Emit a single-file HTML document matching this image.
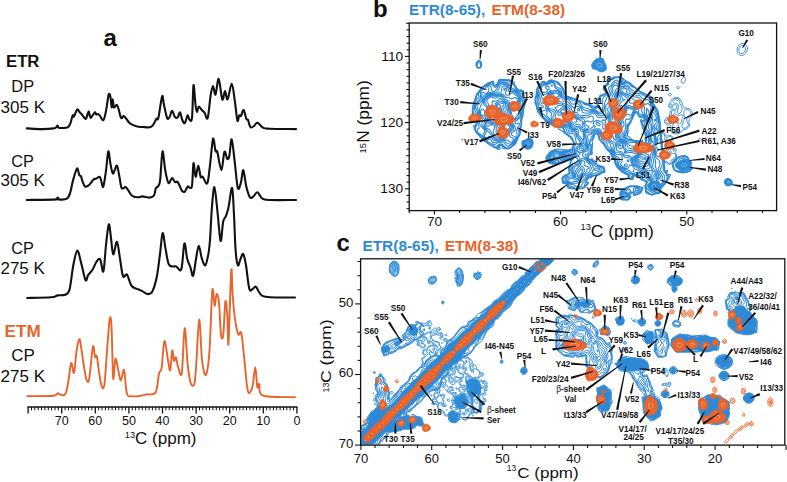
<!DOCTYPE html><html><head><meta charset="utf-8"><style>html,body{margin:0;padding:0;background:#fff;}svg{display:block;}</style></head><body><svg width="787" height="482" viewBox="0 0 787 482" font-family="Liberation Sans, sans-serif"><path d="M26.8,128.4C29.5,128.5 38.3,129.1 42.8,129.1C47.2,129.1 51.3,128.7 53.5,128.4C55.7,128.1 55.3,128 56,127.5C56.7,127 57.1,125.5 57.6,125.5C58.1,125.5 58.1,127.4 58.8,127.8C59.5,128.2 60.5,128.1 62,128C63.5,127.9 66.3,128.1 67.7,127.3C69.1,126.5 69.6,125.4 70.4,123.4C71.2,121.4 72.1,116.6 72.7,115.4C73.3,114.2 73.3,117.5 74,116.5C74.7,115.5 76.2,110.3 77.1,109.5C78,108.7 78.5,111 79.3,111.8C80.1,112.6 80.9,113.3 81.9,114.5C82.9,115.7 84.7,118.7 85.5,118.9C86.3,119.2 86.5,117.3 87,116C87.5,114.7 88.2,111.2 88.7,111.3C89.2,111.4 89.6,115.5 90,116.5C90.4,117.5 90.4,118.2 91.2,117.5C92,116.8 94,112.8 94.8,112.3C95.6,111.8 95.7,114.2 96.2,114.5C96.7,114.8 97.4,113.9 98,114.1C98.6,114.2 98.8,114.4 99.7,115.4C100.6,116.4 102.2,120.9 103.3,120.2C104.3,119.5 105.1,115.2 106,111C106.9,106.8 107.9,97.3 108.6,94.9C109.3,92.5 109.9,94.6 110.4,96.7C110.9,98.8 111.3,107 111.7,107.4C112.1,107.9 112.3,99.4 112.7,99.4C113.1,99.4 113.3,106.5 114,107.4C114.7,108.3 115.9,104.6 116.6,104.7C117.3,104.8 117.7,106.1 118.4,108.3C119.2,110.5 120.2,116.7 121.1,118C122,119.3 122.9,115.8 123.8,115.9C124.7,116.1 125.4,117.7 126.4,118.9C127.4,120.2 128.2,122.1 130,123.4C131.8,124.7 135,126 137.1,126.6C139.2,127.2 140.3,126.9 142.4,127C144.5,127.1 147.8,127.6 149.6,127.3C151.4,127 151.9,126.6 153,125.2C154.1,123.8 155.4,120.2 156.3,118.9C157.2,117.7 157.4,121.5 158.4,117.7C159.4,113.9 161.2,98.4 162.1,96.3C163,94.2 163.2,101.4 164,105C164.8,108.6 166.2,116 167.1,118C168,120 168.8,118.2 169.6,117C170.4,115.8 171.2,110.9 172.1,110.9C173,110.9 174.1,116.2 175.1,117.2C176.1,118.2 177,118 177.8,117.2C178.6,116.4 179.4,111.9 180.1,112.3C180.8,112.7 181.4,118 182.2,119.8C183,121.6 184,123.7 184.9,123C185.8,122.3 186.8,116 187.6,115.4C188.3,114.8 188.7,119.1 189.4,119.5C190.1,119.9 191.3,123.7 192,118C192.7,112.3 192.9,87.2 193.5,85.1C194.1,83 195,101.1 195.6,105.6C196.2,110 196.5,111.6 197,111.8C197.5,112 198,106.8 198.8,106.5C199.6,106.2 200.9,109 201.8,110C202.8,111 203.5,111.4 204.5,112.7C205.5,114 206.7,121 207.7,118C208.7,115 209.8,100.2 210.7,94.9C211.6,89.6 212.2,86 213,86C213.8,86 214.6,95.8 215.5,94.6C216.4,93.4 217.6,78.1 218.7,78.9C219.8,79.7 221.2,97.4 222.3,99.4C223.4,101.4 224.1,91 225,91C225.9,91 226.5,100.6 227.6,99.4C228.7,98.2 230.5,83.8 231.7,83.9C232.9,84 233.8,94.1 234.7,100.2C235.6,106.3 236.7,118.2 237.4,120.7C238.2,123.2 238.6,116.2 239.2,115.4C239.8,114.6 240.3,116.8 241,115.9C241.7,115 242.7,109.5 243.6,110C244.5,110.5 245.6,117.3 246.3,118.9C247,120.5 247.6,119 248,119.8C248.4,120.5 248.6,122.2 249,123.4C249.4,124.7 249.9,126.9 250.7,127.3C251.5,127.7 252.9,126.8 254,126C255.1,125.2 256,122.4 257.5,122.7C259,123 261.1,126.8 263.2,127.8C265.3,128.8 264.5,128.5 270,128.7C275.5,128.9 291.8,129 296.1,129.1" fill="none" stroke="#111" stroke-width="2.1" stroke-linejoin="round" stroke-linecap="round"/>
<path d="M26.8,200C31.7,199.9 51,199.8 56.1,199.4C61.2,199 57,197.6 57.4,197.6C57.8,197.6 56.9,199.2 58.5,199.4C60.1,199.6 64.8,199.9 66.8,198.7C68.8,197.5 69.4,195.1 70.4,192C71.4,188.9 71.9,184.3 73,180.4C74.1,176.5 76,169.4 77,168.5C78,167.6 78.6,173.7 79.3,175C80,176.3 80.4,175.1 81,176.3C81.6,177.5 82.1,180.5 82.8,182.2C83.5,183.9 84.2,186 85.1,186.6C86,187.2 87.2,186.3 88.2,185.7C89.2,185.1 89.9,184 90.8,183C91.7,182 92.6,180.2 93.5,179.5C94.4,178.8 95.2,179 96.2,178.6C97.2,178.2 98.8,176.2 99.7,176.8C100.6,177.4 100.9,180.4 101.5,182C102.1,183.6 102.5,188.5 103.3,186.6C104,184.7 105.2,176.5 106,170.6C106.8,164.7 107.6,152.6 108.3,151.4C109,150.2 109.7,159.8 110.4,163.5C111.1,167.2 112,172.1 112.7,173.3C113.4,174.5 113.8,171.9 114.5,170.6C115.2,169.3 116.2,164.7 117,165.6C117.8,166.5 118.5,172.3 119.3,176C120.1,179.7 120.6,186.2 121.6,188C122.6,189.8 124.4,186.7 125.5,187.1C126.6,187.5 127.1,188.8 128.2,190.2C129.2,191.6 130.3,194.3 131.8,195.5C133.3,196.7 135.3,197.2 137.1,197.3C138.9,197.5 140.3,196.4 142.4,196.4C144.5,196.4 147.7,197.8 149.6,197.6C151.5,197.4 153,197 154,195.5C155,194 155.1,190 155.8,188.4C156.6,186.8 157.8,187.2 158.5,185.7C159.2,184.2 159.5,185.2 160.2,179.5C160.9,173.8 161.7,152.9 162.5,151.4C163.3,149.9 164.3,165.3 165.3,170.6C166.3,175.9 167.4,181.8 168.5,183C169.6,184.2 171,178.2 172.1,178.1C173.2,178 174.2,181.6 175.1,182.2C176,182.8 176.6,181 177.3,181.6C178.1,182.2 178.8,184.1 179.6,185.7C180.4,187.3 181.3,190 182.2,191C183.1,192 184,192.3 184.9,191.6C185.8,190.9 186.8,187.3 187.6,186.6C188.3,185.9 188.7,187.7 189.4,187.5C190.1,187.3 191.3,189.8 192,185.7C192.7,181.6 192.9,164.6 193.5,163.1C194.1,161.6 194.8,176.4 195.6,176.8C196.4,177.2 197.5,165.6 198.3,165.6C199.1,165.6 199.9,174.9 200.6,176.8C201.3,178.7 201.6,175.7 202.7,176.8C203.8,177.9 206,185 207.2,183.4C208.4,181.8 208.8,174.4 209.8,167C210.8,159.6 212.1,141.6 213,138.9C213.9,136.2 214.8,148.8 215.5,151C216.2,153.2 216.3,148.7 217.3,151.9C218.3,155.1 220.2,170.2 221.4,170.2C222.6,170.2 223.4,153.8 224.4,151.9C225.4,150 226.5,158.4 227.3,159C228.1,159.6 228.7,158.8 229.4,155.5C230.1,152.2 230.8,138.4 231.7,139.4C232.6,140.4 233.7,153.6 234.7,161.7C235.7,169.8 236.8,184.6 237.8,188C238.9,191.4 240.1,185.2 241,182.2C241.9,179.2 242.4,169.5 243.3,170.2C244.2,170.9 245.2,182.1 246.3,186.6C247.4,191.1 248.7,195.7 249.9,197.3C251.1,198.9 252.1,197.2 253.4,196.4C254.7,195.6 256,191.9 257.5,192.3C259,192.7 260.2,197.4 262.3,198.7C264.4,200 264.7,199.8 270.3,200C275.9,200.2 291.8,200 296.1,200" fill="none" stroke="#111" stroke-width="2.1" stroke-linejoin="round" stroke-linecap="round"/>
<path d="M27.2,298C31.2,297.9 46,297.7 51.1,297.3C56.2,296.9 55.3,295.8 57.7,295.4C60.1,295 63.3,295.7 65.3,294.7C67.3,293.7 68.3,294.2 69.6,289.3C70.9,284.4 72,271.8 73.3,265.3C74.6,258.8 76,250.9 77.3,250.5C78.6,250.1 79.8,258.2 81.2,263.1C82.6,268 84.3,278.1 85.5,280.1C86.7,282.1 86.9,276.8 88.1,275.1C89.3,273.4 91.1,271.9 92.5,269.7C93.9,267.5 95.1,263.8 96.4,262C97.7,260.2 98.9,257.6 100.1,259.2C101.3,260.8 102.4,273.8 103.4,271.4C104.4,269 105.1,252.8 106,245C106.9,237.2 108,225.6 108.8,224.4C109.6,223.2 110.3,233 111,238C111.7,243 112.2,253.8 113.2,254.4C114.2,255 115.8,241.4 116.9,241.8C118,242.2 118.7,250.9 119.7,256.6C120.7,262.3 121.8,273.2 123,276.2C124.2,279.2 125.5,272.9 126.9,274.5C128.3,276.1 129.8,283.5 131.7,286C133.6,288.5 136.4,288.4 138.2,289.3C140,290.2 141,290.6 142.6,291.4C144.2,292.2 146.4,294.1 148,294.1C149.6,294.1 151,294.2 152.4,291.4C153.8,288.6 155.4,283.5 156.7,277.3C158,271.1 159,261.4 160,254C161,246.6 161.7,234.1 162.6,233.1C163.5,232.1 164.4,242.7 165.4,247.9C166.4,253.1 167.4,261.1 168.7,264.2C170,267.3 171.8,266 173.1,266.4C174.4,266.8 174.9,265.9 176.3,266.4C177.7,266.9 180,273 181.3,269.2C182.7,265.4 183.4,245.2 184.4,243.5C185.4,241.8 186.2,254.8 187.2,258.8C188.2,262.8 189.5,264.7 190.5,267.5C191.5,270.3 192.2,277.2 193.1,275.8C194,274.4 195.1,264 196,259C196.9,254 197.8,245.8 198.8,245.7C199.8,245.6 200.7,255.1 201.8,258.4C202.9,261.7 204.2,266 205.3,265.3C206.4,264.6 207.5,258.6 208.3,254.4C209.1,250.2 209.4,247.6 210,240C210.6,232.4 211.1,217.8 211.8,209C212.5,200.2 213.5,186.6 214.4,187.1C215.3,187.6 216.5,203 217.5,212C218.5,221 219.7,239.3 220.6,240.9C221.5,242.5 222.3,225.6 223.2,221.5C224.1,217.4 225,218.5 225.9,216.2C226.8,213.8 227.5,212.1 228.5,207.4C229.5,202.7 231.2,186.6 232.1,187.9C233,189.2 233.4,204.7 234,215C234.6,225.3 234.9,241.6 235.6,250C236.2,258.4 237.1,263.8 237.9,265.3C238.7,266.8 239.6,260.9 240.5,259C241.4,257.1 242.3,252.9 243.2,254C244.1,255.1 245,259.5 246,265.3C247,271.1 248.2,284.9 249.3,288.8C250.4,292.8 251.4,289.4 252.5,289C253.6,288.6 254.7,286.2 255.8,286.7C256.9,287.2 257.9,290.5 259,292C260.1,293.5 260.5,294.9 262.3,295.8C264.1,296.7 264.6,297 270,297.3C275.4,297.6 290.8,297.5 295,297.5" fill="none" stroke="#111" stroke-width="2.1" stroke-linejoin="round" stroke-linecap="round"/>
<path d="M27.2,396.2C31.5,396.1 48.2,396.3 53.3,395.8C58.4,395.3 56.4,393.4 57.7,393.2C59,393 59.6,394.8 60.9,394.9C62.2,395 64.1,396.1 65.3,394.1C66.5,392.1 67.1,387.9 68.1,382.7C69.1,377.5 70.2,364.7 71.2,363.1C72.2,361.5 73.1,375 74,372.9C74.9,370.8 75.7,356.1 76.6,350.5C77.5,344.9 78.6,339.6 79.4,339.2C80.2,338.8 80.5,343.5 81.2,347.9C81.9,352.2 82.9,360 83.8,365.3C84.7,370.6 85.5,377.2 86.4,379.5C87.3,381.8 88.1,384.2 89.2,378.8C90.3,373.4 91.9,350.4 92.9,346.8C93.9,343.2 94.4,355.4 95.1,357C95.8,358.6 96.1,353.7 96.8,356.2C97.5,358.7 98.2,366.8 99,371.8C99.8,376.8 100.7,384 101.6,386C102.5,388 103.5,391.2 104.5,383.8C105.5,376.4 106.8,352.4 107.7,341.4C108.6,330.4 109.2,320.1 109.9,317.9C110.6,315.7 111,318.2 111.6,328.3C112.1,338.4 112.6,373.3 113.2,378.4C113.8,383.5 114.6,360.2 115.4,358.8C116.2,357.4 117.3,366.1 118.2,369.7C119.1,373.3 119.8,380.5 120.8,380.6C121.8,380.7 123.1,367.9 124.1,370.1C125.1,372.3 125.6,389.2 126.9,393.6C128.2,398 129.4,395.8 131.7,396.2C133.9,396.6 137.9,396.1 140.4,395.8C142.9,395.5 144.4,394.9 146.9,394.3C149.4,393.8 153.6,395.9 155.6,392.5C157.6,389.1 157.9,378.2 158.9,374C159.9,369.8 160.8,373 161.7,367.5C162.6,362 163.3,342.2 164.4,341.1C165.5,340 167.1,356 168.1,360.8C169.1,365.6 169.5,371.8 170.2,370.1C170.9,368.4 171.6,352.2 172.2,350.7C172.8,349.1 173.4,359.7 174,360.8C174.6,361.9 175.3,356.4 176,357.4C176.7,358.4 177,364 178,366.6C179,369.2 180.7,379.4 181.8,373C182.9,366.6 183.7,329.9 184.7,328.3C185.7,326.8 186.6,354.6 187.6,363.7C188.6,372.8 189.4,379.2 190.5,382.6C191.6,386 193.3,387.2 194.3,384.1C195.3,381 195.5,374.4 196.3,363.7C197.1,352.9 198.2,320.1 199.2,319.6C200.2,319.1 201,351.6 202.1,360.8C203.2,370 204.7,376.2 205.9,374.8C207.1,373.4 208.3,366.1 209.4,352.1C210.5,338.1 211.4,298.3 212.3,290.6C213.2,282.9 213.9,305.1 214.6,305.7C215.3,306.3 215.9,294.5 216.6,294C217.3,293.5 218.3,296 219,302.8C219.7,309.6 220.3,329.4 221,334.7C221.7,340 222.6,340.3 223.3,334.7C224,329.1 224.7,304.2 225.4,301.3C226.1,298.4 226.9,310.3 227.4,317.3C227.9,324.3 227.9,351.1 228.5,343.4C229.1,335.6 230.5,279 231.2,270.8C231.9,262.6 232.1,287.2 232.6,294C233.1,300.8 233.5,306.2 234.1,311.5C234.7,316.8 235.4,322.1 236.1,326C236.8,329.9 237.5,333.5 238.4,334.7C239.3,335.9 240.3,329.4 241.3,333.3C242.3,337.2 243.3,349.8 244.2,358C245.1,366.2 245.9,376.8 246.6,382.6C247.3,388.4 247.6,392.1 248.6,392.8C249.6,393.5 251.3,391.3 252.4,387C253.5,382.7 254.5,367.2 255.3,367.2C256.1,367.2 256.6,384.2 257.3,387C258,389.8 258.3,382.7 259.3,384.1C260.3,385.6 257.2,393.5 263.1,395.7C269.1,397.9 289.7,396.9 295,397.2" fill="none" stroke="#e8642a" stroke-width="1.9" stroke-linejoin="round" stroke-linecap="round"/>
<line x1="27.5" y1="407" x2="297.5" y2="407" stroke="#111" stroke-width="1.6"/>
<line x1="296.9" y1="407" x2="296.9" y2="413.5" stroke="#111" stroke-width="1.3"/>
<line x1="293.5" y1="407" x2="293.5" y2="410.3" stroke="#111" stroke-width="1.0"/>
<line x1="290.2" y1="407" x2="290.2" y2="410.3" stroke="#111" stroke-width="1.0"/>
<line x1="286.8" y1="407" x2="286.8" y2="410.3" stroke="#111" stroke-width="1.0"/>
<line x1="283.5" y1="407" x2="283.5" y2="410.3" stroke="#111" stroke-width="1.0"/>
<line x1="280.1" y1="407" x2="280.1" y2="410.3" stroke="#111" stroke-width="1.0"/>
<line x1="276.7" y1="407" x2="276.7" y2="410.3" stroke="#111" stroke-width="1.0"/>
<line x1="273.4" y1="407" x2="273.4" y2="410.3" stroke="#111" stroke-width="1.0"/>
<line x1="270" y1="407" x2="270" y2="410.3" stroke="#111" stroke-width="1.0"/>
<line x1="266.7" y1="407" x2="266.7" y2="410.3" stroke="#111" stroke-width="1.0"/>
<line x1="263.3" y1="407" x2="263.3" y2="413.5" stroke="#111" stroke-width="1.3"/>
<line x1="259.9" y1="407" x2="259.9" y2="410.3" stroke="#111" stroke-width="1.0"/>
<line x1="256.6" y1="407" x2="256.6" y2="410.3" stroke="#111" stroke-width="1.0"/>
<line x1="253.2" y1="407" x2="253.2" y2="410.3" stroke="#111" stroke-width="1.0"/>
<line x1="249.9" y1="407" x2="249.9" y2="410.3" stroke="#111" stroke-width="1.0"/>
<line x1="246.5" y1="407" x2="246.5" y2="410.3" stroke="#111" stroke-width="1.0"/>
<line x1="243.1" y1="407" x2="243.1" y2="410.3" stroke="#111" stroke-width="1.0"/>
<line x1="239.8" y1="407" x2="239.8" y2="410.3" stroke="#111" stroke-width="1.0"/>
<line x1="236.4" y1="407" x2="236.4" y2="410.3" stroke="#111" stroke-width="1.0"/>
<line x1="233.1" y1="407" x2="233.1" y2="410.3" stroke="#111" stroke-width="1.0"/>
<line x1="229.7" y1="407" x2="229.7" y2="413.5" stroke="#111" stroke-width="1.3"/>
<line x1="226.3" y1="407" x2="226.3" y2="410.3" stroke="#111" stroke-width="1.0"/>
<line x1="223" y1="407" x2="223" y2="410.3" stroke="#111" stroke-width="1.0"/>
<line x1="219.6" y1="407" x2="219.6" y2="410.3" stroke="#111" stroke-width="1.0"/>
<line x1="216.3" y1="407" x2="216.3" y2="410.3" stroke="#111" stroke-width="1.0"/>
<line x1="212.9" y1="407" x2="212.9" y2="410.3" stroke="#111" stroke-width="1.0"/>
<line x1="209.5" y1="407" x2="209.5" y2="410.3" stroke="#111" stroke-width="1.0"/>
<line x1="206.2" y1="407" x2="206.2" y2="410.3" stroke="#111" stroke-width="1.0"/>
<line x1="202.8" y1="407" x2="202.8" y2="410.3" stroke="#111" stroke-width="1.0"/>
<line x1="199.5" y1="407" x2="199.5" y2="410.3" stroke="#111" stroke-width="1.0"/>
<line x1="196.1" y1="407" x2="196.1" y2="413.5" stroke="#111" stroke-width="1.3"/>
<line x1="192.7" y1="407" x2="192.7" y2="410.3" stroke="#111" stroke-width="1.0"/>
<line x1="189.4" y1="407" x2="189.4" y2="410.3" stroke="#111" stroke-width="1.0"/>
<line x1="186" y1="407" x2="186" y2="410.3" stroke="#111" stroke-width="1.0"/>
<line x1="182.7" y1="407" x2="182.7" y2="410.3" stroke="#111" stroke-width="1.0"/>
<line x1="179.3" y1="407" x2="179.3" y2="410.3" stroke="#111" stroke-width="1.0"/>
<line x1="175.9" y1="407" x2="175.9" y2="410.3" stroke="#111" stroke-width="1.0"/>
<line x1="172.6" y1="407" x2="172.6" y2="410.3" stroke="#111" stroke-width="1.0"/>
<line x1="169.2" y1="407" x2="169.2" y2="410.3" stroke="#111" stroke-width="1.0"/>
<line x1="165.9" y1="407" x2="165.9" y2="410.3" stroke="#111" stroke-width="1.0"/>
<line x1="162.5" y1="407" x2="162.5" y2="413.5" stroke="#111" stroke-width="1.3"/>
<line x1="159.1" y1="407" x2="159.1" y2="410.3" stroke="#111" stroke-width="1.0"/>
<line x1="155.8" y1="407" x2="155.8" y2="410.3" stroke="#111" stroke-width="1.0"/>
<line x1="152.4" y1="407" x2="152.4" y2="410.3" stroke="#111" stroke-width="1.0"/>
<line x1="149.1" y1="407" x2="149.1" y2="410.3" stroke="#111" stroke-width="1.0"/>
<line x1="145.7" y1="407" x2="145.7" y2="410.3" stroke="#111" stroke-width="1.0"/>
<line x1="142.3" y1="407" x2="142.3" y2="410.3" stroke="#111" stroke-width="1.0"/>
<line x1="139" y1="407" x2="139" y2="410.3" stroke="#111" stroke-width="1.0"/>
<line x1="135.6" y1="407" x2="135.6" y2="410.3" stroke="#111" stroke-width="1.0"/>
<line x1="132.3" y1="407" x2="132.3" y2="410.3" stroke="#111" stroke-width="1.0"/>
<line x1="128.9" y1="407" x2="128.9" y2="413.5" stroke="#111" stroke-width="1.3"/>
<line x1="125.5" y1="407" x2="125.5" y2="410.3" stroke="#111" stroke-width="1.0"/>
<line x1="122.2" y1="407" x2="122.2" y2="410.3" stroke="#111" stroke-width="1.0"/>
<line x1="118.8" y1="407" x2="118.8" y2="410.3" stroke="#111" stroke-width="1.0"/>
<line x1="115.5" y1="407" x2="115.5" y2="410.3" stroke="#111" stroke-width="1.0"/>
<line x1="112.1" y1="407" x2="112.1" y2="410.3" stroke="#111" stroke-width="1.0"/>
<line x1="108.7" y1="407" x2="108.7" y2="410.3" stroke="#111" stroke-width="1.0"/>
<line x1="105.4" y1="407" x2="105.4" y2="410.3" stroke="#111" stroke-width="1.0"/>
<line x1="102" y1="407" x2="102" y2="410.3" stroke="#111" stroke-width="1.0"/>
<line x1="98.7" y1="407" x2="98.7" y2="410.3" stroke="#111" stroke-width="1.0"/>
<line x1="95.3" y1="407" x2="95.3" y2="413.5" stroke="#111" stroke-width="1.3"/>
<line x1="91.9" y1="407" x2="91.9" y2="410.3" stroke="#111" stroke-width="1.0"/>
<line x1="88.6" y1="407" x2="88.6" y2="410.3" stroke="#111" stroke-width="1.0"/>
<line x1="85.2" y1="407" x2="85.2" y2="410.3" stroke="#111" stroke-width="1.0"/>
<line x1="81.9" y1="407" x2="81.9" y2="410.3" stroke="#111" stroke-width="1.0"/>
<line x1="78.5" y1="407" x2="78.5" y2="410.3" stroke="#111" stroke-width="1.0"/>
<line x1="75.1" y1="407" x2="75.1" y2="410.3" stroke="#111" stroke-width="1.0"/>
<line x1="71.8" y1="407" x2="71.8" y2="410.3" stroke="#111" stroke-width="1.0"/>
<line x1="68.4" y1="407" x2="68.4" y2="410.3" stroke="#111" stroke-width="1.0"/>
<line x1="65.1" y1="407" x2="65.1" y2="410.3" stroke="#111" stroke-width="1.0"/>
<line x1="61.7" y1="407" x2="61.7" y2="413.5" stroke="#111" stroke-width="1.3"/>
<line x1="58.3" y1="407" x2="58.3" y2="410.3" stroke="#111" stroke-width="1.0"/>
<line x1="55" y1="407" x2="55" y2="410.3" stroke="#111" stroke-width="1.0"/>
<line x1="51.6" y1="407" x2="51.6" y2="410.3" stroke="#111" stroke-width="1.0"/>
<line x1="48.3" y1="407" x2="48.3" y2="410.3" stroke="#111" stroke-width="1.0"/>
<line x1="44.9" y1="407" x2="44.9" y2="410.3" stroke="#111" stroke-width="1.0"/>
<line x1="41.5" y1="407" x2="41.5" y2="410.3" stroke="#111" stroke-width="1.0"/>
<line x1="38.2" y1="407" x2="38.2" y2="410.3" stroke="#111" stroke-width="1.0"/>
<line x1="34.8" y1="407" x2="34.8" y2="410.3" stroke="#111" stroke-width="1.0"/>
<line x1="31.5" y1="407" x2="31.5" y2="410.3" stroke="#111" stroke-width="1.0"/>
<line x1="28.1" y1="407" x2="28.1" y2="413.5" stroke="#111" stroke-width="1.3"/>
<text x="296.9" y="425.3" font-size="12.5" fill="#111" text-anchor="middle">0</text>
<text x="263.3" y="425.3" font-size="12.5" fill="#111" text-anchor="middle">10</text>
<text x="229.7" y="425.3" font-size="12.5" fill="#111" text-anchor="middle">20</text>
<text x="196.1" y="425.3" font-size="12.5" fill="#111" text-anchor="middle">30</text>
<text x="162.5" y="425.3" font-size="12.5" fill="#111" text-anchor="middle">40</text>
<text x="128.9" y="425.3" font-size="12.5" fill="#111" text-anchor="middle">50</text>
<text x="95.3" y="425.3" font-size="12.5" fill="#111" text-anchor="middle">60</text>
<text x="61.7" y="425.3" font-size="12.5" fill="#111" text-anchor="middle">70</text>
<text x="124.8" y="438.3" font-size="9.2" fill="#111">13</text>
<text x="135" y="444.3" font-size="17" fill="#111" textLength="61.5" lengthAdjust="spacingAndGlyphs">C (ppm)</text>
<text x="103.5" y="46.2" font-size="24" font-weight="bold" fill="#111">a</text>
<text x="6" y="67" font-size="16" font-weight="bold" fill="#111" textLength="33.4" lengthAdjust="spacingAndGlyphs">ETR</text>
<text x="11.3" y="91.9" font-size="16" fill="#111" textLength="22.8" lengthAdjust="spacingAndGlyphs">DP</text>
<text x="0.5" y="113" font-size="16" fill="#111" textLength="44.5" lengthAdjust="spacingAndGlyphs">305 K</text>
<text x="11.3" y="166.7" font-size="16" fill="#111" textLength="22.6" lengthAdjust="spacingAndGlyphs">CP</text>
<text x="0.5" y="186.3" font-size="16" fill="#111" textLength="44.3" lengthAdjust="spacingAndGlyphs">305 K</text>
<text x="11.3" y="253.6" font-size="16" fill="#111" textLength="22.6" lengthAdjust="spacingAndGlyphs">CP</text>
<text x="0.5" y="273.5" font-size="16" fill="#111" textLength="44.3" lengthAdjust="spacingAndGlyphs">275 K</text>
<text x="4.6" y="337.4" font-size="16" font-weight="bold" fill="#e8642a" textLength="36.1" lengthAdjust="spacingAndGlyphs">ETM</text>
<text x="11.3" y="360.6" font-size="16" fill="#111" textLength="23.6" lengthAdjust="spacingAndGlyphs">CP</text>
<text x="0.5" y="382.2" font-size="16" fill="#111" textLength="44.6" lengthAdjust="spacingAndGlyphs">275 K</text>
<path d="M480,68.2L478,68.2L477.3,67.8L476,65.7L476.1,63L477.3,61.3L477.7,61.2L478.7,60.5L479.3,60.5L479.7,60.8L480,60.8L481.1,62L481.6,63.3L481.7,65.7L481.4,66.3L480,68.2Z M652.7,195L651.7,195.1L651.3,194.8L650.7,194.8L650.3,194.5L649.7,194.5L649.3,194.1L648.7,194.1L648.3,193.7L647.7,193.7L647.3,193.3L646.7,193.2L646,192.7L646,192L645.6,191.7L645.5,189.7L645.2,189.3L645.2,187.3L644.8,187L644.8,185.7L645.8,184L645.9,183.3L646.6,182.3L646.6,182L646,181.5L645.7,181.5L645.3,181.1L644.7,181.1L644.3,180.8L643.7,180.8L642.7,180.1L642,180.1L641.7,179.7L641,179.6L640.2,179L639,176.8L637.7,176.3L635.3,176.1L633.8,176.3L633.2,177L633.4,178.7L633,179.3L630.7,179.5L630.3,179.1L629.7,179.1L629.3,178.8L629,178.8L627.9,177.7L628.1,176L628.4,175.7L627.8,175L627,174.8L621.2,171.7L620.5,170.7L617.9,168.3L617.9,168L616.8,167L616.8,166.7L615.8,165.3L614.9,163.3L614.3,160.2L611.9,156.7L610,152.2L607.8,150.7L605.5,147.7L605.6,147.3L604.6,146.3L604.6,146L603.4,144L602,143L602,142.7L599.5,140L599.5,139.7L598.6,138.3L598.7,137.7L597.9,135L597.4,133.7L597,133.5L596.1,133.7L594.7,135L593.7,138L592.8,140L592.7,141L592.2,141.7L592.7,144.7L592.3,145L592.4,148L592.1,148.3L592,151.7L592.4,152L592.1,154.3L591.7,154.7L590.7,154.4L589.7,154.5L588.3,156L588.2,157.3L588.7,158.3L590,159.4L590.3,159.5L592,158.7L592.7,159L592.8,159.7L593.3,160.3L594.7,160.9L596.1,162L596.4,163.7L597.3,164.7L604,167L604.3,168.3L604.7,168.7L604.7,170.7L605.1,171L605,172L604.7,172.3L601.3,173.1L599.7,174.6L598.3,175.3L596.7,175.4L596.3,175.7L594.3,175.7L594,176L592.9,176L591.3,177.5L589,178L588.3,178.4L587.4,179.3L586.6,181.3L587,181.9L588.6,182.7L588.6,183.3L584,188.2L582.7,188.2L582.3,188.5L579.7,188.5L579.3,188.9L576.7,188.8L576.3,189.2L574,189.1L573.7,188.7L571.7,188.7L571.3,188.4L569.3,188.4L569,188.1L568,188L567.3,187L567.2,185L566.3,184L565,183.3L563.3,183.7L562.6,183L562.6,181.3L562.2,181L562.2,179.3L561.9,179L561.9,178L562.3,177.3L564.1,175.7L565.3,174.9L568,173.9L568.9,173L569.1,172.3L568.6,169.7L568.5,168L569.6,165.3L569.9,165L569.9,164L570.2,163.7L570.2,161.7L570.6,161.3L570.7,159.6L570,159.4L568.7,160.1L566.7,160.5L565,161.7L563.8,162.3L563,162.4L562.7,162.8L561.3,162.8L561,163.1L560,163.1L559.7,163.5L558.3,163.4L558,163.7L557,163.7L556.7,164.1L555,164L554.7,163.6L552.7,163.7L552.3,163.3L550.7,163.3L550,162.9L549,162.8L548.3,161.6L547.6,161L547.2,160L546.6,159.3L546,158L546.3,157.7L546.4,157L548.3,154.8L549.6,152.3L550,151.9L552,150.9L552.7,151L553,150.7L554.7,150.4L557,150.8L559.3,151.8L561,151.8L562.3,151.6L565,150.4L569,150L569.7,149.6L571,149.4L572.3,148.3L572.5,146.7L572.8,146.3L572.8,145.7L573.2,145.3L573.2,144.7L573.5,144.3L573.5,143.7L573.8,143L571.7,139.3L569.7,136.7L569.3,136.7L567.3,135.1L567,135.1L565.3,133.7L565,133.7L564.3,133L564,133L563.3,132L562.3,131.1L558.9,129.3L558.1,128L558.1,127.3L558.3,127.1L561,127.9L561.2,127.7L560,126.5L558.3,126.1L557,126.8L554.3,126.6L551.7,125.1L548.3,122.4L545.7,121.3L544.6,120.3L543.3,118.5L542,117.3L542,117L540.9,116L540.9,115.7L539.5,114.3L539.5,114L537.8,112L537.5,111.3L537.5,110.7L537.2,110.3L537.2,109.7L536.9,109.3L536.9,108.7L536.6,108.3L536.7,107.7L536.2,105.7L535.3,103.7L535,103.3L535,98.3L536.1,94.7L536.3,92.7L536.3,90.7L536.6,90.3L536.5,89.7L536.8,89.3L536.8,88.7L537.5,87.3L538.5,86.3L538.5,86L539.2,85.3L539.2,85L540.8,83L541,82.5L543.3,81.3L544.3,81.5L545.3,82.2L546.7,82.2L547.6,81.7L549.3,80.2L551.3,79.9L551.7,79.8L552,80.2L553,80.1L553.3,80.5L555,80.8L555.3,81.2L556.3,81.2L556.7,81.6L557.3,81.6L558.8,82.7L558.8,83L560.5,84.7L560.5,85L563.1,88L563.7,89.3L563.7,90L564.7,92.6L566.1,95.3L567,96.2L568.7,96.5L569,96.8L570.7,97.2L571.7,97.8L573.3,98.2L573.7,98.5L574.3,98.5L574.7,98.8L575.3,98.8L576.3,99.5L577,99.5L578,100.2L578.7,100.2L579.7,100.8L580.3,100.8L581.3,101.5L582,101.5L583,102.2L583.7,102.2L584.7,102.9L585.3,103L585.7,103.3L586.7,103.3L587,103.7L587.7,103.6L588,104L588.7,104L589,104.3L590,104.3L590.3,104.7L591,104.7L591.2,105L593,105.7L593.3,106L595.7,106.4L596.3,107L596.9,106.7L596.9,105L597.3,104.7L597.3,103L597.6,102.7L597.6,101L597.9,100.7L597.9,99.7L599.6,96.7L599.6,96L600.8,95L603.7,94.3L605.2,93L605.5,92.3L605.3,91L604,90.1L603.5,89.3L603.5,88.3L604.3,86.7L604.9,86L605,85.7L607,83.7L607.6,81.3L608.8,79.7L611,78.5L611.3,78.5L612,77.9L613,77.6L614,76.9L621,76.9L622.3,78L622.7,78L623.2,78.7L626.3,81.1L628.7,82.3L629,82.3L629.7,82.9L630,82.9L631,84L631.3,84L632.9,85.7L633.3,85.7L634.7,86.9L635,86.9L636.7,88.5L637,88.5L640,91.2L651.8,97L652.5,97.7L653.4,99.7L653.5,100.7L653.1,102.3L653.3,103.3L657.5,109.7L657.7,110.7L658.1,111L658.1,112.3L658.5,112.7L658.5,114.3L658.8,114.7L658.8,116L659.2,116.3L659.2,117.7L659.5,118L659.5,119.3L659.9,119.7L659.9,121L660.2,121.3L660.1,123.7L660.4,124L660.3,127.7L660.7,128L660.8,131.7L661.2,132L661.2,135.7L661.5,136L661.3,139L661.7,139.5L661.8,142.3L662.1,142.7L662.1,145.3L662.4,145.7L662.4,148.3L662.8,148.7L662.7,151.7L663,152L663,154.3L663.4,154.7L663.5,157L663.9,157.3L663.9,159.7L664.2,160L664.1,162L664.5,162.3L664.3,164.7L664.6,165.3L664.7,170.7L665,171L665.3,170.7L666,170.7L666.7,170.5L667.7,170.8L666.7,173L666.9,174L667.3,174.6L668,174.8L669.7,174.4L670.3,174.6L670.6,175L668.7,178.3L668.7,178.7L667.5,180.3L667.5,180.7L666.8,181.3L666.8,181.7L666.1,182.3L666.1,182.7L665.4,183.3L664.6,184.7L661.3,188.1L661,188.8L660.9,191L660.1,193L659.3,193.4L655.7,193.7L653,194.7L652.7,195Z M499.3,149.3L498.7,149.5L497,148.9L495.7,148L493.3,147L492.7,146.4L491,145.8L488.3,143.9L488,143.8L487,142.8L486.7,142.8L485,141.5L484.7,141.5L476.1,132.7L474.3,128.7L473.6,126.3L473.7,125.7L475.7,125L476,124L476.1,122L475.9,120.7L475.3,119.6L474.7,118.6L473.3,118L472.8,117.3L472.6,116.3L472.2,113.3L472.4,112.7L472.2,110.3L472.6,110L472.5,107.7L472.8,107.3L472.9,105L473.2,104.7L473.4,103.3L474.7,100.3L475.1,98.3L475.3,98L475.3,97.3L475.7,97L475.6,96.3L476.3,95.3L476.3,94.7L476.6,94.3L476.6,94L478.3,92.2L478.5,91.7L479.6,90.3L479.6,90L480.5,89L480.5,88.7L482,87.2L482.3,87.2L483.3,86.2L483.7,86.2L486.3,83.9L486.7,83.9L487.3,83.3L488.7,82.6L489.3,82.6L490.3,82L491,82L491.3,81.6L492,81.7L492.3,81.4L493.3,81.2L493.8,81.7L493.6,84L494.7,85.1L495.7,85.2L496.3,84.7L497.8,82.7L498.3,80.5L499.3,79.6L500.3,79.5L501,79.2L502,79.2L503,79.5L505.7,79.4L506.3,79.7L509.3,79.6L509.7,80L511,80.3L511.3,81L512.3,82.2L513.4,83L513.4,83.3L515.4,85.7L515.4,86L516.3,87L516.7,88.1L518,89.3L518.7,89.7L521.3,90L523.5,91L523.4,92L523.8,92.3L523.7,94.7L524,95L524,97L524.4,97.3L524.4,99.3L524.7,99.7L524.8,102L525.1,102.3L525.1,104L524.8,104.3L524.7,106L524.3,106.3L524.3,107.3L523.9,108L523.9,109.3L523.5,110L523.6,111.3L523.3,112L523.4,113.3L523.1,113.7L523.1,115.3L522.8,115.7L522.8,117L522.4,117.3L522.3,118.7L521.9,119.3L521.6,121.3L521.8,123L521.5,123.3L521.5,125.7L521.1,126L521,127.7L520.6,128.3L520.5,130.3L520.2,131L520.4,133.3L520,133.7L520,134.7L519,136.3L515.5,144L514.7,144.8L514.3,144.8L513.3,145.8L513,145.8L511.7,147.1L511.3,147.1L509.3,148.7L507.7,148.7L507.3,149L502.8,148.3L502.3,147.7L502.7,146.7L501.3,145.5L500.3,145.2L499.3,146.7L500.3,148.3L499.3,149.3Z M623.4,83.3L623.7,82.3L623,81.7L622.7,81.6L622,82.5L622,83.2L622.7,83.6L623.4,83.3Z M644,143.3L645.2,142.3L645.7,141L645.7,140.4L645.2,139.7L644.9,138.7L645.5,136.7L644.9,134L644.1,132.7L644,131.7L643.6,131.3L643.6,130.3L643,129L642.6,126.7L641.9,125.3L641.9,124.7L641.5,124.3L641.5,123.7L641.2,123.3L641.2,122.7L640.9,122.3L640.9,121.7L640.6,121.3L640.7,120.7L640.5,120.3L640.7,119.6L641,119.4L643.7,120.9L644.3,120.3L644.3,119.7L643.5,118L642.3,116.8L641.7,116.8L640.3,117.6L639,116.7L636,111.9L635.5,112.3L630.6,122.7L628.7,126L628.2,127.7L627.9,133L627.6,133.7L627.3,135.3L630,138L633,140.2L634.3,140.2L634.7,140.5L637,140.5L637.3,140.8L639.7,140.8L640,141.2L641,141.2L642.3,140.5L642.8,141L643,143.3L644,143.3Z M626.1,137L626.3,135.7L625,134.8L624.3,136L624.4,136.7L625.7,137.2L626.1,137Z M528.7,149.1L527.3,149.2L527,148.8L526.3,148.8L523.7,147.3L523.1,146.7L522,145L522,142L522.1,141.7L523,140.9L525.9,140L528,138.5L530,138.3L531.3,138.9L532.4,140L532.9,142L532.9,144.3L532.5,145L530.7,146.1L530.4,146.7L530.2,148.3L530,148.6L529,148.8L528.7,149.1Z M685.3,172.7L683.7,172.7L683,172.9L681.3,172.8L680.7,172.4L679.3,172.5L678,172L677.3,172L676,171.4L675.3,170.8L675,170.8L674.2,170L674.2,169.7L673.5,169L673.2,168L672.9,167.7L672.9,167L672.5,166.7L672.5,165.3L672.2,165L672.2,163.7L673.6,161.3L673.6,161L675.3,159L675.7,159L677,157.6L679,156.6L679.7,156.6L680,156.2L681,156.2L681.3,155.9L683.3,155.9L683.7,155.6L685.7,155.7L687.3,156.5L688.6,158L688.6,159.7L690.3,162.7L690.7,164L690.7,166L692.2,167.3L692.3,168.7L691,170.1L690.7,170.1L689.7,171.2L687.7,172.1L687,172.1L686.7,172.4L685.7,172.4L685.3,172.7Z M571.4,158.3L572.3,158L572.5,157.3L572,156.2L571,156L570,156.5L569.6,157.3L569.9,158L570.3,158.4L571.4,158.3Z M729.3,185.8L727.3,185.8L726.7,185.5L726,184.8L725.6,184.7L724.6,183.3L724.4,181.7L725,180.3L726.3,178.9L727,178.6L729.7,178.9L731,179.9L732.1,181.3L732.3,183.3L732.1,184L731.3,184.8L729.3,185.8Z M628,200.1L622.7,200L620.2,199.3L619.8,198L619.9,197L621.6,194.7L621.3,194.1L620.3,193.9L620,193.6L620,192.3L621.9,189.3L626,187.7L627,187L628.7,186.6L629.7,185.9L637.3,185.8L637.7,186.1L638.3,186.1L638.7,186.5L639.3,186.5L639.7,186.8L640.3,186.8L640.7,187.2L641.3,187.2L641.7,187.6L642.3,187.6L643.1,188L643.1,188.3L642.4,189.3L642.4,190L641.7,191L641.7,191.7L641.3,192.3L639.7,193.7L638,194.2L637,194.8L636.3,194.8L636,195.1L635.3,195.1L635,195.4L634,195.4L633.5,194.7L633.5,193L632.3,192.7L631.3,193.2L630.3,194L629.7,195L629.8,195.3L630.9,196.3L630.8,197.3L629,199.4L628.7,199.4L628,200.1Z M479.7,67.9L478.3,67.9L477.4,67.3L476.6,65.3L476.8,63.7L477.6,62L479,60.8L480,61.4L480.7,62.3L481,65.3L480.8,66.3L479.7,67.9Z M652,194.7L650,194.1L647,192.5L646.2,191.3L645.9,189.7L645.5,189L645.4,187.3L645.1,186.7L645.1,186L647,182.3L646.9,181.7L646.3,181.1L644,180.3L641.7,179L640.8,178L640.6,176.7L639.3,175.9L635.7,175.7L633.7,175.9L632.4,176.7L632.6,178.3L632.4,178.7L631,179.1L630,178.8L629,178.1L628.4,177.3L629.1,175.7L628.9,175L628.3,174.5L625.7,173.3L623.7,172.1L621.3,170L618.7,168.3L617.3,166.9L616.4,165.7L615.6,163.7L615.4,161L615.1,160L612.3,156.3L610.3,151.7L609.3,150.7L607.7,149.6L606.7,148.4L605.3,146.3L604,143.5L601.5,141.7L600,140L599.3,138.7L598.5,134.7L597.8,133.3L597,132.9L595.7,133.1L593.9,134.7L592.6,138.3L591.3,140.4L590,141.9L590,143.9L591.3,145L591.9,146.3L591.9,147.7L591.4,148.3L591.3,150L591.2,151.7L591.5,152.7L591.1,153.3L589.7,154.1L588.3,155.3L587.9,156L587.8,157L588.4,158.3L589.3,159.3L590.3,159.9L591.7,160L593.3,161.2L594.3,161.9L595.6,164L596.3,164.6L601.7,166.6L602.9,167.3L604.1,169L604.3,171.6L601,172.4L598,174.7L596,175.1L592.7,175.5L591.1,176.7L588.3,178.1L587.1,179.3L586.3,181.3L586.3,182.2L587.4,183.3L587.2,184L585.3,185.7L583.7,187.8L582.7,187.9L582,188.2L579.7,188.3L579,188.6L576.7,188.5L576,188.8L574.3,188.6L573.7,188.2L572.3,188L571.7,187.6L569.7,187.8L568.4,187L568.1,185.3L567.1,184L565.7,183L563.5,182.3L562.7,180.7L562.5,178.3L563,177.6L564.9,176L568.2,174.3L569.3,173.3L569.5,171.7L569.3,168.3L570.2,165.3L570.6,162L571.5,159.7L573,158L573,157.3L572.5,156L571.7,155.5L570.3,155.8L569.2,157L568.7,158.3L568.1,159L562.3,162.4L559.7,162.8L559.3,163L558,162.8L557.7,163L556.7,162.9L556,163.2L555,162.6L553.3,162.8L551,162.5L549.7,162.1L547.7,160L547,159L546.8,158L547.2,157L548.7,155.1L550,152.6L552.3,151.4L555,151.1L556.3,151.3L558.7,152.1L561,152.2L562.3,152L565.7,151L569.7,150.9L571.3,150.6L572.7,148.8L572.9,147L574.1,143L572.7,139.9L570.7,136.9L565.3,133.2L564.4,132.3L563.5,129L560.3,125.6L559,125.3L555,125.8L554,125.6L552.1,124.7L549,121.9L546.1,120.7L545.3,120L544,118L541.6,116L538.2,111.7L537.2,109L536.8,105.3L535.4,102.7L535.3,99.3L536.6,94L537.1,89L537.9,87.3L538.7,86.6L541.2,82.7L543,82L545.3,82.7L546.3,82.6L547.7,82.1L549.7,80.7L551.3,80.2L553.7,80.7L557,82L558.1,82.7L558.4,83.3L559.9,84.7L560.2,85.3L562.7,88.2L563.3,89.7L563.2,90.3L564,92.7L565.8,95.7L566.7,96.5L569.3,97.1L572.7,98.5L575,99.1L581.7,101.8L584.3,103.5L589.7,105.1L591.1,106L592,107.1L592.7,107.5L595,107.3L596.3,107.6L597,107.4L597.3,107L597.4,105.3L598.1,102.7L598,101.3L598.2,101L598.3,100L600.2,96.3L601.7,95.4L604,94.5L605.7,93.3L606.1,92.7L606.2,92L605.9,91L604.7,89.5L604.3,88.7L605,86.7L607.8,84L608,81.7L608.5,80.3L609,79.7L612.7,78.6L614.3,77.3L618,77.2L620.7,77.5L622.3,78.9L623.1,80L623,80.4L621.7,80.9L621.2,82L621.1,83L621.7,84L623,84.4L623.9,84L624.7,83L624.5,81.7L624.7,81.3L628.7,82.9L629.9,83.7L632.3,86.2L635,87.4L639.7,91.4L651.7,97.4L652.6,99.3L652.7,103L654.8,106.3L656,109L657.6,111.3L659.9,121.7L659.7,123.7L659.9,124.3L659.4,126.7L659.6,127.7L660.2,128.7L660.5,131.7L660.9,132.3L660.8,135.7L661.1,136.3L660.6,139L661.1,140L661.3,142.4L661.7,143L661.7,145.3L662,146L662,148.3L662.3,149L662.2,151.7L662.4,153.7L662.7,154.7L663,155L663.2,157L663.6,157.7L663.6,159.7L663.9,160.3L663.8,162L664.1,162.7L663.8,168L664.2,170.7L664.7,171.4L666,171.7L666.2,172L666,173.3L667.3,175.6L668.3,175.6L668.9,176L667.6,179.3L666.3,181.5L663.3,185.3L660.2,188.3L659.9,189L660.1,191.3L659.7,192.4L659,192.9L656.7,192.8L655.7,193L652,194.7Z M507,148.3L504.7,147.6L503.9,147L503.6,146.3L501.6,144.7L500.7,144.3L499.3,145L498.5,146L498.3,146.3L498.7,147.7L498.3,148.3L496.7,147.9L496,147.5L491.3,145.5L488,143.4L487.3,142.7L484.7,140.9L480.7,137L480.4,136.3L476.3,132.7L475,129L474.9,127.3L475.3,126.3L476,125.7L476.3,124.7L476.3,121.3L475.7,119.5L473.7,116.7L473,113.7L472.7,110.7L472.9,110L472.9,108L473.2,107.3L473.2,105.3L474,103.3L475.4,100.7L477.1,95L481.1,88.7L482,87.7L484,86.5L486.6,84.3L487.7,83.6L490.7,82.5L491.7,82.2L492.7,82.5L493.2,84L494,85L495,85.6L496,85.5L499.7,80.8L501.7,80L506.3,80.4L508.7,80.2L510.3,80.8L511.7,82.7L512.7,83.3L514,84.6L515,86L516.3,88.7L517.7,90L519,90.7L521.7,90.8L523,91.3L523,92.3L523.2,92.7L523,94.7L523.5,97L523.8,97.7L523.9,99.3L524.3,100L524.4,102L524.7,102.7L524.7,103.7L524.3,104.3L524.1,105.7L523.6,107L522.8,108L522.6,109.3L522.8,111L522.8,115L522.5,115.7L522.4,116.7L521.2,119.7L521,121L521.3,122.7L521.1,123.3L521.2,125.3L520.8,126L520.5,127.3L519.9,128.3L519.4,130.3L519.8,132.7L519.5,134.3L514.9,144L509,148.2L507,148.3Z M643.8,144L645.3,142.9L646.1,141.3L646.2,140.3L645.9,139L646.2,137L646,134.7L644,131L643,126.4L641.9,124L641.3,122L641.7,120.8L643.7,121.4L644.3,121.2L644.7,120.7L644.7,119.7L643.7,117.8L642.3,116.3L641.7,116.2L640,116.4L639,115.8L637.1,113.3L636.7,112.1L636,111.5L635.3,112L634.5,114L632.6,117.3L630.2,122.3L627.7,125.5L627.3,127.3L627.3,129.7L627,132.7L626.3,133.5L625,134L624.1,135L623.5,136L623.4,136.7L624,137.3L627.3,138.2L628.7,139.4L631,139.7L632.7,140.6L639.3,141.1L640,141.5L641.7,141.9L642.1,142.3L642.7,143.9L643.8,144Z M528.3,148.8L527.7,148.8L526.7,148.4L523.8,146.7L522.4,144.7L522.4,142.7L522.7,142L523.3,141.5L526,140.6L527.7,139.7L529.7,139L531,139.4L531.7,140L532.2,141.3L532.3,143L531.8,144.3L530.1,146L529.6,147.7L528.3,148.8Z M685,172.1L682.7,172.1L680.7,171.4L677.7,171.4L676.3,171L675.1,170.3L674,168.9L673.3,167.3L672.9,166.3L672.9,165.3L672.6,164.7L672.6,164L673.4,162.7L677.1,158.3L679.3,157L681.7,156.3L683.3,156.3L684,156L685.3,156.2L687.2,157.3L690,163L690.3,164L690.3,166.3L691.4,168L691.1,169.3L689.6,170.7L687.3,171.7L685,172.1Z M729,185.5L727.7,185.5L726.8,185L725.6,184L725.1,183L724.9,182L725.5,180.7L726.3,179.7L727.3,179.1L729,179.4L730.3,180.3L731,181L731.6,182.3L731.7,183L731.4,184L729,185.5Z M627.7,199.7L623.3,199.5L622,199.1L621,198.3L621.3,196.3L622.3,194.7L622.7,193.3L622.3,192.7L621.5,192.3L621.8,191.3L622.7,190.1L624,189.9L627.3,187.5L629,187L630,186.4L637.3,186.1L642,188L642.4,188.3L640.5,192.3L639.3,193.3L638.3,193.8L635.7,194.6L634.7,194.2L633.7,192.5L633,192.3L632,192.4L631,193L629.5,194.3L629.2,195L628.9,195.7L629.5,196.7L629.5,197.7L628.9,198.7L627.7,199.7Z M479.7,67.5L478.3,67.5L477.7,67.1L477.2,65.7L477.1,65L477.9,63.3L478,62.6L479,61.4L479.7,61.7L480.1,62.3L480.1,63.7L480.5,65L480.5,66L479.7,67.5Z M652.3,194.2L651,194L650,193.6L648,192.2L647.3,191.9L646.7,191L645.9,189L645.4,186L646.6,183.7L647.4,182.7L647.5,181.7L646.7,180.9L644.3,179.9L642.7,178.7L642.2,178L642.3,177L642,176.6L639.7,175.5L634.3,175.4L633.3,175.7L631.5,176.7L631.6,178L631.3,178.3L630,178.1L629.3,177.7L629.1,177L630.1,175.7L629.5,174.7L628.3,173.8L624.5,172L622,169.8L619,168.1L617.5,166.7L616.7,165.7L616.2,164.3L615.9,162.7L615.9,160.7L615.3,159.3L612.6,156L610.3,151.1L609.7,150.3L608,149.2L606.4,147.3L605.6,146L604.7,143.3L601.7,141.4L600.1,139.7L599.6,138.7L599.4,136.3L598.8,134.3L598.1,133L597,132.5L595.4,132.7L594.3,133.5L593.5,134.3L590.4,138.7L589.4,143L589.7,144.6L590.9,146L591.2,147L590.6,149L590.5,152.7L590.1,153.3L587.6,155.7L587.5,157L588.1,158.3L589,159.4L589.7,160L591.7,160.8L593.1,161.7L596,164.8L601,166.7L602.1,167.3L603.6,169.3L603.4,171L600.7,172L598,174L595.7,174.7L592.3,175.2L588,178L587,179L586.3,180.3L585.4,183.3L584.4,184.7L584,186.7L583.7,187.3L582.3,187.6L582,187.9L579.7,188L579,188.3L576.7,188.2L575.7,188.4L574.7,188.2L572,186.3L571.3,186.2L570.3,186.5L569.7,186.2L567.2,183.7L564.2,181.7L563.2,180.3L563,178.7L563.3,178L565.3,176.3L568.7,174.5L569.7,173.5L569.9,172L569.8,168.7L570.6,165.3L570.9,162.3L571.8,160.3L573.2,159L573.5,158.3L573.4,157L572.8,155.7L571.7,155.1L570.3,155.3L567.3,158.7L563.3,161.4L562,162L560.3,162.3L559,162.3L558.7,162L558.4,161.3L558.5,160.7L558,160L557.3,159.7L556.7,159.9L553.7,161.9L551,161.9L550,161.5L548.7,160.4L547.6,159L547.2,158L547.4,157.3L548.9,155.3L550.3,152.7L552.3,151.8L555,151.6L558.7,152.4L561,152.5L562.5,152.3L565.7,151.4L568,151.4L569.3,151.7L571,152.6L572,152.5L572.6,151.7L573.2,149L573.3,147L573.7,145L574.3,143.6L574.4,142.7L572.6,138.7L571.1,136.7L565.4,132.7L564.8,131.7L564.5,129.7L560.7,125.2L559.3,124.7L554.3,125.1L552.3,124.3L549,121.2L546,119.8L544.3,117.5L541.9,115.7L538.5,111.7L537.6,109L537.2,105L535.9,102.3L535.7,99.7L537,94L537.4,89L538.1,87.7L539,86.7L541.4,83L541.7,82.8L543,82.6L545.1,83L546.3,83L547.7,82.4L550,80.9L551,80.6L552.7,80.7L554.7,81.4L557.3,83L557.6,83.3L557.7,84L559.3,84.8L559.9,85.7L561.3,87L562.6,89L562.9,91.3L563.5,93L565.5,96L566.3,96.7L570.3,97.7L572.3,98.7L575,99.4L576,100L580,101.4L581.7,102.3L583.2,103.3L584,104.2L585,104.7L586,104.7L589.3,105.9L590,106.4L591,107.8L592.3,108.2L596.7,108.2L597.6,107.7L597.8,105.7L598.6,102.7L598.8,100L599.8,98L600.7,96.7L601.3,96.1L604.5,94.7L606.7,93L606.9,92.3L606.7,91.3L605.2,89L605,88L605.3,87.1L606,86.2L608.5,84.3L608.4,81.7L608.9,80.3L609.3,80L610.7,79.5L612.3,79.6L613.2,79.3L614.5,78L615,77.8L619,77.7L620.3,78L621,78.5L621.3,80L621,80.3L620.5,83L620.7,83.7L621.7,84.5L622.7,84.8L623.7,84.7L624.4,84.3L626,82.7L628.3,83.3L629.5,84L631.7,86.8L634.7,87.7L636.1,89L636.7,89.3L638,90.7L639.4,91.7L642.7,93.2L646.3,95.3L649.3,96.4L651.5,97.7L652.1,99.7L652,101.7L652.3,103L654.4,106.3L655.4,109.3L657.2,111.7L659.4,120L659.4,121L659.6,121.7L659.3,124.7L658.6,126.7L658.9,127.7L659.7,128.7L660.2,131.7L660.6,132.3L660.6,136.7L659.9,139L660.4,140L660.8,142.7L661.2,143.3L661.1,145.3L661.5,146.3L661.5,148.3L661.9,149.3L661.7,153.7L662.7,155.4L663,157.2L663.3,157.7L663.3,159.7L663.6,160.3L663.7,163L663.2,168.7L663.9,171.3L665.3,172.7L665.5,173.7L666.6,175L666.6,176.3L667.1,177L667.3,178L666.6,180.3L665.4,182.3L663,185.1L659.2,188.7L658.8,189.3L659.3,191L659.2,192L658.7,192.3L657.7,192L656.3,192.1L652.3,194.2Z M509,147.7L506.7,147.8L505.7,147.5L504.9,147L502.7,144.7L501,143.7L500.3,143.7L498.3,144.7L497.5,145.7L497.3,147L495.3,146.6L491.3,145.2L488.3,143.3L487.3,142.4L484.9,140.7L481,136.8L480.7,136.2L476.8,132.7L475.7,130.3L475.5,128.7L475.7,127.6L476.4,126.3L476.6,125.3L476.7,123.7L476.6,121.3L476.1,119.7L474.4,116.3L473.1,111L473.3,110L473.2,108.3L473.5,105.7L474.2,103.7L476.7,99.2L477.3,98.6L478.1,98.3L479,97L479,96.3L478.4,95L478.7,93.7L481.3,88.9L482.2,88L484.3,86.7L487.7,84L491,82.9L492,82.9L492.3,83.1L493.3,84.7L494.3,85.6L495,85.9L496,85.8L499.3,81.8L500,81.3L501.7,80.6L506.3,80.9L508.7,80.8L510,81.5L511.1,83L513.4,84.7L514.4,86L516,89L517.3,90.3L519.3,91.4L521.3,91.4L522.4,91.7L522.6,93L522.5,94.7L523.9,100.3L524,102L524.3,103L523.8,105.3L523,106.6L522.7,106.9L521.3,107.3L521,108L522.3,111L522.5,115L522,116.7L520.7,119.3L520.4,120.7L520.8,122.3L520.9,125L520,127.3L519.3,128.3L518.7,130.3L518.6,131L519.2,132.7L518.8,134.7L514.7,143.8L513,145.1L509,147.7Z M643.2,144.7L644.3,144.3L645.5,143.3L646.3,142.3L646.6,141.3L646.4,138.7L646.7,136.7L646.6,134.3L646.1,133.3L644.9,132L644.5,131L643.4,126.3L642.1,123L642.2,121.7L644,121.7L644.7,121.5L645.2,120.7L645.1,120L644,117.9L642.7,116.2L641.7,115.7L640.3,115.8L639.3,115.5L638.4,114.7L636.5,111.3L636,111.1L635.5,111.3L635,111.9L634,114.3L632.2,117.3L630.1,121.7L627.3,124.9L626.8,127L626.8,129.7L626.3,132.2L623.2,135.3L622.7,136.3L622.8,137L623.4,137.7L626.7,138.6L629,140.4L631,140.3L632.7,140.9L639.3,141.4L641.3,142.4L642.3,144.2L643.2,144.7Z M528,148.4L526.7,148L524,146.3L522.8,144.3L523,142.7L523.7,141.9L526.3,141L529.3,139.6L530,139.6L531,140L531.3,140.4L531.8,141.7L531.7,143.3L531.4,144L529.9,145.7L528.8,147.7L528,148.4Z M684.7,171.7L682.7,171.4L680.7,170.8L677.3,170.8L675.3,170L674.3,168.7L673.8,167.3L673,164.3L674,162.9L676,161.4L676.2,160.7L677.7,158.5L679.3,157.5L680.7,157L684.3,156.4L685.4,156.7L686.7,157.6L687.2,158.3L689.7,163.3L689.9,166.3L690.8,168.3L690.7,169L689.3,170.4L687.3,171.3L684.7,171.7Z M729,185.1L727.7,185.1L725.8,183.7L725.4,182L726,180.7L727,179.8L727.7,179.6L729,180L730.3,181.1L730.9,182L731.2,182.7L731.1,183.7L729,185.1Z M627.7,199.1L625.7,199.2L623.7,199.1L622.3,198.5L621.7,197.7L621.7,196.3L622.9,194.3L623.8,191.3L626,189L627.7,187.9L630.3,186.8L636.7,186.3L639,187L641.7,188.5L640,192.3L638.3,193.4L636.7,194.1L635.3,193.9L634.3,192.6L633.7,192.1L632,192L631,192.6L628.6,195L628.3,196L628.7,197.7L628.5,198.3L627.7,199.1Z M652.3,192.4L651.7,192.3L650,191L648.7,190.4L647,188.3L646.6,186.3L648,184.7L649.7,184L650.1,183.3L650.4,182.3L649.3,180.7L646.2,178.3L644.8,176L644,175.1L643,174.6L640.3,173.8L634,174.5L632.3,175L629,172.3L625.3,170.7L622.7,168.7L619.8,167.3L618.3,166L617.7,165.1L617.2,163.7L617.5,160.7L617,159.3L613.3,155L610,148.7L607.6,146.3L607.1,145L607.1,143.7L606.9,143L605.7,141.8L603,140.3L601.3,139L600.9,136.3L599.4,132.7L598.3,131.6L597,131.2L595.3,131.3L594.3,131.6L591,134.5L590,134.8L588.3,134.7L587.6,135.3L587.5,137L588.1,139.7L587.8,143L589.2,147L588.8,152L588.5,153L588,153.6L585.7,154.4L585.1,155L585.5,156L586.9,158.3L589.3,161.2L592.6,163L594,165.1L595.3,166.3L599,167L600.7,167.5L601.5,169L601.4,170L595.3,173.2L591.7,174L587.7,176.8L586.5,178L584.7,180.8L582.7,183.1L581.8,184.7L581.5,186L581,186.4L578.3,187L576,186.5L573.7,184.8L569.7,184.3L566.3,181.9L565,180L564.8,178.7L565.7,177.8L567,176.8L570.6,175.7L571.3,174.7L571.5,173.7L571.1,169.3L572.2,165L572.9,163.3L573,163.2L575,163.5L576.3,163.1L577.5,162L578.1,160.3L577.9,159L575.3,157L573.7,154.7L574.4,151.3L574.8,146.7L575.4,144.7L576.1,143L576.1,141.7L575.9,141.3L576,141L575.4,138.3L574.4,134.7L573.9,133.7L573,133.4L571,133.7L569.7,133.6L567.3,132.3L566.4,131L566.3,129.3L565.9,128.3L563.7,126.8L561.1,124L559.7,123.4L554.3,123.6L552.7,123.1L552,122.6L549.7,120.1L547.3,118.7L544.7,115.3L541.4,113.3L539.3,111.2L538.7,109.3L538.7,105.3L537.4,102L537.1,99.3L538.8,89L541.6,84.7L542.7,84L545.3,84.1L546.7,83.8L548.3,83.2L550.7,81.8L552.3,81.7L553.3,82L554.8,83.3L555.8,86.3L556.6,87.3L557.7,87.8L559.5,88L560.8,89L561.2,90L561.3,92.3L562,93.7L564.1,96.7L565.3,97.8L566,98.1L569,98.4L570,98.8L572.7,100.5L576.3,101.2L579.3,102.5L580.7,103.7L581.5,105.3L582.7,106.9L584,107.8L586.3,108.3L590,109.5L593.7,109.6L595.7,109.9L598.3,111.9L599.3,112.3L600.3,112.1L601.3,111.4L602.6,109.3L603,105.7L602.1,101.7L602.6,100L603,97.7L603.9,96.7L607.7,94.5L608.9,93.3L609.5,92L609.6,91L608.5,88.7L608.6,87.7L611.2,85L612.3,82.9L615,80.5L615.7,80.2L616.7,80.1L617.7,80.5L619.1,84L619.9,85L620.7,85.5L622,86L623.3,86.2L624.2,86L626.3,85L627.7,85L628.6,85.7L630.3,89.1L631.7,89.9L633.2,90.3L635.7,93.3L636.7,93.5L639.3,93.3L640.7,93.7L642.7,94.7L645.3,96.5L648,97.3L650,98.3L650.5,99L650.7,101.3L651.2,103L652.9,105.7L653.5,107L654,110.3L655.7,112L656.6,113.7L658.4,120.3L658.5,122L658.3,123L657.7,124.3L656.3,126L656.1,126.7L656.5,127.7L658.3,129.3L658.6,130L659.5,132.7L659.5,133.7L659,135.3L657.7,136.4L657.6,138.3L658,140.7L657.9,141.7L657.4,143.3L655.8,145.3L655.7,146L656.3,147.3L658.2,149.3L658.4,150L657.3,150.8L656.7,151.7L656,154.3L656.3,155.4L657.3,156.4L658.3,156.6L660.7,156.2L661.3,156.7L662.1,158L662.5,160.7L662.4,163.3L661.8,166.3L660.4,169L660.3,170L660.5,170.7L662.4,172.7L663.8,175L664.5,175.7L664.2,177.3L665,179.7L664.9,180.7L664.4,181.7L661.1,185.3L658,188L656.1,190L654,191.6L652.3,192.4Z M508.3,146.1L507.1,146L506.3,145.6L504.8,143.3L504,142.5L501.7,142L498.7,142.2L494.7,144.6L492,144.1L488.7,142.1L484.3,138.8L482.9,137.3L481.5,135.3L478,132.5L477.5,132L477.3,131.3L477.3,129.7L477.7,129.1L479.2,128.3L479.2,128L477.7,122L477.3,119L476.3,116L475.9,112.7L475,110.7L474.4,108.7L474.6,106L475.8,103.3L480.1,98.3L480.5,97.3L480.5,93L481.4,91L482.7,89.6L484.3,89.1L485,88.6L486,86.8L487.1,85.7L489,84.6L490.7,84.4L491.3,84.6L493.3,86.4L494.7,87.3L495.3,87.4L496.7,86.8L498.8,83.7L499.7,82.9L501,82.2L501.7,82.1L504.7,82.2L508,82.8L509.1,83.7L511.1,87.7L512,88.3L513.7,88.7L518.7,92.8L520.3,93.7L521.3,96.3L522.4,100.7L522.7,103.3L522,104.7L519.5,106L519.1,106.7L519,107.3L521,111.3L521.3,112.3L521.4,114.7L521,116.1L520,117.7L515.6,121.3L515,122.3L515.2,123.3L516,123.8L517,123.7L518.7,123L519.3,123.7L519.4,124.3L519.4,124.7L517.5,127.7L516.7,131L516.7,132.7L517.1,134.7L516.9,136.3L516.1,138.3L513.7,143.2L512.3,144.3L508.3,146.1Z M643.8,146.7L647.9,143L648.6,141.7L647.9,138L648,133.7L647.6,132.7L646.3,131.5L645.5,130.3L644,124.3L644.3,123.5L646.2,122.3L646.5,121.3L645.8,119.3L643,115L641.7,114.2L639.7,113.9L638.4,112.3L638.3,110L639,107.5L637.1,109L635,109.9L634.6,110.3L634,111.3L633.1,114L629.3,119.5L628.7,119.7L627,119.1L626.3,119.1L625.6,119.7L625.3,120.7L626,123.7L625.2,130L624.3,132L621,135L620.7,136.3L621.1,137.7L621.7,138.4L622.8,139L625.7,139.8L628.7,142.1L630,142.4L636.3,142.1L639,142.4L640.3,143.7L641,145.5L641.7,146.5L642.7,147L643.8,146.7Z M527.7,146.2L527,146.1L525.6,145.3L525,144.3L525,143.7L525.4,143L526.7,142.2L527.3,141.9L529.3,141.7L530,142.5L530.1,143.7L529,145L527.7,146.2Z M552.7,160.7L551.7,160.8L550.7,160.6L549.3,159.3L548.5,157.7L550.4,154.3L551,153.5L551.7,153.2L553,152.9L554.3,153.1L557,154L558.7,153.9L566.3,152.6L567.3,152.8L568.3,153.3L569.2,154.7L566.7,157.5L564.7,159.1L563,160.1L561.7,160.4L561,160.2L558.7,158L557.3,157.4L556.3,157.7L554,160.1L552.7,160.7Z M687.3,170L685.7,170.3L684.3,170.3L680,169.3L677.3,168L675.6,166.3L675.3,165.3L675.3,164.6L677.4,162.7L678.3,161.4L679,159.9L680,158.9L682.3,158.1L684.7,158.1L686.3,159.8L688.3,163.7L688.4,165.7L688.9,168L688.7,169.1L687.3,170Z M728.3,183.4L727.3,182.3L727.7,181.7L728,181.6L729,182L729.1,182.3L728.3,183.4Z M636.7,192.4L635.7,192L634.3,191.1L633.4,190.7L633.4,189L633.7,188.3L635,187.6L636.7,187.2L638.7,188.1L639.8,189.3L639.3,191L638.7,191.7L637.7,192.2L636.7,192.4Z M625.7,195.7L624.7,195.8L624,195.3L624.7,194.3L626,191.2L626.7,190.3L627.7,189.5L628.3,189.3L629.7,189.4L630.5,190.3L630.8,191.3L627,194.3L625.7,195.7Z M653,190.4L652.3,190.4L650.3,189.5L648.6,187.7L648.3,186.7L650.3,185.3L651.2,184.3L651.6,183L651.6,182L650.8,180.7L648.4,178.3L645.7,174.5L644.7,173.7L643.7,173.2L638.7,172.4L636,172.7L632.7,173.8L631.1,172.7L629.7,170.7L629,170.2L625.7,169.5L622.7,167.6L620.7,166.8L619.2,165.7L618.3,164L618.5,163L619.7,160.3L619.7,159.7L619.3,158.3L614.7,155L613.3,153.6L611.8,149.7L610.4,144.7L608.9,142.3L602.7,137L599.7,131.1L598.7,130.4L597,130.2L594.7,130.2L593.7,130.5L591.3,132.6L590.7,132.9L589.7,133.1L587.3,132.2L586.3,132.5L585.8,133L585.6,133.7L586.4,139.3L586.5,142.3L586.9,144L588.1,146.7L588,148.7L587.6,150L587,151L583.9,152.3L582.9,153.7L582.5,155L583,156.3L586,158.7L588.6,162L591,163.4L592,164.3L592.5,165.3L593,167.3L593.7,168L594.3,168.2L597.7,168.1L599.3,168.3L599.6,169L599.5,169.3L597.7,170.1L595.3,170.4L595,170.3L594.3,169.5L593.7,169.4L593.3,169.7L592.7,171.3L592,172.2L586.1,176.3L583.7,179.7L581,182.1L579.7,182.3L578,182.9L575.3,183.3L570.7,183.4L569.3,183L567,181.3L566.3,179.7L566.3,179L566.9,178.3L568.3,177.7L571,177.6L571.7,177.2L572.3,176.3L572.8,174.3L572.3,169.7L572.7,167.7L573.3,166.2L574.3,165.3L576.9,164.3L577.9,163.7L578.7,162.5L579.7,160L579.9,158.3L579.6,157.3L578.3,156.3L576.3,155.5L575.7,154.7L576,148.3L577,146.7L579.7,144.3L580.1,143.3L580,142L579.3,140.3L577.3,138.1L576.7,137L575.6,133L575.1,132L574,131.6L570.7,131.9L569,131.5L568.2,130.3L568.1,128.7L567.5,127.3L564.3,125.9L561,122.9L559.3,122.5L554,122.3L552.7,121.8L549.5,118.3L548.3,117.3L547.2,116L546.7,114.7L547.1,112L546.8,111.3L546,110.7L545,110.3L544,110.2L542.3,111.4L541.3,111.6L540.1,110.7L539.6,109L540,108.2L540.7,107.8L542.7,107.6L543.4,106.7L542.8,105.7L542,105.6L540.5,105L539.3,103.3L538.9,102L538.7,100.3L538.6,95.3L539,93.3L541.4,89.3L541.5,87.3L542.3,85.9L542.7,85.6L543.7,85.3L545.7,85.1L548.7,84.3L551,82.7L552,82.6L552.7,82.8L553.7,83.7L554.8,87.3L555.3,88.2L556.3,88.8L558.7,89.5L559.6,90.3L560.4,92.7L562,95.7L563.5,98L565,99.5L566.3,99.7L568.3,99.5L569.3,99.9L570.7,102.5L571.3,103.4L572.3,104.1L574,104.3L576,103.3L577,103.2L577.7,103.6L581.3,107.1L583,109.1L584.7,110.2L588.3,111.1L592.7,110.6L594.7,110.8L595.7,111.3L598.3,113.3L600,113.9L601.8,113.3L602.7,112.8L603,112.3L603.7,110.3L604.7,105L604.7,102.3L606,100L606.5,98L607.4,96.7L609.7,94.6L610.7,93.3L611.3,91.7L611,88.7L611.3,87.3L613,84.6L614.7,82.9L615.3,82.5L616,82.5L616.3,82.8L619,85.9L620.3,86.7L623.3,87.4L626.7,86.5L627.3,86.7L628.3,88L629.3,91L630,91.5L632.3,92.3L634.8,95L636,95.3L639,95.3L640.3,96L641.7,97.7L645,99.7L646.3,99.9L647.7,99.6L649,100.2L649.8,102.7L652.4,106.7L652.6,108L652.3,110.7L652.4,111.7L653,112.5L654.9,114L656.3,117.5L657.1,120.7L657,122.3L655.3,123.7L654.3,126.3L654.6,127.7L656.9,130L657.6,131.3L657.6,132.3L656,133.8L655.5,135.3L655.6,136.7L656.7,140L656.8,141L656.2,142.7L654.3,145L654,146L654.3,147.1L655.5,149L655.8,150L654.9,154.3L655.3,156.3L656.3,157.8L659.3,160.3L659.7,161.3L659.4,162L659.9,163.7L659.8,165.7L659.6,166.3L658.3,168L658.2,169.7L658.5,170.7L661,174L662.4,176.7L662.3,178.3L663.1,180.3L663.1,181L662.6,182L660,185L657.5,187L655.7,189L654.3,189.9L653,190.4Z M511.3,143.7L510,144L508,143.8L507,143.2L505.1,141.3L504,140.8L503,140.7L499.3,140.9L494.3,142.7L493.3,142.8L492.7,142.6L491.8,141.7L491,139.7L490.4,139L489.3,139L488,139.8L487,139.6L485.8,139L484.5,138L483.7,137L483,135.7L483.2,134.7L484.7,132.3L484.7,131L483.7,129L480.8,126L480,124.7L479.1,121.7L479.3,118.7L477.8,115.3L477,111.1L476.6,110L475.6,108.3L475.4,106.3L476.3,104.3L481,99.6L481.6,98L481.9,93.7L482.3,92.5L483,92.2L484.7,93.1L486,93.2L487.4,92.7L488.6,91.3L489.1,89.7L487.9,87.7L487.8,87L487.8,86.7L488.7,86L489.7,86L490.7,86.7L491.4,88L491.3,88.7L491.9,90.3L492.7,91.2L494,91.7L495.3,90.9L497.3,88L499,85L500,83.9L501.7,83.2L504.7,83.3L506.7,83.7L508.2,84.7L509.4,88L510.3,89.3L511.3,89.9L514,90.5L515.5,91.3L519,94.5L520.1,96.3L521.1,101L520.9,102.7L520.6,103.3L517.8,106L517.3,107.3L520,111.3L520.5,112.7L520.6,114.3L520,115.8L513.2,121.3L512.5,122.3L512.8,123.3L514,124.7L515.1,126.7L515.5,129.3L515,130.4L514,131.6L512.7,132L511.7,132.7L511.2,134L511.7,135L512.7,135.7L514.7,136.4L515.3,137.3L514.9,138.7L513.3,142.2L512.1,143.3L511.3,143.7Z M643.2,148.7L644.5,148L646.7,145.5L649.3,143.4L649.8,142.7L650,141.7L649,138L649.1,133.7L648.9,132.3L648.2,131L646.7,129.5L645.7,126L646,124.7L647.7,123L647.8,121.7L644,114.5L641.9,112L641.6,110.7L642.2,107.3L642,106L641,105L639.7,104.5L638.7,104.7L638,105.2L636.4,107.7L633.4,110.3L632.3,113.3L631.3,114.7L630,115.2L628,114.3L627,114.5L625.3,115.6L624,117.3L623.2,118.7L622.8,120L622.9,121L624.1,124L624.1,125L623.6,126L622,127.7L621.8,128.3L621.9,131.3L621.5,132L619.6,133.7L619.1,135L619.1,135.7L619.7,137.7L620.5,139L621.7,139.7L624.7,140.6L625.7,141.2L630,145.8L632,146L634.7,147.2L635.1,147L635.5,146.3L635.3,144.3L635.7,143.5L638.3,143.5L638.8,144L639.3,146.7L640,148.3L641.3,148.9L643.2,148.7Z M655.6,121L655.8,120.3L655.7,119.7L655.3,119.3L655,119.3L654.6,119.7L654.6,120.7L655,121.2L655.6,121Z M552.7,159.7L551.7,160L551,159.8L550,159L549.3,158L549.3,157.7L550.4,155.7L551,154.7L552,153.9L553,154L554,154.7L555.1,157L554,158.7L552.7,159.7Z M563.3,158.7L562.3,159L561.3,158.7L558.8,156.3L558.9,156L560,155L562.7,154.2L565.3,153.9L566.7,154.2L567.4,155L567.2,155.3L564.7,157.7L563.3,158.7Z M685,169L682.3,168.9L680.3,168.3L678.3,166.7L677.7,165.3L677.8,164.7L678.4,163.7L679.9,161.7L681,160.5L682,160L683,159.9L684.7,160.3L685.7,161.4L687,163.7L687,168L686.7,168.7L685,169Z M637.7,190.7L637,190.9L635.4,190.3L635.8,188.7L636.3,188.5L637,188.5L638,189.2L638.4,190L638.3,190.3L637.7,190.7Z M511.7,142.1L510.7,142.2L509.8,142L507.3,140L505.7,140L504,139.6L500,139.7L496.7,140.5L494.3,140.6L493,139.7L490.7,136.7L489.7,136.2L489,136.4L487.7,137.7L486.9,138L486,137.9L485.1,137.3L484.6,136.7L484.5,135.7L484.9,134.7L486.1,132.7L486.2,131.3L485.8,130.3L482,124.7L481.8,123L482.3,121.7L482.7,119.7L482.1,118.7L479.8,116.3L479,115L478.6,113.7L478.1,109.7L476.9,106.7L477.1,105.7L478.1,104.3L480.9,102L482.1,100.3L482.7,98.7L483.3,96.3L483.9,95.3L486.7,94.3L490.3,92.3L494.7,93.1L496.3,92.5L498.2,90L500,86.2L500.7,85.4L501.7,84.8L504.7,84.4L506,84.7L507.2,85.3L507.8,86.7L508.7,91.2L509.3,91.4L513,91.4L515,92.3L516.8,94.3L518,95.2L518.9,96.3L519.8,98.7L519.8,101.3L519.4,102.7L518.7,103.7L517.3,104.9L516.3,105.4L512.9,105.3L512.2,106L511.9,107L511.8,108L512.1,109.3L513.3,111.2L514,111.1L514.9,110.3L516,109.8L517,109.8L517.9,110.3L518.7,111.2L519.2,112.3L519.4,113.3L519,114.4L516.8,116L515.1,118.3L511.8,121L511,122.2L511.2,123.3L513,125.3L513.8,127.3L513.3,129.3L510.3,131.9L509.7,133L509.4,134L509.4,135.7L509.9,136.7L512.3,137.8L513.1,138.7L513.1,139.3L512.7,140.9L512.3,141.7L511.7,142.1Z M552.3,86L551.2,86L551.2,85.3L551.7,84.8L552,84.8L552.3,85.5L552.3,86Z M653.3,188.7L652.3,188.8L651.7,188.5L651.4,188.3L651.2,187.7L651.2,187L652.3,185.3L652.6,184.3L652.8,182.3L652.5,181.3L649.8,178.3L648.2,175.3L646.3,173L644.3,172.1L642,171.8L639.7,171.2L637.9,170.3L636,169L634.5,169L633.8,167.7L632.5,166L630.7,164.9L630,164.8L629.7,165.1L628.3,167.8L627,168.5L626.3,168.5L625,167.9L620.8,165L620.5,164.3L620.6,163.7L621.7,162L622.3,160L622.3,157.3L622,156L621.5,155.3L620.3,154.6L616.3,154.3L614.2,153L613.3,151.3L612.8,149L612.9,147.7L613.7,145.3L613.5,144.3L611,142.5L606,137.7L603.4,135.7L602.4,134.3L600.8,130.3L599.7,129.1L598.7,128.9L594,129L592.3,129.6L590.3,131.3L587,130.8L586.3,131L585,131.9L584.4,133L584.3,133.7L584.9,137.3L585,141.7L585.7,144L587,146.7L587.1,147.7L586.8,148.7L586.1,149.7L583.3,151.2L581.7,152.8L578.7,151.9L578,151.4L577.3,150.3L577.3,149L578.3,147.3L580.9,144.7L581.5,143.3L581.6,142.7L581.3,141.3L580.5,139.7L578.4,137.3L577.4,135.7L577,134.2L576.8,132L576.3,131L575.3,130.6L572,130.5L570.7,130.1L570,129.6L569,127L568.4,126.3L567.3,125.8L564.8,125L561.3,122.2L560,121.8L554.7,121.2L553,120.6L551.7,119L551,117.3L551.1,116L551.8,114L551.6,113.3L546.5,109.3L545.4,108L546,104L545.7,103.3L545,103.1L542,103.2L541,102.4L539.7,96L539.9,94.7L540.7,93.3L541.7,92.7L542.3,92.4L545.3,92.4L546.3,91.9L547.3,91L547.5,90.3L547.4,89.7L545.6,88L545.3,87.3L545.4,87L546,86.6L547.7,86.2L548.7,86.5L549.1,87.3L548.6,89.3L550.7,90.7L553,90.7L556,90.2L557,90.3L558.1,90.7L559,91.7L560.7,95L562.6,99.7L563.7,101.3L564.3,101.7L567.3,101.7L568.3,102.1L570.5,105L574,108L576.3,106.5L577.7,106.3L579.3,106.9L580.7,108L581.2,108.7L582.3,112L582.7,112.4L583.7,112.7L587,113.2L588.3,113.2L591,112L593,111.7L595,112.1L597.7,114.4L599.3,115.3L601,115.6L604.3,115.3L605.3,115L605.8,114.3L606,113.3L605,109.7L605.3,107.3L606,105.9L608.6,102L608.8,101.3L608.7,99L609.2,97.3L609.7,96.5L611.9,94L612.8,92.3L613,90.7L612.7,88.3L612.8,87.7L614,85.6L615.3,85L616.3,85.3L618.3,87.3L619.3,87.8L623.7,89L626,88.4L626.7,88.6L627.1,89.7L626.5,92L627.2,92.7L631.6,94.3L634.3,97L635.3,97.2L637.3,96.9L638.7,97.4L642,100.9L642.7,103.3L643.3,104L644.3,104.2L645.3,104L645.7,104.2L647.7,103.6L648.6,104L650.3,105.3L650.9,106.3L651.2,107.3L650.9,109L650.2,110.7L650.2,111.7L650.6,112.7L652.3,115L652.7,116.3L652.5,120.7L653,123L653,127L653.3,128L654.7,130L655.1,131L654.5,134.3L654.5,135.7L655.6,139.7L655.8,141L655.3,142L653.2,144.3L652.8,145.7L653.2,147.3L654.6,150L653.9,155.3L654.2,157L655,158.7L655.6,161.3L655.6,163.7L655.3,165L655.5,167L656.3,169.3L659.6,174.7L660.7,177L660,178.2L658.4,179.7L658,180.3L658.1,181.3L659,183L658.6,184.3L655.3,187.8L653.3,188.7Z M637.5,150.7L642.7,150L645,149.1L647.6,146L650.7,143.8L651.1,143L651.2,142.3L651.1,141L650,137.7L650.3,133L650.1,131.3L648.3,127.3L648.1,126.3L649.3,123.3L649.2,122L646.1,117.3L644.2,111.7L644.5,108L643.9,105.7L642.7,104.2L640.3,103.4L638.3,103.4L637.3,103.8L635.4,107.3L634.7,108L632.7,109.1L631.3,109.3L628.3,108.3L627.7,108.5L627.1,109L626.8,109.7L626.4,112.3L626.1,113L622.7,116.7L621.4,118.7L621.1,120L621.9,123.3L621.8,124.3L621.1,126L618.8,129.7L617.8,135L618.2,137.3L619.1,139.3L620.9,140.3L624,141.4L625.4,142.3L626.7,144L627.7,147L628.7,148.3L631.7,148.6L634.7,149.9L637.5,150.7Z M600,125.3L600.3,124.3L599.5,123.3L597.3,122.5L596.7,122.5L596.3,122.8L596.3,123.7L597,124.7L598.7,125.5L599.3,125.6L600,125.3Z M607.8,133L608.3,132.5L608.6,131.7L608.4,130.7L607.3,129.9L606.3,129.8L605.7,130.1L605.1,131L605.4,132.3L606,133L606.7,133.3L607.8,133Z M562.7,157.4L561.3,157L560.8,156.3L560.8,156L563,155.2L564.3,155.3L564.9,155.7L563.6,157L562.7,157.4Z M552,159L550.9,158.7L550.4,158L550.3,157.7L551.1,156L551.7,155.6L552.3,155.4L553.3,156.3L553.6,157.7L553,158.5L552,159Z M572.3,182L570.7,182.3L569.3,181.7L568,180.7L567.7,179.7L568.7,179L571,179L572,178.8L573.2,177.3L573.9,175L573.8,170.7L574.2,167.7L575,166.6L578,165.2L579.2,164.3L581.7,158.5L584.7,159.1L586,160.3L587.6,162.7L590.3,165L591.5,168.3L589.3,172L587.3,173.7L584,175.8L582.8,177.7L580,180.3L577.7,181.3L573.7,181.7L572.3,182Z M628.6,161.3L628.8,160.7L628.7,160L628,159.7L627.4,160L627.2,160.7L627.3,161.4L628,161.6L628.6,161.3Z M683.7,167.7L682.3,167.9L681,167.5L680,166.8L679.3,165.7L679.2,165L679.7,164L680.7,163L682,162.3L683,162.1L684.3,162.5L685,162.9L685.7,163.9L685,166.9L684.3,167.5L683.7,167.7Z M633.3,172L632.9,171.3L633.7,170.6L633.9,170.7L633.9,171L633.3,172Z M496,139.4L494.7,139.1L493.6,138.3L490.4,133.7L488,131.3L484.7,127.3L483.9,124.7L484.6,121.3L484.5,119.3L483.8,118L481,115.9L479.8,114.3L479.3,111.7L479.6,109L480.3,107.3L480.3,106.3L481.9,103.7L484,98L485,96.5L488,94.6L490,93.6L491.3,93.6L495.3,94.2L497,93.7L499,92.5L501,92L501.6,91.3L501.5,89.3L501.8,88L503.7,86.2L505,85.8L505.7,86L506.6,86.7L506.9,87.7L506.7,90L505.4,93L505.5,94L505.9,94.7L507,95.2L508.3,95.1L509.3,94.7L511.3,93L512.7,92.8L513.5,93L514.4,93.7L515.6,95.3L517,96L518.3,97.5L518.8,98.7L518.8,101L518,103L517,103.9L515.7,104.3L513.3,103.9L512.3,104L511.7,104.5L510.9,106.3L510.7,109.3L511.7,114.6L513.4,117.7L512.9,118.7L510.2,121.3L509.8,122.7L510.1,123.7L511.7,125.3L512.3,126.3L512.5,127.3L512,128.7L508.5,132.3L508,133.3L507.2,136.7L506.9,137.3L506.1,138L505,138.5L500.7,138.4L497.3,139.3L496,139.4Z M654,186.5L653.6,186.3L653.9,185.3L654,181.3L653.4,180.3L651.3,178.6L650.7,177.7L650.1,176.3L650,173.9L649.5,173L646,171.4L642.3,170.8L640.7,170.3L637.3,167.6L635,166.6L634.3,166.1L632.3,164.5L631.4,163.3L631,162.3L630.3,158.7L629.3,157.3L628.3,157.1L626,157.7L624.7,157.5L622.6,154.7L621,153.3L619.7,152.8L616,152.5L614.8,151.7L614.3,150.7L614.2,149.3L614.4,148.3L615.5,145.7L615.6,144.3L615.3,143.1L614.7,142.2L612.3,141.5L611.5,141L607.2,136.3L607.1,135.3L609,133.7L609.8,132.3L609.9,131.7L609.6,130.3L608.9,129.3L607.7,128.6L605.7,128.7L603.7,129.1L603,128.9L602.6,127.3L603.1,124L602.7,122.6L600,121.4L598.3,120.9L596.7,120.6L595,121L593.7,122.3L593.3,124L593.7,124.9L595.3,126.3L595.2,127L594.3,127.1L593,126.6L590,129.3L586.7,129.9L585.3,130.5L584.2,131.3L583.5,132.3L583.2,133.3L583.7,137.3L583.3,141.5L582.2,139L579.7,136.7L578.6,135L578.2,133.7L578.4,130.7L577.9,129.7L577,129.4L573.3,129.5L572,129.3L571,128.5L569.7,126L568.7,125.2L565.3,124L561.7,121.4L554.7,119.8L553.3,118.9L552.9,118L552.8,117.3L554.2,114L554.2,112.7L553.3,111.5L549.3,110L547.2,108.3L546.8,107.3L546.8,106.7L547.2,105.3L548.6,102.7L548.6,101.7L547.9,100.7L546.3,99.3L545.3,99.1L543.7,99.1L542.3,98.2L541.5,96.7L541.5,95.7L542,94.8L543,94.5L545.3,94.7L547.7,92.6L549.3,91.6L553,92.2L556,91.6L557.3,91.7L558.1,92.3L559.5,94.3L560.1,96L560.1,98L559.3,98.8L556.3,98.6L555.3,99L554.7,99.7L554.4,100.3L554.5,101.3L555,101.8L556,102.1L557,102.2L559.3,101.4L560,101.4L563.3,103.5L567,104.3L567.7,104.7L571,107.6L572.3,111.3L574,112.3L576.7,112.4L577.1,112.7L577.9,113.7L578.6,115L579.3,115.7L580.7,115.9L584.7,115.4L587.3,115.5L589,114.9L592,113.3L593.7,113.2L594.3,113.3L595.3,114L597.7,117.1L599,117.5L605,117.3L606.3,116.5L607,115.6L608.3,112.3L608,110.8L607.1,109.3L607,108.5L607.3,108.2L608.3,108.1L609,107.6L609.7,104.7L611.9,100.3L612.1,99.3L611.8,97.7L611.9,97L614.4,93L616,89.3L616.7,88.8L617.3,88.6L618,89L621,89.9L622,90.8L623.1,92.3L623.9,93L628.9,95L630.5,96L631.1,96.7L632.6,99L633.4,99.7L638.3,101.5L638.6,102L636,102L635.7,102.7L635.5,105L635.3,106L634.5,107L633.3,107.7L631.7,108L628.3,107L627.3,107.1L626.5,107.7L625.8,109L625.5,111.7L625,112.7L620.3,117.7L619.7,119.3L619.8,121L620.5,123L620.5,124.3L619.8,126L618.1,128.3L617.3,130L617.2,132.3L616.7,135L616.8,137L617.4,139L618,140.1L619.3,140.8L623.3,142.1L624.9,143.3L625.5,145L625,147.3L625.1,148L625.8,149L627.7,150.7L631.7,150.4L636,152.3L637.3,152.4L645.3,150.2L646,149.7L648.7,146.5L650,145.8L651.7,145.6L653.6,150.7L653.3,152.5L652.4,155L652.2,156.7L653.3,159L653.8,161.3L653.4,163L652.7,164.7L652.9,167.7L653.7,169.2L656,171.3L657,172.7L658.4,175.3L658.8,177L658.8,177.3L657.1,179L656.5,180L656.3,181.3L656.7,183.3L656.4,184.3L654,186.5Z M579.3,110.8L578,111L577.7,110.6L577.6,109.3L578,108.6L578.7,108.4L579.7,109.3L579.7,110.3L579.3,110.8Z M650.7,122.1L649.8,120.7L647.7,118.7L646.7,116.8L646.3,115L646.7,111.3L646.3,108.5L647.6,109L648.8,112.3L650.8,115L651.4,116.3L651.5,118.3L650.7,122.1Z M651,124L651,122.6L651,124Z M652.7,142.4L651.1,137.7L651.7,132.3L651.1,127.7L651.2,126.3L651,124.5L651.3,124.2L651.9,127.7L653.1,130.7L653.6,135.7L654.7,140L654.6,140.7L654.3,141.3L652.7,142.4Z M582,150.9L580,150.2L579.2,149L579.5,148L582.8,143.7L583.3,141.8L584.2,144L585.7,146.3L585.9,147.3L585.2,148.7L582,150.9Z M577.3,180.1L575,180L574.2,179.3L573.8,178.7L574.8,176L575.3,171.3L576.6,169L580.5,165L581.9,160.7L583.3,160.8L584.3,161.3L585,162.7L583.9,164.3L584.5,165.3L585.7,166.1L588,166.6L589.4,168L587.2,169.3L586.9,170L586.7,171.7L585.6,173L583.1,174.7L579.5,179L577.3,180.1Z M683,166.4L682.3,166.6L681.4,166.3L680.6,165.3L680.6,164.7L681.3,164.1L682.3,163.7L683,163.6L684.1,164L684.2,164.3L683.9,165.3L683,166.4Z M626.3,166.7L625.3,166.6L624.5,165.7L624.3,164.7L624.7,164.2L626,164L626.7,164.2L627.1,164.7L627.1,166L626.3,166.7Z M504.7,90.5L504,90L503.8,89.3L504,88.3L504.7,87.9L505.3,88.2L505.5,89L505.3,89.7L504.7,90.5Z M616,140.4L614.1,139.3L613.7,138.8L613.2,137L611.9,134.7L610.5,129.7L609.7,128.1L608.7,127.5L606,127.2L605.2,126.7L604.9,125L605.7,121.7L605.6,121L604.3,120.5L601.6,120.3L602.3,120L603.3,120.1L605.3,119.9L606,119.6L606.7,118.8L609.7,113L610.7,108.9L611.1,105.3L613.8,100.3L614.6,95.7L616.1,92.7L617.7,90.5L620,91.1L622.7,93.6L627.8,96L628.9,97.3L629.6,99.3L630.1,100L629.4,100.7L629.2,101.3L629.5,102.7L630.7,103.3L633.3,103.1L634,103.7L634.4,105L634,106L632.7,106.7L631.7,106.7L629.7,105.6L628.7,105.5L626.3,106.4L625.6,107L625.1,108L624.6,111.3L624,112.7L619.8,116L618.7,117.3L618.4,118L618.2,119.3L619.3,123L619.4,124.3L618.7,126L616.7,128.3L616,130L615.9,132.3L615.4,135.7L616.2,140L616,140.4Z M582.3,131.9L581.3,131.3L579.7,128.6L578.7,127.8L577.7,127.7L574.3,128.5L572.7,128.3L571.9,127.7L570.3,125.1L569.3,124.3L562.3,120.6L558,119.6L555.4,118L555.1,117.3L555.1,116.7L556,113.3L555.9,112L555.4,111L554,109.6L553,109.2L550,108.8L549,108.3L548.2,107.3L548.3,106L549,105.2L550.7,104L551,103L550.6,101.7L547.1,97.3L546.9,96L547.2,95L548.3,93.3L549.7,92.6L553,93.3L556.3,93.2L557.7,93.7L558.6,95L558.7,96.3L558,96.9L555.3,97.3L553.4,99L552.3,100.7L552.2,101.7L552.7,102.8L553.7,103.6L555,104L556.7,104L559,103.6L560.7,103.7L567.7,107.1L568.7,107.6L569.4,108.3L569.9,109.7L570.2,111.7L570.9,112.7L571.7,113.2L575.7,114.2L578.7,117.2L580,117.5L583.7,117.3L586.3,118L587.7,117.7L589.7,116.5L590.7,116.2L592.3,116.3L592.8,116.7L593.1,117.3L593.5,120.3L592,121.6L591.3,122L590.3,122.1L588,121.1L587,121.1L586,121.4L585,122.3L584.8,123.3L585.3,124.6L586.3,125.4L588.3,126.1L588.8,126.7L588.7,127.3L588.1,128L584.5,130L582.3,131.9Z M496.7,138.1L495.3,137.9L494,137L493.2,136L491.9,133.3L490,130.4L488.9,129.3L486.5,128L485.4,126.3L485.3,124.7L485.8,120.7L485.1,115.7L486.3,115.3L487.3,114.7L487.9,114L488.1,113L487,108L486,106.7L484.7,105.6L483.7,104L483.6,102.7L483.8,101.7L484.8,99L485.6,97.7L486.6,96.7L488.5,95.3L489.7,94.8L491.3,94.6L495.7,95.2L497.3,94.9L499.7,94L501.3,93.8L503,94.3L504.7,96.2L505.7,97L506.7,97.4L509.3,97.7L511.3,99L514.7,97.6L516.7,98.1L517.4,98.7L517.6,100L517.6,101L517,102.4L516.3,103L515.3,103.2L514.3,102.8L512.7,101.8L511.7,101.8L511.3,102L510.7,103.8L509.9,107L509.7,109.3L510.3,112.7L510.3,115.7L511.2,118L510.8,119L509.1,121.3L508.7,123L509.1,124L511.1,126.3L511.3,127L511,128L510,129.4L507,131.8L506.7,132.4L506.2,135.3L505.3,136.8L504.3,137.2L500.7,136.8L496.7,138.1Z M484.7,115.7L483.3,115.7L482.3,115.4L481.3,114.7L480.7,113.7L480.4,112L480.5,111L481.3,109.7L482,109.2L482.7,109.1L483.3,109.3L484.3,110.7L484.9,115.3L484.9,115.7L484.7,115.7Z M650,119.2L648.6,118.3L647.6,116.7L647.7,115.1L648.7,114.1L649.7,115.3L650.4,116.7L650.4,118L650,119.2Z M656,178.8L653.8,178.7L652.7,178.1L651.9,177.3L651.7,176.3L652.2,172.7L652,171L651.7,170.2L648,170.7L642,169.3L637.7,166.3L634.7,165L633,163.6L632.3,162.3L631.8,159.7L631.1,157.3L630.7,156.6L630,156.1L628.7,155.6L626.3,155.8L625.3,155.7L624.4,155L621.7,152L621,151.5L619.7,151.2L618,151.1L616.7,150.6L616.1,149.3L616.8,145.7L616.7,141.2L621.7,142.3L623.3,143.3L624,144.7L623.4,147.3L623.7,148.7L627,152.1L628.3,152.7L631.3,152.2L632.3,152.4L634.7,153.7L637.3,153.7L641.9,152L646.3,151.4L647.1,150.7L649,147.8L650,147.2L651,147.2L652.1,149.7L652.3,150.7L651.9,152.3L650.6,154.3L650.4,155L650.4,157L651.6,161L650.8,164.7L652.2,170L652.7,170.7L655.5,172.7L657.1,175.7L657.3,177.3L656,178.8Z M582.3,149.2L581.7,148.7L581.6,147.7L583,145.5L584,146.3L584.2,147L583.9,147.7L582.3,149.2Z M578.3,178.3L577,178.6L576,178.4L575.4,178L576.5,172.7L577.4,171L580.7,167.4L582.3,166.1L584,168L584.4,170.3L584.4,171.3L583.9,172.3L582,174L579.8,177L578.3,178.3Z M613,132.4L612,130.3L611.1,127L609.9,125L609.5,122.3L608,120.3L608,120L608.7,116.7L609.7,115L610.9,113.7L611.4,112.7L612.1,106L615.3,100.3L615.9,95.7L617.7,92.3L618,92L618.7,92L620,92.6L623,95.2L626.3,97L626.7,97.4L627.6,100L627.2,101L627.1,103.3L626.9,104L624.9,106L624.2,107.3L623.4,111.7L622.5,112.7L621.7,113.2L617.7,114.8L616.7,116L616.4,117L616.4,118.3L618.1,123L618.1,124.7L617.4,126L615.1,128.3L613.6,131.7L613,132.4Z M550.7,99.6L549,97.9L548.4,96.7L548.3,96L548.7,94.5L549,94L550,93.4L552.7,94.3L553.2,94.7L553.9,95.7L553.8,96.3L553.2,97.3L550.7,99.6Z M496.7,136.3L496,136.3L494.9,135.7L494,134.4L493.5,133L493.3,130.7L494.3,128.8L494.7,127.7L494.5,126.3L494,125.5L493.3,125L492,124.7L490,125.2L488,126.3L487.3,126.2L486.9,125.7L486.7,119.7L486.9,117.7L487.3,116.7L489,114.8L489.3,113L487.9,107L487.3,106L485.2,103.7L484.8,102L485,101L486,99L487.9,97L489.3,96L491,95.6L494.3,96.3L496.3,96.4L500,95.1L501.3,95L502.2,95.3L505,98.9L507.3,100.1L509.2,101.7L509.5,103.7L508.7,109.3L509.1,113L509,114L507.9,116L508.1,116.7L509,117.7L509.3,118.7L509,119.7L507.5,122L507,123.3L507.3,124L509.5,126.3L509.7,127.3L509,128.5L508,129.3L505.7,129.6L505,129.9L504.8,130.7L504.9,134.3L504.3,135.7L502.3,135.6L500.7,134.8L500,134.8L499,135L496.7,136.3Z M583,129.7L582.3,130L580,127L578.7,126.2L577.3,126.2L574.3,127.3L573,126.9L570.8,124L567.5,121.7L567,120.7L566.8,117.7L566.4,117L565.3,115.9L563.3,114.9L561.7,114.9L559.3,115.5L558.7,115.1L558,114.1L557,110.7L555,107.3L556,107.3L558.3,105.8L559.7,105.4L560.7,105.5L563.7,106.5L565.7,107.5L567.7,109.1L569.3,113.3L570.2,114L571,114.4L573.3,114.8L575,115.3L577.3,117.8L578.7,118.7L580.3,118.9L582.7,118.9L583.7,119.2L584.3,120L584.6,121L583.7,122.3L583.6,123.7L584,124.8L585.1,126.7L585.3,127.3L584.7,128.5L583,129.7Z M504.7,127.3L505.1,125.7L504.8,125L504.3,124.8L503.5,125.3L503.3,126.3L504,127.5L504.3,127.6L504.7,127.3Z M620,148.7L619,148.3L618.3,147L617.9,144L618,143.2L618.3,143L621.3,143.3L622.5,144.3L622.6,145.3L622,148.3L620,148.7Z M649.7,151.4L649.7,150.2L650.3,149.1L650.6,150L649.7,151.4Z M626.3,153.4L625.3,153.3L624.4,152.7L624.1,152L624.3,151.4L624.7,151.3L625.1,151.7L626.3,153.4Z M648.3,168.7L646.3,169L644.3,168.5L642.3,167.2L635,163.9L633.3,162L632.4,157.7L633.7,156.5L635.7,155.4L642.3,152.9L644.7,152.9L647.1,154.3L647.7,154.5L648.3,154.3L649.9,159.3L649.9,161L649.4,164.3L650.1,167L650,167.7L649.3,168.3L648.3,168.7Z M578.3,176.7L577.7,177L577.2,176.7L578.3,172.7L579.4,171L581,169.4L582,168.7L582.3,168.9L582.5,169.7L582.5,171.3L581.7,172.7L578.3,176.7Z M655.3,177L654.3,176.9L653.8,176.3L653.8,175.3L654.3,173.8L655.2,174.7L655.9,176L656,176.9L655.3,177Z M614.3,126L612.3,126L612,125.8L611,122.3L609.4,120L609.3,118L609.7,116.9L610.3,115.9L612.5,114.3L613.2,113.3L613.4,112.3L612.6,109.3L612.9,107L613.3,106L614.8,104.3L616.4,101.7L616.7,100.7L616.6,97.7L616.9,96L618,93.7L618.7,93.4L620.3,94.3L621.4,95.7L622.7,99.1L624.3,99.5L625,100L622.7,100.7L620.9,102.3L619.7,104.3L619.6,105.3L618.3,106.2L617.5,107.3L616.2,111.3L614.7,113.7L614.3,115.7L614.4,118.3L616,121.7L616.6,123.7L616.5,124.3L616,125.2L614.3,126Z M550.7,97.4L550.3,97.6L550.1,97.3L549.6,96.3L549.6,95.3L550,94.6L551.1,95L551.6,95.7L551.5,96.7L550.7,97.4Z M502.7,133.9L500,132.8L497.3,133.4L496.3,133.1L496,132L496.4,127.7L495.8,125.7L495.3,124.7L494.7,124L493.7,123.6L490,123.8L489,123.7L488.3,123.1L488,122.4L487.6,120.3L487.7,118.7L488.3,117.3L490.1,115L490.4,113L489.5,107.7L488.6,105.3L488.2,103.3L487,102.2L486.9,101.3L487.2,100L487.6,99.3L489.1,97.7L490.2,97L491.3,97L494,98.1L495,98.2L497,97.8L500,96.3L501.7,96.4L503.7,99.8L507.3,101.9L508.2,103L508.4,105L507.7,109L507.6,112.3L507,113.1L504.8,114.3L504.2,115.3L504.2,116L504.7,116.9L506.7,118.7L507.2,119.7L506.3,120.8L504,121.9L503.2,122.7L502.5,123.7L501.7,126L501.9,128.3L503,132L503.1,133.3L502.7,133.9Z M622,108.5L621.3,108.4L620.6,107.7L620.2,106.7L620.3,105.7L621.7,105.6L622.1,106L622.4,107L622,108.5Z M582.3,128L580.8,125.7L579,124.2L577.7,124.2L574.7,125.3L573.7,125.1L569,121L568.7,120L568.9,117.7L568.6,116.3L564.3,114.2L561,113.5L559.7,113L558.9,112L558.3,110.3L559.6,109.7L562,107.8L563,107.7L565,108.5L566.5,110L567.8,113L568.8,114.7L570.3,115.5L573,115.8L574.4,116.3L578,119.6L582.3,121.4L582.5,121.7L582.3,123.3L583.1,126.7L582.8,127.7L582.3,128Z M620.7,146.4L619.6,145.7L619.2,145L619.3,144.6L620,144.6L620.5,145L620.7,145.3L620.7,146.4Z M646.7,166.4L645.3,166.2L644.6,165.7L643.3,165.2L640.3,164.8L635.7,162.8L635,162.2L634.3,161L633.8,158.3L633.9,158L635.7,156.7L638.3,155.4L641.7,154.5L643,154.6L645,155.9L647.1,156.3L648.6,158.7L648.8,160.7L648.4,163L648.4,165L646.7,166.4Z M619,101.7L618.2,99.3L617.9,97.3L618.1,96L618.7,95.1L619.5,95.7L620.2,97L620.5,100L620.4,100.3L619,101.7Z M499.3,128.4L498.7,127.9L498,127L496.3,124L495.3,122.8L494.3,122.3L491,122.8L489.7,122.5L488.7,121.3L488.5,119.7L489,118.1L490.7,116.3L491.3,115.3L491.4,111L491.8,109.3L492.6,107.7L492.6,106.7L492,105.7L492.2,105.3L492,104.7L492.3,101.3L493,100.9L495.3,101.3L496.3,101.1L498,100.2L500,98.5L501,98.2L501.8,99.7L502.7,100.7L506.7,103L507.1,104L507.2,105.3L505.6,111L503,113.6L502.4,114.7L502.5,116L503.6,118.3L503.8,119.7L501.5,123.3L500.3,127.6L499.7,128.3L499.3,128.4Z M615,110.6L614.1,109.7L613.9,108.3L614.3,107.1L615.3,106.7L616,106.9L616.2,107.3L615.7,109.3L615,110.6Z M565.3,113L564.7,113.2L562.3,112.7L561,112.2L560.4,111.7L562,109.8L563.5,109.3L564.4,109.7L565.3,111L565.6,112.3L565.3,113Z M611.7,120L611,120.1L610.7,119.8L610.6,118L611.3,116.8L612.7,116.3L612.6,119L612.2,119.7L611.7,120Z M575,123L574.3,123L573.3,122.7L571.1,120.7L570.8,120L570.9,119L571.7,117L572,116.8L574,117.3L576.1,119L576.5,120.7L576.4,121.7L576,122.4L575,123Z M646.7,163.8L641.3,163.3L636.8,162L635.5,160.7L635,159.3L635,158.5L637,157L639.3,156.2L640.7,156.3L643.3,157.5L646.2,157.7L647.2,158.7L647.6,160.3L647.2,163.3L646.7,163.8Z M499.7,125.2L499,125.2L498.3,124.8L496.3,121.8L495,120.7L493.7,120.5L492,121.3L491,121.4L490.5,121.3L490,120.9L489.7,120L489.9,119L490.3,118.4L492.7,117.4L493.1,117L492.6,114.3L492.7,112.3L492.8,111.7L494.4,108.7L495,104L496.3,102.8L500.3,101.1L505.3,103.4L505.6,103.7L505.8,105L505.3,106.7L503.6,108.7L502.9,111.3L501.2,114.3L501.1,115.7L502.1,118.3L502.1,119.7L500.3,123.3L499.7,125.2Z M646,162.1L644.3,162L641.3,161.1L638.7,161.1L637.3,160.9L636.4,160L636.2,158.7L637.8,157.7L639,157.4L639.8,157.7L641,158.7L642,159.1L645.3,158.9L646.3,160.3L646.3,161.3L646,162.1Z M498.7,122.8L496.1,119.3L495.2,116L494.3,114.3L494.1,113L494.4,111.7L495.4,109.3L496.4,104.7L497.4,103.7L500,102.7L503.7,104L504.1,104.7L503.7,105.7L502.1,107L501.7,108L501.4,111.3L499.9,114.7L500,115.7L500.8,118L500.7,119.7L499.6,121.7L498.7,122.8Z M639,159.7L638,159.7L637.7,159.3L638.3,159.1L639,159.7Z M498.7,120L498,120.3L497,118.7L496.5,115.3L495.8,113.3L495.8,112L496.9,107L497.6,105.3L498.3,104.7L499.3,104.5L500.6,105.7L500.3,107.3L500.3,111L498.6,114.7L498.6,115.7L499.5,118.3L499.3,119.2L498.7,120Z M497.7,112.9L497.2,111.7L497.2,110.7L498.3,107.7L499,107.4L499.1,110.7L498.7,111.7L497.7,112.9Z" fill="none" stroke="#2f8ad6" stroke-width="1.1" stroke-linejoin="round"/>
<path d="M677.3,134L676,134.1L674.3,133.8L672.7,133.1L671.7,132.3L671,131.3L670.5,130L671,126.7L670.8,125.7L670.3,125.2L667.7,125.1L666.3,124.6L664.8,123L664.4,121.3L664.8,119.7L665.7,118.4L666.7,117.7L668.7,116.9L669.3,116.3L670.2,112L670.8,110.7L671.7,109.5L673,109L674.3,109.2L675.7,109.8L676.3,109.5L676.6,108.3L676.6,106.3L676.3,105.5L675.8,105L674.7,104.6L673.7,104.6L673.3,104.9L672.1,107.7L671.7,108.1L671,108.3L670,108L669.3,107.4L668.8,106.3L668.7,105.3L669.1,103.7L670.6,101.7L671.4,100L672.2,99L674,97.9L676.3,97.4L677.7,97.5L678.7,97.9L680.6,99.7L681.4,101L683.3,106.6L684,107.7L684.7,108.1L688,108.3L690,109.2L691,110.1L691.8,111.3L692.4,113.7L692.3,115L691.8,116.3L689.7,118.7L689.1,119.7L688.9,121.7L689.6,125L689,126.7L688,127.7L686.3,129L682.3,130.3L680.7,132.3L679.7,133.2L677.3,134Z M680.6,123.7L681.2,122.7L681.6,119.7L683,117.3L683,116.3L682.5,115L681.7,114.4L679.7,115.6L678.7,115.8L677.7,115.5L676.3,114.3L675.7,114.3L674.6,115.3L673.4,117.7L673.1,118.7L673.3,119.8L674.3,120.7L677.3,121.4L678.3,122.1L680,123.8L680.6,123.7Z M669.7,164.3L667.7,164L665.9,162.7L664.3,162L664.1,160L663.8,159.7L663.8,157.3L663.5,157L663.6,154.7L663.2,154.3L663.3,152L662.9,151.7L662.8,148.7L662.4,148.3L662.4,145.7L662,145.3L662,142.7L661.7,142.3L661.8,139.3L661.5,139L661.4,136L661.1,135.7L661.3,132.2L663,132.4L664.2,133L666.3,136.3L668.3,135.6L669.7,135.5L671.3,135.9L672.7,136.9L673.2,138L673.2,139.3L672.6,140.3L671,141.9L670.7,142.7L671.3,147.3L671.8,148L674,148L675,148.2L675.7,148.7L676.3,149.7L676.2,150.7L675.3,152.3L676.6,155L676.7,156L676.4,157.3L675.6,158.7L672.5,161L671.9,163.3L671,164L669.7,164.3Z M671.1,152.7L671.6,152L671.3,151.3L670.7,150.7L669.7,151L668.7,152.3L669,152.8L669.7,153L671.1,152.7Z M679,114L678,113.7L677.5,112.3L678.5,104.7L678,104.2L675.7,103.6L674,102.9L673.3,102.3L672.9,101.3L673,100.3L673.7,99.3L674.8,98.7L676,98.3L677,98.3L678,98.5L679.3,99.7L679.8,101.3L679.8,103.7L681.3,105.6L681.9,107.3L682.1,109L681.9,110.3L680,113.3L679,114Z M670.7,107L669.8,106.3L669.6,105.3L670,104.2L671,103.7L671.7,104L672.1,105.3L671.7,106.5L670.7,107Z M685.3,128.1L684,128.3L682.7,128L681.9,127L681.8,126L683.2,122.7L683.2,120.7L683.4,120L685.3,118.3L683.9,115L683.8,111.3L684.2,110.7L685.2,110L686.3,109.7L687.3,109.7L689,110.3L690,111.3L690.7,112.7L690.9,114.3L690.5,115.7L689.7,116.7L686.5,118.7L687.2,122L688.2,124L688.3,125L688,126L687.5,126.7L685.3,128.1Z M672,115.3L671.6,115L671.3,114L671.5,111.7L672.5,110.3L673.3,110.1L674,110.2L674.7,110.7L675.1,111.3L675.1,112.7L674.5,113.7L673.7,114.5L672.7,115.2L672,115.3Z M669.7,123.4L667.7,123.6L666.7,123L666.1,122.3L665.9,121.7L665.9,120.7L666.3,119.9L667,119.3L668,118.9L669.3,118.9L670.3,119.3L671,120L671.5,121L671.5,122L671,122.7L669.7,123.4Z M677.3,132.4L675.7,132.6L674.3,132.3L673,131.4L672.3,130.3L672.2,129L672.8,126.7L673,123.7L673.4,123L674.3,122.5L676,122.5L677.4,123.3L678,124.3L678.6,126.7L679.5,128.7L679.6,130L679.2,131L678.3,131.9L677.3,132.4Z M667.7,150.1L666.3,150.3L663,149.6L662.9,148.7L662.6,148.3L662.4,145.7L662.1,145.3L662.1,142.7L661.8,142.3L661.9,139.3L661.6,139L661.5,136L661.1,135.7L661.3,133.1L663,133.4L664.2,134.7L665.1,137L665,138L664.4,139.3L664.5,139.7L665,140.1L665.7,140.3L666.3,140L667.4,137.7L668.7,136.7L669.7,136.5L671,136.8L671.8,137.3L672.2,138L672.2,139L671.9,139.7L669.4,142L669.3,143L670,145.7L669.9,147.3L669.2,149L667.7,150.1Z M674.3,150.9L673.7,151L673,150.6L672.7,150L673,149.4L674,149.1L674.7,149.4L674.9,150.3L674.3,150.9Z M670,163.5L668.4,163.3L667.9,163L667,161.6L664.3,161L664.2,160L663.9,159.7L664,157.1L665,156.4L667.7,155.8L670,155L672.7,153.4L674,153.3L675,154L675.6,155L675.7,156L675.5,157L674.5,158.3L672,159.7L670.9,160.7L670.7,161.3L670.9,162.7L670,163.5Z M742,55.5L741.3,55.6L739.3,54.8L737.8,53.3L737.1,51.3L737.1,49L737.8,46.7L739.3,44.8L741.7,43.5L743.3,43.4L745.3,44.2L746.5,45.3L747.6,48L747.6,49.7L745.5,53.7L744.7,54.5L743.3,55.2L742,55.5Z M683.7,83.2L682.7,83.3L681.7,82.8L681.1,81.3L681.4,80.7L681.5,79.3L682.3,78.5L682.5,78L683.3,77.5L684.3,77.4L685.2,78L685.5,79.7L684.8,81.7L683.7,83.2Z M513.7,84.2L513,84.2L512,83.5L511.7,83L511.8,82.3L513.3,81.4L514.7,82.2L514.9,82.7L514.8,83.3L513.7,84.2Z M679,88.5L677.7,88.6L676.8,88L676.8,87.3L677.3,86.5L678.7,86.4L679.5,87L679.8,87.7L679,88.5Z M521,93.8L520,93.5L519.4,92.3L519.8,90.3L520.3,90.1L521.7,90.2L522.3,91.7L521.8,93.3L521,93.8Z M670.3,95.8L669.7,95.9L668.7,95.5L668.2,95L668.2,94.3L668.7,93.8L669.7,93.4L671,93.8L671.5,94.3L671.5,95L670.3,95.8Z M677.3,100.5L676.3,100.5L675.5,99.7L675.5,99L676,98.5L677.3,98.4L678.2,99L678.2,99.7L677.3,100.5Z M700.3,141.2L699.3,141.2L698.5,140.3L698.5,139.3L699.3,138.5L700.3,138.5L701.2,139.3L701.2,140.3L700.3,141.2Z M742.3,53.5L741,53.5L740.3,53.2L739.4,52.3L738.9,50.7L738.9,49.7L739.4,47.7L740.1,46.7L741.3,45.8L742.7,45.2L744.3,45.8L744.9,46.3L745.5,47.7L745.8,49L743.9,52.7L742.3,53.5Z" fill="none" stroke="#2f8ad6" stroke-width="0.9" stroke-linejoin="round"/>
<path d="M606.5,69.2C606,70.2 604.7,71 603.6,71.4C602.5,71.9 601,72 599.8,71.8C598.7,71.5 597.9,70.4 596.7,69.8C595.5,69.3 593.3,69.4 592.5,68.5C591.7,67.6 591.5,65.8 591.7,64.6C591.9,63.5 592.8,62.6 593.5,61.7C594.1,60.8 594.7,59.9 595.6,59.3C596.5,58.7 597.7,58.4 599,58.3C600.2,58.1 602.2,57.9 603.2,58.6C604.1,59.3 604.1,61.3 604.6,62.5C605.1,63.7 605.9,64.4 606.2,65.5C606.5,66.6 606.9,68.2 606.5,69.2Z" fill="#2f8ad6" stroke="#2f8ad6" stroke-width="0.8"/>
<path d="M601.9,66.5C601.6,66.9 600.8,66.8 600.2,66.9C599.6,67 598.8,67.3 598.3,67C597.8,66.8 597.4,65.9 597.2,65.4C597,64.8 597.1,64.3 597.3,63.9C597.5,63.4 597.9,62.7 598.3,62.7C598.8,62.6 599.7,63.3 600.2,63.6C600.8,64 601.5,64.3 601.8,64.8C602.1,65.3 602.1,66.2 601.9,66.5Z" fill="none" stroke="#fff" stroke-opacity="0.55" stroke-width="0.6"/>
<path d="M546,158C546.2,156.2 548.2,153.5 550,152C551.8,150.5 554.3,149.3 557,149C559.7,148.7 563,149.8 566,150C569,150.2 572.7,149.3 575,150C577.3,150.7 580.2,152.7 580,154C579.8,155.3 576.5,156.7 574,158C571.5,159.3 568,161 565,162C562,163 558.7,163.8 556,164C553.3,164.2 550.7,164 549,163C547.3,162 545.8,159.8 546,158Z" fill="#2f8ad6" fill-opacity="0.45" stroke="#2f8ad6" stroke-width="1"/>
<path d="M532.1,144.7C532,145.5 532.6,146.7 532.2,147.3C531.7,148 530.4,148.2 529.6,148.4C528.7,148.5 527.6,148.4 526.8,148.1C526,147.7 525.5,147 524.9,146.4C524.3,145.8 523.5,145.4 523,144.7C522.6,143.9 521.8,142.7 522.1,142C522.4,141.3 523.9,141 524.6,140.6C525.4,140.1 525.8,139.5 526.6,139.3C527.4,139.1 528.3,139.1 529.2,139.2C530.1,139.3 531.3,139.5 532,140C532.6,140.6 532.9,141.8 532.9,142.5C533,143.3 532.3,143.9 532.1,144.7Z" fill="#2f8ad6" stroke="#2f8ad6" stroke-width="0.8"/>
<path d="M529.9,144.1C529.8,144.4 529.4,144.8 529,144.9C528.7,145 528.1,144.9 527.7,144.8C527.2,144.6 526.5,144.6 526.3,144.3C526.1,144 526.2,143.5 526.4,143.2C526.5,142.8 526.7,142.6 527.1,142.4C527.4,142.2 528,142 528.4,142.1C528.8,142.2 529,142.7 529.3,143.1C529.5,143.4 529.9,143.8 529.9,144.1Z" fill="none" stroke="#fff" stroke-opacity="0.55" stroke-width="0.6"/>
<path d="M731.9,182.3C732,182.7 731.8,183.4 731.6,183.8C731.3,184.2 730.7,184.6 730.2,184.8C729.7,185 729.1,185 728.6,184.9C728.1,184.9 727.7,184.7 727.1,184.5C726.6,184.4 725.7,184.3 725.4,183.9C725.1,183.5 725.4,182.8 725.5,182.3C725.6,181.8 725.8,181.4 726,181C726.3,180.6 726.6,180.2 727,179.9C727.5,179.7 728.1,179.4 728.6,179.3C729.1,179.3 729.9,179.4 730.3,179.7C730.7,180 730.7,180.7 730.9,181.1C731.2,181.6 731.8,181.9 731.9,182.3Z" fill="#2f8ad6" stroke="#2f8ad6" stroke-width="0.8"/>
<path d="M729.8,182.3C729.8,182.5 729.5,182.7 729.4,182.9C729.2,183 728.9,183.2 728.6,183.2C728.3,183.2 728,183 727.8,182.9C727.6,182.8 727.5,182.5 727.5,182.3C727.5,182.1 727.6,181.8 727.8,181.7C727.9,181.5 728.3,181.5 728.6,181.5C728.9,181.5 729.2,181.6 729.4,181.7C729.6,181.8 729.8,182.1 729.8,182.3Z" fill="none" stroke="#fff" stroke-opacity="0.55" stroke-width="0.6"/>
<path d="M628.7,195C628.7,195.6 628.5,196.4 628.1,196.8C627.6,197.3 626.6,197.3 625.9,197.6C625.3,197.9 624.7,198.5 624,198.6C623.3,198.7 622.1,198.7 621.5,198.4C620.9,198 620.6,197.2 620.3,196.7C620,196.1 619.7,195.6 619.7,195C619.7,194.4 620,193.9 620.3,193.3C620.6,192.7 620.8,191.8 621.4,191.5C622.1,191.3 623.2,191.5 624,191.6C624.8,191.7 625.3,192.1 626,192.3C626.7,192.6 627.7,192.7 628.1,193.2C628.6,193.6 628.7,194.4 628.7,195Z" fill="#2f8ad6" stroke="#2f8ad6" stroke-width="0.8"/>
<path d="M625.5,195C625.5,195.3 625.4,195.6 625.1,195.7C624.9,195.9 624.4,196.1 624,196.1C623.6,196.1 623.2,195.9 622.9,195.7C622.7,195.5 622.4,195.2 622.4,195C622.4,194.8 622.6,194.4 622.9,194.3C623.2,194.1 623.6,194 624,194C624.4,194 624.9,194.1 625.2,194.2C625.4,194.4 625.5,194.7 625.5,195Z" fill="none" stroke="#fff" stroke-opacity="0.55" stroke-width="0.6"/>
<path d="M660.1,183.8C660.3,184.6 659.5,185.7 659.1,186.5C658.8,187.4 658.6,188.1 658,188.9C657.5,189.7 656.8,191 655.9,191.3C655.1,191.7 653.7,191.2 652.7,191C651.7,190.8 650.8,190.5 650.1,190C649.5,189.5 649.2,188.7 648.8,187.9C648.4,187.1 647.6,186.2 647.7,185.4C647.8,184.5 648.6,183.3 649.4,182.8C650.2,182.2 651.5,182.3 652.5,181.9C653.5,181.6 654.4,180.9 655.4,180.8C656.3,180.8 657.4,181.2 658.2,181.7C659,182.2 659.9,183 660.1,183.8Z" fill="#2f8ad6" stroke="#2f8ad6" stroke-width="0.8"/>
<path d="M655.7,185.4C655.8,185.8 656.1,186.2 656,186.5C655.8,186.9 655,187.3 654.5,187.4C654,187.5 653.6,187.4 653.1,187.3C652.6,187.2 651.8,187.1 651.7,186.8C651.6,186.5 652.1,185.9 652.4,185.6C652.7,185.2 653,184.8 653.5,184.6C653.9,184.4 654.8,184.2 655.1,184.3C655.5,184.5 655.5,185 655.7,185.4Z" fill="none" stroke="#fff" stroke-opacity="0.55" stroke-width="0.6"/>
<path d="M691.6,163.7C691.5,164.6 690.7,165.3 690.3,166.3C689.9,167.3 690.2,168.7 689.3,169.5C688.4,170.2 686.4,170.4 685,170.6C683.6,170.7 682.1,170.6 680.9,170.3C679.8,169.9 679.1,169.2 678.2,168.6C677.4,167.9 676.3,167.3 675.9,166.4C675.5,165.6 675.1,164.1 675.7,163.3C676.4,162.5 678.6,162.1 679.8,161.5C681,160.9 681.8,160.1 683.1,159.7C684.3,159.4 685.9,159.3 687.2,159.5C688.5,159.7 690.2,160 690.9,160.7C691.7,161.4 691.7,162.7 691.6,163.7Z" fill="#2f8ad6" stroke="#2f8ad6" stroke-width="0.8"/>
<path d="M686.7,164.5C686.8,164.9 686.6,165.5 686.2,165.8C685.8,166.2 684.9,166.5 684.3,166.6C683.6,166.7 682.8,166.7 682.3,166.5C681.7,166.3 681.2,165.9 681.2,165.5C681.1,165.1 681.5,164.6 681.9,164.2C682.4,163.9 683.1,163.4 683.7,163.3C684.3,163.2 685.2,163.3 685.7,163.5C686.2,163.7 686.6,164.1 686.7,164.5Z" fill="none" stroke="#fff" stroke-opacity="0.55" stroke-width="0.6"/>
<path d="M481.5,117.6C481.6,118.3 481.3,119.1 480.7,119.8C480.2,120.4 479.1,120.9 478.2,121.3C477.3,121.6 476.2,121.7 475.1,121.9C474,122.1 472.5,122.5 471.6,122.3C470.6,122.1 469.9,121.3 469.4,120.7C468.9,120.1 468.7,119.4 468.6,118.7C468.6,118.1 468.8,117.4 469.2,116.7C469.7,116.1 470.3,115.4 471.2,114.9C472,114.5 473.4,113.9 474.4,113.9C475.5,113.9 476.5,114.5 477.4,114.8C478.4,115.1 479.5,115.3 480.2,115.7C480.9,116.2 481.4,116.9 481.5,117.6Z" fill="#e8642a" stroke="#e8642a" stroke-width="0.8"/>
<path d="M477.2,118C477.2,118.3 476.6,118.6 476.2,118.8C475.9,119.1 475.4,119.5 474.9,119.5C474.4,119.6 473.7,119.3 473.3,119.2C473,119 472.8,118.7 472.7,118.4C472.6,118.1 472.6,117.6 472.9,117.4C473.2,117.2 474.1,117.2 474.7,117.1C475.3,117.1 475.9,117 476.4,117.2C476.8,117.3 477.2,117.7 477.2,118Z" fill="none" stroke="#fff" stroke-opacity="0.55" stroke-width="0.6"/>
<path d="M500.4,112C500.4,113.1 500,114.4 499.3,115.3C498.6,116.2 497.3,117 496.2,117.4C495,117.8 493.8,117.8 492.5,118C491.2,118.1 489.4,118.6 488.3,118.2C487.2,117.7 486.4,116.3 485.9,115.2C485.4,114.2 485.2,113.1 485.2,112C485.3,110.9 485.6,109.8 486.2,108.9C486.7,107.9 487.5,106.9 488.6,106.2C489.6,105.6 491.3,104.9 492.5,105C493.7,105.2 494.8,106.3 495.9,107C497,107.6 498.3,107.9 499,108.8C499.8,109.6 500.4,110.9 500.4,112Z" fill="#e8642a" stroke="#e8642a" stroke-width="0.8"/>
<path d="M495.3,112C495.3,112.4 494.6,112.8 494.1,113.2C493.7,113.5 493.1,114.1 492.5,114.2C491.9,114.2 491.1,113.7 490.7,113.3C490.3,113 490.1,112.5 490,112C490,111.5 490,110.7 490.4,110.4C490.8,110.2 491.8,110.3 492.5,110.3C493.2,110.3 494,110.3 494.4,110.6C494.9,110.9 495.4,111.6 495.3,112Z" fill="none" stroke="#fff" stroke-opacity="0.55" stroke-width="0.6"/>
<path d="M514.5,119.5C514.6,120.5 514,121.7 513,122.5C512,123.4 510.3,124 508.7,124.4C507.2,124.8 505.5,124.8 503.7,125C501.9,125.1 499.5,125.5 498,125.1C496.5,124.7 495.4,123.4 494.7,122.5C494,121.5 493.7,120.5 493.7,119.5C493.8,118.5 494.3,117.5 495,116.6C495.8,115.8 496.9,114.8 498.3,114.2C499.8,113.6 502,113 503.7,113.2C505.4,113.3 506.9,114.3 508.4,114.9C509.9,115.5 511.6,115.8 512.7,116.6C513.7,117.3 514.5,118.5 514.5,119.5Z" fill="#e8642a" stroke="#e8642a" stroke-width="0.8"/>
<path d="M507.6,119.5C507.5,119.9 506.6,120.3 505.9,120.6C505.3,120.9 504.5,121.5 503.7,121.5C502.9,121.5 501.8,121 501.2,120.7C500.6,120.4 500.4,119.9 500.3,119.5C500.3,119.1 500.2,118.3 500.8,118.1C501.4,117.8 502.8,117.9 503.7,117.9C504.6,118 505.7,117.9 506.3,118.2C507,118.5 507.7,119.1 507.6,119.5Z" fill="none" stroke="#fff" stroke-opacity="0.55" stroke-width="0.6"/>
<path d="M520.5,106.4C520.5,107.2 520.2,108.2 519.7,108.9C519.2,109.5 518.3,110.1 517.5,110.4C516.7,110.7 515.8,110.7 514.9,110.8C514,110.9 512.7,111.3 512,111C511.2,110.6 510.6,109.6 510.3,108.8C509.9,108 509.8,107.2 509.8,106.4C509.8,105.6 510,104.8 510.4,104.1C510.8,103.4 511.4,102.6 512.1,102.1C512.9,101.6 514,101.2 514.9,101.3C515.8,101.4 516.5,102.2 517.3,102.7C518.1,103.1 519,103.4 519.5,104C520,104.6 520.4,105.6 520.5,106.4Z" fill="#e8642a" stroke="#e8642a" stroke-width="0.8"/>
<path d="M516.9,106.4C516.9,106.7 516.4,107 516,107.3C515.7,107.5 515.3,108 514.9,108C514.5,108 513.9,107.6 513.6,107.4C513.3,107.1 513.2,106.8 513.2,106.4C513.1,106 513.1,105.5 513.4,105.3C513.7,105 514.4,105.1 514.9,105.1C515.4,105.1 515.9,105.1 516.3,105.4C516.6,105.6 516.9,106.1 516.9,106.4Z" fill="none" stroke="#fff" stroke-opacity="0.55" stroke-width="0.6"/>
<path d="M508.9,132.5C509,133.5 508.6,134.7 508.1,135.5C507.5,136.4 506.5,137 505.6,137.4C504.8,137.8 503.8,137.8 502.8,138C501.8,138.1 500.4,138.5 499.6,138.1C498.7,137.7 498.1,136.4 497.7,135.5C497.3,134.5 497.1,133.5 497.1,132.5C497.2,131.5 497.4,130.5 497.9,129.6C498.3,128.8 498.9,127.8 499.7,127.2C500.6,126.6 501.8,126 502.8,126.2C503.8,126.3 504.6,127.3 505.5,127.9C506.3,128.5 507.3,128.8 507.9,129.6C508.5,130.3 508.9,131.5 508.9,132.5Z" fill="#e8642a" stroke="#e8642a" stroke-width="0.8"/>
<path d="M505,132.5C505,132.9 504.4,133.3 504.1,133.6C503.7,133.9 503.2,134.5 502.8,134.5C502.4,134.5 501.7,134 501.4,133.7C501.1,133.4 500.9,132.9 500.9,132.5C500.8,132.1 500.8,131.3 501.1,131.1C501.5,130.8 502.3,130.9 502.8,130.9C503.3,131 503.9,130.9 504.3,131.2C504.7,131.5 505.1,132.1 505,132.5Z" fill="none" stroke="#fff" stroke-opacity="0.55" stroke-width="0.6"/>
<path d="M538.5,124.1C538.6,124.6 538.3,125.2 538,125.6C537.6,126 537,126.3 536.4,126.5C535.8,126.7 535.2,126.7 534.5,126.8C533.8,126.8 532.9,127 532.4,126.8C531.8,126.6 531.4,126 531.1,125.5C530.9,125.1 530.8,124.6 530.8,124.1C530.8,123.6 531,123.1 531.3,122.7C531.5,122.3 531.9,121.8 532.5,121.5C533,121.2 533.9,120.9 534.5,121C535.1,121.1 535.7,121.6 536.2,121.9C536.8,122.1 537.5,122.3 537.9,122.7C538.2,123 538.5,123.6 538.5,124.1Z" fill="#e8642a" stroke="#e8642a" stroke-width="0.8"/>
<path d="M536,124.1C535.9,124.3 535.6,124.5 535.3,124.6C535.1,124.8 534.8,125.1 534.5,125.1C534.2,125.1 533.8,124.9 533.6,124.7C533.4,124.5 533.3,124.3 533.2,124.1C533.2,123.9 533.2,123.5 533.4,123.4C533.6,123.3 534.2,123.3 534.5,123.3C534.8,123.3 535.2,123.3 535.5,123.5C535.7,123.6 536,123.9 536,124.1Z" fill="none" stroke="#fff" stroke-opacity="0.55" stroke-width="0.6"/>
<path d="M559,100.6C559,101.4 558.5,102.5 557.8,103.2C557,103.9 555.6,104.4 554.4,104.8C553.2,105.1 551.9,105.1 550.5,105.2C549.1,105.3 547.2,105.7 546,105.4C544.8,105 544,103.9 543.4,103.1C542.9,102.3 542.7,101.4 542.7,100.6C542.7,99.8 543.1,98.9 543.7,98.2C544.3,97.4 545.2,96.6 546.3,96.1C547.4,95.6 549.2,95.1 550.5,95.2C551.8,95.3 553,96.2 554.2,96.7C555.3,97.2 556.7,97.5 557.5,98.1C558.3,98.8 558.9,99.8 559,100.6Z" fill="#e8642a" stroke="#e8642a" stroke-width="0.8"/>
<path d="M553.6,100.6C553.5,100.9 552.8,101.2 552.2,101.5C551.7,101.8 551.1,102.3 550.5,102.3C549.9,102.3 549,101.9 548.5,101.6C548.1,101.3 547.9,101 547.9,100.6C547.8,100.2 547.8,99.6 548.2,99.4C548.7,99.2 549.8,99.3 550.5,99.3C551.2,99.3 552.1,99.3 552.6,99.5C553.1,99.7 553.6,100.3 553.6,100.6Z" fill="none" stroke="#fff" stroke-opacity="0.55" stroke-width="0.6"/>
<path d="M574.6,114.2C575,115 575,116.2 574.7,117.1C574.4,118 573.5,119 572.8,119.6C572,120.3 571,120.7 570,121.1C569,121.6 567.7,122.5 566.7,122.5C565.7,122.5 564.6,121.6 563.9,120.9C563.2,120.3 562.7,119.5 562.5,118.6C562.2,117.8 562.2,116.8 562.3,115.9C562.5,115 562.9,114 563.5,113.1C564.2,112.3 565.3,111.4 566.3,111.1C567.3,110.8 568.6,111.4 569.6,111.6C570.7,111.8 571.8,111.7 572.6,112.1C573.5,112.5 574.3,113.4 574.6,114.2Z" fill="#e8642a" stroke="#e8642a" stroke-width="0.8"/>
<path d="M570.6,115.7C570.7,116 570.2,116.5 569.9,116.9C569.7,117.4 569.4,118 568.9,118.2C568.5,118.4 567.7,118.2 567.2,118.1C566.8,117.9 566.5,117.6 566.3,117.2C566.2,116.9 565.9,116.3 566.2,115.9C566.4,115.6 567.3,115.3 567.8,115.2C568.4,115 569,114.8 569.4,114.8C569.9,114.9 570.5,115.3 570.6,115.7Z" fill="none" stroke="#fff" stroke-opacity="0.55" stroke-width="0.6"/>
<path d="M564.1,123C564.2,123.8 563.8,124.7 563.3,125.4C562.7,126 561.7,126.5 560.8,126.8C560,127.1 559,127.1 558,127.2C557,127.3 555.6,127.7 554.8,127.3C553.9,127 553.3,126 552.9,125.3C552.5,124.6 552.3,123.7 552.3,123C552.4,122.3 552.6,121.5 553.1,120.8C553.5,120.1 554.1,119.4 554.9,118.9C555.8,118.5 557,118 558,118.1C559,118.2 559.8,119 560.7,119.5C561.5,119.9 562.5,120.1 563.1,120.7C563.7,121.3 564.1,122.2 564.1,123Z" fill="#e8642a" stroke="#e8642a" stroke-width="0.8"/>
<path d="M560.2,123C560.2,123.3 559.6,123.6 559.3,123.8C558.9,124.1 558.4,124.5 558,124.5C557.6,124.5 556.9,124.2 556.6,123.9C556.3,123.7 556.1,123.3 556.1,123C556,122.7 556,122.1 556.3,121.9C556.7,121.7 557.5,121.8 558,121.8C558.5,121.8 559.1,121.8 559.5,122C559.9,122.2 560.3,122.7 560.2,123Z" fill="none" stroke="#fff" stroke-opacity="0.55" stroke-width="0.6"/>
<path d="M618.5,103.2C618.5,104 618.2,104.9 617.8,105.5C617.3,106.1 616.5,106.6 615.7,106.9C615,107.2 614.2,107.2 613.3,107.3C612.4,107.4 611.3,107.7 610.5,107.4C609.8,107.1 609.3,106.1 609,105.4C608.6,104.7 608.5,103.9 608.5,103.2C608.5,102.5 608.7,101.7 609.1,101.1C609.5,100.4 610,99.7 610.7,99.2C611.4,98.8 612.5,98.3 613.3,98.4C614.1,98.5 614.8,99.3 615.6,99.7C616.3,100.2 617.1,100.4 617.6,101C618.1,101.6 618.5,102.4 618.5,103.2Z" fill="#e8642a" stroke="#e8642a" stroke-width="0.8"/>
<path d="M615.2,103.2C615.1,103.5 614.7,103.8 614.4,104C614.1,104.3 613.7,104.7 613.3,104.7C612.9,104.7 612.4,104.4 612.1,104.1C611.8,103.9 611.7,103.5 611.7,103.2C611.6,102.9 611.6,102.3 611.9,102.1C612.2,101.9 612.9,102 613.3,102C613.7,102 614.3,102 614.6,102.2C614.9,102.4 615.2,102.9 615.2,103.2Z" fill="none" stroke="#fff" stroke-opacity="0.55" stroke-width="0.6"/>
<path d="M644.4,104.5C644.4,105.3 644.1,106.2 643.6,106.8C643.1,107.4 642.1,107.9 641.3,108.2C640.5,108.5 639.6,108.5 638.6,108.6C637.6,108.7 636.3,109 635.5,108.7C634.7,108.4 634.1,107.4 633.8,106.7C633.4,106 633.2,105.2 633.3,104.5C633.3,103.8 633.5,103 633.9,102.4C634.4,101.7 634.9,101 635.7,100.5C636.5,100.1 637.7,99.6 638.6,99.7C639.5,99.8 640.3,100.6 641.1,101C641.9,101.5 642.9,101.7 643.4,102.3C644,102.9 644.4,103.7 644.4,104.5Z" fill="#e8642a" stroke="#e8642a" stroke-width="0.8"/>
<path d="M640.7,104.5C640.6,104.8 640.1,105.1 639.8,105.3C639.4,105.6 639,106 638.6,106C638.2,106 637.6,105.7 637.3,105.4C637,105.2 636.8,104.8 636.8,104.5C636.8,104.2 636.7,103.6 637,103.4C637.3,103.2 638.1,103.3 638.6,103.3C639.1,103.3 639.7,103.3 640,103.5C640.4,103.7 640.7,104.2 640.7,104.5Z" fill="none" stroke="#fff" stroke-opacity="0.55" stroke-width="0.6"/>
<path d="M625.2,110.2C625.8,111.2 626.2,112.6 626,113.7C625.9,114.8 625.3,116.1 624.6,117C623.9,117.9 622.9,118.4 621.9,119.2C621,119.9 619.8,121.1 618.7,121.3C617.6,121.4 616.2,120.5 615.3,119.8C614.3,119.1 613.6,118.2 613.1,117.3C612.6,116.3 612.3,115.2 612.2,114.1C612.2,113 612.3,111.7 612.8,110.6C613.3,109.6 614.3,108.2 615.4,107.8C616.4,107.3 617.9,107.8 619.1,107.9C620.3,107.9 621.5,107.6 622.5,108C623.5,108.4 624.6,109.3 625.2,110.2Z" fill="#e8642a" stroke="#e8642a" stroke-width="0.8"/>
<path d="M621.2,112.6C621.4,113 621,113.7 620.8,114.2C620.6,114.7 620.4,115.5 620,115.8C619.6,116.1 618.6,116 618.1,115.9C617.6,115.8 617.2,115.4 616.9,115C616.6,114.6 616.2,114 616.4,113.5C616.6,113.1 617.5,112.7 618,112.4C618.6,112.1 619.2,111.7 619.7,111.8C620.3,111.8 621,112.2 621.2,112.6Z" fill="none" stroke="#fff" stroke-opacity="0.55" stroke-width="0.6"/>
<path d="M622.2,129.5C622.1,130.5 621.4,131.6 620.4,132.3C619.5,132.9 617.9,133.3 616.6,133.5C615.2,133.7 613.8,133.4 612.4,133.3C610.9,133.1 608.8,133.2 607.6,132.6C606.4,132 605.8,130.5 605.3,129.5C604.9,128.5 604.9,127.4 605.1,126.5C605.3,125.5 605.8,124.6 606.6,123.8C607.4,123.1 608.5,122.3 609.8,121.9C611.1,121.5 613,121.3 614.4,121.6C615.8,122 616.8,123.3 618,124.1C619.1,124.8 620.5,125.4 621.2,126.3C621.9,127.2 622.3,128.5 622.2,129.5Z" fill="#e8642a" stroke="#e8642a" stroke-width="0.8"/>
<path d="M616.5,128.5C616.4,128.8 615.5,129.1 615,129.3C614.4,129.5 613.6,129.9 613,129.8C612.3,129.8 611.4,129.1 611,128.7C610.6,128.3 610.5,127.9 610.5,127.4C610.5,127 610.6,126.3 611.1,126.1C611.7,125.9 612.8,126.2 613.6,126.4C614.3,126.5 615.2,126.7 615.7,127C616.2,127.4 616.6,128.1 616.5,128.5Z" fill="none" stroke="#fff" stroke-opacity="0.55" stroke-width="0.6"/>
<path d="M612.9,135.4C613,136.2 612.6,137.1 612.1,137.7C611.5,138.3 610.5,138.8 609.6,139.1C608.8,139.4 607.8,139.4 606.8,139.5C605.8,139.6 604.4,139.9 603.6,139.6C602.7,139.3 602.1,138.3 601.7,137.6C601.3,136.9 601.1,136.1 601.1,135.4C601.2,134.7 601.4,133.9 601.9,133.3C602.3,132.6 602.9,131.9 603.7,131.4C604.6,131 605.8,130.5 606.8,130.6C607.8,130.7 608.6,131.5 609.5,131.9C610.3,132.4 611.3,132.6 611.9,133.2C612.5,133.8 612.9,134.6 612.9,135.4Z" fill="#e8642a" stroke="#e8642a" stroke-width="0.8"/>
<path d="M609,135.4C609,135.7 608.4,136 608.1,136.2C607.7,136.5 607.2,136.9 606.8,136.9C606.4,136.9 605.7,136.6 605.4,136.3C605.1,136.1 604.9,135.7 604.9,135.4C604.8,135.1 604.8,134.5 605.1,134.3C605.5,134.1 606.3,134.2 606.8,134.2C607.3,134.2 607.9,134.2 608.3,134.4C608.7,134.6 609.1,135.1 609,135.4Z" fill="none" stroke="#fff" stroke-opacity="0.55" stroke-width="0.6"/>
<path d="M653.9,148C653.9,148.8 653.3,149.9 652.4,150.6C651.4,151.3 649.7,151.8 648.2,152.2C646.6,152.5 645,152.5 643.2,152.6C641.4,152.7 639,153.1 637.5,152.8C636.1,152.4 635,151.3 634.3,150.5C633.6,149.7 633.3,148.8 633.4,148C633.4,147.2 633.9,146.3 634.6,145.6C635.4,144.8 636.5,144 637.9,143.5C639.3,143 641.5,142.5 643.2,142.6C644.9,142.7 646.3,143.6 647.8,144.1C649.3,144.6 651,144.9 652.1,145.5C653.1,146.2 653.8,147.2 653.9,148Z" fill="#e8642a" stroke="#e8642a" stroke-width="0.8"/>
<path d="M647.1,148C647,148.3 646,148.6 645.4,148.9C644.8,149.2 644,149.7 643.2,149.7C642.4,149.7 641.3,149.3 640.7,149C640.2,148.7 639.9,148.4 639.9,148C639.8,147.6 639.8,147 640.3,146.8C640.9,146.6 642.3,146.7 643.2,146.7C644.1,146.7 645.2,146.7 645.8,146.9C646.5,147.1 647.1,147.7 647.1,148Z" fill="none" stroke="#fff" stroke-opacity="0.55" stroke-width="0.6"/>
<path d="M678.9,119.5C678.9,120.2 678.6,121 678.1,121.6C677.6,122.1 676.6,122.6 675.8,122.8C675,123.1 674.1,123.1 673.1,123.2C672.1,123.3 670.8,123.6 670,123.3C669.2,123 668.6,122.1 668.3,121.5C667.9,120.9 667.7,120.2 667.8,119.5C667.8,118.8 668,118.2 668.4,117.6C668.9,117 669.4,116.3 670.2,115.9C671,115.5 672.2,115.1 673.1,115.2C674,115.3 674.8,116 675.6,116.4C676.4,116.8 677.4,117 677.9,117.5C678.5,118 678.9,118.8 678.9,119.5Z" fill="#e8642a" stroke="#e8642a" stroke-width="0.8"/>
<path d="M675.2,119.5C675.1,119.8 674.6,120 674.3,120.2C673.9,120.5 673.5,120.8 673.1,120.8C672.7,120.9 672.1,120.5 671.8,120.3C671.5,120.1 671.3,119.8 671.3,119.5C671.3,119.2 671.2,118.7 671.5,118.5C671.8,118.4 672.6,118.4 673.1,118.4C673.6,118.5 674.2,118.4 674.5,118.6C674.9,118.8 675.2,119.2 675.2,119.5Z" fill="none" stroke="#fff" stroke-opacity="0.55" stroke-width="0.6"/>
<path d="M674.6,145.2C674.6,146 674.3,146.9 673.9,147.5C673.4,148.1 672.6,148.6 671.8,148.9C671.1,149.2 670.3,149.2 669.4,149.3C668.5,149.4 667.4,149.7 666.6,149.4C665.9,149.1 665.4,148.1 665.1,147.4C664.7,146.7 664.6,145.9 664.6,145.2C664.6,144.5 664.8,143.7 665.2,143.1C665.6,142.4 666.1,141.7 666.8,141.2C667.5,140.8 668.6,140.3 669.4,140.4C670.2,140.5 670.9,141.3 671.7,141.7C672.4,142.2 673.2,142.4 673.7,143C674.2,143.6 674.6,144.4 674.6,145.2Z" fill="#e8642a" stroke="#e8642a" stroke-width="0.8"/>
<path d="M671.3,145.2C671.2,145.5 670.8,145.8 670.5,146C670.2,146.3 669.8,146.7 669.4,146.7C669,146.7 668.5,146.4 668.2,146.1C667.9,145.9 667.8,145.5 667.8,145.2C667.7,144.9 667.7,144.3 668,144.1C668.3,143.9 669,144 669.4,144C669.8,144 670.4,144 670.7,144.2C671,144.4 671.3,144.9 671.3,145.2Z" fill="none" stroke="#fff" stroke-opacity="0.55" stroke-width="0.6"/>
<path d="M670.3,155C670.3,155.8 670,156.7 669.5,157.3C669,157.9 668,158.4 667.2,158.7C666.4,159 665.5,159 664.5,159.1C663.5,159.2 662.2,159.5 661.4,159.2C660.6,158.9 660,157.9 659.7,157.2C659.3,156.5 659.1,155.7 659.2,155C659.2,154.3 659.4,153.5 659.8,152.9C660.3,152.2 660.8,151.5 661.6,151C662.4,150.6 663.6,150.1 664.5,150.2C665.4,150.3 666.2,151.1 667,151.5C667.8,152 668.8,152.2 669.3,152.8C669.9,153.4 670.3,154.2 670.3,155Z" fill="#e8642a" stroke="#e8642a" stroke-width="0.8"/>
<path d="M666.6,155C666.5,155.3 666,155.6 665.7,155.8C665.3,156.1 664.9,156.5 664.5,156.5C664.1,156.5 663.5,156.2 663.2,155.9C662.9,155.7 662.7,155.3 662.7,155C662.7,154.7 662.6,154.1 662.9,153.9C663.2,153.7 664,153.8 664.5,153.8C665,153.8 665.6,153.8 665.9,154C666.3,154.2 666.6,154.7 666.6,155Z" fill="none" stroke="#fff" stroke-opacity="0.55" stroke-width="0.6"/>
<circle cx="462.3" cy="139.5" r="0.9" fill="#e8642a"/>
<text x="473.1" y="47" font-size="8.2" font-weight="bold" fill="#111">S60</text>
<text x="593.1" y="47" font-size="8.2" font-weight="bold" fill="#111">S60</text>
<text x="738.4" y="35.5" font-size="8.2" font-weight="bold" fill="#111">G10</text>
<text x="506.5" y="74.6" font-size="8.2" font-weight="bold" fill="#111">S55</text>
<text x="615.7" y="71.4" font-size="8.2" font-weight="bold" fill="#111">S55</text>
<text x="455.7" y="85.5" font-size="8.2" font-weight="bold" fill="#111">T35</text>
<text x="444.6" y="104.9" font-size="8.2" font-weight="bold" fill="#111">T30</text>
<text x="522" y="97.6" font-size="8.2" font-weight="bold" fill="#111">I13</text>
<text x="528.1" y="79.8" font-size="8.2" font-weight="bold" fill="#111">S16</text>
<text x="548.3" y="77.4" font-size="8.2" font-weight="bold" fill="#111">F20/23/26</text>
<text x="572" y="92.2" font-size="8.2" font-weight="bold" fill="#111">Y42</text>
<text x="597" y="82.4" font-size="8.2" font-weight="bold" fill="#111">L18</text>
<text x="588.2" y="104.3" font-size="8.2" font-weight="bold" fill="#111">L31</text>
<text x="636.5" y="77" font-size="8.2" font-weight="bold" fill="#111">L19/21/27/34</text>
<text x="654" y="91.3" font-size="8.2" font-weight="bold" fill="#111">N15</text>
<text x="648.5" y="103.2" font-size="8.2" font-weight="bold" fill="#111">S50</text>
<text x="437.1" y="126" font-size="8.2" font-weight="bold" fill="#111">V24/25</text>
<text x="540.3" y="127.9" font-size="8.2" font-weight="bold" fill="#111">T9</text>
<text x="527.5" y="138.1" font-size="8.2" font-weight="bold" fill="#111">I33</text>
<text x="464" y="144.7" font-size="8.2" font-weight="bold" fill="#111">V17</text>
<text x="507" y="158.5" font-size="8.2" font-weight="bold" fill="#111">S50</text>
<text x="546.4" y="146.7" font-size="8.2" font-weight="bold" fill="#111">V58</text>
<text x="520.5" y="166" font-size="8.2" font-weight="bold" fill="#111">V52</text>
<text x="522.8" y="175.6" font-size="8.2" font-weight="bold" fill="#111">V49</text>
<text x="518" y="184.9" font-size="8.2" font-weight="bold" fill="#111">I46/V62</text>
<text x="542.1" y="199" font-size="8.2" font-weight="bold" fill="#111">P54</text>
<text x="569.5" y="197.6" font-size="8.2" font-weight="bold" fill="#111">V47</text>
<text x="586.3" y="193.4" font-size="8.2" font-weight="bold" fill="#111">Y59</text>
<text x="595.6" y="162" font-size="8.2" font-weight="bold" fill="#111">K53</text>
<text x="700.6" y="113.6" font-size="8.2" font-weight="bold" fill="#111">N45</text>
<text x="666.3" y="133.4" font-size="8.2" font-weight="bold" fill="#111">F56</text>
<text x="701.5" y="133.5" font-size="8.2" font-weight="bold" fill="#111">A22</text>
<text x="701.5" y="143.5" font-size="8.2" font-weight="bold" fill="#111">R61, A36</text>
<text x="705.8" y="160.6" font-size="8.2" font-weight="bold" fill="#111">N64</text>
<text x="707.4" y="171.6" font-size="8.2" font-weight="bold" fill="#111">N48</text>
<text x="636.1" y="177.8" font-size="8.2" font-weight="bold" fill="#111">L51</text>
<text x="604" y="182.8" font-size="8.2" font-weight="bold" fill="#111">Y57</text>
<text x="674.2" y="188" font-size="8.2" font-weight="bold" fill="#111">R38</text>
<text x="604" y="193.4" font-size="8.2" font-weight="bold" fill="#111">E8</text>
<text x="670" y="199.2" font-size="8.2" font-weight="bold" fill="#111">K63</text>
<text x="600.9" y="202.6" font-size="8.2" font-weight="bold" fill="#111">L65</text>
<text x="742.6" y="190.3" font-size="8.2" font-weight="bold" fill="#111">P54</text>
<polygon points="479.8,50.1 479.6,59.5 480.4,59.5 482,50.3" fill="#111"/>
<polygon points="599.4,50.1 599.6,58.6 600.4,58.6 601.6,50.3" fill="#111"/>
<polygon points="746.2,39.4 742.2,47.8 742.8,48.2 748.2,40.6" fill="#111"/>
<polygon points="511.9,75.4 508.9,95.1 509.7,95.3 514.1,75.8" fill="#111"/>
<polygon points="620,72.9 617,97.3 617.8,97.5 622.2,73.3" fill="#111"/>
<polygon points="470.5,84.9 486.4,90.3 486.6,89.5 471.3,82.7" fill="#111"/>
<polygon points="460.1,103.2 479.6,104.2 479.6,103.4 460.3,101" fill="#111"/>
<polygon points="463.7,124.3 494.4,119.9 494.4,119.1 463.5,122.1" fill="#111"/>
<polygon points="479.9,142.4 499.1,133.9 498.9,133.1 479.1,140.2" fill="#111"/>
<polygon points="526,97.9 517.4,114.6 518,115 528,99.1" fill="#111"/>
<polygon points="536.2,81.6 543.1,96.2 543.9,95.8 538.4,80.8" fill="#111"/>
<polygon points="539,107.6 542.5,117.7 543.3,117.5 541.2,107" fill="#111"/>
<polygon points="527.5,131.5 517.9,127.5 517.5,128.3 526.5,133.5" fill="#111"/>
<polygon points="520.3,151.2 527.2,145 526.8,144.4 518.9,149.4" fill="#111"/>
<polygon points="564.4,81 566,114.6 566.8,114.6 566.6,81" fill="#111"/>
<polygon points="577.1,94.1 573.5,112.6 574.3,112.8 579.3,94.7" fill="#111"/>
<polygon points="602.9,86 610.8,102.2 611.6,101.8 605.1,85" fill="#111"/>
<polygon points="597.1,105.9 606.7,119.2 607.3,118.8 599.1,104.7" fill="#111"/>
<polygon points="645.2,79.4 617.1,112.6 617.7,113.2 647,81" fill="#111"/>
<polygon points="650.6,90.1 639.5,104.9 640.1,105.5 652.4,91.5" fill="#111"/>
<polygon points="652.7,106.3 637.9,145.5 638.7,145.7 654.9,107.1" fill="#111"/>
<polygon points="697.5,111 683.8,118.3 684.2,119.1 698.5,113" fill="#111"/>
<polygon points="664.3,129.1 644.9,137.6 645.1,138.4 665.1,131.3" fill="#111"/>
<polygon points="699.1,129.6 654.9,144.1 655.1,144.9 699.7,131.8" fill="#111"/>
<polygon points="699.2,139.9 657.4,149.6 657.6,150.4 699.6,142.1" fill="#111"/>
<polygon points="611.1,160.1 622.7,160.1 622.7,159.3 611.3,157.9" fill="#111"/>
<polygon points="704.5,157.9 689.7,159.9 689.7,160.7 704.7,160.1" fill="#111"/>
<polygon points="706.1,168.5 689.8,167 689.6,167.8 705.7,170.7" fill="#111"/>
<polygon points="644,169.5 649.6,156.7 648.8,156.3 642,168.5" fill="#111"/>
<polygon points="619.7,180.4 630.5,178.7 630.5,177.9 619.5,178.2" fill="#111"/>
<polygon points="673.9,183.5 660.2,179.5 660,180.3 673.1,185.7" fill="#111"/>
<polygon points="614.9,190.3 625.8,189.6 625.8,188.8 614.9,188" fill="#111"/>
<polygon points="741.2,185 731.8,184.2 731.6,185 740.8,187.2" fill="#111"/>
<polygon points="668.5,194.5 654,187.3 653.6,188.1 667.3,196.5" fill="#111"/>
<polygon points="615.3,200.6 624.4,196.8 624.2,196 614.5,198.4" fill="#111"/>
<polygon points="562.1,145.6 581.3,144.3 581.3,143.5 562.1,143.4" fill="#111"/>
<polygon points="537.7,164.5 576.5,153.8 576.3,153 537.1,162.3" fill="#111"/>
<polygon points="539.4,173.2 576.6,156.9 576.2,156.1 538.6,171" fill="#111"/>
<polygon points="548.3,180.9 579.7,160 579.3,159.4 547.1,178.9" fill="#111"/>
<polygon points="557.8,193.3 567.2,184.9 566.8,184.3 556.4,191.5" fill="#111"/>
<polygon points="577.5,191.2 583,174.7 582.2,174.5 575.3,190.4" fill="#111"/>
<polygon points="593.1,186.5 597,175.4 596.2,175 590.9,185.7" fill="#111"/>
<rect x="409.2" y="23.0" width="367.4" height="187.6" fill="none" stroke="#111" stroke-width="1.3"/>
<line x1="762.5" y1="210.6" x2="762.5" y2="213" stroke="#111" stroke-width="1.1"/>
<line x1="737.3" y1="210.6" x2="737.3" y2="213" stroke="#111" stroke-width="1.1"/>
<line x1="712" y1="210.6" x2="712" y2="213" stroke="#111" stroke-width="1.1"/>
<line x1="686.8" y1="210.6" x2="686.8" y2="214.4" stroke="#111" stroke-width="1.1"/>
<line x1="661.6" y1="210.6" x2="661.6" y2="213" stroke="#111" stroke-width="1.1"/>
<line x1="636.3" y1="210.6" x2="636.3" y2="213" stroke="#111" stroke-width="1.1"/>
<line x1="611.1" y1="210.6" x2="611.1" y2="213" stroke="#111" stroke-width="1.1"/>
<line x1="585.8" y1="210.6" x2="585.8" y2="213" stroke="#111" stroke-width="1.1"/>
<line x1="560.6" y1="210.6" x2="560.6" y2="214.4" stroke="#111" stroke-width="1.1"/>
<line x1="535.4" y1="210.6" x2="535.4" y2="213" stroke="#111" stroke-width="1.1"/>
<line x1="510.1" y1="210.6" x2="510.1" y2="213" stroke="#111" stroke-width="1.1"/>
<line x1="484.9" y1="210.6" x2="484.9" y2="213" stroke="#111" stroke-width="1.1"/>
<line x1="459.6" y1="210.6" x2="459.6" y2="213" stroke="#111" stroke-width="1.1"/>
<line x1="434.4" y1="210.6" x2="434.4" y2="214.4" stroke="#111" stroke-width="1.1"/>
<line x1="409.2" y1="210.6" x2="409.2" y2="213" stroke="#111" stroke-width="1.1"/>
<line x1="406.2" y1="23.3" x2="409.2" y2="23.3" stroke="#111" stroke-width="1.1"/>
<line x1="406.6" y1="29.9" x2="409.2" y2="29.9" stroke="#111" stroke-width="1.1"/>
<line x1="406.6" y1="36.5" x2="409.2" y2="36.5" stroke="#111" stroke-width="1.1"/>
<line x1="406.6" y1="43.2" x2="409.2" y2="43.2" stroke="#111" stroke-width="1.1"/>
<line x1="406.6" y1="49.8" x2="409.2" y2="49.8" stroke="#111" stroke-width="1.1"/>
<line x1="404.9" y1="56.4" x2="409.2" y2="56.4" stroke="#111" stroke-width="1.1"/>
<line x1="406.6" y1="63" x2="409.2" y2="63" stroke="#111" stroke-width="1.1"/>
<line x1="406.6" y1="69.6" x2="409.2" y2="69.6" stroke="#111" stroke-width="1.1"/>
<line x1="406.6" y1="76.3" x2="409.2" y2="76.3" stroke="#111" stroke-width="1.1"/>
<line x1="406.6" y1="82.9" x2="409.2" y2="82.9" stroke="#111" stroke-width="1.1"/>
<line x1="406.2" y1="89.5" x2="409.2" y2="89.5" stroke="#111" stroke-width="1.1"/>
<line x1="406.6" y1="96.1" x2="409.2" y2="96.1" stroke="#111" stroke-width="1.1"/>
<line x1="406.6" y1="102.7" x2="409.2" y2="102.7" stroke="#111" stroke-width="1.1"/>
<line x1="406.6" y1="109.4" x2="409.2" y2="109.4" stroke="#111" stroke-width="1.1"/>
<line x1="406.6" y1="116" x2="409.2" y2="116" stroke="#111" stroke-width="1.1"/>
<line x1="404.9" y1="122.6" x2="409.2" y2="122.6" stroke="#111" stroke-width="1.1"/>
<line x1="406.6" y1="129.2" x2="409.2" y2="129.2" stroke="#111" stroke-width="1.1"/>
<line x1="406.6" y1="135.8" x2="409.2" y2="135.8" stroke="#111" stroke-width="1.1"/>
<line x1="406.6" y1="142.5" x2="409.2" y2="142.5" stroke="#111" stroke-width="1.1"/>
<line x1="406.6" y1="149.1" x2="409.2" y2="149.1" stroke="#111" stroke-width="1.1"/>
<line x1="406.2" y1="155.7" x2="409.2" y2="155.7" stroke="#111" stroke-width="1.1"/>
<line x1="406.6" y1="162.3" x2="409.2" y2="162.3" stroke="#111" stroke-width="1.1"/>
<line x1="406.6" y1="168.9" x2="409.2" y2="168.9" stroke="#111" stroke-width="1.1"/>
<line x1="406.6" y1="175.6" x2="409.2" y2="175.6" stroke="#111" stroke-width="1.1"/>
<line x1="406.6" y1="182.2" x2="409.2" y2="182.2" stroke="#111" stroke-width="1.1"/>
<line x1="404.9" y1="188.8" x2="409.2" y2="188.8" stroke="#111" stroke-width="1.1"/>
<line x1="406.6" y1="195.4" x2="409.2" y2="195.4" stroke="#111" stroke-width="1.1"/>
<line x1="406.6" y1="202" x2="409.2" y2="202" stroke="#111" stroke-width="1.1"/>
<line x1="406.6" y1="208.7" x2="409.2" y2="208.7" stroke="#111" stroke-width="1.1"/>
<text x="434.4" y="225.7" font-size="13.5" fill="#111" text-anchor="middle">70</text>
<text x="560.6" y="225.7" font-size="13.5" fill="#111" text-anchor="middle">60</text>
<text x="686.8" y="225.7" font-size="13.5" fill="#111" text-anchor="middle">50</text>
<text x="403.2" y="60.7" font-size="13.7" fill="#111" text-anchor="end">110</text>
<text x="403.2" y="126.9" font-size="13.7" fill="#111" text-anchor="end">120</text>
<text x="403.2" y="193.1" font-size="13.7" fill="#111" text-anchor="end">130</text>
<text x="580.6" y="230.4" font-size="9.3" fill="#111">13</text>
<text x="590.8" y="237.1" font-size="16.5" fill="#111" textLength="63" lengthAdjust="spacingAndGlyphs">C (ppm)</text>
<g transform="translate(368.6,153.5) rotate(-90)">
<text x="0" y="-2.8" font-size="9.3" fill="#111" textLength="10.4" lengthAdjust="spacingAndGlyphs">15</text>
<text x="10.7" y="0" font-size="15.7" fill="#111" textLength="62.5" lengthAdjust="spacingAndGlyphs">N (ppm)</text>
</g>
<text x="373" y="17.3" font-size="24" font-weight="bold" fill="#111">b</text>
<text x="409.1" y="14.8" font-size="15" font-weight="bold" fill="#2f8ad6" textLength="76.1" lengthAdjust="spacingAndGlyphs">ETR(8-65),</text>
<text x="491.4" y="14.8" font-size="15" font-weight="bold" fill="#e8642a" textLength="73.8" lengthAdjust="spacingAndGlyphs">ETM(8-38)</text>
<defs><clipPath id="cc"><rect x="361" y="259.3" width="423.3" height="185.3"/></clipPath><clipPath id="cb"><rect x="409.8" y="23.6" width="366.2" height="186.4"/></clipPath></defs>
<g clip-path="url(#cc)">
<path d="M732,289L731.7,289L731.4,288.7L731.7,288L732,288L732.2,288.3L732,289Z M735.7,292L734.5,292L735.3,291.7L735.7,291.8L735.7,292Z M593.7,301.1L593.3,301.1L593,300.8L592.7,300.8L592.3,300.3L592.7,300.1L593.3,300.3L593.8,301L593.7,301.1Z M623,317.7L621.7,317.1L621.3,316.8L620.3,316.7L621.3,316L622.3,316L623,316.4L623.3,317L623.3,317.7L623,317.7Z M593.7,318.1L593,318.1L592.3,317.7L592.1,317L592.7,316.2L593.7,316.1L594.4,316.7L594.3,317.6L593.7,318.1Z M632,319.1L631.3,319.1L631.2,318.7L631.7,318.4L632,318.5L632.2,318.7L632,319.1Z M636.7,322.4L635.3,321.7L633.3,321.7L632.6,321L632.8,320.3L633.7,319.8L635.7,320.1L637,319.9L637.7,320.6L637.7,321.3L637.3,322.1L636.7,322.4Z M424.3,326.4L423,326.5L422.9,326L422.6,325.7L422.6,324.7L422.3,324L421.7,323.4L421.3,323.3L421.7,322.8L422.3,322.8L423.7,323.6L425,323.2L426,323.3L426.7,323L427.2,321.7L428,321L430,320.8L431,321.3L431.3,323L431.9,324.7L431.3,325.5L430.3,325.9L428.7,325.6L427.3,326L425.7,325.5L424.3,326.4Z M430,329.3L429.3,329.3L428.8,328.3L429,327.4L429.7,326.8L430.3,327.1L430.7,328L430.5,329L430,329.3Z M422,365.2L421.7,365.2L421,364.7L421,364.3L422.2,363.7L422.4,363.3L422.1,360L421.5,358.7L422,358L423.7,357.6L424.4,356.3L424.2,355.7L423.2,354.7L422.8,353.7L422.8,351L423.3,349.8L424,349.2L424.7,349.2L426.7,350.6L427,350.3L426.9,348.7L427.5,347.3L429.7,345.8L431,345.3L433.3,345.1L434.3,345.7L435.7,347.4L436.3,347.2L436.6,346.7L436.3,346.3L432.7,344.2L432,343.3L431,341.1L430.3,341.4L429.3,343.9L429,344.1L428.3,344L427.7,343L427.5,341L426.1,339.3L425.9,338L425,337.5L423.7,337.4L422.7,337.7L421.7,337.4L421.6,337L422.1,336L422.1,335.3L423,334.4L424,334.4L426,333.1L427.3,332.8L428.3,332.2L429.7,332.1L431.7,330.8L432.3,329.9L433.7,329.4L434.3,328L434.7,327.7L435.3,327.7L436.1,328.7L436.1,330.3L438,331.7L439,332.9L439.3,333.1L441,332.4L442,333L442.9,334.7L442.8,337.3L442,338.4L441,339.1L440.3,339.2L439.9,338.7L440.2,337.7L440.2,336.3L439.7,334.8L439.3,334.6L437.7,335.1L435.7,334.5L433.7,335.4L432,335L431.4,337L431.4,338L432,339.4L433.7,340.1L435,341.2L437.3,341.5L438.9,342.3L439.5,343.3L439.7,345.3L441,346.3L441.5,347.7L441,348.3L439.6,349L437.6,351.3L437.5,352.3L438,353.3L435,354.8L434.7,354.7L434.7,353.7L434.1,353L432.3,352.8L430.7,352L429.3,351.9L429.4,353.3L430.8,355.7L430.9,356.7L430.8,357L429.7,357.6L428,359.2L427.5,359.3L426.2,360.7L425.5,361.7L425.2,362.7L423.7,364.2L423.3,364.1L422,365.2Z M440,330.5L439.3,330.5L437.3,329.6L437,328.7L437.3,328L438.3,327.6L439.7,327.7L440.3,328L440.7,328.7L440.8,329.3L440.5,330L440,330.5Z M424.3,331.2L424.2,330.7L423.8,330.3L423.8,329.3L423.6,329L424,328.5L424.3,328.5L424.7,329L424.6,330.7L424.3,331.2Z M598,334L597.6,334L597.5,333L597.5,332.7L598,332.2L598.5,333L598.4,333.7L598,334Z M446.7,335.8L445.7,335.9L445.1,335.3L445.1,334.7L445.7,334.1L446.3,334L447,334.6L447,335.3L446.7,335.8Z M446.7,341.4L445.3,341.6L444.3,341.2L443.5,340L443.7,338.9L444.3,338.5L445,338.4L446.8,339L447.3,339.7L447.4,340.3L446.7,341.4Z M424.3,347.7L423.3,348L422,347.7L420.7,347L419.3,345.5L418,345.8L417.3,345.4L417,344.3L417.3,342.7L416.8,341.3L417.1,340.7L420.3,339.8L422,340.3L423,339.2L423.7,338.9L424.6,339.3L424.9,340.3L424.5,341.3L423.7,341.8L422.3,341.1L422,341.2L421.7,342.3L422,342.9L423.3,343.3L424.3,343.8L425.3,345L425.5,346.3L425.1,347L424.3,347.7Z M625.7,344.2L624.7,344.3L623.6,343.7L623.3,342.7L624,341.6L625.3,341.4L626.3,342L626.6,342.7L626.5,343.3L625.7,344.2Z M610,344.3L609.6,343.7L609.6,343.3L608.9,342.7L609,342.2L609.9,343L610,344.3Z M442.3,343.4L441.7,343.7L441.3,343.3L441.4,342.7L442,342.4L442.3,342.6L442.3,343.4Z M625.7,350.1L624.7,350.3L624,350L623.8,349L624.3,348.2L625.7,347.9L626.7,348.3L626.9,348.7L626.9,349.3L626.3,349.8L625.7,350.1Z M434.5,349.7L434.8,348.7L434.7,348.5L433.9,348.7L433.7,349L433.8,349.3L434.3,349.8L434.5,349.7Z M622.3,352.4L621.3,352.5L620.4,352L620.1,351L620.6,350.3L622,350L623.3,350.7L623.2,351.7L622.3,352.4Z M466.7,384L465.7,382.3L465.8,379.7L465.4,377.7L465.7,376.7L466.3,376L467,375.9L468.7,376.5L469.6,377.3L470,378.5L471,377.9L471.2,377.3L470.7,376.7L469,376.1L466.3,374.2L464.7,373.6L464.1,373L463.8,372.3L463.9,371.7L464.3,371L465.7,370L465.9,369L465.7,368.6L465.3,368.6L463.7,369.4L463,369.4L462.4,369L462,368.3L463,367L463.1,365.3L464.2,364L462.8,361.7L462.1,361L460,360.6L459,360.9L459,360.7L460.7,359.1L461,359.1L461.7,358.5L462,358.5L462.7,357.8L465,356.9L465.7,356.3L466,356.3L465.8,357.3L468.3,357.6L469.2,358.3L469.7,359.8L471.2,360L471.8,360.3L472.1,361L472.2,362.3L474,364.8L474.6,365.3L476,365.7L476.6,366.3L476.7,367L476,368L476,368.3L479.3,370.8L479.7,371.3L480,372.4L480.3,372.7L481.7,372.4L482.7,372.9L483.3,373.7L483.5,374.7L483.3,375.3L482.3,376L480,376L479.7,377.7L479,378.4L478,378.4L476.3,377.7L474.8,378.3L474.8,378.7L475.1,379L473.3,379.2L473,378.8L471.7,378.8L470.7,379.5L470,379.4L469,380.2L468.3,380.3L467.3,380.9L467,380.9L466.7,384Z M466.4,362L466.8,361.7L466.3,361.4L466,361.7L466.2,362L466.4,362Z M611.7,363.5L611.3,363.5L611.2,362.7L611.5,362.3L611.5,361.7L612,361.4L612.5,362L612.5,362.7L611.7,363.5Z M465.7,420.1L464,419.9L462,418.8L459.6,416L459.6,414L460,413.3L460,412.7L458.9,408.3L464,408.2L465.3,407.2L466.3,405.3L468.1,403L468.1,402L467.8,401.7L467.9,399.3L468.3,398.3L469.4,397.7L468.7,396.7L467.7,397.7L467.2,397L467.2,396L466.3,395.5L465.7,395.5L465.3,395.2L464.7,395.2L464.3,394.8L463.7,394.9L463.3,394.5L462.7,394.6L462.3,394.2L461,393.9L458.7,395.2L454.9,397L454.9,397.7L454.4,398L454.5,399.7L454.2,400L454.2,401.7L453.8,402L453.8,403L454,403.3L453.1,404L452.9,405.3L452.6,406L452,406.4L451,406.7L450.8,407.7L451.3,408L452,408.1L453.7,407.5L455.3,407.5L456.3,407.2L457,408.1L457.9,408.3L457.8,408.7L457.5,409.3L457,409.7L455.3,409.5L455.1,410.3L454.7,410.7L453.3,410.8L452.7,410.5L452.1,410.7L451,412.1L450.3,412.2L450,412.5L449,412.9L448.9,413.7L448.5,414L448.5,415.3L448.1,415.7L448,416.8L447.7,415.6L445.7,416L444.8,415.7L444.2,414.7L443.9,413L442.3,410.9L440.3,410.3L438.2,409L437.6,407.7L437.6,405.7L437.3,405.1L435.3,404.1L434,404.5L432.7,404.5L431.7,403.7L431.9,403L433.1,402L432.2,400L432.4,399L433,398.5L434.9,398L434,396.7L433.7,395.3L433.9,394.3L435.3,392L434.9,391L435.3,390.5L436,390.5L436.3,390.1L438,389.6L440.1,387.7L440.4,387L440.4,386L440.8,385.7L440.8,384.7L441.2,384.3L441.1,383L441.5,382.7L441.7,381.7L443,382.1L444.3,382.8L446,381.3L446,380.7L444.3,378.9L443.3,378.4L443.3,378L444,377.2L445.3,376.6L447.1,375L447.5,374L448.2,373.3L448.2,373L449,372.3L449,372L449.1,372.7L448.5,374.3L448.9,377L449.7,379L449.7,381.3L450,381.8L450.7,382.2L452.3,382.5L452.7,382.4L452.1,381L451.8,379.3L450.8,377.7L450.3,376.3L449.6,375.3L449.5,374.7L450.3,373.9L453.3,373.8L454,373.2L454.3,372.3L454,372L452.7,371.8L451.7,371.3L451.2,370.7L450.9,369.7L453.7,367.9L454,367.9L455,366.8L455.3,366.8L456,366.2L457.3,366.4L458.9,365.3L458.8,364.7L459.7,364.2L460.3,364.3L460.6,364.7L460,365.7L461.2,367L461.2,367.7L460.9,368L460.3,368.4L459.3,368.6L458.3,368.4L457.3,367.9L455.3,368L455,368.3L455.3,369.1L455.7,369.3L457,368.9L457.7,369.1L458.2,369.7L458.7,371.3L460.3,372.8L463,373.8L463.7,375.3L463.6,377L463,377.9L462,378.5L460.3,377.9L458,377.9L455.7,377.3L455,378L454.9,379L455.7,380.3L456.7,380.9L457.6,380.7L459.7,379.2L461.3,379.1L461.9,379.7L462.1,380.7L461.6,381.3L460.3,382L459.8,382.7L459.9,383.3L460.4,384.3L461.3,385.4L463.3,385.2L466.4,386L466.6,386.7L465.6,388L465.8,389.7L465.6,390.7L464.7,391.8L464,391.7L463.6,391.3L463.1,390.3L462.9,388.7L461.7,387.7L461,387.6L459.7,388.3L459.3,388.7L459.2,389.3L460,390.9L461.3,391.7L462.3,392.9L465.7,393.4L466.4,394.3L468,395.3L468.7,396.3L469.3,396L469.7,396.2L470.4,397.3L470.1,397.7L470.3,398L471.7,398.5L471.8,399.7L471.7,401.1L470,401.1L469.9,401.7L470.3,402.8L471.7,403.6L471.9,405.7L472.2,406L472.2,407L472.5,407.3L472.5,408.3L472.9,408.7L472.8,409.7L473,410L471.7,410.7L470.3,411L470.2,411.3L470.7,411.7L472.7,412L473.1,412.3L473.4,413L473,413.7L472.3,414L470,414L469,416.1L467.7,417.6L466.9,419.3L465.7,420.1Z M586,366.6L585.5,366L585.7,365.5L585.7,366L586.1,366.3L586,366.6Z M472.2,370.7L473.2,368.7L473.3,367L473,366.5L471,365.8L470.7,366.2L470.4,367.3L471.5,370.3L471.8,370.7L472.2,370.7Z M667,376.7L666.1,376.3L665.7,375.4L664.4,374L662.7,373.5L661.7,372.7L661.5,371.7L662,370.7L663.8,369.7L664.4,369L663,368.5L662.8,368.3L663,368L664,368L664.7,368.5L666.3,368.5L667.1,369.3L667.3,370.3L666.8,372L668,373.3L668.2,374L667.8,376L667,376.7Z M651.7,371.4L650.8,371.3L650.3,370.7L650.4,370L651,369.5L651.7,369.5L652.3,370L652.3,370.7L651.7,371.4Z M374.7,373.7L374,373.7L373.3,373L373.4,372L374,371.4L375,371.6L375.4,372.3L375.3,373.1L374.7,373.7Z M382,375.7L381,374.8L380,375.5L379.1,375.7L378.8,374.7L379.7,373.7L381,373.6L381.9,374.3L382.1,375L382,375.7Z M442.3,379.7L442.2,379.3L443,378.6L443.2,378.7L442.3,379.7Z M476.7,379.4L475.3,379.3L475.3,379.1L476.7,379.4Z M481.3,381.4L480.8,381L480.7,380.7L480.8,380L481.3,379.5L481.7,379.7L482,380.7L481.7,381.3L481.3,381.4Z M479.7,383.1L478.6,381L479,380.3L479.7,380.4L480.1,381L480,383L479.7,383.1Z M480.7,402.4L480.2,401.7L480.1,400.7L479.8,400.3L479.9,399.3L479.7,398.7L480.1,398.7L480,398.4L479.7,398.5L479.6,398L479.2,397.7L479,396.9L478,396.9L477.8,396.7L478.5,396L478.8,395L479.4,394.3L479.4,394L480.1,393L480.1,392L480.4,391.7L480.4,389.7L480.7,389.3L481,387.9L482.3,387.8L483,386.6L483.3,386.4L484.3,386.3L484.6,385.7L484.7,385L484.5,384.3L483.8,383.7L482.7,383.4L482.4,383L482.2,382L482.4,381.3L483,380.9L485,380.7L486.3,381.7L487.1,382.7L487.2,383.3L486.7,385L487.5,387L487.1,387.7L486.7,387.9L485,388L484.6,388.3L485.1,390L484.9,392L485.7,393.7L485.5,394.7L485,395.1L484.3,395.1L482.3,394.3L482,394.4L481.9,395.3L482.1,396L482.9,397.3L483,398.8L484.7,398.5L485.3,398.7L486.1,399.7L486.1,400.7L485.7,401.5L484.7,402.1L483.7,402.2L482,401.8L480.7,402.4Z M669,386.7L668,386.6L665,385.2L662.7,385.5L661.9,385L661.9,384.3L662.7,383.7L664.3,383.6L665.7,383.2L667.3,383.2L668.7,382.2L669.7,382.1L670.3,382.4L670.8,383L670.9,384.3L670,386L669,386.7Z M375.3,385.8L374.7,385.3L374.6,385L375.3,384.3L375.3,385.8Z M444.9,386.7L445.3,386.3L445.5,385.7L445.4,385L445,384.6L444.7,384.6L443.2,386L443.3,386.5L443.7,386.8L444.9,386.7Z M449.3,392L449.5,391L450,390.1L451.9,389.3L452.1,389L452,387.9L451.3,387.1L450,387.4L448.7,388.7L448.4,389.7L446.8,390.3L447.3,391L449,392.1L449.3,392Z M487,390.5L485.9,390.3L485.7,390L485.9,389.7L486.7,389.4L487.3,389.7L487.4,390L487,390.5Z M438.4,393L438.7,392.7L438.9,391.7L439.6,390.7L439.6,390.3L439,389.8L437.7,390.3L437,391.3L437,391.7L438.4,393Z M392.7,393.4L391.7,393.6L390.7,393.5L389.8,393L389.8,392.3L390.7,391.7L392.3,391.7L393.2,392.3L393.2,393L392.7,393.4Z M373.7,393.5L373,393.4L373,392.8L373.3,392.6L373.7,392.7L373.7,393.5Z M454.8,395L455.8,393.7L455.7,393.1L454.3,393.3L453,393L452.2,393.7L452.4,394.3L454.3,395.2L454.8,395Z M431.3,396.4L430.9,396.3L430.5,395.7L430.6,395L431,394.6L431.3,394.7L431.7,395.3L431.7,396L431.3,396.4Z M444.9,406L445.1,405.7L445,405.3L444,404.9L443.4,404.3L443.2,401L442.3,399.3L442.4,398.3L443.6,397.3L444,396.7L444.1,396L443.7,395.3L443,395.2L441.3,395.5L439.7,395.5L439.3,395.7L438,397.5L435.9,398.3L436.8,399.7L437,401.1L437.4,401.7L439,402.9L440.3,402.9L441.3,402.4L442,402.4L442.3,403L442.2,404.3L442.8,405.7L443.7,406.1L444.9,406Z M441.3,397.2L440.8,397L440.7,396.7L441,396.3L441.6,396.7L441.3,397.2Z M375.3,401.1L374.3,401.2L373.5,400.3L373.5,399.3L374.3,398.4L375.3,398.4L375.4,400.3L375.7,400.7L375.7,401L375.3,401.1Z M453,401L453.3,399.6L453,399.7L452.4,400.3L452.7,401.2L453,401Z M375.3,404.8L374.7,404.9L374.3,404.6L374.2,404L374.7,403.3L375,403.3L375.4,403.7L375.5,404.3L375.3,404.8Z M481,410.1L480.7,410.3L480.5,409L480.8,408.7L480.8,406.3L481.2,406L481.1,404.7L480.8,404.3L481,403.8L481.3,403.7L482,404L482.4,405L481.6,406.7L481.7,409L481,410.1Z M466.9,411L469.1,410.7L469.2,410.3L468.7,409.8L467.2,410L466.6,410.3L466.4,410.7L466.6,411L466.9,411Z M464.3,414L464.5,413.3L463.8,413.3L463.5,413.7L463.6,414L464.3,414Z M473,416.1L472.7,416.1L472.4,415.7L472.7,415.1L473.4,415.3L473.4,415.7L473,416.1Z M634.3,321.2L633.7,321.3L633.3,321L633.3,320.7L633.7,320.4L634.3,320.5L634.6,321L634.3,321.2Z M428,325L427.7,325.3L427,325.2L426.7,324.7L426.8,324L427.8,323L427.8,322.3L428.2,321.7L428.7,321.5L429.5,321.7L429.9,322L429.9,322.7L429.3,323.2L428.3,323.4L428,325Z M424,325.8L423.5,325.7L423.4,325.3L423.5,325L424,324.7L424.3,324.8L424.5,325.3L424,325.8Z M430,328.7L429.7,328.8L429.3,328.3L429.3,327.9L429.7,327.6L430,327.6L430.2,328L430,328.7Z M440,329.9L439.3,329.9L438.9,329.3L438.9,328.7L439.3,328.4L439.7,328.3L440.2,328.7L440.3,329.3L440,329.9Z M424,330.4L424,329.3L424,330.4Z M433.7,334.5L433.3,334.3L434,333.3L433.5,331.7L433.5,331.3L433.9,331L435,330.9L437,331.6L437.6,332L438,332.7L438.1,333.3L437.7,333.9L434.7,333.6L434.1,333.7L433.7,334.5Z M431.7,333.1L431,333.3L430.3,333.1L430.6,332L431.3,331.7L432,331.8L432.2,332.3L431.7,333.1Z M429,343.1L428.7,343.2L428.2,342.7L428.2,340.7L427,339.3L426.9,337.7L424,336.1L422.7,337.1L422,336.9L421.9,336.3L422.2,336L422.2,335.3L422.7,335L423.7,335.7L424,335.6L425.7,334.2L427.3,333.7L428.7,332.5L429.4,332.7L430.3,333.3L430.8,335.3L430.1,337.7L430.4,339.3L429.5,340.7L429.4,342.3L429,343.1Z M441.7,337.5L441.3,337.5L441,337.1L440.9,335.7L440.2,334L440.3,333.3L440.7,333.1L441.5,333.3L442.2,334.7L442,337L441.7,337.5Z M446,341.1L445.3,341L444.7,340.7L444.2,340L444.3,339.3L444.7,339.1L445.7,339.1L446.7,339.7L446.7,340.6L446,341.1Z M423.7,347.1L422.3,347.2L420.9,346.3L420.4,345.7L420.2,344.3L419.4,343.3L419,342.3L417.7,341.9L417.4,341.3L417.5,341L418,340.8L419,341.1L420,340.6L420.8,340.7L421.1,341.3L421.3,343.5L423.3,343.9L424.5,345L424.7,345.7L424.6,346.3L423.7,347.1Z M436.7,350.4L436.3,350.3L435.9,349.3L436.3,348.5L437.3,348L437.5,347.7L437.3,346.3L437,345.8L434.7,344.1L432.7,343.2L432,341.7L432.1,341L432.3,340.6L433.3,340.6L435,342.1L437,342.1L438.3,342.7L438.9,343.7L439,345.3L440.9,347L441,347.7L440.8,348L436.7,350.4Z M625.3,343.4L624.7,343.5L624.3,343.2L624.2,342.7L624.4,342.3L625,342.2L625.4,342.3L625.7,343L625.3,343.4Z M418,345.4L417.6,345L417.5,344.3L417.7,343.7L418.3,343.2L418.9,343.7L419,344.3L418.7,345L418,345.4Z M433.7,352.1L432.7,352.3L431.3,351.4L430.3,351.3L430.1,351L430.8,350.3L430.3,349.7L428.7,350.3L428,350.2L427.4,349.3L427.7,348L431.3,345.9L432.7,345.9L433.7,346.3L434.1,346.7L434.3,347.3L433.1,348.3L432.8,349L433,350L434.1,351.7L433.7,352.1Z M626,349.4L624.7,349.6L624.5,349L625,348.6L625.7,348.5L626.1,348.7L626.3,349L626,349.4Z M425.7,354.4L424.3,354.5L423.6,353.7L423.6,351L424,350.3L424.3,350.2L425,350.4L426,351.4L427.6,352L427.5,352.7L425.7,354.4Z M622,352L621.3,352L620.8,351.7L620.7,351L621,350.6L622,350.4L622.7,350.7L622.9,351.3L622.7,351.7L622,352Z M435.7,354.4L435.4,354.3L435.7,353L435.2,352L435.7,351.4L436,351.6L436.2,352.7L437.1,353.7L435.7,354.4Z M424,363.8L423.7,363.9L423,363.3L423.3,361.7L422.8,361L422.7,359.7L422.1,358.7L422.7,358.4L423.7,358.2L424.5,357.7L428.7,353.5L430.1,355.3L430.5,357L425.5,361L425.2,361.3L425.4,362L425.1,362.7L424,363.8Z M478.7,377.8L478,377.7L477,376.9L474.3,377.6L472.3,377.7L471,376.1L468.7,374.7L467.6,374.3L467.4,374L467.6,373.3L466,373.7L464.7,373L464.4,372.3L464.5,371.7L465,371.1L466.3,370.5L466.7,370L466.8,367.3L466.3,366.9L465.7,367.2L464,367.2L463.5,366.7L463.4,365.7L463.7,365.3L464.7,364.9L465.7,363.1L467.7,362.1L467.7,361.3L467,360.6L465.7,360.7L465.3,361L464.7,362.7L464,362.8L463,360.8L462.3,360.1L460.3,360L460.3,359.7L460.7,359.2L461,359.2L463.3,357.7L463.9,357.7L464.7,358.2L468,358L468.6,358.3L468.9,359L469,360.3L469.6,361.3L469.4,362L470,363L470.3,363.3L471.3,363.1L472,363.4L473.4,365L473.3,365.7L472.7,365.8L471.7,365.3L470.3,364L470,364L469.2,364.7L469.1,365L469.8,366L469.7,367.3L470.5,369L470.7,371L473.7,372.6L473.9,372.3L473.4,371L473.3,370L474,368.9L474.7,368.7L476.7,369.5L479,371.2L479.3,371.7L479.6,374L478.7,375.7L478.6,376L479.1,377L479,377.5L478.7,377.8Z M456.3,367.5L455,367.3L454.9,367L456,366.6L456.5,367L456.6,367.3L456.3,367.5Z M460,367.7L459,367.8L458.4,367.3L458.3,367L458.7,366.5L459.7,366.5L460.2,367L460,367.7Z M464,368.8L463,368.8L462.7,368.3L463.3,367.8L464,367.8L464.4,368.3L464,368.8Z M453.7,371L452.3,370.8L451.8,370L452.3,369L453.3,368.6L454,368.7L454.6,369.7L454.3,370.6L453.7,371Z M453.3,378.8L452.7,378.6L451.9,378L451.5,377.3L451.3,375.9L450.3,375.3L450.2,374.7L451,374.5L451.7,375.2L452,375.2L454.3,374.6L455.5,372L455.4,370.7L456.7,369.5L457.3,369.5L457.9,370L458,371.7L459.3,372.7L460,374L462,374L462.7,374.4L463.1,375L463.1,376.7L462.3,377.6L458,377.4L455.3,376L455,376.2L453.3,378.8Z M664,372.8L663.3,372.9L662.7,372.6L662.3,372L662.5,371.3L663.3,370.8L664.7,370.7L665.7,369.7L666,369.8L666,370.4L665,371.1L664.5,372.3L664,372.8Z M651.3,370.8L651.1,370.7L651,370.3L651.3,370.1L651.7,370.3L651.3,370.8Z M374.3,373L373.9,372.7L374,372.3L374.3,372.1L374.7,372.2L374.8,372.7L374.3,373Z M482,375.1L481,375L480.6,374.3L480.7,373.7L481.3,373.1L482,373.2L482.6,374L482.5,374.7L482,375.1Z M380,375.3L379.8,375L380,374.5L380.7,374.4L381,374.7L380,375.3Z M446.3,415L445.7,415.2L445,414.7L444.6,412.7L443.6,411.7L442.7,410.2L440.7,410L438.7,408.7L438.3,408L438.2,406.7L438.5,404L440,403.6L441.2,404L442.2,406L442.7,406.5L445.7,406.7L446,406.5L446.3,406L445.8,405L444.3,404.4L444,404L443.6,402.3L443.7,400.7L442.9,399.3L443,398.7L444,397.7L444.6,396.7L444.8,395.7L444.6,395L444.3,394.7L443.7,394.5L441.3,394.8L439.7,394.3L439.4,394L439.3,392L440.6,390.3L440.2,389.7L439,388.7L439.3,388.6L440.5,387L440.5,386L440.9,385.7L441,384.7L441.8,385.3L443.1,387.3L444.7,388.3L445.8,389.3L446.4,391L448,392.1L449.3,393.6L450.8,393L450.1,391.7L450.3,391L450.7,390.6L452,390.3L453,391L453.3,391L453.5,390.7L452.9,388L452.2,386.7L451,386.5L449.7,386.9L448.8,387.7L448.3,387.7L447.8,387.3L446.7,385L445.4,383.7L445.5,382.7L446.7,381.7L447,381L446.6,380.3L445.5,379.7L444.1,377.7L444.2,377.3L444.7,377.1L446,377.2L446.3,377L446.4,376L447.3,375L447.3,374.7L447.9,375.3L448,377.7L449,379.3L448.8,381.7L451.8,384.3L453.3,384.5L454.6,384L454.9,383.3L455,381.8L456,382.1L457.7,381.7L459.7,379.8L460.7,379.7L461.2,380L461.3,380.7L461,381L459.7,381.7L459.1,382.3L459.3,383.7L460.6,386L460.6,386.7L459.7,387.6L457.7,388.5L456,387.8L455.8,388.3L455.9,389L456.3,389.2L457.3,388.9L458,389.1L458.8,390L459.7,391.7L461,392.5L462,393.8L463,393.7L464,394.1L465,393.7L465.5,394L464.9,395L464.7,395L464.3,394.7L462.7,394.4L462.3,394L461,393.7L456,396.5L455,396.8L454.7,397L454.7,397.7L454.4,397.3L454.5,396.3L455.9,395L456.6,394L456.8,393.7L456.7,393L456,392.3L454.3,392.8L453,392.1L452.3,392.7L451.3,393L451.8,394.7L453.3,395.3L453.8,396L453.1,397L452.9,398.7L451.5,400.3L452.5,404.3L452.5,405.3L451.7,406L450.7,405.8L449.9,408L450.1,408.3L451.7,408.7L452.3,409.3L450.2,411.7L450,412.3L448.7,413L448.7,413.7L448.4,414L448.3,414.7L447.7,414.4L446.3,415Z M667,376.4L666.6,376.3L666.4,376L666.7,375.4L667.3,375.7L667.4,376L667,376.4Z M466.7,383.2L466.1,382L466.4,379.3L466.1,377.7L466.7,376.9L468,377L468.7,377.2L469.1,377.7L469,379L469.5,379.7L469,380.1L468.3,380.2L468,380.6L466.8,381L466.7,383.2Z M454.7,381.3L454.3,381.4L453.3,380.8L453.1,380.3L453.3,379.7L454,380L454.7,381.3Z M485.7,383.8L484,382.9L483,382.9L482.7,382.5L482.7,382L483,381.6L485,381.4L486.1,382.7L486.1,383.3L485.7,383.8Z M443.3,384.6L442.7,384.6L442,384L441.3,383.8L441.2,383L441.7,382.3L443,382.6L443.4,383L443.7,384L443.3,384.6Z M669.3,385.1L668.4,385L668.1,384.3L668.5,383.3L669.3,382.8L669.9,383L670.2,383.7L670,384.5L669.3,385.1Z M667,385.2L666.3,385.3L665.8,385L665.5,384.3L665.7,384L666.3,383.7L667.3,384L667.6,384.7L667,385.2Z M663.3,384.8L663,384.9L662.6,384.7L663,384.3L663.3,384.4L663.3,384.8Z M486.7,387.3L485.7,387.6L485,387L485.1,385.7L485.7,384.9L486.9,386.3L486.9,387L486.7,387.3Z M464,387.7L462.5,387.3L461.9,386.7L462,386.3L463,385.7L464.2,386L464.6,386.7L464,387.7Z M479.3,397.1L479,396.7L478,396.8L477.8,396.7L478.6,396L478.9,395L479.5,394.3L479.5,394L480.2,393L480.2,392L480.6,391.7L480.5,389.7L480.8,389.3L481,388.4L482.5,388.3L483.7,387.6L484.5,390L484.2,392L484.3,393.5L484,393.6L482,393.2L481,393.2L480.7,393.7L480.7,395.6L479.7,396L479.3,397.1Z M464.7,390.6L464,390.4L463.8,389.7L464,388.5L464.3,388.3L464.8,388.7L465.1,389.3L465.1,390L464.7,390.6Z M436,391L435.5,390.7L436,390.6L436.3,390.3L436.8,390.3L436,391Z M436.7,397.4L435.7,397.4L435,397L434.5,396.3L434.2,395.3L434.7,394L435.7,392.7L436.3,392.4L437,392.6L437.3,393L438.3,395L438.3,396L437.9,396.7L436.7,397.4Z M435.7,401.8L434.7,401.9L433.7,401.4L432.9,400.3L433,399.3L434,399L435.3,399.2L436,399.5L436.3,400L436.4,400.7L436,401.6L435.7,401.8Z M449.2,401.3L450,400.3L449.9,400L447.7,398.7L447,398.9L446.9,399.7L448,401.2L448.7,401.6L449.2,401.3Z M470,399.4L469.3,399.4L469,399L469.3,398.7L469.7,398.8L470.3,399.3L470,399.4Z M471.3,400L470.6,399.7L471.3,399.6L471.3,400Z M484.3,401.7L483.3,401.6L482.9,401.3L482.7,400.7L483.7,399.8L484.7,399.4L485.3,400L485.3,400.7L484.9,401.3L484.3,401.7Z M454,401.7L453.7,401.7L454,400.3L454,401.7Z M465.3,419.7L464.3,419.5L462.3,418.3L461.7,417.7L461.5,416.7L460.2,415.7L460.1,415L461,413.7L461,413.3L460.6,412L460.4,409.7L460,408.3L460.3,408.3L461,408.9L462.9,408.3L465.3,408.4L468.2,403L468.2,402L467.9,401.7L467.9,401.3L468,400.2L468.3,400.2L468.8,400.7L469.8,403.7L471.7,404.4L471.8,405.7L472.1,406L472.1,407L472.4,407.3L472.4,408.3L472.8,408.7L472.7,409.3L472,409.7L470.9,409.7L471,408.3L470.9,408L470.3,407.8L468.7,408.7L467,409.3L465.9,409.3L465.7,409.6L465.2,411.7L462.2,413.7L462.2,414.3L462.8,415L465,415L465.6,414.7L466.3,412.7L467.3,411.8L468.7,411.5L469.3,411.8L469.8,412.3L469.8,413L469.1,414L468.6,415.7L467,417L466.6,419L466,419.5L465.3,419.7Z M480.3,401.7L480,400L481,400.3L481.3,400.7L481.2,401L480.3,401.7Z M437.3,404.3L436.7,404.3L435.8,403.7L435.8,402.7L436.3,401.8L437.3,402.2L438.2,403.3L438.3,404L437.3,404.3Z M433.7,404L433,403.9L432.6,403.7L432.6,403.3L433,403L434,402.8L434.5,403.3L434.3,403.7L433.7,404Z M481.3,405.9L481.2,404.7L481,404.3L481.3,404.2L481.7,404.3L482,405L481.3,405.9Z M457,409.2L456.3,409.2L455.8,408.7L455.8,408L456.3,407.4L457,408.2L457.5,408.3L457,409.2Z M480.7,409.5L480.6,409L481,408.7L481,408.3L481,409L480.7,409.5Z M446.7,410.7L447,410L447,409.6L446.7,409.5L446.3,410.3L446.7,410.7Z M472.3,413.4L471.3,413.5L470.7,413L471,412.6L472,412.4L472.5,412.7L472.6,413L472.3,413.4Z" fill="none" stroke="#2f8ad6" stroke-width="0.85" stroke-linejoin="round"/>
<path d="M675,292.1L674.3,292.3L673.3,291.9L672.4,290L672.4,287.7L673,286.7L673,286L672.3,285.3L671.5,285L671.1,283.7L670.5,282.7L668.8,282L667.8,281L668,279.3L668.3,278.6L671.3,276.3L672.7,276.1L674,276.4L675,276.2L676,276.6L677,276.6L677.7,277.2L680.7,278.3L682,280.7L681.8,282L680.7,283.8L679,284.9L676.3,285.4L675.7,285.8L675.6,286.3L676.7,289L675,292.1Z M635.7,283.7L634.3,283.4L632.7,282.3L632.3,281.7L632,280L632.8,278.3L633.7,277.3L634.7,276.8L636.7,276.7L637.7,277.2L638.9,278.7L639.3,279.3L639.3,280.7L637.3,283L635.7,283.7Z M585,307.9L583.3,307.7L582.9,307.3L582.7,306.7L582.3,306.3L581,305.8L580,306.2L579.3,307.1L578.3,307.2L577.3,307L575.3,305.7L574.4,304.7L574.5,303L575.6,302L577,301.4L578,301.4L579.7,302.1L580.7,302.2L584.3,301.2L586,301.5L588.7,301.5L589.7,301.8L591,302.8L591.3,304L589.7,306.3L588.3,307.1L586.3,307.7L585.3,307.6L585,307.9Z M748.3,334.7L747,334L745.7,334.1L745.3,333.8L744,333.7L741,332.9L737.7,333L736.3,332.7L735.2,331.3L732.4,329L731.7,328.7L729.1,326.3L728.7,325.7L729.1,323.3L728.8,321.3L729,318.7L728.7,316L729.5,313L731.3,310.4L733.7,309.6L735.1,307.3L736.3,306.3L740,305.5L742,306L743.3,305.8L744.3,306.2L745.3,307.4L746.7,309.5L747.8,310.7L748.9,311.3L750.5,313L750.7,313.7L752.7,316L752.9,316.7L754.8,318.7L755.9,320.7L756,321.7L756.7,323.7L756.7,325.3L756.3,326.5L755.3,327.6L755.2,328.7L756.3,331L756.6,332.3L755.7,332.9L754.7,333L754.3,333.3L753.3,333.4L751.3,334.1L750.3,334.1L749.7,334.4L748.7,334.4L748.3,334.7Z M621.3,324.7L621,324.9L618.3,324.9L616.9,324L616.1,323L615.7,322L615.6,320.3L616.2,319.3L618.7,318L620.7,317.4L621.7,317.7L622.8,318.3L623.7,320.3L623.8,322L622.7,324L621.3,324.7Z M642.7,324.7L642,324.8L640.4,324.3L639.6,323.7L638.5,322L639.3,320.1L640.3,319.4L642,318.8L643.7,319.4L644.5,320.3L645.1,322L644.4,323.7L643.7,324.4L642.7,324.7Z M659,325.4L658.7,325.6L657.3,325.6L655.7,324.7L655.4,324L655.3,322.7L655.7,321.9L656,321.7L657.7,321.4L659.3,321.9L659.8,322.3L660.3,323L660.4,323.7L659.7,325L659,325.4Z M414.7,335.7L413,335.8L409.9,334.3L409.2,333.3L408.8,332L408.8,330L410.1,327.3L410.7,326.7L413.3,325.2L414.7,325.3L415.7,326L417.2,328.3L418,329L418.7,330L418.6,331L416.6,334.3L414.7,335.7Z M607.3,335.7L606.3,335.8L604,334.4L603.3,334.4L602.3,335.2L601,335L599.8,334L599.7,333.3L600.5,332.3L601,330.3L602.2,328.7L602.3,327.7L603.3,326.6L606,326.7L608.2,327.7L608.9,328.3L609.7,331.7L609.7,332.7L608.9,334.7L608.2,335.3L607.3,335.7Z M647.7,343.8L647,343.6L643.7,339.8L643.9,338L643.8,336.7L643,334.3L644,333.7L648.3,332.6L649.3,332.1L651.7,332.1L652.7,333L653.9,337L652.9,340L652.7,342L651.7,343L650.3,343.1L649.7,343.4L648.3,343.4L647.7,343.8Z M705.7,351.7L702.3,351.8L700.6,351.7L699.3,351.2L697.7,350L696.3,349.7L694,350.1L691.3,351.2L690.3,351.4L687.3,351L685.1,351.7L683.7,351.8L680.7,351.3L678.3,351.6L676.3,351.4L674.1,348.7L671.8,345.3L671.3,342.7L671.8,338.7L674,337.1L680.3,334.4L683.3,334.8L684,335.2L685.3,335.4L686.3,336L688.3,336.4L690.3,336.2L692.3,336.4L694,337.5L695,337.7L697.3,337.5L699.3,336.3L701,336.1L702,336.2L703.3,335.9L704,335.4L705.3,335.3L708.7,336L710.7,337.2L712,337L713.7,337.1L714.7,337.6L715.3,338.3L717,340.8L718.7,341.4L719.5,342L719.5,343.3L719.1,344.7L718.3,345.7L717.5,346L717.2,346.3L717.1,349L716.3,349.7L714.3,350.3L712.7,350.3L712,350.6L710.3,350.6L710,350.9L708.3,350.9L707.7,351.3L706.3,351.4L705.7,351.7Z M577.7,350.8L575,350.8L572,350L570.3,350.2L568.7,350L565.7,349.3L563.3,348L561.7,346.5L561.2,345.3L561.3,344.3L562,343.3L564.3,341.4L565.7,340.5L567.3,339.8L569.7,339.7L572,339.2L572.7,338.9L574,338.8L575.3,338.9L576,339.2L577.7,339.2L581.3,340.1L584.7,342L585.9,343.3L586.4,345L585.5,346.3L583.3,348.2L577.7,350.8Z M397,345.9L395.3,345.7L394.3,345.3L394,344L394.3,342.8L395.3,341.8L396,341.4L397.3,341.2L399,339.8L401,339.6L401.3,340L401.5,341.7L400.7,343.3L398.7,345.2L397,345.9Z M385,353.3L384,353.5L382.7,353L381.7,352.3L381.3,350.7L381.8,348L383,346.7L386.7,345.6L387.7,345.5L388.3,345.8L389.6,346.7L390.3,348L390.4,349L388.8,351.7L388.3,352.1L385,353.3Z M724.3,367.7L722.3,367.9L720.3,365.9L717,363.7L716.4,363L716.2,362L716.1,360.3L716.9,359L718.9,357.3L722.3,355.4L727.3,355.9L729.1,356.7L729.7,357.3L731.2,360.7L730.9,363.7L730.5,364.7L729.4,366L727.3,367.4L724.3,367.7Z M633.3,371.5L631,371.4L630,371L626.3,370.6L623,370.7L622,370.1L620.7,370L617.7,367.9L616,365.4L614.3,364L614.4,363.7L615,363L616.3,362.7L616.7,362.4L618,359.3L618.3,359L620,359.7L621,359.5L622.3,358.6L624,358.3L625.3,358.4L628,357.7L629.3,358.4L630.3,358.5L632.3,357.6L633.7,357.3L640,358.7L642,360.4L644.7,361L647.3,362.5L648.4,364L649.1,366L649.3,367L649,367.6L646,368.4L644.7,368.6L643.7,369L642,370.2L640.7,370.4L640,370.7L637,370.5L635.3,371L633.7,371.3L633.3,371.5Z M674,374L672.7,374L672,373.4L671.4,372.3L671,370.7L671,369.7L671.3,368.5L671.7,368.1L673.3,367.5L675,368.2L675.8,369.7L676.1,371L675.3,372.8L674,374Z M524.3,374L522.7,373.6L521.4,372L521.7,370.3L522.9,368.7L523.7,368.3L524.7,368.2L525.4,368.7L526.7,370L526.8,371.7L525.8,373.3L524.3,374Z M724.7,379.2L723.7,379.1L722.3,378.4L721,378L719.9,377L719.7,375L720.7,373.1L721.3,372.6L722.7,372.1L725.3,372.4L727,373L727.9,374L728.1,374.7L727.7,376L726.7,377.2L725.4,378L724.7,379.2Z M474,397.4L472.7,397.7L471.4,397.3L470.7,395.7L468.6,393.3L467.7,391.7L467.8,391L468.7,390.2L468.7,389.7L467.8,385.3L468.2,381.7L468.7,381L470.3,379.8L472,379.2L474.7,379.8L475.3,380.1L476.7,380.1L477.7,380.6L479,383L480.4,386.7L480.2,387.3L480.3,389L479.9,389.7L479.2,392.7L478.3,393.9L476.8,394.7L474,397.4Z M606.3,410.8L603.3,410.7L601.8,410L601,410L599.6,409L598.7,408L598,406.7L596.5,401.7L597.1,398.7L596.8,396.3L597.1,395.7L597.3,391.3L597.8,389L599,388.1L603.7,385.9L604.3,386L605,386.8L608,388.8L610.1,390.7L610,392.3L610.3,393L610.9,397L610.6,398L609.7,400L610.2,403L609,407.3L609,408L607.9,410L607.3,410.5L606.3,410.8Z M666.7,396.7L666.3,396.9L664.3,396.8L663,396L662.2,395L662.8,393.3L665.3,391.7L666.3,391.7L667.3,392L667.9,394L667.8,395.3L667.3,396.3L666.7,396.7Z M749.3,402L748,402.2L746.7,401.4L745.3,401L744.3,400.1L743.9,399.3L744.2,397.3L745.7,395.5L747.7,394.2L749.3,393.6L751.3,393.9L752.1,394.3L753.4,397L753.5,398.3L753.4,399L752,401.2L749.3,402Z M651.3,419.8L651.5,419L651,418.4L649.7,417.7L647.7,417.2L645.3,415.4L644.8,414.7L645.3,413L645.1,411L645.3,407.7L644.2,406L643.3,404L643,401.7L642.7,401L643.3,397.9L644.7,397.4L647.3,395.5L650,394.6L655.8,397.7L657.5,399.3L659,401.4L659.5,403.3L660.7,405.7L661.5,408L660.5,410.3L660.4,413L659.5,416.3L659.1,417L655,418.9L653.7,419.3L652,419.2L651.3,419.8Z M463.7,407.7L457.3,407.6L456.7,406L454.6,402.7L454.8,401.7L454.7,400.3L454.9,399.7L454.9,398.3L455.3,397.3L459.3,396.1L461.3,394.9L463,395.3L466,396.7L467.1,400L467.3,402.7L465.4,405.7L463.7,407.7Z M714.7,424.5L713,423.8L711.3,422.6L710.3,422.2L708.3,421.8L708,422L707.7,421.8L705.7,421.9L703.7,421.2L702.4,419L701.7,417L701.4,414.3L700.4,411.3L700.3,409.7L699.2,407.3L699.3,404.7L699,402.3L699.3,400.3L699.7,400L701,399.7L701.7,399.9L703,400.7L703.7,400.5L707.3,396.3L708.3,395.5L709.7,395.5L710.3,395.8L713.7,395.7L714.3,396L719.7,396.5L720.4,397L721.1,398L721,399L721.2,399.3L722.3,399.8L723,399.5L724.3,399.6L726.3,400.9L727.9,402.7L728.8,404.7L728.8,407.3L729.2,408.3L729.5,412.7L728.9,414L728.9,414.7L727.7,418L726,420.7L725.4,422.3L724.3,422.8L722.7,422.9L720.7,422.7L719.3,423.1L718.3,423.7L714.7,424.5Z M376.7,432.7L374.7,432.6L373.3,432L372.5,430.7L371,429.1L370,428.8L369.2,428L368.4,426L367.8,424L367.9,423L368.6,421.7L368.4,420.7L367.7,419.3L370.1,414L371.3,412.3L373,411.9L373.3,411.7L373.2,411.3L373.7,411.2L374,410.7L374.3,409.5L375.3,408.3L380,405.5L381,405.9L382.7,407.4L386.3,408.1L387.9,408.7L391.1,414L391.9,416L391.7,417L392,417.7L393,418.7L394.6,419.3L395.7,420.2L396.3,420.1L400.3,416.6L401.3,416.5L401.7,416.3L403,416.3L403.7,415.9L406.3,415.6L408,415.8L409.4,417L411,417.4L414,417L414.7,416.3L415.3,416.1L417,416.5L419.3,418L421,418.3L421.5,418.7L422.5,421.3L422.6,422.3L423.3,423.7L423.4,424.7L422.3,425.4L419.7,425.9L417.7,425.1L416.3,425.2L414.8,426L412.5,428L410.7,428.6L407.3,428.7L404.7,429.6L401.3,429.9L400.7,430.2L399.3,430.2L394.7,431.3L393.3,431.3L392.7,431.5L390.7,431.8L389,431.5L386.3,432.3L382.3,432.4L381,432.2L376.7,432.7Z M455.7,422.5L453.7,422.2L450.3,421.1L448.8,417.7L448.8,416L449.6,413.7L452.3,412.2L454,411.8L455,412.4L457.3,412.7L458.7,413.3L458.8,415L457.7,417L458,419.3L457.2,420.7L455.7,422.5Z" fill="#2f8ad6" stroke="none"/>
<path d="M395,274.7L393.7,274.8L392.4,274L391.5,272.7L390.8,270.3L391,267.7L391.6,266.3L391.8,265L392.5,263.7L393.7,263.1L395,263.1L396.3,263.7L397.3,265L398.2,267.3L398.1,270.3L396.4,272.7L395.9,274L395,274.7Z M650.3,267.7L649.7,267.3L649.4,266.3L650,265.6L650.7,265.3L651.8,266.7L651.7,267.1L650.3,267.7Z M459,285.2L458.2,284.7L456.6,282.7L456.1,281.7L455.9,278.7L455.5,278L455.5,277.3L455.5,276.7L456.5,274.3L456.3,273L456.8,271L457.3,270.3L459,269.5L460.5,270.3L461.2,272L461.5,273L461.5,274L461.8,274.7L461.8,276.7L461.4,278.3L461.7,279.7L461.6,281.7L460.7,283.6L459,285.2Z M478.7,278.2L477,278.2L476.2,277.7L475,275.3L475.2,273.7L476.3,272.7L477.7,270.8L478.7,271.1L479.4,271.7L480.1,273.3L480.1,275.3L479.4,277.3L478.7,278.2Z M575.3,273.4L574.3,273.2L573.5,272.3L573.5,271.7L574.3,270.8L575.3,270.7L576.1,271.3L576.1,272.7L575.3,273.4Z M431.7,283L430,282L429.8,281.3L430,279.3L430.4,278.3L431,277.7L432.7,276.7L433.7,276.7L434.5,277.3L435,279L434.4,281.3L433.9,282.3L431.7,283Z M443,303.8L442.2,303L442.1,302L442.3,301.5L443,301.1L443.5,301.3L443.9,302.3L443,303.8Z M659.3,325.7L657.3,325.8L656,324.9L655.2,323.7L656.2,322L657.7,321.1L659,321.1L660,321.5L660.9,323L660.9,324.3L660.3,325.1L659.3,325.7Z" fill="#2f8ad6" fill-opacity="0.6" stroke="none"/>
<path d="M370.3,454.8L362.7,447L361.9,445.7L361.6,444.7L361.7,444L362.3,443.3L362.2,442.7L361.3,441.4L360.3,440.8L359,440.5L357.3,441.4L356.7,441.2L350.5,435.3L351.3,434.8L352,434.8L353,434.2L354.3,433.9L354.7,433.3L355.9,432.7L356,432.2L356.9,431.3L358,428.9L358.7,428.3L359.3,428.1L359.2,429.3L359.3,430.1L359.7,430.2L360.7,429.5L361,429L361,428.3L359.7,427.7L360.2,426.7L361,425.8L366.3,423.1L366.8,422.7L367,421.7L366.4,420.3L366.4,419.3L366.6,418.7L367.2,418L367.5,417L368.2,416.3L368.6,415.3L369.3,414.7L371,412L372,410.9L372.7,410.6L373.7,410.9L374.3,410.7L376.9,407.3L377,403L375.8,400.3L375.7,398.3L375.4,397.7L375.5,396.3L375.2,395.7L375.7,394.7L377,394.5L377.4,393L377.3,392.1L375.8,390L375.4,388.3L375.3,386.7L375.6,386.3L375.6,381L375.9,380.7L375.9,378L376.3,377.5L377.3,377.2L378,376.5L379,376.2L379.7,375.6L380.7,375.2L381,374.9L384.3,378.3L385.4,380.3L384.8,381.7L384.8,382.3L387.2,384.3L387.3,385L387.7,385.3L387.7,386L388,386.3L388.3,388.3L388.9,389.7L389,392L389.4,392.3L389.2,396L389.4,399.3L389.7,399.7L390.3,399.7L393.8,395.3L397.9,391L397.9,390.7L399.7,389L400.7,386.7L401.3,386L403.3,385L405,383.3L405.3,383.2L406,382.5L406.3,382.5L407.5,381.3L407.5,381L408.6,380L408.6,379.7L409.2,378.7L409.2,378L410.2,376L410.9,375.3L410.9,375L412.3,373.2L414.7,372.2L417.2,370L418.2,369L418.2,368.7L420,366.9L420.3,366.9L421.3,366L421.8,366L423.8,364.3L425.2,362.7L425.6,361.7L426.2,361L426.2,360.7L429.7,357.6L430.7,357.3L431.3,356.6L435.3,354.7L437,354.8L438.7,355.7L440.1,355.3L440.7,354.3L440,351.7L440.4,350.3L441.3,349.3L441.7,349.3L445.3,346.7L446.2,344.7L446.2,344L446.5,343.3L447.2,342L448.2,341L448.2,340.7L449.3,339.6L451.7,338.6L454.8,335.7L455.1,334.7L456.5,333L456.5,332.7L457.5,331.7L457.5,331.3L459.6,329L459.7,328.6L462,326.8L463.3,326.3L465.7,326L467.3,325.3L467.8,324.7L467.8,322.7L468.3,321.7L471.5,320.3L473.7,318.6L474,318.6L475.2,317.3L475.2,317L479.3,313.1L479.9,313L481.3,311.9L481.7,311.9L482.3,311.2L482.7,311.2L483.7,310.1L484,310.1L487.7,307.2L488,307.2L489.7,305.9L490,305.9L494.3,300.9L495,300.3L497.3,299.3L505,291.5L505.3,291.5L506,290.9L506.3,290.9L508.3,289.4L510.5,288.7L510.9,288L511.4,285.7L512.3,284.7L514.7,282.2L517,281.3L519.8,278.3L519.8,278L521.3,276.3L522.3,275.9L524,275.9L524.7,275.6L525.1,274.7L525.1,273L525.9,271.7L526.7,270.8L528.4,269.7L533.6,264.7L535.3,262.3L537,261.1L537.7,261.2L538.7,261.9L540,261.2L540.5,260.3L539.5,259L539.6,258.7L542,256.4L542.1,256L543.6,255L545,252L553.4,260.3L552.1,261.7L552.1,262L548,265.8L547.7,265.8L546.7,266.7L546.2,266.7L544.7,267.8L542.7,270.3L539.3,273.8L536.3,275.7L535.3,277.3L532.3,280.6L532.3,281L530.5,283.3L530.5,283.7L527.3,286.7L526,287.3L525.3,287.9L524.4,290L520.3,294.2L520,294.2L518.3,295.5L518,295.5L514.8,298.7L514.8,299L513.1,301L512.1,303.3L511.5,304L510.4,306.3L506,310L505,310.4L502.7,312.7L502.1,313.3L501.4,314.7L500.8,315.3L500.7,315.7L499.4,317L499.3,317.4L498,318.5L497,319L496,318.9L495,318.4L494.3,318.7L493.8,320L494,324L493.5,325.3L492.7,326.2L492.6,326.7L489.7,328.3L488.4,330L488,330.1L486.7,331.3L484.4,336.3L482.3,340L482.4,340.3L478.2,344L476.3,346.1L476,346.1L474.8,347.3L474.8,347.7L474.1,348.3L474.1,348.7L473.5,349.3L473.5,349.7L471.5,352L471.5,352.3L470.3,353.5L470,353.5L468,355.1L465.7,356.1L465,356.8L462.7,357.7L461,359L460.7,359L460,359.7L459.7,359.7L457.8,362L457.5,363L456.7,364L456.7,364.7L455.3,366.1L455,365.9L454.6,363.7L454,363.2L453.3,363.3L451.8,364.7L451.2,366.3L451.3,366.7L452.9,367.3L453.1,367.7L453,368L452.3,368.7L450.7,369.4L450.1,370L450.1,370.3L449.4,371L449.4,371.3L448.7,372L448.7,372.3L447.4,374L447.1,375L445.3,376.4L445,376.4L444.3,377L444,377L442.1,379.3L442.1,379.7L441.8,380L441.8,380.7L441.5,381L441.4,382.7L441,383L440.8,385.7L440.5,386L440.5,387L440.1,387.7L438,389.3L432,390.8L430.7,391.4L429.3,392.6L429,393.7L428,394.9L427.6,395L427,395.7L426.7,395.7L426,396.4L425.7,396.4L422.4,399.7L422.4,400L420.3,402.4L420,402.4L419,403.4L418.7,403.4L417,405.1L416.7,405.1L414.7,407L414.3,407L413.3,408L412.1,409.3L412.1,409.7L410.1,411.7L409.3,411.9L407.3,411.9L406.7,412.5L406.5,413.7L407.3,415L409.3,415.8L410,416.4L410.7,416.6L412.1,416.3L412.2,415.7L411.9,414.7L412,414.3L414,414.8L416.7,416.3L418.3,416.7L419,416.6L422,417.9L422.2,418.7L422.2,420L423.6,423.7L423.7,424.7L423.3,425.1L421.7,426L419.7,426.3L418.7,425.1L417.3,425.2L416,426L414.7,428L413.3,428.4L413,428.7L411.3,428.8L411,429.1L409.3,429.1L409,429.4L407.3,429.3L406.7,429.5L405.3,428.9L403.7,429L403,429.2L402.3,430L401.3,430.3L401,430.7L399.3,430.7L399,431.1L397.3,431.1L397,431.5L395.3,431.4L395,431.7L393.3,431.6L392.7,431.9L391.3,432L391,432.3L389.3,432.4L388,433.5L387,435.7L387,436.3L386.1,437.7L384.3,438.7L381.7,441.7L381.3,441.7L380.7,442.3L380.3,443.3L378.8,445L377.9,447.7L377,448.7L377,449L376,450L376,450.3L374.3,451.4L373.6,451.7L371.7,454L370.3,454.8Z M544.4,256.7L545,256.3L545,255.6L544.3,255.9L544.4,256.7Z M595,267L593.7,267.2L592.9,266.7L592.9,265.3L593.2,265L593.3,264.3L593.6,264L593.7,263.3L595,262.3L596,261.1L597.7,260.6L598.4,261.3L598.4,263.7L597.7,265L596,266.5L595,267Z M395,276.4L394,276.4L393.7,276.1L393,276.1L392.7,275.7L392.3,275.7L391.4,274.3L390,273L389.9,272L389.5,271.7L389.5,270L389.2,269.7L389.2,268L389.5,267.7L389.5,266L389.8,265.7L389.8,264.7L390.1,264L392.3,261.8L393,261.5L393.7,261.5L394,261.2L395,261.2L395.3,261.5L396,261.5L397.5,262.7L397.5,263L398.2,263.7L398.8,265L398.8,266L399.1,266.3L398.9,268L399.3,268.7L399.3,269.3L398.9,270L398.9,271.3L398.7,271.7L398.7,272.7L398.1,274L396.7,275.8L396,276.1L395.3,276.1L395,276.4Z M544.8,266L545.4,264.7L544.7,264.3L544,264.7L543.7,266L544,266.3L544.8,266Z M650.7,270.1L650.3,270.1L650,269.8L649.3,269.8L648.2,268.7L647.9,268L647.9,266.3L648,265.7L648.7,265L651,264.5L652,264.7L652.7,265.3L652.7,265.7L653.1,266L653.1,267.7L652.8,268L652.5,269L651.7,269.8L651,269.8L650.7,270.1Z M459.3,286.5L458.7,286.7L458.3,286.3L457.7,286.3L457.5,286L457,285L456.7,283.4L455.1,280.3L455.2,278.3L454.8,278L455,277.4L456.3,278.6L456.7,278.6L457,278.1L457.1,275.7L456.7,275.1L455.7,275.4L455.1,275L454.8,274L455.1,273.3L455,272.3L455.3,272L455.2,271.3L455.8,270L457.7,268.2L458.3,268.2L458.7,267.8L459.3,267.8L459.7,268.2L460,268.2L461.5,269.7L461.5,270L462.1,270.7L462.4,271.3L462.4,272L462.7,272.3L462.8,273.7L463.1,274L463.2,276L463.5,276.3L463.5,278.3L463.2,278.7L463.1,280.7L462.8,281L462.8,282.3L461.3,285L459.3,286.5Z M575.7,274.9L574,274.8L573.3,274.5L572.2,273.3L571.9,271.7L572.2,271.3L572.2,270.7L572.9,270.3L572.9,270L573.3,269.5L574.3,269.5L574.7,269.2L575.3,269.6L576,269.6L577.4,271.3L577.5,272.7L576.8,274L575.7,274.9Z M478.3,279.4L476.7,279.5L476,279.1L474.5,277.7L473.8,276.3L474,274L474.3,273.1L476.3,273.4L477.7,272.9L478.7,273.2L480,272.2L480.3,272.2L481,273L481.1,276L480.8,276.3L480.8,277L479.7,278.4L478.3,279.4Z M675,292.4L674.3,292.4L673.3,292L672.1,290L671.9,287.3L672.6,286.3L672,285.8L671,285.8L669,284.1L668.7,284.1L667.9,283.3L667.2,281.3L667.2,280.3L667.6,280L667.7,279.3L668.7,277.8L669,277.7L670,276.6L670.3,276.6L671,275.9L672,275.9L672.3,275.6L674,275.7L675.3,275.4L676,275.7L677.7,275.6L678,275.9L678.7,276L679.3,276.3L680,277.3L681,278L682.1,279.3L682.1,280L682.4,280.3L682.5,281.3L682.1,281.7L682.1,282.3L681.5,283.7L680.7,284.5L680.3,284.5L679.3,285.5L678.7,285.8L678,285.8L677.7,286.1L676.3,286L676,286.3L676.4,286.7L676.5,287.3L676.8,287.7L677.2,289.3L676.8,289.7L676.8,290.3L676.4,291L675,292.4Z M433.3,284L431,284.2L429.7,283.6L428.6,282.7L428.6,281.3L428.2,281L428.2,280L428.8,278.7L430.3,277L430.3,276.7L432.3,276.7L433.7,276L434.7,276L436.1,277.3L436.2,279L436.5,279.3L436.5,280L435.5,282L434.5,283L434.3,283.5L433.3,284Z M636,284L635,284L634.7,283.7L634,283.7L632.7,283L631.7,282L631.4,280L631.7,279.7L632,278L632.7,276.9L633,276.9L634,276.2L637,276.1L637.7,276.5L638.5,277.3L639.4,278.3L639.7,279L639.7,281L639.4,281.3L639.4,281.7L637.7,283.4L637.3,283.4L637,283.7L636.3,283.7L636,284Z M748.3,334.7L745.3,334.8L745,334.4L743.3,334.5L743,334.2L741.3,334.1L741,333.8L739.3,333.7L739,333.4L737.3,333.3L737,333L736,333L734.7,331.7L734.3,331.7L732,329.4L731.7,329.4L729.4,327L729,326.9L728,326L728,319.7L728.3,318.7L729.7,316.7L730,315.7L730.1,314.7L729.7,314L728.3,313L728.1,312.3L728.3,311.8L728.8,311.7L729.3,311L729.3,310.7L729,310.4L728,310.3L727.3,310L726.6,309L726.5,307.7L726.2,307.3L726.2,306L725.8,305.7L725.9,304.3L725.6,304L725.6,302.7L725.3,302.3L725.4,301L725.1,300.3L727.8,298L728.2,295.7L728.6,294.7L730,292.8L731,292.8L731.3,292.5L733.3,292.5L733.7,292.2L735.7,292.5L737.7,292.2L738.3,292.4L740.3,292.2L740.7,292.6L742.7,292.6L743,293L744,293L746.3,297.5L748.4,300.7L748.5,301.7L748.8,302L749.1,303.7L749.5,304L749.5,305L749.8,305.3L749.8,306L750.2,306.3L750.2,307L750.5,307.3L750.5,308.3L750.9,308.7L750.9,309.3L751.2,309.7L751.2,310L750.3,310.9L750,310.9L749.5,311.3L751.1,313L751.3,314L752,315L754.7,317.4L755.7,318.8L756.9,320L757.1,323L756.9,332.7L755.7,332.8L754.7,332.5L752.7,333.9L752,334L751.7,334.4L749,334.4L748.3,334.7Z M590,313.1L588.3,313.1L588,312.7L584.3,312.7L584,312.3L580.3,312.4L579.3,311.5L579.4,310L579,309.3L578,308.4L577,308.1L575.6,308.3L575.5,308.7L575.7,310L575,310.8L573.7,310.8L573.3,310.4L572.7,310.5L572.3,310.2L571.7,310.2L571.3,309.8L570.7,309.8L570.3,309.5L569.7,309.5L568.9,309L568.6,308L568.3,307.7L568.2,306.3L568.7,305.8L570.3,306.1L570.5,305.7L570.2,304.7L569.3,303.9L568,304.3L567.3,303.8L566.3,302.3L566,301L569.4,300L571.7,298.5L573.2,298L574.7,297.1L576.3,296.9L576.7,296.9L577,297.3L579,297.7L580,297.6L580.7,297.8L582.3,297.7L583.7,297.9L584.7,300L585.7,300.3L587.7,299.6L589,299.6L592,300.9L593.3,301.8L594.1,302.7L596,309L594.7,310.2L594.3,310.2L593.7,310.9L593.3,310.8L592.7,311.5L592.3,311.5L591.7,312.2L591.3,312.2L590,313.1Z M443.3,303.9L442,303.7L441.6,303L441.6,302L442.3,301.1L443.3,301L444,301.7L444,303.3L443.3,303.9Z M600,378.1L599.3,377.7L598.3,377.7L598,377.4L597,377.4L596.7,377.1L595.7,377.1L595.3,376.8L594.3,376.8L594,376.5L593,376.5L592.7,376.2L592,376.2L591.4,375.7L591.1,374.7L590.5,374L590.2,373L589.5,372.3L589.2,371.3L588.6,370.7L588.3,369.6L587.3,367.8L586,366L585.9,355.7L585.7,355.5L585,355.8L584,355.8L583.7,356.1L583,356.1L582.7,356.4L581.7,356.4L581.3,356.7L580.3,356.7L580,357L579.3,357L579,357.3L577.3,357L575.7,355.6L575,355.8L573.7,357.3L571.3,357.3L571,357L569.7,356.9L569,356.6L567.7,356.6L567,356.3L565.3,356.4L565,356L564,356.1L562.7,354.8L562.3,354.8L560,352.4L559.7,352.4L555.9,349L555.9,341.7L556.2,338L555.8,335.3L555.8,330L557.7,329.8L558,329.5L559,329.6L559.3,329.3L555.9,326L556,317.9L557.3,317.2L558,317.2L559,316.5L559.7,316.5L560.7,315.8L561.3,315.8L562.3,315.3L564.3,315.1L567,315.9L567.7,315.7L568.7,314.9L570.7,314.7L571.3,315L573,315L573.3,315.3L575,315.3L575.3,315.7L576.7,315.9L577.3,316.4L580.3,317.1L582.3,317.9L585.7,319.6L587.7,321.3L589.7,322L590.7,322.7L594.1,326L597.7,330L597.9,330.3L597.2,332.7L597.1,334L597.7,336.2L598.3,337L599.3,337.4L601.3,337.5L603,339.4L604.3,340L605.7,342.3L606.7,343.4L608.7,343.2L609.2,343.3L609.7,344L609.7,344.3L610.4,345L610.8,346L611.5,346.7L612.2,348L611.9,352.7L612.2,357L612,360.3L610.6,362.3L610.1,366.3L609.8,366.7L609.5,368.3L609.2,368.7L609.2,369.3L608.8,369.7L608.8,370.3L608.5,370.7L608.4,371.3L608.1,372L606,373.8L605.7,373.8L604.7,374.8L604.3,374.8L603.3,375.8L603,375.8L602,376.8L601.7,376.8L600.7,377.7L600,378.1Z M621.3,325.2L618.3,325L617.5,324.3L617.2,323.7L617.3,322.3L617,321.5L615.4,320L615.4,319L616.7,317.6L618,316.9L621.3,316.9L622.7,317.5L624.1,319.3L624.1,319.7L624.4,320L624.1,322L623.2,324L622.7,324.7L621.3,325.2Z M642.3,326.1L641.7,326.1L641.3,325.8L640.7,325.8L640,325.4L638.6,324L638.6,323.7L638.3,323.3L638.3,322.7L637.9,322.3L637.9,321.7L638.3,321.3L638.2,320.7L638.6,320.3L638.6,320L640,318.6L640.3,318.6L640.7,318.3L641.3,318.3L641.7,317.9L642.3,317.9L642.7,318.3L643.3,318.3L644,318.7L645.1,320L645.6,322L645,324.3L644,325.5L643.7,325.5L643.3,325.8L642.7,325.8L642.3,326.1Z M679,327L677.3,327.2L673.7,326.3L672.3,324.3L672.3,324L672.3,323.7L672.6,323.3L672.6,322.7L673.4,321.3L676,320.1L676.7,320.1L677.3,320.2L679.7,321.6L680.6,322.7L681.1,324L680.8,324.3L680.8,325L680.1,326L680.1,326.3L679,327Z M659,326.1L657,326.2L655.3,325L655,324.3L655.1,322.7L655.3,321.7L655.7,321.3L657,320.7L659,320.6L660.1,321.3L660.7,323L661,323.3L660.3,324.1L659.7,325.6L659,326.1Z M384.3,356.1L383.8,356L383.2,354.7L383.2,354L382.9,353.7L382.9,353L382.4,352L382.5,351.3L381.5,349L381.4,348L381.9,346.7L384.7,342.8L385.3,342.7L386.3,341.9L388,341.6L389,340.9L390.7,340.5L391.7,339.9L393.3,339.6L394.3,338.9L396,338.6L397,338L400,337.6L400.3,337.9L400.4,339.3L401.7,339.6L402.7,339.1L403.3,338.3L403.4,337.3L403.3,337L402,336.6L401.9,336L402.7,334.7L403,334.6L404.7,332.9L405,332.9L405.9,332L406.8,330L406.8,329.3L407.8,327.7L407.9,327L408.3,326.3L409.3,325.2L411,324.6L412.3,324.5L413.7,325L414.7,325L415.3,324.7L416.2,323.7L415.8,322L416.3,321.1L419.7,322.5L421.3,323.5L421.7,323.5L422.2,324L422.1,324.3L422.5,324.7L422.4,326.3L421.7,326.9L420.7,327L420.3,327.3L420.1,328L421.3,330.7L421.3,331.3L423.2,331.7L423.4,332.7L423.1,333L423.1,333.7L422.1,335.3L422.1,336L421,337.1L418,339.2L414.3,340.4L412.7,342.4L409,344.7L406,346L401.7,348.4L398.7,348.9L396.3,351L393,352.8L389.7,353.8L387.7,354.7L387.3,355L385.7,355.4L385.3,355.8L384.7,355.8L384.3,356.1Z M608.3,336L607.3,335.7L606.3,334.3L604.7,333.6L603.3,333.6L603,333.3L601.5,331.3L601.2,330.3L601.3,329.9L599.7,331.4L599.3,331.4L599,331L599.3,330.7L599.3,329.6L600,329.1L601.3,329.1L602.6,326.7L603.3,326L606.3,326.1L609.2,328L609.5,328.7L610.5,331.3L610.3,333L609.4,335L608.3,336Z M658.3,357.7L657.9,357.3L655.6,353.7L654.3,351L654.1,350L654.5,349L654.4,347.7L654.6,347.3L654.5,346L654.8,345.7L654.8,344.3L655.2,344L655.2,342.7L655.5,342.3L655.6,341L655.9,340.7L655.9,338.7L655.6,338.3L655.7,335.3L655.3,335L655.2,332L654.8,331.7L654.8,330L656,329.8L656.3,329.5L658.3,329.5L658.7,329.2L660.7,329.3L661,328.9L662,328.9L662.7,329.6L663,329.6L664.7,331.3L665,331.3L666.7,333L667,333L667.6,334L667.7,336L668.4,339.3L668.7,339.7L668.8,343L669.1,343.3L669.2,345.3L668.8,345.7L668.8,346.7L668.5,347L668.5,348L668.2,348.3L668.1,349L667.8,349.3L667.7,350.3L667.3,350.7L667.2,351.3L666.7,352L666.5,353L666.7,354L666.4,354.3L666.5,355.3L666.2,356L665.3,356.5L664.3,356.5L664,356.9L663,356.8L662.7,357.2L661.7,357.1L661.3,357.4L660,357.2L658.9,357.3L658.3,357.7Z M648,344L647,344.1L642.9,340L643,338.7L642.6,338.3L642.8,335.7L642.4,335L642.6,334L647,330.8L648,330.8L648.3,331.2L650,331.3L650.3,331.6L652,331.6L652.3,331.9L653,331.9L653.7,333.3L653.7,334L654,334.3L654.3,336L654.9,337L653.9,339.7L653.7,341.3L653.4,341.7L653.4,342.3L653.1,342.7L653.1,343L652.3,343.1L652,343.4L650.3,343.2L648.3,343.6L648,344Z M706,352.1L704,351.6L702.2,350L701.7,349.9L700.9,350L699.3,351.6L697.3,352L676,352.2L670.9,346L671.1,342.3L671.7,339L671.9,338.7L674.7,336.8L676,335.6L676.7,335.3L677.3,335.3L679.7,333.9L681,334L681.3,334.4L683.7,334.3L684,334.6L686,334.6L686.3,334.9L688.7,334.9L689,335.2L690.7,335.4L691.3,335.9L692,336L693.7,335.7L694,335.9L696.7,335.8L697,335.5L700,335.6L700.3,335.3L703.3,335.3L703.7,335L705.7,335L706,335.4L707,335.5L707.7,336.1L710.3,337.4L712.7,337.7L715,337.6L715.7,337.8L717,338.9L720.1,342L719.3,344L719.3,345L719,345.3L719.1,346.3L718.8,346.7L718.8,347.7L718.5,348L718.5,349L718.2,349.3L718,350.2L717,350.1L716.7,350.4L714.7,350L712.7,350.6L712.1,351L710.7,351.1L710.3,351.5L708.3,351.5L708,351.9L706.3,351.8L706,352.1Z M480,339.7L480.7,338.9L480.7,338.2L479.9,339.3L480,339.7Z M725,369.4L723,369.3L722.7,369L721.7,368.9L718.3,367L716.1,364.7L716,364.2L715.7,364L715.6,363L715.3,362.7L715.2,361L715.6,360.7L715.6,359.7L715.9,359.3L715.9,358.7L716.2,358L718,356.3L718.3,356.3L719,355.7L720,355.3L720.3,355L721,355L721.3,354.7L722.7,354.8L723.3,354.5L724.7,354.5L727,355.1L730.3,357L731.4,358L731.8,358.7L731.8,359.3L732.2,359.7L732.2,361L732.5,361.3L732.5,362.7L732.2,363L732.1,364L731.8,364.3L731.8,365L731.4,365.7L729.7,367.4L729.3,367.4L728.7,368.1L727.3,368.8L726.7,368.8L726.3,369.1L725.3,369.1L725,369.4Z M651.3,421.1L651,421L649,419.3L646,415.7L644.4,414.7L643.7,413L643.6,410.7L643.2,410.3L643.2,407.7L642.9,407.3L643.1,404.7L642.8,404L642.8,401.7L642.4,401L642.3,398.7L641.9,398.3L641.9,397L642.7,396.6L643.3,396.6L644.3,396L645,396L645.3,395.7L645.3,395.3L643.3,392.8L639.6,389.7L639.3,388.7L638.6,388L638.3,387L637.6,386.3L637.3,385.3L636.6,384.7L636.3,383.5L635.7,382.3L633.5,379.7L632,376.7L631,375L630.3,374.3L630.3,374L629.6,373.3L628.9,372L628.7,371.8L626.3,371.7L626,371.4L622.4,371.3L622,370.9L620,370.8L617.7,368L617.7,367.3L618.4,366.3L617.4,364L617.7,362.3L619.8,358.3L621.3,357.3L623,357.2L623.3,356.9L625,356.9L625.3,356.6L627,356.8L627.7,356.6L629,357.2L630.7,357.4L633.7,358.2L635.7,358.1L637.7,358.4L640.3,358.1L645.7,360.6L647.5,362L647.8,363L647.9,366L648.5,367.3L648.5,368L648.3,368.4L645,370L645.1,371L644.7,371.7L643.2,372L642.5,373.7L642.7,374.5L643.3,375.4L644,375.8L644.9,375.7L646,374.5L646.3,374.5L647.3,375.3L647.4,376L648.3,377.7L648.4,378.3L648.9,379.3L649,380L650.7,383.3L650.9,385L652.4,387.7L652.8,389.3L653.4,390.3L653,391.6L651.3,391.6L651,392.4L651.3,393L652,393.5L653.3,392.7L653.7,392.7L655.1,394.7L655,395.1L654.7,395.1L654.1,395.7L655.7,396.6L656.3,396.6L657.1,397.3L658.7,398L659.4,398.7L659.4,399.7L659.7,400L659.8,400.7L660.1,401L660.1,401.7L660.4,402L660.5,403L661.1,404.3L661.2,405L661.5,405.3L661.5,406.3L662.1,407.7L662,408.7L661.7,409L661.6,410L661.1,410.7L660.8,411.7L660.4,412L660.8,413.3L660.6,414L660.6,415L660,416.4L658,417.6L656.3,419.3L655.7,419.4L655.3,419.8L654.7,419.8L654.3,420.1L653.7,420.1L653.3,420.4L652.7,420.4L652.3,420.7L651.7,420.7L651.3,421.1Z M501.7,363.6L501,363.4L500.2,362.3L500.2,361.3L500.6,361L500.6,360.3L501.3,359.9L502,359.9L502.7,360.3L502.7,361L503,361.3L503,362.3L502.6,363L501.7,363.6Z M673,374.1L671.7,373.9L670.3,373L670.3,372.7L669.3,371.7L669.2,369.7L669.6,369L671.3,367.2L672,366.9L672.7,366.9L673,366.5L673.7,366.6L674,366.9L674.7,366.9L675.3,367.3L676.8,369L677.3,370L677.3,371.7L675.7,373.2L674.3,373.4L673,374.1Z M524.3,374.4L523.3,374.6L522.7,374.4L521.5,373.3L521.5,373L520.8,372.3L520.8,369.7L522.3,367.6L523,367.3L525.3,367.2L526.5,368.3L526.8,369.3L527.1,369.7L527.1,372L526,373.4L525.3,373.7L524.3,374.4Z M725.3,380.5L722.7,380.5L721.3,379.4L721,379.4L719.5,378L719.2,377.3L719.1,374.7L719.5,374L721,372.2L722.3,371.5L724.7,371.2L725,371.5L725.7,371.5L727,372.2L728.5,373.7L728.8,374.3L728.9,375.3L729.2,375.7L729.2,376.3L728.9,376.7L728.5,378.3L725.3,380.5Z M477,413L474.3,413L473.6,412.3L473.6,411.3L473.3,411L473.3,410L472.9,409.7L472.9,408.7L472.6,408.3L472.5,407.3L472.2,407L472.2,406L471.9,405.7L471.9,398.3L471.7,398.1L471,398.1L470.6,397.7L470,396.3L467.4,392.7L467,391.7L466.8,387L466.9,381L468.3,380.3L469,380.3L470,379.6L470.7,379.6L471.7,378.9L473,378.9L473.3,379.2L475,379.2L475.3,379.5L477,379.6L477.7,380.1L481.2,386L481.2,387L480.8,387.3L480.8,389.3L480.5,389.7L480.4,391.7L480,392L480,393L479.7,393.3L479.4,394.3L478.8,395L478.4,396L477.7,396.7L478,397L478.7,397L478.9,397.3L479.1,399L479.6,399.7L479.7,400.3L480.1,400.7L480.1,401.7L480.5,402L480.9,405L480.5,406.3L480.6,408.3L479.9,410.3L478.9,412L478,412.8L477,413Z M603.7,411.7L600.3,411.9L598.9,410.3L597.7,407.7L597.2,406L597.4,405L598.3,403.7L598.3,402.5L598.1,402L597,401.3L596.7,400.9L596.3,398.3L596.5,396.3L597.7,394.7L598,393.7L596.7,391L596.7,390.7L597,390.3L596.9,388L600,387L601.3,386.1L602,386L603,385.2L604,384.9L604.7,385.2L605.7,386.2L606,386.2L606.7,387L607,387L607.7,388L608.7,388.7L609.3,388.8L611,390L611,392L611.4,392.3L611.2,396L611.4,396.7L611.4,398.3L611.6,400L612,400.7L612.1,402.3L610.8,404.7L610.8,405.3L609.5,407.7L609.5,408.3L608.1,411L604.3,411.3L603.7,411.7Z M644.4,391.7L644.7,391.3L644.5,390.7L644,390.2L643.3,390.1L643.2,390.7L643.5,391.3L644,391.7L644.4,391.7Z M666.7,397.4L664,397.5L662.7,396.8L661.3,395.3L661.4,392.7L662.3,391.3L665.3,390.4L667.7,391.2L668.2,391.7L669.2,394.3L668.8,395.7L667.3,397.1L666.7,397.4Z M750.3,403.1L747.3,403.1L746,402.1L745,401.7L743.5,399.7L743.5,396.7L744.2,395.7L744.6,394.7L745,394.2L746,393.9L747,393.3L748,393.3L748.3,392.9L749.7,392.9L750,393.2L751.7,393.5L752.8,394.3L753.1,395.3L754.1,396.7L754,399.3L753.4,400.3L753.1,401.3L752.3,402.1L752,402.1L750.3,403.1Z M464,408.1L457,408.1L456.5,407.7L456.2,406.7L455.6,406L455.3,405L454.7,404.3L454.7,404L454,403L454,402L454.3,401.7L454.4,400.3L454.7,400L455.3,399.5L456.7,399.5L458.2,398L457.7,397.7L456.3,397.3L456.1,397L457,396L457.3,396L459,395L461.3,394.5L464,395.2L466,396.2L466.5,396.7L467,397.7L467.3,399.3L467.7,399.7L467.8,401.7L468.2,402L468.1,403L467.4,403.7L467.3,404L466,405L464.7,406.9L464.7,407.3L464,408.1Z M717,424.8L715.3,424.6L714.7,424.8L713.3,424.4L712.7,424.5L712,424.3L711,424.3L710.7,424L709.7,423.5L703.7,422.1L702.9,421.7L700.8,417.7L700.8,414.7L698.8,410.7L698.4,408.3L698.3,406L698.6,405.7L698.6,402L698.9,401.7L698.9,400L699.3,399.6L704.7,396.9L705.3,396.2L708,394.9L710,394.9L710.3,395.2L714,395.2L714.3,395.6L718,395.6L718.3,396L720,396L729.2,402L729.1,403.7L729.4,404L729.3,407.3L729.5,408L728.6,411L729.4,413L729.4,415L728.8,416L728.8,416.7L728.2,417.7L728.2,418.3L727.5,419.3L727.5,420L726,421.9L722.7,423.6L721.3,423.7L721,424L719.3,424.1L719,424.4L717.3,424.5L717,424.8Z M454,422.7L451.3,422.4L451,422L450,421.8L448.7,419.7L448.4,418L448.9,417L448.6,414L448.9,413.7L448.8,413L450.3,412.1L451,412.1L452,411.5L452.7,411.5L453.7,410.8L454.3,410.9L455.3,411.6L456,411.6L457,412.5L457.7,412.4L457.9,412.7L459.1,413L459,414L459.4,414.3L459.3,416L459.7,416.3L459.6,418L460,418.7L459.9,419L459,420L456,422.4L455.7,422.7L454,422.7Z M659.6,412L659.5,411.7L659,411.5L659,412.3L659.6,412Z M457.1,414.7L457.2,414L456.7,413.2L455.7,413.3L455.3,413.7L455.3,414L455.7,414.4L457.1,414.7Z M370.7,454.1L370.3,454.2L366.7,450.7L363.4,447L362.5,445L363,443L362.7,441.9L361.6,441L360.1,440.3L356.3,439.8L353.7,437.8L351.4,435.7L351.4,435.3L353.3,434.6L355.7,434.4L356.7,434L358.3,431.7L361.2,429.7L361.6,428.3L361.4,427L361.8,426.3L364,424.9L367.3,423.2L367.6,422.7L367.7,421.7L367.1,419.7L367.2,419L368,417.3L369.9,415.3L371.6,412.3L372.7,411.7L374,411.6L374.7,411.2L375.9,409.3L377.7,407.3L378.1,404L378.5,402.3L378.3,401.9L377.3,401.5L376.4,400L376.2,397.3L377.4,395.3L377.8,392.7L377.4,390.3L376.2,388.7L375.9,387.3L376.1,386.3L376.1,381.3L376.4,380.7L376.3,378.3L376.6,378L381,375.6L383.2,378L383.9,379.7L383.9,381.3L384.2,382.7L384.7,383.3L386.5,384.7L387.4,386.7L388.3,390L388.5,392L388.9,393.3L388.8,394.7L388.3,396.7L388.7,400L389.3,400.5L390,400.5L390.7,400.2L392.4,398.3L398.5,390.7L400.9,389L401.7,386.9L403.7,385.7L405.3,383.7L407.8,381.7L409,380.3L410.3,377L412.5,374L415,372.5L416,371.5L417.4,370.7L418.6,369.3L418.8,368.7L420,367.5L421.7,366.7L423.7,366.3L426,362L427.7,360L431.7,357.1L434.3,355.7L436,355.4L438.7,356.2L440,355.9L440.7,355.3L441.2,354.3L441.3,353.3L441,351.3L441.5,350.3L444.6,348.3L445.7,347.3L446.1,346.7L446.7,345L446.6,344.3L447.7,342.1L449,340.6L452.1,339L453,337.7L453.7,337.3L455,335.9L455.6,334.7L458,331.3L460.3,328.7L462.3,327.4L465.7,326.6L467.7,325.9L468.6,324.7L468.6,323L468.9,322.3L473.3,319.6L475.7,317.7L476,317.2L477,317L478,317.7L479.7,317.2L480.3,316.3L481.3,313.3L483.7,310.4L487.7,307.7L491,305.9L492.2,304.7L493.7,302.3L495,301.2L498,300L499,298.7L501,296.8L502.6,294.7L505.3,292L507.3,290.6L511.2,289L511.5,288.3L512.1,286L514.3,283.4L515,282.8L517.4,281.7L520.3,278.1L521.5,277L524,276.7L524.7,276.3L525.7,275L526,272.7L526.7,271.7L534.3,265.1L536,262.7L537,262.3L538.3,262.4L539.7,262L540.3,261.5L540.9,260.7L541.3,259.3L542,258.3L542.3,258L543.7,258L545.3,256.8L546.7,256.9L548,256.5L549.3,257.1L550.7,258.2L552.7,260.3L551.4,262L547.7,265.2L546.6,265.3L546.3,265L546,264L545.3,263.7L544.3,263.7L543.7,264.1L542.8,267.7L541.5,270.3L539.2,273L538.3,273.7L537.7,274L535.7,274L534.9,274.3L534.8,274.7L535,276.3L534.6,277.3L532.7,279.4L531.4,280L531,282L530,283.7L527.3,286L525,286.3L524.5,286.7L524,287.3L523.9,289.3L523.2,290.7L520.3,293.7L517.7,295.2L516.7,296L514.2,299L512.5,300.7L511.6,303L509.7,306.3L507.2,307.7L505.6,309.3L504.6,310L501.7,313L500.3,315.3L498,317.7L496.7,318.3L495,317.9L494,318L493.6,319L493.1,323.7L491.7,325.7L491.7,326.1L489.3,327.8L488.1,329.3L486.3,330.9L484.8,333.3L483.6,336L482.4,337.7L482,337.5L481.3,336.7L479.9,337.7L478.7,340.3L478.5,342L478,342.7L477.3,343.1L476.3,345.3L475.7,345.7L474.4,347L473,349.6L471,352.3L467.8,354.7L465.3,355.7L464.7,356.3L461.2,358L459.1,359.3L456.7,363.3L456,364L455.3,363.9L454.7,362.7L453.7,362.3L451.5,364.3L450.5,366L450.6,367L451.2,368L448.9,370.3L447,373.5L446.4,375L445,375.9L444,376.2L443,376.2L442.5,376.7L442.4,378L441.8,379L440.8,382L440.2,383L440.3,385.3L440.1,386.7L439.5,387.7L437.7,388.7L431.7,390.1L428.4,392L427.4,393L426.6,394.7L425.8,395.7L422,399L421.7,399.7L420.8,400.3L420,401.5L418,403L416.8,404.3L416.2,404.7L414.6,406.3L412.7,407.7L410.7,410.4L409.3,411.3L407.3,411.4L406.5,412L406,413.3L406.3,414.7L407.2,415.7L409,416.9L411,417.1L412.3,416.9L414,416L417,417.1L420.3,417.6L421,418.1L421.4,418.7L421.3,420.3L421.5,421.3L422.8,424L422.7,424.6L421,425.2L419.3,424.5L417,424.9L415.4,425.7L414.3,427.3L412.7,428.2L411.2,428.3L410.7,428.6L409.3,428.4L408.3,428.6L406.7,428.1L402.3,428.3L401.3,428.7L400.3,429.9L399.3,430L398.7,430.5L397.3,430.6L396.7,431L393,431.1L388.7,431.9L387.4,433L386.5,436L386.1,436.7L385.3,437.4L383.3,438.2L381.9,439.7L381.3,440.8L380.7,441.3L378.1,444.7L377.2,447.3L376.2,448.7L375,449.7L372.9,450.7L371.4,453.3L370.7,454.1Z M395,275.7L394.3,275.9L393.3,275.4L392,273.4L390.7,272.6L389.9,271.3L389.9,270L389.6,269.3L389.6,268.3L389.9,267.7L389.8,266.3L390.4,264L392.3,262.2L394.3,261.5L395.7,261.9L396.7,262.5L397.9,264L398.5,265.3L398.5,266.7L398.2,268L398.4,269L398.1,270L398,272.3L397.6,273.7L396.7,275.1L395.7,275.7L395,275.7Z M594.7,266.5L594,266.6L593.4,266L593.8,264.7L594.3,263.7L596.3,261.7L597.7,261.4L597.9,261.7L597.8,263.3L597.1,264.7L594.7,266.5Z M651.3,269.4L649.7,269.4L648.7,268.4L648.3,267.7L648.4,266.7L648.6,266L649,265.6L650.7,265.3L651.3,265.4L652.5,266.3L652.7,267.3L652,268.8L651.3,269.4Z M459.7,285.3L459,285.5L458.3,285.2L456.5,281.7L456.5,280.3L457.4,278.3L457.5,276L457,274L456.3,273.7L455.8,272.7L455.8,271.7L456.4,270L457.7,268.7L459,268.2L460.2,269L461.6,271L462.8,274.3L462.9,276L463.2,276.7L463.1,278L462.8,278.7L462.8,280.3L462.4,281L462.4,282L460.8,284.7L459.7,285.3Z M575.7,274.4L574.3,274.6L573.3,274L572.5,273L572.2,272L572.5,271L573.7,269.9L575.7,270.1L577,271.7L577,272.3L576.5,273.7L575.7,274.4Z M477.7,279L477,279.1L476,278.6L474.9,277.7L474.5,277L474.1,276L474.2,275.3L474.5,274.3L475,273.8L476.3,273.7L477.7,273.3L479,273.8L480,273.9L480.3,274.3L480.6,275.7L480,277.3L478.7,278.6L477.7,279Z M674.7,291.4L674.3,291.4L673.7,291L672.7,289.7L672.3,287.7L672.9,286.7L672.9,286L672.3,285.4L671.3,285.4L668.4,283.3L667.6,281.3L667.7,280.7L669.7,278.6L670.2,277.3L671.3,276.4L674,276.6L675,276.2L675.7,276.4L677.3,276.2L678.3,276.6L679,277.2L679.4,278L681,279L681.6,279.7L682.1,281L681.5,282.7L680.7,283.9L678.3,285.3L676.3,285.3L675.6,285.7L675.4,286.3L676.8,289L676.3,290L674.7,291.4Z M433.7,283.2L430.3,283.1L429.3,282.3L428.5,280.3L429.3,278.7L430.3,277.7L431.3,277.3L432.4,277.3L434.3,276.7L435.8,277.7L435.9,279L436.2,279.7L435,281.9L433.7,283.2Z M635.7,283.3L634.3,283L632.9,282L632.7,281.3L633.4,280.7L633.5,279.7L633,278L633.7,277.1L634.3,276.6L636.7,276.4L637.7,277L638.7,278.3L639,279.3L639,280.5L638.7,281.3L637.3,282.6L635.7,283.3Z M746.3,334.1L743.7,334.1L743,333.8L741.7,333.8L741,333.4L739.7,333.2L739.3,333L736.3,332.1L735.7,330.9L734.7,330.9L733.7,330.2L731.9,328.7L730.2,326.3L729.4,326L728.7,325.3L728.4,322.7L728.5,320.7L730,317L730.5,314.7L730.3,313.9L729.5,312.7L729.9,311.3L729.8,310.3L729.3,309.9L727.7,309.4L727.1,308.7L726.2,305.3L726.3,304.3L725.9,301.7L726.3,300.3L729.4,298L729.5,297.3L728.9,296L729,295L730.3,293.1L731.7,292.8L733.3,292.9L734,292.7L735,293.3L735.7,294.6L736.3,294.8L737.3,294.4L738,293.3L739.7,292.8L742.3,293.1L743.7,293.7L745.8,297.7L748,301L749,304.3L749.1,305.3L750.8,309.7L750.9,310L750.3,310.5L749.7,310.7L749.1,311.3L749.8,313L748.6,313.7L748.7,314.7L749.4,315.3L754,317.9L756.5,320.3L756.8,322.3L756.6,327.3L756.4,330L756,331.2L755.7,331.5L754,331.2L753,331.3L752.4,331.7L752.6,332.3L752.4,333L751,333.6L749.9,333L750.3,332L750,331.5L749.7,331.2L749,331.2L747.7,332.7L747.9,333.3L746.3,334.1Z M589.7,312.7L588.7,312.5L588.2,312L588.1,311.7L588.6,310.7L588.5,310.3L588,309.8L587.3,309.6L586.3,309.6L584.7,310.1L584.3,311L583.3,311.7L582,311.9L580.7,311.8L580,311L579.7,309.7L578.8,308.7L578,308.1L576,307.4L574.7,307.4L574.5,308L574.9,309.3L574.7,309.8L574,310.1L572,309.8L570,309.1L569.3,308.7L569.3,307.3L570.8,306.7L571,306L571,305.3L570.5,304.3L569.3,303.2L568.3,303L567.3,302.4L567,302L567,301.4L569,301L572,299L575,297.7L576,297.5L577.3,298.3L577.8,299.3L578.8,300L579.7,300.2L580.4,300L581.3,298.9L582.3,298.7L583,299L583.6,300L584.3,300.4L586.7,300.9L589.3,300.7L591.7,301.7L593.4,303.3L595.4,308.7L593.7,310.3L589.7,312.7Z M443,303.3L442.3,302.7L442.7,301.7L443,301.7L443.4,302.7L443,303.3Z M600.7,377L600,377.3L598.7,377.2L595.3,376.4L592,376L591.7,375.7L588.7,369L586.8,365.7L586.8,363.3L586.2,360L586.3,355.7L586,355.1L585.3,355L582.3,356L578.7,356.6L577.7,356.2L576.4,355.3L575.3,355.2L574,355.5L572,356.4L569,355.6L564.3,355.5L562.3,354.2L559.5,351L557.2,349.7L556.5,349L556.3,348.7L556.6,346L556.3,341.7L556.6,340L557.5,337.7L556.5,336.3L556.1,335.3L556.2,330.3L558.3,329.9L559.3,330L559.9,329.3L559.7,328.8L557.3,327L556.3,325.7L556.7,323L556.4,318.7L556.9,318L559.3,316.8L562.7,315.8L564,315.8L565.7,316.5L567,316.5L570.3,315.5L572.3,315.5L574.7,316L577.3,317.6L580.7,317.9L584,319.4L585.3,320.3L586.7,321.7L588,322.4L589.3,322.7L591.3,324L593.4,326L594.9,328.7L596.7,330.3L596.4,334L596.6,335L597.3,336.7L598.7,337.5L601.3,337.9L602.7,339.5L604,340.4L606.6,344L607.3,344.5L608.8,344.7L609.8,345.3L610.4,346.3L611,346.9L611.8,348.3L611.1,352.7L611.7,356.3L611.8,358.7L611.5,360L610.8,360.7L610,360.9L609.3,360.8L608.6,361.3L608.5,361.7L608.4,362.7L609.1,363.7L609.4,364.7L609.3,367L608.8,369L608,371L607.3,372.1L604.7,374.3L600.7,377Z M621.3,324.4L620.7,324.6L619.3,324.4L618.7,324.2L618.2,323.7L617.3,321.2L616.2,319.7L616.4,318.7L617,318L618.3,317.4L621,317.4L622.4,318L623,318.6L623.7,320.3L623.4,321.7L622.6,323.7L621.3,324.4Z M642,325.7L640.1,324.7L639.2,323.7L638.6,322L639.3,320.3L640.3,319.3L642,318.5L643.6,319.3L644.1,320L644.4,320.7L644.5,323.3L644.2,324.3L643.7,325L642,325.7Z M657.7,325.7L656.7,325.3L655.9,324.7L655.9,322.7L656.2,322L657.3,321.3L658.7,321.1L659.6,321.7L660,323.3L658.7,325.3L657.7,325.7Z M679.3,326.2L678.3,326.3L676.3,325.6L674.7,325.5L674,325.1L673,324L673.2,323L674,321.8L676.3,321.1L677,321.2L679.3,322.5L680.3,323.7L680.3,324.7L679.3,326.2Z M385,355.4L384.3,355.5L383.6,354.3L383.4,350.7L382.2,348L382.6,347L384.8,344L386.7,342.5L388.3,342L389.3,341.3L392,340.3L393.7,339.9L394.7,339.4L397.3,338.7L399,338.8L399.9,339.7L401,340.1L402.3,339.8L403.3,339L403.8,338L403.8,336.7L403.4,335.7L403.9,334.7L404.7,333.6L406.3,332.3L408.2,327.3L409.8,325.7L410.7,325.4L415.3,325.3L416.7,324.3L416.9,324L416.9,322.7L417.3,322.3L418.7,322.6L421.5,324L422,325L421.7,325.6L421.3,326L420,326.6L419.4,327.3L419.5,328.3L420.8,330.7L420.5,331.7L420.7,332.2L421,332.5L422,332.6L422.5,333.3L421.5,335.7L421,336.2L417.7,338.6L414,340L412.3,341.7L409.3,343.9L405.7,345.6L403.3,347.2L401.3,348L398.7,348.1L398,348.5L396,350.5L394.7,351.3L392.7,352.2L390,352.5L387,354.4L385,355.4Z M608.7,334.7L608,334.9L607.7,334.8L606.7,334L603.3,333L602.7,332.3L602.2,331.3L602.1,330.3L602.7,329L603,327.7L603.7,326.8L604.7,326.6L606,326.7L607.8,328.3L608,328.7L607.7,330L608,330.7L609,331.7L609.3,332.3L609.3,333.3L608.7,334.7Z M662.3,356.7L660.3,356.4L658.7,356.5L658.3,356.4L655.7,352.7L655,350.7L654.9,346.3L655.2,345.7L655.2,344.7L656.4,340.7L656.3,338.7L656.1,338L656.3,335.3L655.8,334.3L655.5,332L655.2,331.3L655.1,330.3L656.7,329.7L658.3,329.8L659,329.6L660.7,330.2L661.7,329.6L662,330.2L665.3,332.4L666.7,333.6L667.1,334.3L667.2,336L668.3,340L668.3,343L668.7,343.7L668.8,345L668.5,346.3L668.2,347.7L667.2,349.7L665.7,351.3L665.6,352.3L666,355L665.8,355.7L665,356.2L662.3,356.7Z M661,331.7L661.5,331.3L661,330.7L660.7,330.7L660.1,331.3L660.1,331.7L661,331.7Z M647.7,343.5L647,343.5L645.5,341.7L645.3,341L646,340L646,339.6L645,337.7L644.2,336.7L643.5,334.7L645.6,332.3L647.3,331.2L650.3,332.2L651.7,332.3L652.5,332.7L653,333.7L653.3,335.7L653.2,337L652.9,338L653,341L652.6,342.3L651.7,342.7L649.7,342.6L648.3,343L647.7,343.5Z M691.3,351.7L677.7,351.9L676.1,351.7L675.2,350.3L672.1,347L671.3,345.7L671.7,342.7L672.6,339.3L677,335.9L680,334.6L681.7,335.3L685.7,335L686.3,335.3L688.3,335.2L691.7,336.6L696.7,336.1L697.3,335.7L700,336L700.7,335.8L703.3,336.3L704.7,335.7L705.3,335.9L707.3,337.7L714.3,338.4L716,338.8L718,340.4L719.4,342L718.4,345L718.4,347.3L717.7,349.8L714.3,349.2L712.7,349.7L711.7,350.4L710.7,350.7L710,351.2L708.3,351.2L707.7,351.5L705.3,351.4L703.1,349.7L701.3,349.3L700.3,349.6L699,350.8L697.7,351.4L691.3,351.7Z M726,368.7L725,368.7L724.7,368.9L723.7,368.8L720.3,367.5L718.7,366.2L717.7,364.4L716.5,363.3L715.9,362.3L715.8,361.7L716.3,359L716.9,358L718.1,357L720.7,355.8L723,355.7L724.3,355.4L725.7,355.4L727,355.9L729.3,357.2L730.7,358L731.4,359L731.9,360L732.2,362.3L731,365.3L729.3,366.9L726,368.7Z M652,420.1L651.3,420.1L650,419.3L646.7,415.5L645.2,414.3L644.5,412.7L644.1,410.7L643.7,410L643.6,407.7L643.4,407L643.9,404.7L643.7,403.7L643.9,401.7L643.3,400.7L642.9,398.7L642.5,397.7L643,397.2L645.3,396.6L645.9,396L646,395L645.1,393L645.4,391.7L645,390.3L644,389.6L642.7,389.5L641.7,389.8L640.7,389.3L640.3,388L638.2,386L635.9,381.7L634,379.5L631.4,374.7L629,371.6L623.2,370.7L622,369.5L620.5,369.7L619.3,368.3L619,366.3L617.7,364L617.9,362.7L619.2,360.3L620.6,358.7L621.7,357.8L623,357.6L623.7,357.3L626,357.5L627,358.3L627.7,358.5L630.3,358.1L633.7,359L635.3,358.9L638.3,359.2L640.5,359L645.3,361L647,362.7L647,365.3L647.3,366.7L647.2,367.7L646.3,368.7L644.7,369.5L644,370.7L642.7,371.7L642.1,373.7L642.3,374.7L642.7,375.4L643.7,376.2L644.7,376.2L645.7,375.7L646.3,375.6L647.2,376.7L649.4,382L650.2,385.7L652,388L652.3,389L652.3,390.3L651,391.1L650.6,392L650.6,392.7L651.7,393.8L653.3,393.9L654.1,394.3L654.3,394.7L653.7,395.3L653.8,396L655.7,397.5L656.3,398.9L658,399L658.6,399.3L660,402.3L660.1,403L661.1,405.7L661.6,408L660.7,409.7L659.3,410.2L658.4,411.3L658.4,413L658.7,413.7L659.5,414.7L658.8,416L658.3,416.3L656.7,416.7L656.2,417L655.8,418.3L655,419.2L652,420.1Z M501.7,362.8L501.2,362.7L500.7,361.7L501.7,360.4L502.2,361L502.4,361.7L502,362.6L501.7,362.8Z M673,372.7L672.3,372.9L671,372.4L669.8,371.3L669.7,370L670.2,369L671.3,367.8L673.3,367L675,368.1L675.9,369.7L676.1,371L673,372.7Z M523.3,373.7L522.3,373.3L521.2,372L521.2,370L522.7,368.2L525,367.7L526,368.7L526.7,370L526.6,371.3L525.7,372.5L524,373.6L523.3,373.7Z M725.3,380.1L723,380.3L720.2,378L719.5,377L719.4,375L720.7,373L722.7,371.9L723.3,371.9L724,371.6L725.3,371.8L727,372.8L728.5,374.7L728.5,375.3L728.9,376L728,378.3L725.3,380.1Z M438.7,378L439.3,377.7L439.7,377L439.6,376.3L439,375.9L438,376.3L437.5,377L437.5,377.7L437.7,378L438.7,378Z M477.3,412.3L476.3,412.6L474.7,412.6L474.1,412L473.6,408.7L472.6,406.7L472.6,406L472.3,405.3L472.3,398L471.1,397.3L467.9,392.3L467.5,391.3L467.1,385.7L467.4,381.7L468,381.2L469.3,381L472,379.3L472.7,379.3L473.3,379.6L474.7,379.6L475.3,380L476.7,380.3L477.3,380.9L480.8,386.3L480.5,387.3L480.5,389L480,389.7L479.9,391L478.8,394L478,395.7L477.1,396.7L477.3,397.7L477.7,398L479.6,401L480.3,403.7L480.1,405.3L479.8,406.3L479.9,408L479.2,410L478.4,411.7L477.3,412.3Z M603.3,411.1L600.7,411.3L599.9,410.7L599,409.3L598.2,407.3L598,405.7L598.7,404L598.8,402L598.4,401.3L597.1,400L596.8,398L597,396.7L598.3,394.8L598.7,393.7L598.6,392.7L597.7,391.3L597.4,388.7L598,388.3L600,387.8L603.3,385.7L604,385.5L604.7,385.8L606,387L607.3,389.1L610.1,390.3L610.3,390.7L610.3,392L610.7,393L610.4,396L610.5,398.7L611.4,401.7L610.4,404.3L610.4,405L609.2,408L608,410L607.3,410.5L605,410.5L603.3,411.1Z M665.7,397L664.3,397.1L663.7,396.9L662.7,396.3L661.9,395.3L661.8,395L662.1,393L662.6,392L663.3,391.6L665.3,391.2L667.2,392L668.5,394L668.2,395.3L667.7,396L667,396.6L665.7,397Z M750.3,402.3L750,402.6L747.7,402.6L745.3,401.3L744.3,400L743.9,399.3L744,397L745.3,394.8L747.3,393.8L749,393.4L751.3,393.9L752.3,394.5L753.6,397L753.5,399L752.2,401.3L750.3,402.3Z M457.3,407.7L456.2,405.7L455.9,403.7L456.4,403L455.6,402.7L456,401L456.7,400.6L457.7,399L459.3,397.7L459.6,397.3L459.7,396.3L461,395.4L463,395.6L465.6,397L466.5,399.3L467.2,400.3L467.7,402.7L465,404.7L464,406.1L463.7,407.3L460,407.3L457.3,407.7Z M716.7,424.4L713.7,423.4L711.7,423.3L710,422.3L707,422.2L704,421.5L703.3,421L701.5,418L701.3,414.7L699.8,411.3L699.7,409.3L699,407L699.3,405.7L699.1,402.3L699.3,401.7L699.3,400.3L702.7,398.4L704.3,397.7L706.3,396.2L708.3,395.3L709.7,395.4L710.3,395.7L713.7,395.7L714.3,396.1L717.3,396.3L719.3,396.7L724.3,399.4L728.8,402.3L728.7,403.7L729,404.3L728.5,407.3L728.6,408.3L727.8,411L728.7,413.3L728.8,414.7L728.5,416.3L727.1,419.7L725.9,421L725,421.5L723.3,421.7L722.3,422.7L720.7,423.4L719.3,423.6L718.7,424L717.3,424.1L716.7,424.4Z M455.7,422L453.7,422.2L451.7,421.9L450.3,421.2L449.4,419L449.5,417L449,414.3L449.2,413.3L450.3,412.5L453,411.8L454,411.2L454.7,412L454.5,413.7L455,414.3L458,416L458.8,417L459.2,418.7L455.7,422Z M370.7,453.5L370.3,453.6L366.7,450.3L363.7,446.7L363.1,445L363.9,442.7L363.9,442L363.5,441.7L361.3,440.5L358,439.5L354.7,437.9L351.9,435.7L353.3,435L356,435.3L356.6,435L358.9,432L361.5,430L361.9,429L362.2,427L362.7,426.3L364.3,425.2L367.8,423.7L368,423.3L368.2,422.3L367.7,420.3L367.7,419.3L368.5,417.7L370.5,416.7L371,414.3L372,412.7L374.7,411.7L376.1,409.7L378.1,407.7L378.4,407L378.6,404.7L379.3,402.7L379.3,402L378.8,401.3L377.4,400.3L376.8,399.3L376.9,397.3L377.9,395L378.2,392.3L377.8,389.7L376.4,387.3L376.9,378.3L378.3,377.4L381,376.3L382.5,378L383,379L383.2,380.7L384,383L386.3,385.3L387.3,388L388,392L388.4,393.3L388.3,394.7L387.5,397L387.7,400.7L388,401.2L388.3,401.4L390.7,400.7L394,397.3L398.7,391L399.7,390.3L402,389.7L402.3,389L402.1,387.7L402.3,387.4L404.2,386L406.3,383.3L409.5,380.7L410.7,377.3L412.9,374.3L415.3,372.9L416.3,371.9L417.3,371.7L418,371.3L418.7,370.5L419.1,369L420.3,367.8L422,367.3L423.7,367.3L425,366.4L425.3,364.7L426.3,362.3L428,360.3L430.3,358.7L431.3,358.2L432.7,357.1L434.7,356.1L436,355.9L439,356.6L440.3,356.2L440.9,355.7L441.5,354.7L441.8,353.7L441.6,351.7L441.9,351L445,348.7L446.4,347L446.8,346L447.1,344.3L447.9,342.3L449.3,341L451,340.4L452.3,339.5L453.3,338L455.3,336L455.8,335L458,332.3L459.3,330.3L460.6,329L462.7,327.9L465,327.3L468,326.1L468.9,325L469.2,323.3L469.7,322.6L475.3,318.6L476.7,318.2L479.3,318.1L480.2,317.7L482,314.3L482.7,312L483.7,310.9L488,307.9L491.6,306L492.7,305L494.1,302.7L495.3,301.6L496.3,301.3L498.7,301.5L499,301.3L499.9,299L501.5,297.3L503.3,294.6L507.3,291.1L511.6,289.3L512,288.7L512.5,286.3L513,285.6L515.3,283.4L516.3,283.2L517,282.8L520.7,278.3L522.3,277.5L524,277.2L525,276.5L526.1,275L526.6,272.7L527.2,271.7L529,270.3L532.3,267.2L533.7,266.5L535.1,266.3L535.5,265.7L535.5,264.7L536.4,263.3L539,262.7L540.4,262L542.3,259.4L545.3,257.4L548.3,257.4L549.3,257.8L550.7,258.8L552.1,260.3L551,261.7L549.5,263L547.3,264.3L546.3,263.4L545.7,263.1L544.7,263.1L543.7,263.5L543.1,264.3L542.7,266.3L542.3,267.3L540.6,270.3L538.8,272.7L537.7,273.2L536,273.2L534.3,274L533.9,275L534.2,276.7L533.7,277.7L532,278.9L530.7,278.9L530.3,279.3L530.5,282L529.7,283.6L527.3,285.4L525.3,285.6L524.1,286.3L523.3,287.7L523,290L520.7,293L516.3,295.6L513.9,298.7L512.7,299.6L512.3,299.7L510.7,299.3L509.7,299.9L509.4,300.7L509.6,301.7L510,302.3L510.7,302.7L510.3,304.3L509.3,305.9L508,306.7L507,306.9L505.7,308L504.7,309.3L501.4,312.7L499.7,315.3L497.8,317.3L496.7,317.8L494.3,317.2L493.6,317.3L493.2,318.7L492.9,322L492.5,323.3L491.1,324.7L490.2,326.3L487.7,329L485.8,330.3L485,331.3L483.7,332.3L483,333.3L482.5,334.7L481.7,335.7L480.3,336.5L479.4,337.3L477.7,341L476,342.7L475.7,344.8L475.2,345L474,346.5L472.7,349.3L470.7,352.2L467.7,354.3L465,355.4L459,358.7L458,359.9L456.7,362.4L456,363.1L455.6,363L454.3,361.8L453,362L450,365.3L449.6,368L447.8,370L447.4,371.7L446,374.7L444.7,375.4L442.7,375L441,375.5L438.7,375.3L437.7,376L437.2,376.7L437,377.7L437.7,378.6L438.7,378.6L441,377.4L441.3,377.5L441.5,378L440.9,380.3L439.6,382.7L439.9,385.3L439.7,386.7L439.3,387.3L437.3,388.3L435.3,388.9L431.5,389.7L428.1,391.7L426.3,393L425.4,394L425,395L423.7,396.6L423.3,396.8L422,396.2L421,396.6L420.3,397.3L419,400L418,400.5L417.7,401.1L417.3,401L417,401.7L417.1,402.3L416.3,403.9L414.2,406L412,407.5L410.7,409.9L409.3,410.8L407,411L406.2,411.7L405.7,413L406,414.9L407.3,416.4L409,417.5L410.3,417.6L414.7,416.8L417,417.7L419,417.9L420.2,418.3L420.8,419L420.7,420.7L421,422.2L422,424.1L419.7,424L417,424.6L414.7,425.7L414,426.7L412.3,427.8L410.3,428L409.6,427.7L409,427L408.3,426.8L406,427.5L404,427.8L399,427.6L398,428.3L398.1,429.7L396.3,430.6L394.3,430.7L391.3,430.4L390.3,431L388.7,431L388,431.2L386.9,432.3L386.4,434.7L385.7,436.3L385,436.9L383,437.3L380.9,439L380.2,440L379.5,442L377.7,444.5L376.7,447L375.7,448.3L372.3,450.4L370.7,453.5Z M395.7,275.1L394.7,275.3L393.7,274.8L392.7,272.8L391.3,272.1L390.5,271.3L390,269L390.3,267.7L390.1,266.3L390.3,265L390.7,264.2L392.3,262.5L394.3,261.8L395.7,262.2L396.7,262.9L397.5,264L398.1,265.3L398,267L397.5,268L397.2,270L397.4,272L397.2,273.3L396.5,274.7L395.7,275.1Z M594.3,266.2L594.1,266L594.7,264L596.7,262.1L597,262.1L597.3,262.3L597.3,263L596.7,264.3L594.3,266.2Z M650.7,269.1L649.7,268.9L648.9,267.7L649.1,266.3L649.7,265.9L650.7,265.8L651.9,266.7L652.1,267L651.6,268.7L650.7,269.1Z M459.7,284.8L459,284.9L458.3,284.4L457.1,282L457.1,280.3L457.8,278L457.9,275.7L457.3,273.1L456.5,272L456.7,270.3L457.9,269L459,268.6L459.7,269L460.5,270L461.2,271.3L462.4,274.3L462.9,277L462,282L460.8,284L459.7,284.8Z M575.7,274L575.3,274.3L574.3,274.3L573.4,273.7L572.8,273L572.6,272L573.7,270.3L574.7,270.3L575.7,270.6L576.5,271.7L576.6,272.3L576.2,273.7L575.7,274Z M477.7,278.7L476.3,278.5L475.7,278L475,277.3L474.4,276L474.6,275L475,274.5L477.3,273.7L477.7,273.7L479.4,274.7L480,275.3L479.5,277.3L478.7,278.2L477.7,278.7Z M635.3,281.3L634.1,280L634.2,279L634,277.7L634.7,277L636.7,276.7L637.8,277.7L638.3,278.7L638.4,279.7L637.7,280.5L635.3,281.3Z M674.3,290.8L673.3,289.7L672.9,288.7L672.8,288L673.6,286.3L673.3,285.7L672.4,285L671.3,284.8L669,283.3L668.3,282.3L668.1,281L669,280.3L671.1,279.3L671.5,278.7L671.2,278L671.7,277.2L672.5,277.7L672.7,278.2L674,279.2L675.3,279.4L676.2,279L676.6,278.3L676.5,277.3L677,277L678,277.5L678.7,278.8L679.7,278.9L681,279.8L681.7,281L681.1,282.7L680.3,283.8L678.7,284.7L676,284.6L675.3,285L674.9,285.7L674.9,286.3L676.4,289L675.3,290.3L674.3,290.8Z M433.3,282.4L431,282.4L430,282.1L429,280.3L429.5,279L430.7,278.1L432.7,277.8L434,277.2L434.7,277.3L435.3,277.7L435.5,279L435.9,279.7L434.7,281.7L433.3,282.4Z M744,333.7L741.7,333.3L738,332.1L737.1,331.3L736.7,330L736.3,329.7L734.3,329.7L733.7,329.4L732.3,328.3L731.9,327.7L731.6,326.7L731.5,325.3L730.2,324.7L729.1,323L729,321L730.9,315L730.4,310.7L730,309.7L728,309.1L727.4,308.3L726.9,307L726.6,305.3L726.6,301.7L727.1,300.3L729.3,298.8L730.1,298L730.1,297.3L729.6,296.3L729.4,295.3L730.3,293.5L732,293.1L734.3,293.5L735.3,294.9L736.3,295.3L737.3,295L738.6,293.7L739.7,293.2L742,293.4L743.3,294L744.1,295.7L747.6,301.3L748.3,303.3L748.6,305.3L750.2,309L750.4,310L749,310.7L748.6,311.3L748.4,312.3L747.8,313.3L748.1,314.3L748.8,315.3L751,316.9L752,318L754.3,318.9L756.2,320.7L756.5,322.7L756.2,327.3L756,329L755.5,330L754.3,330.7L751.7,331L750,330.3L749,330.3L748.3,330.7L747,332.1L746.2,333.3L744,333.7Z M590.3,311.7L589.3,312L589.1,311.7L589.7,310.3L589.3,310L588,309.2L586.3,308.9L584.7,309L584,309.5L582.7,311.1L582,311.3L581,311.3L579.6,309L578,307.8L575.3,306.7L574.3,306.4L572.3,306.6L571.7,306.1L570.9,304.3L569,302.3L569,302L571.7,299.6L575.3,298.1L576,298.2L577.3,299.7L579.3,300.6L580.3,300.5L582.3,299.8L584.3,300.9L585.7,301.2L589,301.3L591.3,302.2L593,303.7L594.7,308.3L594.3,309.2L593.3,310.1L590.7,311.4L590.3,311.7Z M573.7,309.3L572,309.2L570.3,308.3L570.1,308L570.7,307.6L572.7,307.7L573.9,308.7L573.9,309L573.7,309.3Z M600,376.8L594.3,375.9L593.3,376L592,375.5L591,373.7L590,370.7L587.5,366L587.4,365.3L587.9,363.3L586.8,360.3L586.9,355.7L586.7,355L586.4,354.7L585.3,354.6L582,355.6L579.3,356.1L578.3,356L576.7,355L575.3,354.8L572.3,355.2L571,354.9L568.3,354.9L567,354.6L564.7,354.8L562.7,353.9L562.1,353.3L561.4,352.3L561,350.9L560.4,350.3L557.3,349.2L556.8,348.7L557.3,346L556.7,343.7L556.7,341.7L557.1,340L558.3,337.7L558.1,337L556.8,336L556.4,335L556.2,333.3L556.5,330.7L556.7,330.5L559.7,330.3L560.3,330L560.6,329.3L560.3,328.6L558,327.2L556.7,325.7L557.3,323L556.9,319L557,318.7L557.7,318L561,316.6L562.7,316.3L566,316.9L567.3,316.8L570.3,316L572.3,316L574.3,316.4L576.7,318.1L580.3,318.3L583.7,319.8L585,320.8L586.3,322.3L590.3,323.8L592.5,325.7L593.1,327L592.7,328.3L592.9,329L593.3,329.4L595.7,330.7L596,334.7L596.5,336L597.1,337L598.3,337.8L601.3,338.3L602.7,340L603.7,340.7L606.3,344.3L607.7,345.4L609,345.9L611,347.7L611.4,348.3L611.4,349L610.4,353L611.3,356.5L611.4,358.3L611,359.7L608.7,360.3L607.9,361.3L607.7,362L607.9,363.3L608.7,365.7L608.6,368L608.1,370L607.3,371.7L605.7,373.2L600,376.8Z M621,324L619.7,324L618.7,323.3L616.9,319.7L616.9,319L617.3,318.4L618.7,317.8L620.7,317.9L622.5,318.7L623.1,320L622.9,321.7L622,323.6L621,324Z M642,325.2L640.6,324.3L639.9,323.3L639.8,322L640.8,320L642,319.3L642.7,319.5L643.3,320L643.8,323.7L643.3,324.6L642,325.2Z M658,324.8L657.7,325L657,324.7L656.5,324L656.5,323L657,322.2L657.7,321.7L658.3,321.6L659.2,322L659.4,322.7L659.3,323.3L658,324.8Z M679,325.7L674.6,324.7L673.8,324L674,322.7L675,321.9L676.3,321.7L678.3,322.5L679.4,323.3L679.8,324L679.5,325L679,325.7Z M385,354.8L384.3,354.9L384.1,354.3L383.9,353L384.1,350.3L383.8,349.3L382.9,348.3L382.9,348L383.7,346.3L385.3,344.3L387,343.3L388.7,342.8L389.7,341.8L392,340.7L397,339.3L398.7,339.4L400,340.2L401,340.5L402.3,340.2L403.3,339.5L403.9,338.7L404.3,337L404.3,335.3L404.5,334.7L405,333.9L406.7,332.5L407.2,331.3L407.8,329L408.6,327.3L409.7,326.3L411,325.8L415.3,325.8L417,325.1L417.6,324.3L417.7,323.6L418.3,323.1L419.3,323.4L421.2,324.3L421.2,325.3L419.3,326.5L418.6,327.7L420.2,330.7L419.2,333.7L419.4,334L420,334.3L421,333.7L421.3,334.3L421,334.7L420.8,335.3L420.3,335.8L418.7,336.8L416.7,338.5L413.3,340L411.7,341.7L409.7,343.2L406,344.9L402.7,347.2L401.3,347.6L398.3,347.8L395.7,350.1L393,351.4L392.3,351.5L390.7,351L390,351.2L387.7,353.3L385,354.8Z M607.7,333.4L606.7,333.5L603.7,332.8L603,332L602.6,330.7L604,327.4L604.7,327.2L605.7,327.3L606.5,328L607.2,330.3L607.9,331.7L608,332.7L607.7,333.4Z M663.7,356.2L662.3,356.2L661,355.8L659,355.9L658.7,355.7L656.4,353L655.6,351L655.3,346.3L655.5,344.7L656.8,340.7L656.5,337.7L656.8,335.3L655.4,330.7L656.7,330L659.3,330.4L659.2,331.7L659.7,332.3L660.7,332.3L662.7,331.9L664.6,332.3L666.5,334L666.8,334.7L666.9,336.3L667.9,340.3L667.9,343L668.3,344L668.4,345L667.8,347.7L667.3,348.5L666.5,349.7L665.3,350.2L664.8,351L664.8,352L665.6,354.7L665.5,355.3L665,355.8L663.7,356.2Z M647.3,343L646.4,342L646.3,341.3L646.6,340L646.5,339.3L644.9,336.7L644.3,335L645.7,332.9L647.3,331.6L650.3,332.9L652,333.2L652.4,334L652,338.7L652.2,341.7L652,342L651.3,342.1L649.7,342L648.3,342.4L647.3,343Z M689,351.4L683,351.2L678,351.5L676.3,351.4L675.5,350L672.4,346.7L671.9,345.7L672.2,342.7L673.1,339.7L676.7,336.8L679.7,335.5L680.3,335.4L681.3,336.4L683,336.8L685.3,335.6L686.3,335.8L688.3,335.6L691.7,337L696.7,336.3L697.3,336L701.3,336.5L701.9,337L702.4,338.7L703,339.1L703.4,339L704.7,337.5L707.7,338.4L711.3,338.5L714.1,339L716.7,339.9L718,341L718.8,342L718.9,342.3L717.8,344.7L717.9,347L717.6,348.7L717.3,349.2L715,348.7L712.7,348.9L710,350.7L708,350.9L707.7,351.2L705.3,350.7L704.4,349.7L703.3,349.2L701.3,348.9L700,349.4L698.3,350.7L697,351.1L692.7,351.1L689,351.4Z M724.3,368.4L722,367.8L719.7,366.7L718.9,365.7L717.9,363.3L716.7,361.8L716.8,359.3L717.2,358.3L718.5,357.3L720.3,356.5L723,356.3L724.3,356L725.7,355.9L726.7,356.2L730.3,358.4L731.5,360L731.9,362L730.6,365.3L729.3,366.4L727,367.8L725.7,368.2L724.3,368.4Z M651.7,419.4L650,418.4L645.9,414.3L644.6,410.7L644,409.7L644,406.7L644.4,405L644.4,403.3L644.7,401.3L643.5,398L645.8,397L646.4,396.3L646.5,395.7L646.6,394.7L646,393.3L645.6,390.3L644.4,389.3L642,388.7L640.3,386.7L638.7,385.7L637.7,384.3L636.3,381.3L633.7,378.3L632.2,375L629.2,371.3L624,370.2L622.3,368.7L621,368.5L620.3,368L618,364L618,363.3L618.3,362.2L619.3,360.7L622,358.2L624,357.7L625.3,358.1L627,359.1L630.3,358.5L633.7,359.4L640.3,359.7L644.3,361L645.7,361.9L646.3,362.7L646.8,366.3L646.7,367.3L646,368.3L644.3,369.3L642.1,371.7L641.8,373L641.9,374.7L643,376.3L644,376.7L646,376.3L646.7,376.8L647.2,377.7L649,382.3L649.2,384L649.1,385L649.3,386L651,387.7L651.4,388.3L651.6,389.3L650.3,391.3L650.2,392.7L650.5,393.3L651.3,394L653,394.7L653.3,396L654.7,397.3L655.5,399L656,399.4L657.7,399.9L658.7,400.7L660.4,404.7L660.9,407L660.8,408.3L658.7,410.1L657.9,411.3L657.8,412.3L658.2,414.3L657.9,415.7L657.7,415.9L655.3,416.6L654.6,417.3L654.6,418.3L653.7,419L651.7,419.4Z M501.7,362.3L501.4,361.7L501.7,361.1L501.8,361.7L501.7,362.3Z M672.3,372L671.7,372L670.3,371.2L670.2,370L670.4,369.3L671.7,368L673.3,367.6L674.5,368.7L674.8,370.7L673.3,371.9L672.3,372Z M523.3,373L522.7,372.9L521.7,372L521.7,370L523,368.8L524.7,368.4L525.3,368.9L526.1,370.3L526,370.7L525.7,371.3L525.1,371.7L524,372.8L523.3,373Z M724.7,380L723,380L722.3,379.5L719.9,377L719.7,375.3L720.1,374.3L721.1,373L722.7,372.3L724.3,371.9L725.3,372.2L726.7,373L728.1,374.7L728.6,376L727.8,378L725.7,379.6L724.7,380Z M476.7,412.1L475,412.2L474.5,411.7L474.3,410.3L475.3,407.7L475,406.9L474.7,406.8L474.3,407.2L474,407.2L473.3,406.6L472.8,405L473,403L472.8,397.7L471.5,397L468.3,392.2L467.9,391.3L467.6,389.3L467.4,384.7L467.9,382L470.3,381.2L472.3,379.8L473.3,380.1L474.3,380.1L476.3,380.7L477,381.2L480.4,386.3L480.1,388.7L479.5,389.7L479.2,391L478.8,391.7L478.3,393.7L477.6,395.3L476.5,396.7L476.3,397.3L476.5,398L477.4,398.7L479.1,401L479.7,402.7L479.7,404L479,406.3L479.2,408L478.6,410.3L478.1,411.3L476.7,412.1Z M603.3,410.4L600.7,410.6L599.1,408.7L598.4,406.3L598.5,405.3L599.1,404L599.2,402L598.8,401L597.5,399.7L597.2,398L597.6,396.7L598.7,395L599,393.7L599,392.5L598.1,389L600.3,388.3L602,387L604,385.9L605.6,387.3L606.7,389.8L607.7,390.4L609.5,391L610,393L609.7,399L610.4,401.7L609.9,403.3L610,405L609.8,405.7L608.9,408L608,409.3L607.3,409.9L604.7,409.9L603.3,410.4Z M665,396.7L664.3,396.7L663,396.1L662.3,395L662.6,393.3L663.7,392.2L665.3,392.1L666.7,392.6L667.8,394L667.7,395.2L667,396.1L666,396.6L665,396.7Z M749.7,402.1L748,402.2L747,401.8L745.4,400.7L744.3,399L744.4,397.3L745.5,395.3L749,393.9L751.9,394.7L753.2,397.3L753.1,398.7L752,400.7L749.7,402.1Z M718.3,423.7L716.3,423.9L714,422.9L712,422.4L710.1,421.7L709.3,421.5L707,421.7L705.7,421.5L704.3,421.1L703.4,420.3L701.8,417.7L701.6,414.7L700.2,411.3L700.6,408L699.9,406.7L699.5,402.7L699.9,400.3L704.5,398L707,396.2L708.7,395.7L710.3,396.2L713.3,396.2L715.7,397.3L717.3,397L719.3,397.4L728.4,402.3L728.4,404.7L727.4,407.3L727.6,408.7L727.3,411L728.3,414.3L727.9,416.3L727.4,418L726,420.1L724.3,420.9L722,421L721.3,421.4L720.3,422.9L718.3,423.7Z M457.7,407.1L457,405.3L457.9,404.7L458.1,404.3L457.8,403.3L457,402.3L457,401.3L457.9,399.3L460,397.7L461.3,396.1L462.7,396.1L463.7,396.5L465.2,397.7L465.7,399.3L466.6,400.7L467,402.6L464.7,403.7L462.7,405.3L460.7,405L459.7,405.2L459,405.7L458.5,406.7L457.7,407.1Z M455.3,421.7L454,421.9L452,421.6L450.7,420.9L450.3,420.3L449.9,419L449.9,417L449.4,414.3L449.7,413.4L450.7,412.7L452.3,412.2L453.9,412.3L454,413.7L454.3,414.2L455.3,415L456.1,415.3L458.1,417.3L458.4,418.7L457,420.3L455.3,421.7Z M543.7,262L543.7,261.2L544.1,260.3L545.7,258.8L548.3,259.2L549.7,260.3L549.5,260.7L548.3,261.1L546,261.3L543.7,262Z M394.3,272.1L393.7,269.7L392.7,267.8L391.6,267L391.2,265.3L391.3,264.6L392.7,263.2L394.3,262.7L395.8,263.3L396.7,265.3L394.3,272.1Z M371,450L369.3,450.2L368.3,450L367.1,449L366.1,447.7L365.2,445.7L366,442.7L365.7,441L365.2,440.3L364.7,440L362.3,439.7L359.3,438.8L358.2,438L357.3,436.7L359.3,433.3L362.5,430.7L363.6,427.7L364.7,426.3L366.3,425.5L369,425.8L370,425.7L370.4,425.3L370.6,424.7L369.7,422.8L369.3,420.3L370,419.7L372,419.1L372.7,418.7L373.3,417L372.7,415.3L373,414.3L375.3,413L376.7,410.6L377.7,409.6L378.7,409.3L380,409.9L380.9,409.3L381.2,407.3L380.8,405.3L381.9,402.7L381.7,401.7L381.1,400.7L379,399L378.6,398L379.6,389L379.2,387.7L378,386.5L377.7,385.7L378,379.3L379.3,378.6L380.7,378.4L381.3,380.3L382.9,383.7L385.5,386.7L385.9,388.3L385.4,390L385.5,390.7L387,393.7L386.8,394.7L385.3,397.3L385.4,401.7L386.3,403.1L387.7,403.7L388.3,403.6L391.3,401.6L395,398.1L397.3,394.3L399.7,391.8L400.7,391.5L403.7,391.3L404.4,391L404.7,390.7L405.1,388L406.3,385.3L407,384.3L408.3,383.6L410,383.6L411.3,383.3L413.1,382.3L413.7,381L412.4,379L412.5,378L412.9,377.3L414.1,376L414.7,375.8L415.3,375.8L417.3,377.2L418.4,376.7L421.1,372.7L421.6,369.7L423,368.9L425,368.5L426.3,367.7L426.5,367L426.7,364.7L427.4,362.7L428.2,361.7L431,360.2L433.7,359.8L434,359.8L435.7,361.3L436.7,361.3L437.4,361L437.9,360.3L438.3,358.7L439.7,358.2L441,357.5L442.7,355.3L445,350.8L448.3,346L448.9,343.7L449.3,343L450.6,342L453,340.6L457.3,335.9L458.3,335.3L460.3,332.7L462,331.4L463.7,329.6L465,328.7L468.5,327.7L469.3,327.2L470,326.3L471.4,323L473.7,320.9L474.7,320.3L480.3,319.4L481.3,318.9L481.8,318.3L482.7,316.3L484.7,314L484.2,312.7L484.3,311.7L485.6,310.3L494.7,306.1L496.3,303.6L498.7,303.4L499.7,303L500.4,302.3L501.9,299.7L504.3,297.4L505,297L507,296.7L508,296.1L509.5,294L510.1,292L510.7,291.6L512.7,291.1L513.2,290.7L514,288L514.7,287.6L517,287.7L518.3,286.9L518.8,286L518.7,283.3L519.3,281.7L520.7,280.4L522.3,280.1L523.3,279.6L526,277.2L527.2,275.7L528,273.1L529,271.8L530,271.1L531.7,269.3L532.7,268.6L535.3,268.9L536.6,268.3L537.2,267.3L537.5,265L538.3,264.1L540.7,263.3L542,263.3L541.6,266L541,267L540,267.8L537.9,269L536.3,271.2L532.7,273.4L531.8,274.3L531.1,276.3L529,278.3L528.6,279.7L528.8,281.3L528.7,282.7L527.7,283.3L525.3,284.1L521.3,287L519.2,288L519.1,288.7L520.4,290.7L520.3,291.3L519.6,292.3L518.3,293.1L517.3,293.4L515.7,292.7L515,292.6L514.3,293.3L513.7,295.7L513,296.5L511.3,297.1L509.3,297.5L508.6,298L508.1,299L507.9,300L508.1,303.3L507.9,304.3L507.3,304.9L505,306.4L501.7,309.7L498.6,314.3L497.1,316L496,316.2L493.7,315.4L492.7,315.5L492,316L491.5,317L492.1,320.3L491.7,322.2L489.3,324.3L488.2,326.3L487.1,327.7L484.3,328.5L483.7,329L480.5,334.3L478.5,336.3L476.7,339.3L475,340.8L473.7,342.5L471.5,344L469.7,345.8L468.6,347.3L468.3,348.3L468.4,349.3L469.2,351.3L468,352.6L467,353.1L464,353.6L463.5,354.7L462.7,355.5L458.2,357.7L456,359.6L454,359.9L453.1,360.3L452,361.3L451,362.6L448.7,363.9L448.2,364.7L447.5,367L446,369L445.6,370L445.4,372L444.7,373.1L441,373.6L438.7,373.2L438,373.5L436.3,376.3L435.9,378L436.3,379.5L437.9,381.3L438.1,383.3L438.5,384.7L438.6,385.7L438.3,386.4L434.7,387.9L431.7,388.1L429.3,389.7L427,390.7L423.3,393.4L421,394.5L418.3,397.4L415.3,398.3L414.4,399.3L413.8,402.7L413.2,404L410.3,405.5L409.8,406L409.6,407L410,408.3L409.7,409.2L409,409.6L408.3,409.7L406,408.8L405.3,408.9L404.7,409.3L404.3,410.3L404.8,414.7L405.5,416L408.3,419.7L409.3,420L412,418.5L414,418.2L414.8,418.3L417.7,419.1L419.1,420L419.4,420.3L419.6,421.7L419.4,422.7L418.3,423.3L415.7,424L413.3,424L411.7,424.2L409.3,423.9L406,426.2L404.7,426.7L403,426.7L399.3,425.8L398,426L397,426.5L395.7,428.2L394.7,428.9L393.7,428.9L391,427.9L387,428.9L385.6,430.3L384.6,433L383.7,434.4L378.1,439.7L377.2,442.7L375.5,446.3L374.3,447.6L371,450Z M575,273.2L574.7,273.3L573.8,272.7L573.7,272L574.3,271.4L575,271.4L575.5,272L575.3,273L575,273.2Z M459.7,283.4L459,283.5L458.7,283.2L458.1,281.3L459,278.7L458.9,274.7L459.3,274.2L460.3,273.9L460.7,274L461.5,275L461.7,277.3L460.7,278.7L460.8,282L460.3,282.8L459.7,283.4Z M477.7,277.5L477,277.6L476.1,277L475.8,276L476.3,275.3L477.3,275L478,275.7L478.2,276.7L477.7,277.5Z M679,283L678.3,283.2L677.5,282.7L677.3,282L677.4,281L678,280.6L679,280.6L679.7,280.7L680.2,281L680.2,282L679.9,282.7L679,283Z M743.7,332.3L742,332.3L740.3,331.8L739.4,331L737.8,328L736.5,326.7L735.7,325L733.9,323L733.3,321.8L731.6,319L731.4,317.7L732.3,315.3L732.4,313.7L731.9,311.7L731.9,309.3L731,308.3L729,308.3L728.5,308L727.7,306.7L727.7,305L728,304.2L729.3,303L729.3,301L731,299.6L731.6,298.7L731.6,297.3L730.8,295.3L730.9,294.7L731.3,294.4L732,294.2L732.6,294.3L735.3,296.2L736.7,296.6L738,296.3L739.2,294.7L740,294.3L741.7,294.4L742.7,295L743.3,296.6L745.1,299.3L746,301.3L746.5,303.3L746.6,306.3L747,307.5L748.1,309L747,309.9L746.1,311.3L745.9,313.3L747.3,315.4L750,317.6L751.3,320L752,320.3L754.3,320.5L755,320.7L755.4,321.3L755.6,323L755,327L754.3,328.3L752.3,329.3L749.7,328.4L748.3,328.5L747.3,329.2L744.7,332L743.7,332.3Z M581.7,308.8L581,308.6L575.7,305.5L573,305L572.3,304.5L571.3,303L571.6,301.3L572,300.7L572.7,300.2L573.7,299.9L575.3,299.9L578.7,301.7L580,301.9L582.7,301.5L586.3,303.3L588,303.3L590.7,303.9L592,304.7L592.5,307L592.3,307.4L588.7,307.7L586,306.6L585,306.4L584,306.7L582.3,308.4L581.7,308.8Z M593,374.7L592.2,373L592.1,372L589.3,367L589.2,365.7L589.9,363.3L589.5,360.7L590.2,358.7L590.3,357.7L589.6,355.7L587.3,352.3L585.7,352.4L582.7,354.1L580,354.8L578.7,354.6L576.3,353.5L573.3,353.6L568.7,353.3L567,352.7L563.7,351.8L561.8,349.3L559.6,347.3L558,343.7L557.8,342.7L558.1,341.3L559.5,338.7L559.8,337.3L559.3,336.3L557.3,334.8L557,333.3L557.3,331.4L560.7,331.2L561.5,330.7L561.9,329.7L561.5,328L559.2,324.7L559.2,323L558.3,319.7L559.3,318.8L561.7,317.8L563,317.9L564.7,318.5L569,317.5L570.7,317.4L572.1,318L573.3,319.8L574,320.1L579.7,319.6L581.3,320L583,321.1L583.7,322.7L584.7,323.8L586,324.5L588.3,324.5L589.7,324.8L590.4,325.3L590.8,326L590.3,328.3L590.6,329.7L592.3,331.9L592.7,333L594.1,334.7L596.3,338.4L598,339.3L600.4,339.3L606.1,346.3L609.5,348.3L610,348.9L610,349.7L609.6,350.3L607.6,351.7L607.1,352.3L607.1,353L607.9,355.3L608,356.7L607.6,358.7L606.6,360.3L606.4,361.3L606.2,366L607,367.3L607.4,368.3L607.2,369.7L606.6,371L605.3,372.2L604,372.8L602.3,372.7L601,373L599.9,373.7L599.3,374.4L598.3,374.6L595,374.2L593,374.7Z M621,322.4L620.7,322.6L620,322.5L618.9,321.3L619.1,320.3L620,319.7L621,319.7L621.6,320.7L621.6,321.3L621,322.4Z M386,352.4L385.7,352.6L385.6,352.3L385.6,349.7L384.8,348.3L384.9,347L386,345.4L389.7,344.8L391,343.8L392.7,342L395.7,341.1L397.7,340.9L401,341.7L402.3,341.4L404,340.1L404.9,339L405.7,335L406.8,334L408.9,333L409,332L408.6,330L409,328.7L409.7,327.7L411,326.9L413.3,326.9L416.3,327.6L416.8,328L417.8,329.7L418,330.7L416.9,332.7L416.3,336.3L416.1,337L415.5,337.7L412.7,339.2L408.7,342.3L404.7,344.1L402,346.2L398.3,346.5L397.3,347L395.7,348.4L394.3,349.1L392.7,349L391.3,348.6L389.7,348.8L387.9,350.3L386,352.4Z M649.7,340.3L648.3,340.3L647.6,338.3L645.9,335.7L646.7,334L647.5,333.3L648.7,333.9L650.2,335.3L650.5,339.7L650.3,340.1L649.7,340.3Z M660.3,353.8L659.7,353.9L658.1,353L656.9,351.3L656.3,347L656.5,345L657.1,343.7L658.4,342.7L658.7,342L657.7,338L657.6,337.3L658.1,336L659.7,333.7L661.3,333.2L663.3,333.1L664.6,333.7L665.8,335L666.8,340.7L666.2,343L667.2,344.3L667.1,346L666.7,347.1L666,347.8L664.3,348.1L663,349L662.3,351L662.7,352.9L661.3,353.2L660.3,353.8Z M688.7,350.1L686.5,350L686,349.7L685.3,348.7L683,348.4L678.7,347.1L678.2,345.7L677.6,345L677,344.6L675,344.2L674,343.3L673.8,342L674.1,340.3L675,339.6L677.7,338.5L680.7,338.1L684,338.8L685.3,338.3L687.7,336.9L691.3,338.3L695.7,337.4L698,337.3L699.2,338L698.8,340.3L699.3,341L700,341.3L703,341.3L704.7,340.3L705.7,340.1L707.7,340.1L710.3,339.7L712,340L712.9,340.7L713.6,342.3L714.9,343.7L716.1,346L716,347L715.8,347.3L715.3,347.5L710.3,347.1L706.3,347.1L701,347.5L699.7,348.1L697.7,349.7L696.3,350L694.7,349.6L692,347.4L691.3,347.2L690.8,347.7L690.2,349.3L688.7,350.1Z M723.7,366.7L722.3,366.8L721.4,366.7L720.1,365.7L719.3,363.3L719.3,360.3L719.7,359.4L721.3,358.2L724.7,357.2L726,357.2L727.3,357.8L729,359.3L729.2,360L728.7,362.7L728.9,364.3L728.3,365.2L726.7,366.3L723.7,366.7Z M648.3,391.8L646.3,389.2L645.6,388.7L643,387.7L641,385.5L638.7,383.6L636.6,379.7L634.5,377.7L634,375.7L633.9,374.3L633.4,373.3L631.7,372.2L630.7,371L629.7,370.2L627.3,369.8L625,368.6L622,366.6L619.3,364.2L619,363.7L619.1,363L620,361.6L620.7,361.3L623.3,361.4L624.7,360.9L627,360.7L630,359.8L630.7,359.8L634.3,360.7L638.6,361.3L640.7,362.6L643.7,362.8L644.9,363.7L645.4,364.3L645.7,366L645.3,367L644.9,367.7L643,369.1L641,369.9L640.7,370.2L640.6,374.7L641.3,376L642.7,377.4L643.7,378.1L645.7,378.5L646.2,379L647.1,382.3L647.3,386L648.7,389.7L648.6,391.3L648.3,391.8Z M724.7,379.1L723.2,379L721.3,377L720.8,375.7L721,374.8L722,373.7L724,373.1L725,373.2L726,373.8L726.8,374.7L727.3,376L726.9,377.3L724.7,379.1Z M474,393.1L471.7,391.6L469.6,391L469,390.3L468.5,388.3L468.4,385.3L468.6,384L469.3,382.8L472.3,382L476,382.1L477,383.3L478.7,386.5L478.3,388.3L476.3,390.9L474.4,392.3L474,393.1Z M602.3,409.1L601.3,409.2L601,409.1L600,408L599.8,407.3L599.9,405.7L601.2,403.7L601.4,402L599.2,399L598.8,397.7L599.8,395L600.5,390.3L602.3,388.3L603.7,387.5L604.3,388.3L605.3,390.6L606,391.3L607.4,392L607.8,393L608,398L607.5,401L606.6,402.7L608.2,405.7L607.7,407.7L606.7,408.5L604.3,408.5L602.3,409.1Z M652,416.4L649.3,415.8L648.7,415.6L647.7,414.6L646.8,413.3L647,410.7L645.5,409.3L645.3,408.7L645.8,406.3L645.9,403.3L646.6,401.7L646.2,399.3L647.2,398L648.9,394.7L649.7,394L652,396L653.5,398L654.2,399.7L657,401.3L658,402.2L659.6,406L659.3,407.3L657.7,409L656.9,410.3L656.6,411.3L656.5,413.7L656.3,414.7L652,416.4Z M748.7,400.7L748,400.7L746.3,399.7L745.7,398.7L746,397.7L747,396.5L748.3,395.9L749.3,395.7L750.7,395.9L751.8,397.3L751.9,398.3L750.7,399.9L748.7,400.7Z M718,422.3L716.7,422.2L715.3,421.6L711.7,420.9L708.7,420L706.3,420.2L704.7,420L703.9,419.3L703,418L702.6,414.7L701.2,411.3L701.6,410L703.4,408L703.7,407L703,405.7L701.5,404.7L700.9,404L700.6,403L701,401.1L702,400.9L703.3,401.4L703.9,401.3L704.3,401L705.1,399.3L706.3,397.9L707.7,397.2L709,397.1L710.3,397.8L712.3,398.2L714.7,399.7L715.7,399.7L717.7,399L719,398.9L723.5,401L727,403.3L725.7,406.3L725.8,412L725.3,413.7L724,415.6L722.6,418.3L719.9,419.7L719.2,420.3L718,422.3Z M462,403.4L461.3,403.5L459.7,403.3L458.5,402L458.4,401L458.8,400L459.7,399.3L461.7,398.2L462.7,398.2L463.8,398.7L464.1,401.3L464,402L462,403.4Z M476.3,403.5L474.8,402.3L474.3,401.3L474.3,399.7L475,398.8L475.3,398.9L476.5,399.7L478,401.7L477.9,402.7L476.3,403.5Z M455.3,420.8L454.3,421L452.7,420.8L451.3,420L450.9,418.3L451,416.3L450.5,414.3L451,413.8L452.3,414L453.3,415L455.3,416.1L456.6,417.7L456.7,419L455.3,420.8Z M394.3,267L392.2,265.3L392.4,264.7L392.9,264L394,263.5L394.9,263.7L395.2,264.3L395.1,265.3L394.3,267Z M539,266.7L538.6,266.7L539,265.3L540.3,264.7L540.5,265L540.1,266L539,266.7Z M521,285.5L520.7,285.3L520.3,284L520.3,283.3L520.7,282.6L523.3,281.5L525.7,279.2L527,278.2L527.3,278.3L527.1,280.7L526.6,281.7L521,285.5Z M743,331.4L741.7,331.2L740.7,330.3L740.4,329.7L740.3,328L740,327.3L735.2,322.3L733.4,319L733.2,317.7L734.7,314L733.5,311.7L733.2,308.3L732.3,307.3L731.7,306.8L731,306.6L730,307L728.8,306.3L729.1,305.7L730.7,305.1L731.4,304.3L731.7,303.3L731.6,301.7L732.7,299.7L733.1,297.3L734,297L736.7,297.5L738.3,297.5L739.1,297L740.2,295.7L741,295.4L741.9,296L742.4,298L743.8,300L744.2,301.3L744.2,302.7L743.9,303.7L742.3,305L741.5,306.3L741.7,307.3L742.3,307.8L743,308L744.3,307.8L744.7,307.9L745,308.3L744.5,309L743.9,313L744,314L748.9,318L749.4,319L749.8,321.3L750.3,322.2L751.3,322.6L753.7,321.9L754.3,322.2L754.5,322.7L754.3,323.3L753.7,323.8L753,323.9L751.7,323.6L751.3,323.7L749.4,326.7L747,327L745.9,328L744.3,330.5L743,331.4Z M371,448.7L369.2,448.3L368.1,447.3L367.5,445L366.9,441.7L366,439L365.3,438.5L362.7,438.7L360.9,438.3L359.6,437.7L359,437L358.8,436.3L360.3,434L363.4,431.7L365.8,428L366.7,428L368.3,430.3L369,430.5L369.9,430L370.5,428.7L372,426.8L372.6,425.7L372.1,421.3L374,419.4L375.3,417.7L376.3,416.3L377,414.7L380,413.8L381.3,412.8L383.3,408.3L383.9,404L387,405.2L388.3,405.3L389,405L391.7,403L395.7,399L397.2,397L398.3,394.7L399.7,393.3L401.3,392.5L405,392.8L406,392.4L406.4,391.7L406.8,389L407.3,387.9L408.3,387.4L409.7,387.3L411,385.3L414.6,383L416.6,379.3L418.3,378.6L419.4,377.7L420.6,375.7L422.4,373.3L423,371.5L423.6,370.7L425,370.2L427.3,370.9L428.3,370.9L429.8,370.3L430,369.7L429.9,369L428.3,367.2L427.8,366L428,364.1L428.7,363L429.3,362.6L430.3,362.4L433.7,363L436.7,362.8L438,362.5L439.3,361.8L441.8,359L443.6,356.3L446.1,353.3L447,351.7L447.9,349L450.7,346L451.8,343L455,340.5L457.1,339.7L458,339.1L460.7,334.6L463,332.6L465,330.4L466.3,329.6L469,329.4L470.3,328.7L472.9,324L474.3,322.3L477.7,321.1L480.7,320.6L482,320L482.7,319.2L483.7,317L484.3,316.4L487.3,315.2L488.6,314.3L490.3,312L491.2,309.7L491.7,309.1L493,308.3L496,307.7L497.5,307L498.5,305.7L501,303.4L503,300.3L505,299.1L506.7,299L506.8,302L506.3,303.7L503,306.3L502,306.8L499.3,307L498.7,307.5L498.3,308.7L498.2,311.7L497.8,312.7L497,313.9L495.7,314.4L493,314.1L492,314.4L490.9,315.3L490.2,316.7L490.3,318L490.8,320L490.8,320.7L490.4,321.7L489.7,322.2L487.3,323L487.1,323.3L487,325.3L486.3,326.6L483.7,327L483,327.3L481.9,330L478.3,334.3L476,338L473,340.8L471,342.1L468.7,344.5L465.9,346.7L465.1,348L464.8,349L464.3,349.5L463.3,349.9L462.4,351L461.7,354L461.3,354.8L460.3,355.6L458,356.1L455.3,354.4L454.7,354.2L454,354.4L453.4,355.3L452.9,358.7L450.3,361.6L448.5,362.3L447.5,363.3L446.3,366.7L443.7,369.3L442.7,371.7L441.7,372L440.7,372L438,370.8L437.1,371.3L435,378L435.2,379.7L436.2,382.7L436.5,385L436.3,385.3L434.7,386.4L434,386.6L431.7,386.6L428.7,388.6L426.3,388.9L424.3,390.8L421,392.6L419.8,393.7L418,396L415.2,397.3L414,398.3L412.3,400.7L411,403L408.7,404.7L407,406.7L405,407.4L403.5,408.7L402.8,409.7L402.6,410.7L403.4,413L403.4,414.3L403.8,416L405.3,418L406.3,420.3L407.8,422L406.1,424.7L405,425.4L404,425.6L399.3,424.7L397.3,424.8L396.3,425.3L395,426.8L394,427.3L390.7,426.8L386.7,427.5L385.7,428L384.6,429.3L383.4,431.7L381.7,433.1L379.9,436.3L379,437.2L377,438.3L376.4,439L376,439.7L374.5,445.7L373.1,447.3L371,448.7Z M582,306.7L581,307L579.7,306.7L576.3,304.8L573.7,304.1L572.9,303L572.8,302L573.3,301.3L574.3,301.1L576,301.6L577.3,302.5L578.7,303L580.3,303.1L582.3,302.9L583,303.1L583.9,304L584.2,305L582,306.7Z M599,371.7L598.7,371.9L597.7,371.8L595.3,371.9L594.2,371L592.3,370L591.3,368.7L590.8,367.3L591,366.4L593.3,365.3L593.9,364.7L594,364L593.4,362.7L591.9,360.7L592.1,358L591.4,355.7L588,350.3L587,350.1L585.7,350.2L583.2,352.3L582,353.1L580.7,353.5L579.3,353.4L576.7,352L573.7,352.4L570.7,352.2L569,351.7L567.8,350L566.9,349.3L566,349.2L564.3,349.4L563.7,349.2L562.3,348.1L560.8,346.3L559.7,344L559.6,342.7L560.5,341.3L561.3,339.2L564,337.7L564.5,337L565,335.3L564.5,334.3L563.7,334L562.3,335.3L561,335.6L558.3,334.4L557.8,333.7L558,332.3L558.3,332L560.3,332.3L561.3,332.1L562.6,331.3L562.9,330.7L563,329.3L560.9,324L560.8,321.7L561,321.3L566,320.6L568.7,319.1L569.7,318.9L570.6,319.3L573,322.2L574.3,322.9L575.3,322.8L577,321.8L578,321.5L579.7,321.2L580.7,321.5L581.2,322L581.2,322.7L580.9,324.3L581.2,325L584,325.8L587.3,327.3L588.1,328L590.6,332.3L591.2,334.3L594.4,339.7L599.7,341.7L601.3,343.2L602.8,346L603.3,346.7L604.3,347.3L606,348L607.1,349L607.2,349.7L605.7,351.3L605.3,352.3L605.4,353L606.4,355L606.5,356.3L606.2,358.3L605.3,361L604.9,363.7L604.3,364.7L602.8,365.7L602.3,366.3L602.2,368L601.2,370.3L599,371.7Z M407.7,340.4L406,340.6L405.3,340L406.1,338.7L406.3,336.7L406.7,335.7L407.7,334.9L410,334.4L410.5,333.7L410.4,332L409.6,330L410,328.9L411.2,328L412.7,327.8L414.3,328.1L416,328.9L416.4,329.3L416.6,330.7L414.7,336.3L414,337L412.3,337.9L410.3,339.5L407.7,340.4Z M660.7,351L659.7,351.3L658.7,351.1L658.2,350.7L657.8,349.7L658.3,347.7L659.5,346.7L661.3,343.9L661.7,343L661.4,342L659.3,338.3L659.1,337L660.5,334.3L662,334L663.3,334L664.3,334.6L665,335.4L665.4,337.3L665.4,338.7L664.9,340L662.8,342.7L662.8,343.3L663.6,344.3L663.7,345.7L661.8,348L661.1,350.7L660.7,351Z M697,348.4L696.1,348.3L695.3,347.9L693,345.5L692,344.9L687.7,344L686.7,344.3L685,345.4L684,345.5L681.5,344L680,344L677.9,343.3L676.3,342.2L675.9,341.3L678,342L678.7,342L681,339.9L685,340.4L687.7,341.7L689.7,341.4L691.3,342.4L693.3,342.6L696.3,342.1L700,342.6L702.3,342.7L705,341.8L710.3,341.3L712,342.1L713.4,344L713.9,345.3L713.7,345.7L713.3,345.7L709,346L702.3,345.5L700.3,346.3L697,348.4Z M395,347.1L393.7,347.3L391,346.9L390.9,346.7L392.3,344.8L393.7,343.7L399.3,342.7L400.3,343L400,343.7L399.3,344.3L397.3,345.4L395,347.1Z M387.7,348.7L387.3,348.7L387.1,348.3L387.1,347L388,346.9L389,347.3L389.1,347.7L387.7,348.7Z M723,365.3L722,365.6L721.3,365.3L721,364.8L720.8,362.7L721.1,361.7L721.3,361.3L722.7,360.7L725,358.8L725.7,358.6L726.3,358.7L727.1,359.3L727.5,360.3L727,362.9L726.3,363.8L725.7,364.2L723,365.3Z M639,374.7L636,372.9L633.8,371L633.5,370.3L633.5,367L632,365.6L630.3,365.1L629.3,365.1L628.7,365.3L627.7,366.6L627,366.6L623.7,365.6L622,364.1L621.2,363.7L624.7,363.1L627.1,363L629,362.3L630,361.5L631,361.3L632.8,361.7L636,363.8L637.7,364L639,364.7L640.7,364.7L642,364.3L643.7,364.6L644.5,365.3L644.2,366.3L643.3,367.4L642,367.9L640,367.4L639.2,368.3L638.7,370L639.1,372.3L639,374.7Z M605.3,370.7L604.3,370.9L603.8,370.3L603.3,368.7L604.7,368.1L605.8,368.7L606,369L606,370L605.3,370.7Z M724.3,378.1L723.7,377.8L722.7,376L723.3,375L724,374.6L725.3,375L725.9,376L725.7,376.7L724.7,378L724.3,378.1Z M645.7,387.5L643.7,386.8L639.3,382.3L638.7,380.7L638.6,379L638.7,378.3L639.7,376.2L640,376.2L644,380L644.9,381.3L645.6,383.3L646,385.7L646,387L645.7,387.5Z M381.3,384.9L380.6,383.3L380.7,382.6L381,382.6L381.3,383.3L381.3,384.9Z M474.3,390.7L473.7,390.9L470.5,389L469.8,388.3L469.4,387L469.3,385.3L469.7,384.3L470.3,383.6L472.7,383L474.3,383.1L475.3,383.3L476.1,384.3L476.7,386.7L476.5,388L475.8,389.3L474.3,390.7Z M383,400.4L380.6,398L379.9,396.7L380,393.7L381.3,389.7L381.7,386.7L382.3,387.6L383,387.8L383.4,388.7L383.5,390.3L385.6,393.7L385.3,394.9L383.6,397.3L383,400.4Z M604,401.1L601.4,399.3L600.7,397.7L601.7,391.8L602.3,391.1L603.3,390.5L604.5,392L605.9,393L606.5,397.3L606.4,398.3L605.9,399.3L605,400.5L604,401.1Z M653.3,414.7L652,414.9L649.3,414.4L648.5,413.7L648.1,412.7L648.9,410.7L648.9,410L647.6,406.7L647.4,405L647.7,403.9L648.7,402.3L648.7,401.7L648.4,400.7L649.7,396.3L651.3,398L651.6,399L651.7,400.8L654.7,401.4L655.7,402L656.7,403L657.3,405L655.6,410.7L655.3,413.7L654.7,414.2L653.3,414.7Z M749.7,398.7L748.7,398.9L747.9,398L748.7,397.4L749.3,397.4L750.1,398L749.7,398.7Z M717.3,419.4L716.3,419.7L712.3,419.4L708.3,418.3L705.7,418.9L704.9,418.7L704,417.7L703.8,414.7L702.6,412.3L702.3,411L703,410L705,408.3L705.4,407.7L705.3,407L704,404.7L703.8,403.7L706,402L706.9,399.7L707.7,398.8L709,398.5L711.3,399.1L714,400.6L715,400.9L718.7,400.4L723,402.3L723.9,403.3L724.6,405L724.6,409L724.2,412.3L723.4,414L721.3,417.2L717.3,419.4Z M461.3,402.4L460.7,402.4L460,402.1L459.6,401.7L459.6,401L459.7,400.7L460.7,400L462,399.7L462.5,400L462.6,401.3L461.3,402.4Z M602.7,407.4L602.3,407L602.5,406L603.7,404.7L604.9,405.7L605.2,406.3L605,406.8L603.7,407L602.7,407.4Z M454.3,420.1L452.7,419.8L452,419.1L452.1,417.3L452.7,416.4L454.3,416.5L455.3,417.7L455.3,419.3L455,419.8L454.3,420.1Z M417,423L415,423.1L411.7,422.1L410.8,421.7L410.8,421.3L411.7,420.6L413.3,419.8L415.3,419.7L417,420L418,420.6L418.5,421.3L418.3,422.3L417,423Z M743.7,327.1L742.7,327.1L739.3,325.1L736.4,322L735.5,319.7L735.3,317.7L736.4,314L736,309.7L736.9,307L736.9,306.7L736.3,306.4L734.7,306.5L734.2,306.3L733.3,305.4L733,304.7L733,302L734,299L734.8,298.3L740,298.8L741.4,300.7L741.7,301.7L741.6,303.3L740.3,305.7L740.1,307L740.8,309L741.8,310.7L741.9,315L742.7,315.7L746,316.9L747.5,318L748.2,319L748.1,323.7L747.6,325L743.7,327.1Z M502.3,304.7L501.8,304.3L503.3,301.6L504.7,300.7L505.7,300.7L505.7,302L505.3,303L503.7,304.3L502.3,304.7Z M581,305.4L579,305L578.6,304.7L578.7,304.4L581.3,304.6L582.1,305L581,305.4Z M495.7,312.5L493.7,312.6L493.4,312.3L493.5,311L493.7,310.3L494.3,309.7L496.3,309.1L496.6,309.3L496.6,311L496.3,312L495.7,312.5Z M444,367L443,366.8L442.3,364.7L441,364L441.8,361.3L446.1,355.3L447.7,353.5L449,352.6L451.4,351.7L451.6,349.7L452.6,348L453.1,346.3L453.3,344.7L453.9,343.7L455,343L455.7,342.9L456.7,343.2L458.3,344.4L459,344.5L459.8,344.3L460.1,343.7L459.5,341.7L459.6,341L460.9,336.3L462,334.8L466.3,331.4L467.7,331.3L469.1,331.7L469.6,332.3L469.6,333.3L470,334.1L471,334.5L471.7,334.3L472,335L472.7,335.1L473,334.9L473.7,334L473.3,333.5L472.7,333.6L472.7,332.3L472.1,331L472.1,330.3L472.7,328L473.4,326.7L474,326.2L476.3,325.2L477.3,323.3L478,322.7L481,321.9L483.1,320.7L484.1,319.7L484.7,318.3L485.7,317.3L488.7,316.8L488.9,317L489,319L488.7,320L488.3,320.4L486,321L485.5,321.3L484.9,322.3L484.6,324.3L484.4,324.7L482.7,325L481.6,326L481.1,328.7L480.7,329.6L480.2,330L478,330.8L476.6,332L475.7,333.3L475.5,334L475.7,335.3L475.3,336.2L473.7,337.7L470,339L469.3,339.4L469,340L468.8,342L468.3,343L467.1,344L464.4,345.3L463.7,346.1L462.7,348.3L461.3,350.7L460.7,353.3L460,354.3L459,354.7L458.3,354.6L456,352.7L455,352.3L454,352.3L453.3,352.6L452.5,354L452.1,357.3L451.7,358.3L450.7,359.5L447.3,361.5L446.4,363L445.3,366L444,367Z M598,369.3L596.6,368.7L595.5,367.3L595.4,366.3L596.3,363.3L595.7,362.3L593.8,360.3L593.6,359.3L593.7,357L593.5,356L590.3,351.5L590,350.3L590.3,348.3L590,347.3L589.3,347.1L586,347.1L585.3,347.3L583.7,349L582.2,351.3L581.3,352L580.3,352.1L579,351.6L577.3,349.8L576.7,349.4L575,349.7L573.3,351L571.7,351L570.7,350.5L569,348.6L566.3,347.6L563.7,347.2L562.2,346L562,345L562.1,344L563.2,342L563.9,340L565.4,338L566.3,336L566.2,334.3L565.4,331.7L565.5,330.7L566,330.1L567.4,329.3L567.7,328.3L567.3,327.1L566.7,326.8L566,326.9L564.7,327.7L564,327.5L563,326.3L562.6,325.3L562.4,323.7L562.6,322.7L563.7,322.2L565,322L566.7,322.1L570.3,321.9L576.3,325.9L580,326.6L583.7,326.9L586,327.9L587.3,329L589,331.7L589.5,332.7L590.1,334.7L591.8,338L592,339.3L591.1,341.7L591.3,342.5L592.3,342.6L594,341.8L595.3,341.4L597.3,341.9L598.8,343L599.8,344.3L601,346.7L601.9,347.7L604.3,349L604.8,349.7L604.8,350.3L603.8,352L603.6,353L605.1,355.3L605.3,356.7L605.1,358.3L603.9,362L603.4,363L601.5,364.7L600.7,367L600,368.2L599,369L598,369.3Z M409,338.7L407.3,338.7L407.4,337L408,336.2L410.7,335.7L411.5,335L411.8,333.3L411.2,330.7L411.3,329.8L412,329.1L412.7,328.9L413.3,328.9L414.2,329.3L415.3,330.1L415.5,330.7L415,332.5L414,334.6L413,335.6L411.6,336.3L410.3,338L409,338.7Z M662.3,340.2L660.9,338.3L660.3,337L660.7,335.3L661,335L662.3,334.8L663,334.9L663.7,335.3L664.2,336L664.4,337L664,338.4L662.3,340.2Z M685,343.8L684.3,343.9L683.7,343.8L682.9,343.3L682.8,343L683.7,342.3L684.7,342.3L685.6,343.3L685,343.8Z M710,344.7L708.7,344.8L704.6,343.7L705.4,343.3L709.3,342.8L710.3,342.8L711.3,343.2L711.7,344L710,344.7Z M697.7,346.5L696.7,346.6L696,346.2L695.2,345.3L694.6,344L696.3,343.4L697.7,343.2L699.7,343.6L700.2,344L698.9,345.7L697.7,346.5Z M371,447.4L370.2,446.7L369.4,444L368,441.7L367,437.6L366,437L363,437.6L361.3,437.3L360.3,436.3L361,435.1L364.7,432.9L369.3,432.5L370.7,431.8L373.9,426.3L374.4,423.3L374.4,421.3L374.7,420.7L375.4,419.7L377.3,418L378.6,415.7L381.8,413.7L383.3,411.4L384.9,410L385.1,409.3L385.1,407.3L385.3,406.7L386.7,407.2L388,408.1L389.3,408.2L390,408.1L390.5,407.7L391.3,405.7L392,405L392.8,405L394.3,406L395.7,405.7L396.1,405.3L396.4,404.3L395.9,402.3L395.9,401.3L397,399.2L398,398.4L398.7,398.2L400.7,399.4L401.3,399.3L401.9,398.7L401.8,397.7L400,396.2L399.9,395.3L400.3,394.6L401.3,394L402.3,393.7L405,394.2L406,394.1L406.7,393.7L407.2,393L407.8,391L408.4,390L409.3,389.6L411.3,389.5L412,389.1L412.4,388.3L412.6,387L413,386L415.5,384L417.3,380.5L420.2,378.3L422.3,375.3L424.7,373.3L430,371.9L431,371.5L431.6,371L432,369.7L431.2,366.7L431.3,366.2L436,364L437.7,364.1L440,364.8L440.3,365L440.5,366.3L441.4,368.3L441.3,369.7L440.7,370.1L439,369.4L438,369.4L436.7,370L435.9,371L434.1,377.3L434.4,381.7L434,383.6L433,384.3L429.2,386L428.3,386.2L426.7,386.2L425.7,386.6L423.5,389.3L419.6,392L416.9,395L414.3,396.9L412,399.2L408.7,401.3L406.9,404.3L404,406.8L401.3,410L400.9,411L401.4,413.3L400.8,415.3L400.9,418L401.2,419L401.7,419.6L403.7,420.7L405.1,422L404,423.3L403.7,423.6L402.3,423.8L399.3,423.4L397.7,423.4L394.7,422.9L394,423.3L394,424.7L393.6,425.3L388.3,426.3L386,426L384.7,426.5L384,427.3L382.6,430L381.7,430.9L379.8,432L378.3,434.2L377.7,434.5L376,434L375.3,434.3L375,435.3L374.9,437.7L374.3,439.3L372.8,442L372.7,443L373.1,444.3L373,445.3L372.3,446.4L371,447.4Z M637.3,370.7L636.1,370L635.8,369.3L635.4,366L637,365.9L637.6,366.3L637.3,370.7Z M644.3,385.4L642.1,383.3L640.8,381.7L640.8,380.3L641.3,379.2L642.3,380L643.7,382L644.5,384.3L644.6,385L644.3,385.4Z M473.7,389.5L471.8,387.7L471.3,386.7L471.1,385.3L471.7,384.2L472.7,384L473.7,384.1L474.4,384.3L474.9,385L475.2,386.7L475.2,387.7L474.7,388.7L473.7,389.5Z M382.3,397L381.3,396.2L380.8,394.7L381.2,392.7L382,391.4L382.3,391.4L383.9,392.7L384.5,394L384.1,395L382.3,397Z M604,399.5L603,398.7L602.6,397.7L603.2,395.7L603.4,393.7L603.7,393.4L604.3,394.2L605.1,397.7L604.7,398.7L604,399.5Z M718.7,417L717,417.2L715.3,416.7L713.3,416.4L710.7,416.9L709,416.8L707,417.1L706,416.7L705.2,414L704.1,412.3L703.8,411L704.3,410.3L706.7,409.1L707.5,408.3L707.8,407.7L707.7,406.5L705.8,404.7L706.3,404.3L708,404.8L709,404.2L709.5,403.3L709.6,402.3L709.3,400.7L709.7,400.4L711.7,400.5L714.7,402.2L717.7,402.1L719,403.8L720,404.3L721.7,404.4L723.1,405.7L723.3,409L722.3,413.3L720.4,416.3L718.7,417Z M652.7,413.7L650.9,413L650.3,412.3L650.3,411.3L650.6,410L650.6,408L649.3,405.7L649.7,404.5L650.7,403.2L652.3,403.2L653.3,403L653.7,403L654.6,404L654.6,404.7L654.2,406L654.8,408.7L654.4,410.7L654.3,412.7L653.3,413.5L652.7,413.7Z M417,422L416.3,422.2L415.3,422.1L414.8,421.7L415.3,421.2L416.7,421.2L417.3,421.7L417,422Z M738.7,305.8L734.6,303.3L734.3,302L734.7,300.3L735.3,299.7L737,299.4L739,299.9L739.5,300.7L740.2,302.3L740.1,303.3L739.7,304.3L738.7,305.8Z M743.3,325.4L742.3,325.4L740.3,324.7L739.2,323.7L737.3,321.3L737,319.3L737.1,317.7L737.6,316L738.1,315.3L738.2,313L739.3,311.4L740.1,313L740,315.7L740.3,316.3L742,317.3L744.7,317.7L745.5,318L746.7,318.8L747.1,319.7L747.1,320.7L746.2,323L746.1,324L743.3,325.4Z M580.7,350L580,349.9L579.4,349.3L578.8,348.3L578,347.6L572.7,347.9L568.7,347.3L564,345.3L563.9,344.7L564.2,344L566.2,341.7L566.4,339.3L567.6,336.3L567.7,335L567.4,332L567.8,331.3L569.5,330L569.7,329.3L568.7,326.3L568,325L567,324.6L564.7,324.8L564.1,324L564.3,323.2L565.3,323.1L568.3,323.8L571,323.9L572.7,324.8L574,326L574.8,327L576,327.8L577.7,328L582.3,327.8L584,328L585.8,328.7L587,330L588.5,333L589,335L590.8,338.3L590.7,339.3L589.4,342L589.6,343L590.2,344L588.3,344.9L585.7,344.9L584.4,345.3L582.8,347L580.7,350Z M474.7,331.4L474.2,331.3L474.1,330.7L474.8,329.3L475.3,328.7L477.5,327.3L479.2,324.7L480.7,324.4L480.8,324.7L479.7,326.5L476,330.3L474.7,331.4Z M462.7,344.7L462.2,344.7L462.3,342.3L464.9,340L465.4,339L464.9,338L463.4,336.7L463.8,335.7L465.1,334.7L466.3,334.2L469.7,335.8L469.7,336.7L469.4,337.3L466.9,339.7L466.7,340.3L466.8,342L466.4,342.7L465.7,343.2L462.7,344.7Z M662.3,337.9L662,337.9L661.5,337L661.4,336.3L661.7,336.1L662.3,336L663,336.7L662.9,337.3L662.3,337.9Z M598.7,367.7L598,368L597,366.7L596.9,365.7L597.6,363.7L597.6,362.7L595.1,359.7L595,358.7L595.3,355.7L592,351.5L591.7,350.7L592,348L591.3,344.7L595.3,342.5L596.7,342.7L598,343.7L598.6,345L599.4,347.7L600.7,349.1L602,350L602.3,351L601.6,352.7L601.6,353.7L603.7,355.6L604.1,356.7L603.8,358.7L602.8,360.3L601.6,361.3L600.8,362.3L600.4,363.3L600,366L599.4,367L598.7,367.7Z M459,352.7L458.2,352.3L457.3,350.3L456.7,350.1L454.8,350.3L454.4,348L454.6,346.7L455.3,346.1L456.3,345.8L458.7,346L461,345.8L461.4,347L461.4,348.3L459,352.7Z M444.7,363L443.7,363.1L442.8,362.7L442.9,362L443.6,360.7L445.8,358.7L447.3,356L448.4,354.7L449.7,354L451,354L451.3,354.3L451.2,355.3L451,356.9L450.7,357.6L449.9,358.3L448.5,359L446.8,360.3L444.7,363Z M370.3,441.8L369.3,441.2L368.7,440.3L368.3,437.2L367.3,435.3L368.9,434L371.7,432.7L373.6,429.7L375.9,428L375.8,426L376.4,423.7L376.4,421.7L377,420.7L378.4,419.3L379.1,417L379.9,416L384,413.1L387,412.4L387.4,410.7L391.3,409.4L395,409L396.3,408.3L397,407.4L397.5,406L398,401.3L398.7,400.9L400.7,400.9L401.8,400.7L404.3,398.3L406.9,397L408.5,392.3L409.3,391.2L410.3,390.9L412.7,391.2L413.3,390.8L413.8,390L414.7,387.2L416.9,385L417.5,382L418.3,380.7L421,379L422.6,376.7L423.7,375.8L426,374.6L432.3,372.3L433.3,371L433.2,367.7L434,366.3L436,365.3L436.7,365.3L438.7,366L438.8,367L438.5,367.7L436.2,369.3L432.7,372.7L432.5,374.3L433,380.7L432.7,382.3L431.7,382.5L430,381.4L429,381.4L426,383.4L423.2,384L421.8,384.7L421.2,385.3L421,386L421.9,388L421.4,389L418,391.3L417,391.7L415,392L414.7,392.3L414.5,393L414.6,394.7L413.9,396L411.7,398L410.7,398.2L409,398.1L408.3,398.4L406.3,403L404,405.1L402,407.8L399.2,410L399.1,410.7L399.4,413L398.8,415.7L398.6,419L398.9,420L397.7,420.7L395.3,420.5L391,421.7L390.3,422.3L389.8,424.3L388.3,425L387.3,424.9L386,424.4L384.9,423.7L384.3,422.7L384,422.5L383.3,422.7L382.6,423.7L382.5,426.7L381.6,428.7L380.3,429.3L378,429.4L377.4,430L377,431.1L374.7,432.3L373.6,433.3L373.2,434.3L373.4,436.7L373.2,437.7L372.4,439.3L370.3,441.8Z M382.3,395.1L381.9,394.7L381.8,394L382,393.2L382.3,392.9L383,393.4L383.2,394L382.3,395.1Z M718.7,415.4L717.7,415.5L714,415.1L711.3,415.4L708.7,415.3L708.1,414.7L707.9,413L708.1,410.3L709.1,408.3L709.4,407L710.7,405.2L712,404.5L713,406.4L714.3,407.1L715.3,406.7L716.3,405.3L717.7,406.1L721.1,406.7L721.3,407L721.1,408L719.9,409.7L719.5,410.7L719.8,414.3L719.3,415.2L718.7,415.4Z M364,436L363,436.2L362.6,436L363.3,435.7L364,436Z M737.7,303.6L735.8,302.7L736,301.7L737,300.9L738,301.2L738.3,302L738.3,302.7L737.7,303.6Z M742.7,323.8L741.7,323.9L740.7,323.7L738.5,321L738.4,319L738.7,318.2L739.3,317.4L742.3,319.2L745,320.1L745.1,320.7L744.5,321.7L744.4,323L742.7,323.8Z M576,346.1L574.7,346L573,345.1L569,346.2L567.6,345.7L566.8,344.7L566.8,344L568,342L568.1,339.3L568.5,338L570.7,335.3L571.1,333L573,330.3L572.8,329.3L571,328.3L570.3,327.6L569.8,326L570.3,325.6L571.7,325.7L572.3,326.1L573.3,327.3L573.8,328.7L574.7,329.1L578,329.3L583.3,329L584.3,329L585.3,329.4L586,330L586.7,331.3L587.4,333.7L587.5,336L589.2,338L589.3,339L588.3,340.7L588.2,343L588,343.3L585.3,343.4L582.7,344.1L580,343.7L578.7,344.3L577.3,345.5L576,346.1Z M598.7,361.5L598.3,361.6L596.3,359.3L596.2,358.3L596.9,355.7L596.9,354.7L594.7,352.3L593.8,350.7L593.7,348L592.7,345.7L594.3,344.2L595.7,343.6L596.7,344L597.2,344.7L597.6,347.7L599.6,350.7L599.8,352L599.5,353.3L599.6,354.3L600.1,355L602.2,356.3L602.7,357.3L602.7,358L602.3,358.7L599.6,361L598.7,361.5Z M458.7,347.7L458,347.9L457.7,347.7L458.7,347.3L458.7,347.7Z M435.7,368.7L435,369L434.8,368.7L434.7,368L435,367.3L436,367.1L436.8,367.3L436.8,367.7L435.7,368.7Z M421,384L419.7,384.1L419,383.8L418.5,382.7L419,381.4L422,379.7L423.5,377.3L424.3,376.7L429.3,374.6L430.8,374.3L431,375.3L430.7,376.3L429.3,379.5L426.3,382L423,382.9L421,384Z M416.7,389.7L415.7,389.9L416,388.5L418.7,386.5L418.9,386.7L418.3,388L417.6,389L416.7,389.7Z M411.3,396.1L410.3,396.3L409.1,396L409.4,393.7L410,392.8L411,392.7L412.3,393.1L412.3,395L412,395.7L411.3,396.1Z M400,408L398.7,408L398.4,407.7L398.6,405L399.1,403L400,402.3L402.3,401.6L404.7,399.5L406,399.2L406.1,400.7L405.7,401.7L403.3,404L401.6,407L400,408Z M716.7,414L712,414.2L710,413.7L709.6,412.3L709.7,410.7L709.9,409.7L710.7,408L711.3,407.7L714.3,408.7L717.9,409L718.1,413.3L717.7,413.8L716.7,414Z M380,427.8L377.7,427.5L377.3,426L378.4,422.7L379.8,420L380.1,417.7L381,416.3L383,415.2L387,414.3L388,413.7L388.7,412.3L391,411L393.3,410.5L396.3,410.6L397.3,412.5L397.5,413.3L396.2,416.3L396,418.4L393,420.1L388.9,421L387.3,422.3L386.7,422.1L385.9,421L385.3,420.6L384.3,420.4L383.2,420.7L381.6,422L380.5,423.7L380.4,424.3L380.9,426.7L380.6,427.3L380,427.8Z M370.3,438.7L370,439L369.1,435.7L370,434.8L371,434.5L371.3,435L371.5,436.3L371,437.7L370.3,438.7Z M741.3,321.3L739.9,320.3L740,319.5L740.3,319.5L741.3,320.8L741.3,321.3Z M577,344.1L576.3,344.3L575.3,344.1L573.7,342L573,341.6L572,341.8L570.3,342.8L570,342.3L570.5,341.3L570.3,338.7L572.4,336L572.8,333.3L573.2,332.3L574,331.1L575,330.9L578.7,331.1L580,330.7L582.3,330.6L584,330.3L584.7,330.4L585.3,330.9L585.7,331.7L585.7,333L584.9,335.7L584.9,336.7L585.5,340L586.4,342L583,342.5L580,342.5L579,342.9L577,344.1Z M598.3,351.6L597,351.3L596.8,351L596.9,350.3L597.7,349.8L598.3,351.1L598.3,351.6Z M598.7,360.2L597.7,359.4L597.4,358.3L597.8,357L599,355.8L600.4,357L600.8,357.7L600.1,359L598.7,360.2Z M425,381.4L424,381.6L423.7,381.3L423.5,380.7L423.8,379.3L424.5,378L425.3,377.4L426.3,377.2L427.3,377.4L428.3,378L428.3,378.7L427.1,380.3L426,381.1L425,381.4Z M400.3,406.5L399.7,406.6L399.5,406.3L399.8,404.7L400.6,403.7L401.7,403.5L401.8,404L401.4,405.3L401,406L400.3,406.5Z M715.7,412.4L715,412.5L711.8,412L711.6,411.3L712.2,410L712.7,409.5L713,409.5L716,410.3L716.3,410.7L716.5,411.7L716.3,412L715.7,412.4Z M392.3,419.4L390.7,419.6L384.3,419.1L382.3,418.7L382.2,418L382.7,417.4L384.3,417.2L385.3,416.8L388.3,414.8L389.5,413.7L391,412.9L393.3,412.1L395,412L395.2,413L394.7,414.3L394.7,417.4L393.7,418.6L392.3,419.4Z M577.3,342.4L576.7,342.6L576,342.3L574.4,340.7L573.2,340L572.8,339.3L572.9,338.3L573.5,336.3L574,333.3L574.7,332.2L576.7,332.4L579.3,334.2L582,333.5L582.7,334.2L583.4,336L583.7,340.7L582.3,341.1L579.3,341.5L577.3,342.4Z M392,418.4L390.7,418.5L387.3,417.7L387.9,416.7L390,414.9L392.7,414.4L393.5,416.7L392.9,417.7L392,418.4Z M582,339.7L580.7,339.9L578,339.4L574.9,339.3L574.8,335.7L575.2,333.7L576,333.7L576.7,334.2L578.3,336.2L579.3,336.3L581,336.1L582,336.5L582.3,338L582,339.7Z" fill="none" stroke="#2f8ad6" stroke-width="1.0" stroke-linejoin="round"/>
<path d="M355,439.5C353.6,437.3 356.8,438.1 357.5,437.3C358.3,436.5 358.9,435.5 359.5,434.6C360.2,433.7 360.7,432.6 361.4,431.8C362.1,430.9 362.8,430 363.6,429.2C364.4,428.5 365.4,427.9 366.3,427.2C367.2,426.5 368.2,425.9 369,425.2C369.9,424.5 370.6,423.7 371.3,422.8C372,421.9 372.5,420.8 373.1,419.9C373.8,419 374.4,418 375.3,417.3C376.1,416.6 377.2,416.1 378.2,415.6C379.2,415 380.4,414.6 381.3,413.9C382.2,413.2 382.8,412.3 383.5,411.4C384.2,410.5 384.6,409.3 385.4,408.5C386.2,407.7 387.2,407.2 388.1,406.6C389.1,406 390.2,405.5 391.1,404.8C392,404.1 392.7,403.3 393.5,402.5C394.3,401.7 395,400.9 395.8,400.1C396.6,399.3 397.3,398.5 398.1,397.6C398.8,396.8 399.6,396 400.3,395.1C401,394.3 401.8,393.5 402.5,392.6C403.2,391.7 403.8,390.8 404.5,389.9C405.3,389.1 406.1,388.4 406.9,387.6C407.7,386.8 408.6,386.1 409.3,385.3C410.1,384.4 410.6,383.4 411.3,382.6C412.1,381.8 412.9,381 413.7,380.3C414.6,379.6 415.6,379 416.5,378.3C417.4,377.6 418.1,376.8 418.9,376C419.6,375.2 420.3,374.2 421.1,373.4C421.8,372.6 422.7,371.9 423.5,371.1C424.3,370.3 425.1,369.6 425.8,368.8C426.6,368 427.3,367 428,366.2C428.7,365.4 429.4,364.5 430.2,363.7C431,362.9 431.9,362.3 432.8,361.5C433.6,360.8 434.5,360.1 435.3,359.4C436.1,358.6 436.9,357.8 437.7,357C438.5,356.3 439.4,355.6 440.2,354.8C441,354 441.8,353.2 442.5,352.4C443.2,351.6 443.9,350.7 444.6,349.8C445.3,349 446.1,348.2 446.8,347.3C447.5,346.4 448,345.3 448.7,344.5C449.5,343.7 450.5,343.1 451.4,342.4C452.3,341.8 453.5,341.4 454.4,340.7C455.3,340 456,339.1 456.8,338.3C457.5,337.6 458.3,336.8 459.1,336C459.9,335.2 460.6,334.3 461.4,333.6C462.2,332.8 463.1,332.1 464,331.4C464.9,330.7 465.9,330.2 466.7,329.5C467.6,328.7 468.3,327.8 469,327C469.7,326.1 470.3,325.2 471.1,324.4C471.9,323.6 472.7,322.8 473.6,322.1C474.4,321.4 475.3,320.8 476.2,320C477.1,319.3 477.9,318.6 478.7,317.8C479.6,317.1 480.4,316.4 481.3,315.7C482.2,315 483.1,314.3 483.9,313.6C484.7,312.8 485.4,312 486.2,311.1C486.9,310.3 487.6,309.4 488.3,308.6C489,307.7 489.8,306.9 490.6,306.1C491.3,305.3 492.1,304.5 493,303.8C493.8,303 494.7,302.4 495.6,301.7C496.5,301 497.4,300.3 498.2,299.6C499.1,298.9 500,298.2 500.8,297.5C501.7,296.8 502.7,296.2 503.5,295.5C504.4,294.7 505.1,293.9 505.9,293.2C506.7,292.4 507.5,291.5 508.3,290.8C509.1,290 510,289.3 510.8,288.6C511.6,287.8 512.5,287.1 513.3,286.3C514.1,285.6 514.8,284.7 515.6,283.9C516.4,283.2 517.2,282.4 518,281.6C518.8,280.9 519.7,280.1 520.5,279.4C521.3,278.6 522.1,277.8 522.9,277.1C523.7,276.3 524.4,275.5 525.2,274.7C526,273.9 526.9,273.2 527.7,272.4C528.5,271.6 529.2,270.8 530,270C530.8,269.2 531.5,268.4 532.3,267.6C533.1,266.8 534,266.1 534.8,265.4C535.6,264.6 536.5,263.9 537.3,263.1C538,262.3 538.7,261.4 539.4,260.6C540.1,259.7 540.7,258.7 541.5,257.9C542.2,257.1 543.1,256.3 543.9,255.6C544.7,254.8 544.8,252.5 546.3,253.3C547.8,254.1 552.4,258.6 553.1,260.1C553.8,261.6 551.4,261.5 550.5,262.2C549.7,263 548.7,263.6 547.9,264.3C547.1,265.1 546.3,265.9 545.5,266.6C544.7,267.4 543.9,268.2 543.1,269C542.3,269.8 541.5,270.5 540.7,271.3C539.9,272.1 539.1,272.9 538.4,273.7C537.6,274.5 536.9,275.4 536.1,276.2C535.3,276.9 534.4,277.6 533.6,278.3C532.7,279.1 531.8,279.7 531,280.5C530.2,281.2 529.4,282 528.6,282.8C527.9,283.6 527.3,284.6 526.6,285.5C525.9,286.4 525.2,287.2 524.4,288C523.6,288.8 522.7,289.5 522,290.3C521.2,291.1 520.6,292.1 519.9,292.9C519.1,293.8 518.4,294.6 517.6,295.4C516.8,296.1 515.7,296.6 514.9,297.4C514.1,298.2 513.4,299.1 512.7,300C512.1,300.9 511.5,301.9 510.8,302.8C510.1,303.6 509.4,304.4 508.6,305.2C507.8,306 507,306.8 506.2,307.6C505.4,308.3 504.5,309 503.7,309.8C502.9,310.6 502.1,311.4 501.4,312.2C500.7,313.1 500.1,314 499.4,314.9C498.7,315.8 497.9,316.6 497.2,317.5C496.5,318.4 495.9,319.3 495.2,320.2C494.5,321.1 493.9,322 493.2,322.8C492.4,323.7 491.6,324.4 490.8,325.2C490,326 489.2,326.7 488.4,327.6C487.7,328.4 487,329.2 486.2,330.1C485.5,330.9 484.7,331.7 484,332.5C483.2,333.4 482.5,334.2 481.7,335C480.9,335.8 480.1,336.5 479.3,337.3C478.5,338.1 477.6,338.8 476.9,339.6C476.1,340.4 475.5,341.4 474.7,342.2C474,343 473.2,343.8 472.3,344.5C471.5,345.2 470.5,345.8 469.7,346.6C468.9,347.3 468.1,348.1 467.4,349C466.7,349.8 466.1,350.8 465.4,351.7C464.7,352.6 463.9,353.4 463.2,354.2C462.5,355.1 461.7,355.9 461,356.8C460.3,357.7 459.9,358.8 459.1,359.6C458.4,360.5 457.5,361.2 456.7,361.9C455.9,362.6 454.9,363.2 454.1,364C453.3,364.8 452.7,365.8 451.9,366.5C451.1,367.3 450.2,367.9 449.3,368.6C448.4,369.3 447.4,369.9 446.5,370.6C445.6,371.3 444.9,372.1 444.1,372.9C443.3,373.7 442.6,374.5 441.9,375.4C441.2,376.3 440.6,377.2 439.9,378.1C439.1,378.9 438.4,379.8 437.6,380.5C436.8,381.3 435.8,381.8 435,382.6C434.2,383.4 433.7,384.5 432.9,385.3C432.2,386.2 431.5,387 430.6,387.7C429.8,388.4 428.6,388.8 427.7,389.6C426.9,390.3 426.3,391.3 425.7,392.2C425,393.1 424.5,394.2 423.7,394.9C422.9,395.7 421.8,396.2 420.9,396.8C419.9,397.5 419,398.1 418.1,398.8C417.3,399.5 416.5,400.4 415.7,401.1C414.9,401.9 414,402.5 413.1,403.3C412.3,404 411.4,404.7 410.6,405.5C409.8,406.2 409,407 408.2,407.8C407.5,408.6 406.7,409.4 406,410.2C405.2,411 404.4,411.8 403.6,412.6C402.9,413.4 402.1,414.3 401.3,415C400.5,415.8 399.6,416.5 398.8,417.2C397.9,417.9 397,418.5 396.1,419.3C395.3,420.1 394.6,420.9 393.9,421.8C393.2,422.7 392.8,423.8 392.2,424.8C391.6,425.8 391.1,426.8 390.4,427.7C389.6,428.5 388.7,429.2 387.9,429.9C387.1,430.7 386.2,431.3 385.4,432.1C384.5,432.9 383.8,433.7 383,434.5C382.2,435.3 381.3,435.9 380.5,436.7C379.7,437.4 378.9,438.2 378.1,439C377.3,439.8 376.7,440.7 375.9,441.5C375.1,442.3 374.1,442.8 373.2,443.6C372.4,444.3 371.6,445.1 370.9,446C370.1,446.8 369.5,447.7 368.8,448.6C368,449.4 368.6,452.3 366.3,450.8C364,449.3 356.5,441.8 355,439.5Z" fill="#2f8ad6" stroke="#2f8ad6" stroke-width="0.8"/>
<path d="M363.3,438.4C362.9,437.2 364.6,436.5 365.2,435.6C365.9,434.7 366.5,433.7 367.3,432.9C368,432 368.9,431.3 369.6,430.5C370.4,429.8 371.2,428.9 372,428.1C372.7,427.3 373.5,426.5 374.3,425.8C375.1,425 375.9,424.3 376.8,423.6C377.7,422.9 378.7,422.3 379.5,421.6C380.4,420.8 381.2,420.1 381.9,419.2C382.6,418.4 383.2,417.4 383.9,416.5C384.6,415.7 385.4,414.8 386.2,414C386.9,413.2 387.7,412.4 388.5,411.7C389.3,410.9 390.2,410.3 391.1,409.6C392.1,408.9 393.1,408.4 394,407.7C394.8,406.9 395.5,406 396.2,405.2C396.9,404.3 397.5,403.3 398.2,402.5C398.9,401.6 399.6,400.8 400.4,399.9C401.1,399.1 401.9,398.3 402.7,397.5C403.5,396.8 404.3,396 405.2,395.3C406,394.6 407,394 407.8,393.3C408.7,392.5 409.6,391.8 410.4,391.1C411.2,390.3 412,389.6 412.8,388.8C413.5,387.9 414.2,387 414.9,386.1C415.5,385.2 416.2,384.3 416.9,383.4C417.6,382.6 418.3,381.7 419.1,380.9C419.8,380 420.6,379.2 421.3,378.4C422,377.6 422.8,376.7 423.5,375.9C424.3,375.1 425,374.3 425.9,373.5C426.7,372.8 427.5,372 428.4,371.4C429.3,370.7 430.3,370.1 431.2,369.5C432.2,368.8 433.1,368.2 434,367.5C434.9,366.8 435.6,366 436.5,365.3C437.5,364.7 438.6,364.3 439.5,363.5C440.3,362.8 441,361.9 441.6,360.9C442.2,359.9 442.4,358.6 443.1,357.7C443.8,356.8 444.7,356.2 445.6,355.5C446.4,354.8 447.2,354 448.1,353.3C449,352.6 450,352.1 451,351.4C451.9,350.8 453.1,350.5 453.9,349.6C454.6,348.8 454.9,347.5 455.5,346.5C456.1,345.5 456.7,344.5 457.4,343.7C458,342.8 458.9,342.1 459.6,341.2C460.4,340.4 461.2,339.6 461.9,338.8C462.7,338 463.3,337 464.1,336.2C464.8,335.4 465.5,334.5 466.5,333.9C467.4,333.3 468.8,333.1 469.7,332.4C470.6,331.8 471.3,330.9 472,330C472.8,329.2 473.5,328.3 474.1,327.4C474.8,326.5 475.5,325.6 476.2,324.7C476.9,323.9 477.5,322.9 478.3,322.1C479.1,321.4 480.2,320.9 481.1,320.3C482.1,319.7 483.2,319.2 484.1,318.5C485,317.8 485.8,317.1 486.5,316.2C487.2,315.3 487.6,314.2 488.2,313.2C488.8,312.2 489.2,311 489.9,310.2C490.7,309.3 491.7,308.8 492.5,308.1C493.4,307.3 494.2,306.5 495,305.8C495.9,305.1 496.8,304.4 497.7,303.8C498.7,303.2 499.6,302.6 500.6,302C501.7,301.5 503,300.4 503.8,300.5C504.6,300.5 505.4,301.3 505.5,302.1C505.5,303 504.6,304.4 504.1,305.5C503.6,306.6 503.1,307.6 502.4,308.5C501.7,309.4 500.9,310.1 500.1,310.9C499.3,311.7 498.4,312.4 497.6,313.2C496.9,314 496.3,315 495.6,315.8C494.8,316.6 493.8,317.2 492.9,317.9C492,318.5 490.9,319 490,319.7C489.2,320.5 488.5,321.3 487.8,322.2C487.1,323.1 486.7,324.2 486,325.1C485.3,326 484.6,326.9 483.9,327.7C483.1,328.5 482.2,329.1 481.3,329.9C480.5,330.6 479.7,331.4 478.8,332.1C478,332.8 476.9,333.3 476,334C475.1,334.7 474.1,335.3 473.4,336.2C472.8,337.1 472.6,338.4 472,339.4C471.4,340.4 470.6,341.2 469.9,342C469.1,342.8 468.3,343.6 467.4,344.3C466.6,345 465.5,345.5 464.6,346.2C463.6,346.8 462.8,347.5 461.9,348.2C461,348.8 460.1,349.6 459.2,350.2C458.2,350.8 456.9,351.1 456.1,351.9C455.3,352.7 455,353.9 454.4,354.9C453.8,355.9 453.3,357 452.6,357.8C451.9,358.7 451,359.3 450.2,360.1C449.4,360.8 448.7,361.7 447.8,362.4C446.9,363.1 445.8,363.5 444.9,364.2C444,364.9 443,365.5 442.4,366.4C441.7,367.3 441.4,368.6 440.8,369.6C440.2,370.6 439.5,371.4 438.8,372.3C438.2,373.2 437.6,374.2 437,375.2C436.4,376.1 435.8,377.2 435.1,378.1C434.4,378.9 433.6,379.6 432.7,380.4C431.8,381.1 430.9,381.7 430,382.3C429.1,383 428.2,383.7 427.4,384.4C426.5,385.2 425.7,385.9 424.9,386.7C424.1,387.5 423.5,388.5 422.7,389.2C421.8,389.9 420.8,390.5 419.8,391.1C418.9,391.7 417.8,392.2 416.9,392.9C416.1,393.6 415.5,394.7 414.8,395.5C414.1,396.4 413.5,397.3 412.8,398.2C412,399 411.1,399.7 410.4,400.5C409.6,401.3 409,402.2 408.2,403.1C407.5,403.9 406.8,404.8 406,405.5C405.2,406.3 404.2,407 403.4,407.7C402.5,408.4 401.6,409.1 400.7,409.7C399.8,410.4 398.8,411 398,411.7C397.2,412.5 396.5,413.3 395.8,414.2C395.1,415.1 394.5,416.1 393.8,417C393.2,417.9 392.5,418.8 391.8,419.6C391.1,420.5 390.4,421.4 389.6,422.2C388.9,423.1 388.1,423.8 387.3,424.6C386.4,425.3 385.5,426 384.7,426.8C383.9,427.5 383.2,428.4 382.4,429.2C381.6,429.9 380.8,430.7 380,431.5C379.2,432.2 378.2,432.8 377.4,433.6C376.6,434.3 375.8,435.1 375,436C374.3,436.8 373.6,437.7 372.8,438.4C372,439.2 371.1,439.8 370.2,440.5C369.3,441.2 368.7,443 367.6,442.6C366.4,442.3 363.7,439.6 363.3,438.4Z" fill="#e8642a" stroke="#e8642a" stroke-width="0.8"/>
<line x1="364.4" y1="441.3" x2="543.8" y2="262.2" stroke="#fff" stroke-opacity="0.6" stroke-width="0.7" stroke-dasharray="2 3"/>
<path d="M542.3,271.1L538.3,271.1L538,270.8L537.3,270.8L536.7,270.4L534.9,268.7L534.6,268L534.6,266L534.9,265.3L536.7,263.6L537.3,263.2L538,263.2L538.3,262.9L539.3,262.9L539.7,262.6L540.7,262.6L541,262.9L542.3,262.9L543.7,263.6L545.1,265L545.4,265.7L545.4,266.3L545.8,266.7L545.4,268.3L545.1,269L543.7,270.4L542.3,271.1Z M697.3,301.1L696.3,301.1L695.6,300.3L695.6,299.3L696.3,298.6L697.3,298.6L698.1,299.3L698.1,300.3L697.3,301.1Z M700.7,313.4L699.3,313.4L697.9,312.3L697.9,309.3L699.3,308.2L700.7,308.2L701.8,309.7L701.8,310.7L702.1,311L701.8,311.3L701.8,312L701.4,312.7L700.7,313.4Z M672,314.1L671.7,313.8L670.7,313.8L670,313.4L669.2,312.7L669.2,311.3L669.6,310.7L670.7,309.9L673.3,309.9L674.4,311.3L674.4,312.3L674.1,313L673.3,313.8L672.3,313.8L672,314.1Z M691,317.4L688.7,316.4L687.9,315L687.9,312.3L688.6,311L689,310.9L690,309.9L691.3,309.9L692,310.6L692.3,310.6L692.8,311L693.1,311.7L693.1,312.3L693.4,312.7L693.4,314.7L693.1,315L693.1,315.7L692.8,316.3L691,317.4Z M685,317.1L683.3,317.1L681.9,315.7L681.6,315L681.6,312.3L681.9,311.7L683.3,310.2L685,310.2L686.1,311.3L686.8,312.7L686.8,314.7L686.1,316L685,317.1Z M715.7,316.4L715.3,316.1L714.7,316.1L713.9,315L713.9,312L715,310.9L716,310.9L717.1,312.3L717.1,315L716.4,315.7L716.3,316.1L715.7,316.4Z M576.3,318.4L575.3,318.4L574.7,317.8L574.2,317.7L573.9,317L573.9,316L574.2,315.7L574.3,314.9L575,314.9L575.3,314.6L576.3,314.6L577.1,315L577.8,316.3L577.4,316.7L577.4,317.3L576.3,318.4Z M739,330.4L737.7,330.4L737,330.1L735.9,329L735.9,326.7L737.7,325.6L739,325.6L739.7,325.9L740.8,327.3L740.8,328.7L740.1,329.3L740.1,329.7L739,330.4Z M725.3,343.4L724,343.4L723.7,343.1L723,343.1L722.6,342.7L722.6,340.3L723,339.9L723.7,339.6L724.3,339.6L724.7,339.2L725,339.6L725.7,339.6L726.1,340L726.8,341.3L726.4,341.7L726.4,342.3L726.1,343L725.3,343.4Z M713,383.1L710.9,381.7L710.9,378L712.3,376.9L713.7,376.9L714.3,377.6L714.8,378.3L714.8,379.3L715.1,379.7L714.4,382L713,383.1Z M379,384.1L377.3,384.1L375.9,382.7L375.6,382L375.6,379.7L375.9,379L377.3,377.6L379,377.6L380.1,378.7L380.8,380L380.8,381.7L380.1,383L379,384.1Z M397,382.8L396,382.4L395.6,382L395.6,380.3L396.7,379.6L397.7,379.9L398.1,380.3L398.1,382L397,382.8Z M715.7,392.4L714.3,392.4L712.9,391.3L712.9,388.3L714.3,387.2L715.7,387.2L716.4,388L716.8,388.7L716.8,389.3L717.1,389.7L716.4,391.7L715.7,392.4Z M666.3,391.1L665,391.1L663.9,389.7L664.2,389L665.7,387.9L667.1,389L667.1,390.3L666.3,391.1Z M743.7,394.4L742.3,393.8L741.6,393L741.6,392L741.2,391.7L741.2,391L741.6,390.7L741.6,389.3L743,388.2L744,388.2L744.7,388.6L745.1,389L745.1,390L745.4,390.3L745.4,392L745.1,392.3L745.1,393.3L743.7,394.4Z M603.7,394.1L603,393.8L602.3,393.8L601.2,392.7L601.2,391.3L602.3,389.9L604.3,389.9L605.4,391.3L605.4,392.3L605.1,393L603.7,394.1Z M719,399.1L718.7,398.8L718,398.8L717.2,398L717.2,395.7L718,394.9L719.7,394.9L720.4,396L720.4,398L719,399.1Z M770.7,406.8L769.7,406.4L768.6,405.3L768.2,404.7L768.2,404L767.9,403.7L767.9,400.3L768.2,400L768.2,399.3L768.6,398.7L769.7,397.6L770.3,397.2L770.7,397.2L772.1,398.7L772.4,399.3L772.4,400.3L772.8,400.7L772.8,403.7L772.4,404L772.4,404.7L772.1,405.3L770.7,406.8Z M733,403.4L732.3,403.1L731.3,403.1L730.2,402L730.2,401.3L729.9,401L730.2,399.3L732,398.2L733.7,398.2L734.8,399.3L735.1,400L735.1,401.3L734.4,402.7L734,403.1L733.3,403.1L733,403.4Z M744,416.4L742.9,416L742.9,413.7L743.7,413.2L744.8,413.7L744.8,414.7L745.1,415L744.8,415.3L744.8,416L744,416.4Z M364.7,423.8L364,423.4L362.9,422L363.2,421.3L363.2,420.7L364.3,419.9L365,419.9L365.7,420.2L366.1,421L366.1,422.7L364.7,423.8Z M727.3,424.8L727,424.4L726,424.4L724.9,423L724.9,421.7L725.2,421L726,420.2L727,420.2L727.3,419.9L727.7,420.2L728.3,420.2L729.4,421.7L729.4,423L728.8,423.7L728.8,424L728.3,424.4L727.7,424.4L727.3,424.8Z M752,426.1L751,426.1L749.6,425L749.6,422.7L751,421.6L752,421.6L753.1,422.7L753.1,425L752,426.1Z M745.3,427.1L744.7,427.1L744.2,426.7L744.2,425.3L744.6,424.7L746.3,422.9L748,422.6L748.4,423L748.4,424.3L746.3,426.8L745.7,426.8L745.3,427.1Z M740.3,430.8L739.3,430.8L738.7,430.4L738.2,430L738.2,429.3L738.9,428L739.3,427.6L739.7,427.6L740.3,426.6L741.7,425.9L742.3,425.9L743.4,426.7L743.4,427.3L742.8,428L742.4,429L742,429.4L741.7,429.4L741,430.4L740.3,430.8Z M735.7,433.8L734.3,433.8L733.9,432.7L734.6,431.3L735.7,430.2L736.3,429.9L737.3,429.9L737.8,430.7L737.4,431L737.4,431.7L735.7,433.8Z M730.3,438.8L729.3,438.4L728.9,437.7L729.9,435.7L732.7,433.9L733.3,434.2L733.8,435L732.8,436.3L732.4,437.3L732,437.8L731,438.1L730.3,438.8Z M726,443.1L725.7,443.1L724.9,442.3L724.9,441.3L726.3,439.6L726.7,439.6L727.7,438.6L728,438.6L728.8,439.3L728.8,440L727.8,441.3L727.8,441.7L726,443.1Z M541.7,270L539,270L537.2,269.3L536,268.2L535.6,267.3L535.6,266.7L536,265.8L537.3,264.6L540,263.8L541.7,264L543.2,264.7L544,265.5L544.4,266.3L544.5,267L544.4,267.7L544,268.5L543.2,269.3L541.7,270Z M700,312.4L699,311.7L699,310L700,309.3L700.4,309.7L700.8,311L700.4,312L700,312.4Z M672.7,312.7L671.3,312.7L670.5,312.3L670.3,312L670.6,311.3L671.3,311L672.7,311L673.2,312L672.7,312.7Z M691,316.1L689.7,315.5L689,314.3L689,313L689.2,312.3L690.7,311L691.8,311.7L692.4,313.3L692.4,314L691.8,315.7L691,316.1Z M684.3,316L683.7,315.8L683,315.2L682.6,314.3L682.6,313L682.9,312.3L684,311.3L684.4,311.3L685,311.8L685.7,313.3L685.7,314L685.1,315.3L684.3,316Z M715.3,315L715,314.3L715,312.7L715.3,312.2L715.7,312.2L716,313L716,314.3L715.3,315Z M576,317.2L575.7,317.2L575.1,316.7L575.3,315.9L576,315.8L576.4,316.3L576,317.2Z M738.3,329.4L737.5,329L737,328.3L737.2,327.3L738.3,326.6L739.2,327L739.7,328L739.1,329L738.3,329.4Z M724.7,342.4L723.6,342L723.6,341L724.7,340.6L725.3,340.9L725.4,341.3L725.2,342L724.7,342.4Z M713,381.8L712,381L712,378.7L713,378L713.4,378.3L713.8,379.7L713.7,380.7L713,381.8Z M378.3,383L377.5,382.7L376.6,381.3L376.6,380.3L376.9,379.7L378,378.6L378.4,378.7L379,379.2L379.7,380.7L379.1,382.3L378.3,383Z M397,381.4L396.6,381.3L396.7,381L397,381L397,381.4Z M715,391.4L714,390.7L714,389L715,388.3L715.4,388.7L715.8,389.7L715.4,391L715,391.4Z M665.7,390L665.2,389.7L665.7,389.2L666,389.7L665.7,390Z M744,392.7L743.3,392.9L742.6,392.3L742.5,391.3L742.6,390L743.3,389.5L744,389.7L744.4,391L744,392.7Z M603.7,392.8L602.9,392.7L602.3,392L602.7,391.2L603,391L603.7,391L604.2,391.7L604.1,392.3L603.7,392.8Z M719,397.8L718.3,397.3L718.3,396.3L718.7,396L719,396L719.4,396.7L719.4,397.3L719,397.8Z M770.3,405.4L769.6,404.7L769,403L769,401L769.6,399.3L770.3,398.6L771.1,399.3L771.7,401.3L771.7,403L771.4,404L771,404.8L770.3,405.4Z M733.3,402L731.9,402L731.3,401.4L731.1,400.7L731.8,399.7L732.7,399.3L733.3,399.5L734,400.7L733.3,402Z M364.7,422.4L364.2,422L364.3,421.3L364.7,421.1L365,421.7L364.7,422.4Z M727.7,423.4L726.7,423.4L726.2,423L726,422.3L726.6,421.3L727.7,421.3L728.3,422.3L727.7,423.4Z M751.7,424.8L751,424.8L750.6,424.3L750.7,423.3L751.3,422.8L751.7,422.8L752,423.3L752,424.3L751.7,424.8Z M745.7,425.7L745.7,425.2L746.7,424.2L746.8,424.3L746.7,424.8L745.7,425.7Z M740.3,429.4L739.7,429.5L739.6,429.3L739.9,428.7L740.5,428.3L741,427.6L741.8,427.3L741.4,428.3L740.7,428.8L740.3,429.4Z M731.3,436.8L731,436.9L730.8,436.7L730.9,436.3L731.3,436.1L731.5,436.3L731.3,436.8Z M541.7,268.8L539.3,268.9L538.3,268.7L537.1,267.7L536.7,267L537.1,266.3L538.3,265.3L540,264.9L541.3,265.1L542.7,265.8L543.4,267L542.9,268L541.7,268.8Z M690.7,314.8L690.3,314.7L690.1,313.7L690.3,312.7L690.7,312.4L691,312.7L691.3,313.7L691,314.7L690.7,314.8Z M684,314.6L683.7,313.7L684,312.8L684.6,313.7L684,314.6Z M378,381.6L377.7,381L378,380.1L378.5,380.7L378.3,381.3L378,381.6Z M770.3,403.7L770.1,402.3L770.3,400.7L770.6,402L770.3,403.7Z" fill="none" stroke="#e8642a" stroke-width="0.9" stroke-linejoin="round"/>
<path d="M386.4,405C386.5,405.8 386.3,406.9 385.9,407.6C385.6,408.3 385,408.8 384.5,409.2C384,409.5 383.4,409.5 382.8,409.6C382.2,409.7 381.4,410.1 380.9,409.8C380.4,409.4 380,408.3 379.8,407.5C379.5,406.7 379.4,405.8 379.4,405C379.5,404.2 379.6,403.3 379.9,402.6C380.1,401.8 380.5,401 381,400.5C381.5,400 382.2,399.5 382.8,399.6C383.4,399.7 383.9,400.6 384.4,401.1C384.9,401.6 385.5,401.9 385.8,402.5C386.2,403.2 386.4,404.2 386.4,405Z" fill="#e8642a" stroke="#e8642a" stroke-width="0.8"/>
<path d="M384.1,405C384.1,405.3 383.8,405.6 383.6,405.9C383.3,406.2 383.1,406.7 382.8,406.7C382.5,406.7 382.2,406.3 382,406C381.8,405.7 381.7,405.4 381.7,405C381.6,404.6 381.6,404 381.8,403.8C382,403.6 382.5,403.7 382.8,403.7C383.1,403.7 383.5,403.7 383.7,403.9C383.9,404.1 384.1,404.7 384.1,405Z" fill="none" stroke="#fff" stroke-opacity="0.55" stroke-width="0.6"/>
<path d="M388.8,389C388.8,389.5 388.7,390.1 388.4,390.6C388.2,391 387.8,391.3 387.4,391.5C387,391.7 386.6,391.7 386.2,391.8C385.8,391.8 385.2,392.1 384.8,391.9C384.5,391.6 384.2,391 384,390.5C383.9,390 383.8,389.5 383.8,389C383.8,388.5 383.9,388 384.1,387.6C384.3,387.1 384.6,386.6 384.9,386.3C385.3,386 385.8,385.7 386.2,385.8C386.6,385.8 387,386.4 387.3,386.7C387.7,387 388.1,387.1 388.4,387.5C388.6,387.9 388.8,388.5 388.8,389Z" fill="#e8642a" stroke="#e8642a" stroke-width="0.8"/>
<path d="M404.7,423.3C404.8,423.9 404.6,424.6 404.2,425.1C403.9,425.6 403.3,426 402.8,426.2C402.3,426.5 401.7,426.5 401.1,426.5C400.5,426.6 399.7,426.9 399.2,426.6C398.7,426.4 398.3,425.6 398.1,425.1C397.8,424.5 397.7,423.9 397.7,423.3C397.8,422.7 397.9,422.1 398.2,421.6C398.4,421.1 398.8,420.5 399.3,420.2C399.8,419.8 400.5,419.5 401.1,419.5C401.7,419.6 402.2,420.2 402.7,420.6C403.2,420.9 403.8,421.1 404.1,421.6C404.5,422 404.7,422.7 404.7,423.3Z" fill="#e8642a" stroke="#e8642a" stroke-width="0.8"/>
<path d="M402.4,423.3C402.4,423.5 402.1,423.7 401.9,423.9C401.6,424.1 401.4,424.5 401.1,424.5C400.8,424.5 400.5,424.2 400.3,424C400.1,423.8 400,423.6 400,423.3C399.9,423 399.9,422.6 400.1,422.5C400.3,422.3 400.8,422.4 401.1,422.4C401.4,422.4 401.8,422.4 402,422.5C402.2,422.7 402.4,423.1 402.4,423.3Z" fill="none" stroke="#fff" stroke-opacity="0.55" stroke-width="0.6"/>
<path d="M416.7,419.9C416.7,420.4 416.5,421 416.1,421.5C415.7,421.9 415,422.2 414.4,422.4C413.8,422.6 413.2,422.6 412.5,422.7C411.8,422.7 410.9,423 410.3,422.8C409.7,422.5 409.3,421.9 409,421.4C408.8,420.9 408.6,420.4 408.7,419.9C408.7,419.4 408.9,418.9 409.2,418.5C409.4,418 409.9,417.5 410.4,417.2C411,416.9 411.9,416.6 412.5,416.7C413.1,416.7 413.7,417.3 414.3,417.6C414.9,417.9 415.6,418 416,418.4C416.3,418.8 416.6,419.4 416.7,419.9Z" fill="#e8642a" stroke="#e8642a" stroke-width="0.8"/>
<path d="M414,419.9C414,420.1 413.6,420.3 413.4,420.5C413.1,420.6 412.8,420.9 412.5,420.9C412.2,420.9 411.8,420.7 411.5,420.5C411.3,420.3 411.2,420.1 411.2,419.9C411.2,419.7 411.2,419.3 411.4,419.2C411.6,419 412.1,419.1 412.5,419.1C412.9,419.1 413.3,419.1 413.5,419.2C413.8,419.4 414,419.7 414,419.9Z" fill="none" stroke="#fff" stroke-opacity="0.55" stroke-width="0.6"/>
<path d="M430.4,427.9C430.4,428.5 430.2,429.3 429.8,429.8C429.4,430.3 428.7,430.7 428.1,431C427.5,431.2 426.9,431.2 426.2,431.3C425.5,431.4 424.6,431.7 424,431.4C423.4,431.2 423,430.3 422.7,429.8C422.5,429.2 422.3,428.5 422.4,427.9C422.4,427.3 422.6,426.7 422.9,426.1C423.1,425.6 423.6,425 424.1,424.6C424.7,424.2 425.6,423.8 426.2,423.9C426.8,424 427.4,424.7 428,425C428.6,425.4 429.3,425.6 429.7,426.1C430,426.5 430.3,427.3 430.4,427.9Z" fill="#e8642a" stroke="#e8642a" stroke-width="0.8"/>
<path d="M427.7,427.9C427.7,428.1 427.3,428.4 427.1,428.6C426.8,428.8 426.5,429.1 426.2,429.1C425.9,429.2 425.5,428.9 425.2,428.7C425,428.5 424.9,428.2 424.9,427.9C424.9,427.6 424.9,427.2 425.1,427C425.3,426.8 425.8,426.9 426.2,426.9C426.6,426.9 427,426.9 427.2,427.1C427.5,427.3 427.7,427.7 427.7,427.9Z" fill="none" stroke="#fff" stroke-opacity="0.55" stroke-width="0.6"/>
<path d="M586.5,345.6C586.5,346.6 585.7,347.7 584.6,348.4C583.5,349.1 581.5,349.6 579.8,349.9C578.1,350.2 576.2,350.1 574.2,350.1C572.3,350.1 569.5,350.4 567.9,349.9C566.3,349.4 565.1,348.1 564.4,347.2C563.6,346.3 563.4,345.3 563.5,344.4C563.6,343.5 564.1,342.6 565,341.8C565.9,341.1 567.2,340.2 568.8,339.8C570.4,339.3 573,338.9 574.8,339.1C576.7,339.3 578.3,340.4 579.9,341C581.5,341.6 583.5,342 584.6,342.8C585.6,343.6 586.4,344.7 586.5,345.6Z" fill="#e8642a" stroke="#e8642a" stroke-width="0.8"/>
<path d="M578.8,345.2C578.7,345.6 577.6,345.9 576.9,346.1C576.2,346.4 575.3,346.9 574.4,346.8C573.5,346.8 572.3,346.3 571.7,346C571.1,345.6 570.8,345.2 570.8,344.8C570.7,344.4 570.7,343.7 571.4,343.5C572,343.3 573.6,343.5 574.6,343.5C575.6,343.6 576.8,343.7 577.5,344C578.2,344.2 578.9,344.9 578.8,345.2Z" fill="none" stroke="#fff" stroke-opacity="0.55" stroke-width="0.6"/>
<path d="M598.1,374.3C598.1,375.5 597.7,376.9 597.1,377.8C596.6,378.8 595.5,379.5 594.5,380C593.6,380.4 592.6,380.5 591.5,380.6C590.4,380.7 588.9,381.3 588,380.8C587.1,380.3 586.5,378.8 586,377.7C585.6,376.6 585.4,375.4 585.5,374.3C585.5,373.2 585.8,372 586.2,371C586.7,370 587.4,368.9 588.2,368.2C589.1,367.5 590.5,366.9 591.5,367C592.5,367.1 593.4,368.3 594.3,369C595.2,369.7 596.3,370 596.9,370.9C597.6,371.8 598,373.1 598.1,374.3Z" fill="#e8642a" stroke="#e8642a" stroke-width="0.8"/>
<path d="M593.9,374.3C593.8,374.8 593.2,375.2 592.9,375.6C592.5,375.9 592,376.6 591.5,376.6C591,376.6 590.3,376.1 590,375.7C589.6,375.3 589.5,374.8 589.5,374.3C589.4,373.8 589.4,373 589.7,372.7C590.1,372.4 590.9,372.5 591.5,372.5C592.1,372.5 592.7,372.5 593.1,372.8C593.5,373.1 593.9,373.8 593.9,374.3Z" fill="none" stroke="#fff" stroke-opacity="0.55" stroke-width="0.6"/>
<path d="M601.7,312.9C601.7,313.5 601.5,314.1 601.1,314.6C600.7,315.1 600,315.4 599.3,315.7C598.7,315.9 598,315.9 597.3,315.9C596.6,316 595.6,316.3 595,316C594.4,315.8 593.9,315.1 593.6,314.6C593.4,314 593.3,313.4 593.3,312.9C593.3,312.4 593.5,311.8 593.8,311.3C594.1,310.8 594.5,310.3 595.1,309.9C595.7,309.6 596.6,309.3 597.3,309.3C598,309.4 598.6,310 599.2,310.3C599.8,310.6 600.5,310.8 600.9,311.3C601.3,311.7 601.7,312.3 601.7,312.9Z" fill="#e8642a" stroke="#e8642a" stroke-width="0.8"/>
<path d="M598.9,312.9C598.8,313.1 598.5,313.3 598.2,313.5C597.9,313.7 597.6,314 597.3,314C597,314 596.5,313.8 596.3,313.6C596.1,313.4 596,313.1 595.9,312.9C595.9,312.7 595.9,312.3 596.1,312.1C596.4,312 596.9,312 597.3,312C597.7,312 598.1,312 598.4,312.2C598.6,312.3 598.9,312.7 598.9,312.9Z" fill="none" stroke="#fff" stroke-opacity="0.55" stroke-width="0.6"/>
<path d="M609.2,331.6C609.2,332.2 609,332.8 608.6,333.3C608.2,333.8 607.5,334.1 606.8,334.4C606.2,334.6 605.5,334.6 604.8,334.6C604.1,334.7 603.1,335 602.5,334.7C601.9,334.5 601.4,333.8 601.1,333.3C600.9,332.7 600.8,332.1 600.8,331.6C600.8,331.1 601,330.5 601.3,330C601.6,329.5 602,329 602.6,328.6C603.2,328.3 604.1,328 604.8,328C605.5,328.1 606.1,328.7 606.7,329C607.3,329.3 608,329.5 608.4,330C608.8,330.4 609.2,331 609.2,331.6Z" fill="#e8642a" stroke="#e8642a" stroke-width="0.8"/>
<path d="M606.4,331.6C606.3,331.8 606,332 605.7,332.2C605.4,332.4 605.1,332.7 604.8,332.7C604.5,332.7 604,332.5 603.8,332.3C603.6,332.1 603.5,331.8 603.4,331.6C603.4,331.4 603.4,331 603.6,330.8C603.9,330.7 604.4,330.7 604.8,330.7C605.2,330.7 605.6,330.7 605.9,330.9C606.1,331 606.4,331.4 606.4,331.6Z" fill="none" stroke="#fff" stroke-opacity="0.55" stroke-width="0.6"/>
<path d="M663,316.6C663,317.2 662.8,317.8 662.4,318.3C662,318.8 661.4,319.1 660.8,319.4C660.3,319.6 659.7,319.6 659,319.6C658.3,319.7 657.5,320 656.9,319.7C656.4,319.5 656,318.8 655.7,318.3C655.4,317.7 655.3,317.1 655.4,316.6C655.4,316.1 655.5,315.5 655.8,315C656.1,314.5 656.5,314 657,313.6C657.6,313.3 658.4,313 659,313C659.6,313.1 660.2,313.7 660.7,314C661.3,314.3 661.9,314.5 662.3,315C662.7,315.4 662.9,316 663,316.6Z" fill="#e8642a" stroke="#e8642a" stroke-width="0.8"/>
<path d="M660.4,316.6C660.4,316.8 660.1,317 659.8,317.2C659.6,317.4 659.3,317.7 659,317.7C658.7,317.7 658.3,317.5 658.1,317.3C657.9,317.1 657.8,316.8 657.8,316.6C657.7,316.4 657.7,316 657.9,315.8C658.1,315.7 658.7,315.7 659,315.7C659.3,315.7 659.7,315.7 660,315.9C660.2,316 660.5,316.4 660.4,316.6Z" fill="none" stroke="#fff" stroke-opacity="0.55" stroke-width="0.6"/>
<path d="M605.7,399.7C605.7,400.5 605.4,401.4 605,402C604.6,402.7 603.8,403.2 603.2,403.5C602.5,403.8 601.8,403.8 601,403.9C600.2,403.9 599.2,404.3 598.5,404C597.9,403.7 597.4,402.7 597.1,402C596.8,401.2 596.7,400.4 596.7,399.7C596.7,399 596.9,398.2 597.2,397.5C597.6,396.9 598,396.1 598.7,395.7C599.3,395.2 600.3,394.8 601,394.9C601.7,394.9 602.4,395.8 603,396.2C603.7,396.6 604.4,396.9 604.9,397.5C605.3,398 605.7,398.9 605.7,399.7Z" fill="#e8642a" stroke="#e8642a" stroke-width="0.8"/>
<path d="M602.7,399.7C602.7,400 602.2,400.3 602,400.5C601.7,400.8 601.3,401.2 601,401.2C600.7,401.2 600.2,400.9 599.9,400.6C599.7,400.4 599.6,400 599.5,399.7C599.5,399.4 599.5,398.8 599.7,398.6C600,398.4 600.6,398.5 601,398.5C601.4,398.5 601.9,398.5 602.1,398.7C602.4,398.9 602.7,399.4 602.7,399.7Z" fill="none" stroke="#fff" stroke-opacity="0.55" stroke-width="0.6"/>
<path d="M657.6,406C657.6,407.6 657.2,409.6 656.6,410.9C656,412.2 654.9,413.3 653.9,413.9C653,414.6 651.9,414.6 650.8,414.8C649.7,415 648.2,415.7 647.2,415.1C646.3,414.4 645.6,412.3 645.2,410.8C644.7,409.3 644.5,407.6 644.6,406C644.6,404.4 644.9,402.8 645.4,401.4C645.8,400 646.5,398.4 647.4,397.5C648.3,396.5 649.8,395.6 650.8,395.8C651.8,396 652.8,397.7 653.7,398.6C654.7,399.5 655.8,400 656.4,401.3C657.1,402.5 657.5,404.4 657.6,406Z" fill="#e8642a" stroke="#e8642a" stroke-width="0.8"/>
<path d="M653.2,406C653.2,406.6 652.6,407.2 652.2,407.7C651.8,408.3 651.3,409.1 650.8,409.2C650.3,409.2 649.6,408.5 649.2,408C648.9,407.4 648.7,406.7 648.7,406C648.6,405.3 648.6,404.1 649,403.7C649.3,403.3 650.2,403.4 650.8,403.5C651.4,403.5 652.1,403.5 652.5,403.9C652.9,404.3 653.3,405.4 653.2,406Z" fill="none" stroke="#fff" stroke-opacity="0.55" stroke-width="0.6"/>
<path d="M735.5,314.7C735.6,315.5 735.4,316.4 735,317C734.7,317.7 734.1,318.2 733.6,318.5C733.1,318.8 732.5,318.8 731.9,318.9C731.3,318.9 730.5,319.3 730,319C729.5,318.7 729.1,317.7 728.9,317C728.6,316.2 728.5,315.4 728.5,314.7C728.6,314 728.7,313.2 729,312.5C729.2,311.9 729.6,311.1 730.1,310.7C730.6,310.2 731.3,309.8 731.9,309.9C732.5,309.9 733,310.8 733.5,311.2C734,311.6 734.6,311.9 734.9,312.5C735.3,313 735.5,313.9 735.5,314.7Z" fill="#e8642a" stroke="#e8642a" stroke-width="0.8"/>
<path d="M733.2,314.7C733.2,315 732.9,315.3 732.7,315.5C732.4,315.8 732.2,316.2 731.9,316.2C731.6,316.2 731.3,315.9 731.1,315.6C730.9,315.4 730.8,315 730.8,314.7C730.7,314.4 730.7,313.8 730.9,313.6C731.1,313.4 731.6,313.5 731.9,313.5C732.2,313.5 732.6,313.5 732.8,313.7C733,313.9 733.2,314.4 733.2,314.7Z" fill="none" stroke="#fff" stroke-opacity="0.55" stroke-width="0.6"/>
<path d="M741.5,320.3C741.5,320.8 741.4,321.4 741.1,321.9C740.8,322.3 740.3,322.6 739.8,322.8C739.4,323 738.9,323 738.4,323.1C737.9,323.1 737.2,323.4 736.7,323.2C736.3,322.9 736,322.3 735.8,321.8C735.6,321.3 735.5,320.8 735.5,320.3C735.5,319.8 735.7,319.3 735.9,318.9C736.1,318.4 736.4,317.9 736.8,317.6C737.3,317.3 737.9,317 738.4,317.1C738.9,317.1 739.3,317.7 739.7,318C740.2,318.3 740.7,318.4 741,318.8C741.3,319.2 741.5,319.8 741.5,320.3Z" fill="#e8642a" stroke="#e8642a" stroke-width="0.8"/>
<path d="M743.9,326.9C744,327.5 743.8,328.2 743.4,328.7C743.1,329.2 742.5,329.6 742,329.8C741.5,330.1 740.9,330.1 740.3,330.1C739.7,330.2 738.9,330.5 738.4,330.2C737.9,330 737.5,329.2 737.3,328.7C737,328.1 736.9,327.5 736.9,326.9C737,326.3 737.1,325.7 737.4,325.2C737.6,324.7 738,324.1 738.5,323.8C739,323.4 739.7,323.1 740.3,323.1C740.9,323.2 741.4,323.8 741.9,324.2C742.4,324.5 743,324.7 743.3,325.2C743.7,325.6 743.9,326.3 743.9,326.9Z" fill="#e8642a" stroke="#e8642a" stroke-width="0.8"/>
<path d="M741.6,326.9C741.6,327.1 741.3,327.3 741.1,327.5C740.8,327.7 740.6,328.1 740.3,328.1C740,328.1 739.7,327.8 739.5,327.6C739.3,327.4 739.2,327.2 739.2,326.9C739.1,326.6 739.1,326.2 739.3,326.1C739.5,325.9 740,326 740.3,326C740.6,326 741,326 741.2,326.1C741.4,326.3 741.6,326.7 741.6,326.9Z" fill="none" stroke="#fff" stroke-opacity="0.55" stroke-width="0.6"/>
<path d="M687.3,345C687.4,346.1 686.9,347.5 686.2,348.4C685.5,349.3 684.2,350 683.1,350.4C682,350.9 680.8,350.9 679.5,351C678.2,351.1 676.5,351.7 675.4,351.2C674.3,350.7 673.5,349.3 673,348.3C672.5,347.2 672.3,346.1 672.3,345C672.4,343.9 672.7,342.8 673.2,341.9C673.8,340.9 674.6,339.8 675.6,339.2C676.7,338.5 678.3,337.9 679.5,338C680.7,338.1 681.8,339.3 682.9,339.9C684,340.6 685.2,340.9 686,341.8C686.7,342.6 687.3,343.9 687.3,345Z" fill="#e8642a" stroke="#e8642a" stroke-width="0.8"/>
<path d="M682.3,345C682.3,345.4 681.6,345.8 681.1,346.2C680.6,346.6 680.1,347.2 679.5,347.2C678.9,347.2 678.1,346.7 677.7,346.3C677.3,346 677.1,345.5 677.1,345C677,344.5 677,343.7 677.4,343.4C677.8,343.2 678.8,343.3 679.5,343.3C680.2,343.3 680.9,343.3 681.4,343.6C681.9,343.9 682.4,344.6 682.3,345Z" fill="none" stroke="#fff" stroke-opacity="0.55" stroke-width="0.6"/>
<path d="M698.1,344.3C698.2,345.1 697.8,346 697.3,346.6C696.8,347.3 695.9,347.8 695.1,348.1C694.2,348.4 693.3,348.4 692.4,348.5C691.5,348.5 690.2,348.9 689.4,348.6C688.6,348.3 688,347.3 687.6,346.6C687.2,345.8 687.1,345 687.1,344.3C687.2,343.6 687.4,342.8 687.8,342.1C688.2,341.5 688.8,340.7 689.6,340.3C690.3,339.8 691.5,339.4 692.4,339.5C693.3,339.5 694.1,340.4 694.9,340.8C695.7,341.2 696.6,341.5 697.1,342.1C697.7,342.6 698.1,343.5 698.1,344.3Z" fill="#e8642a" stroke="#e8642a" stroke-width="0.8"/>
<path d="M694.5,344.3C694.4,344.6 693.9,344.9 693.6,345.1C693.2,345.4 692.8,345.8 692.4,345.8C692,345.8 691.4,345.5 691.1,345.2C690.8,345 690.7,344.6 690.6,344.3C690.6,344 690.6,343.4 690.9,343.2C691.2,343 691.9,343.1 692.4,343.1C692.9,343.1 693.5,343.1 693.8,343.3C694.1,343.5 694.5,344 694.5,344.3Z" fill="none" stroke="#fff" stroke-opacity="0.55" stroke-width="0.6"/>
<path d="M710,345.6C710,346.2 709.8,346.9 709.4,347.4C709,347.9 708.3,348.3 707.7,348.5C707.1,348.8 706.5,348.8 705.8,348.8C705.1,348.9 704.2,349.2 703.6,348.9C703,348.7 702.6,347.9 702.3,347.4C702.1,346.8 701.9,346.2 702,345.6C702,345 702.2,344.4 702.5,343.9C702.7,343.4 703.2,342.8 703.7,342.5C704.3,342.1 705.2,341.8 705.8,341.8C706.4,341.9 707,342.5 707.6,342.9C708.2,343.2 708.9,343.4 709.3,343.9C709.6,344.3 709.9,345 710,345.6Z" fill="#e8642a" stroke="#e8642a" stroke-width="0.8"/>
<path d="M707.3,345.6C707.3,345.8 706.9,346 706.7,346.2C706.4,346.4 706.1,346.8 705.8,346.8C705.5,346.8 705.1,346.5 704.8,346.3C704.6,346.1 704.5,345.9 704.5,345.6C704.5,345.3 704.5,344.9 704.7,344.8C704.9,344.6 705.4,344.7 705.8,344.7C706.2,344.7 706.6,344.7 706.8,344.8C707.1,345 707.3,345.4 707.3,345.6Z" fill="none" stroke="#fff" stroke-opacity="0.55" stroke-width="0.6"/>
<path d="M718.4,342.9C718.4,343.4 718.3,344 718,344.5C717.7,344.9 717.2,345.2 716.7,345.4C716.3,345.6 715.8,345.6 715.3,345.7C714.8,345.7 714.1,346 713.6,345.8C713.2,345.5 712.9,344.9 712.7,344.4C712.5,343.9 712.4,343.4 712.4,342.9C712.4,342.4 712.6,341.9 712.8,341.5C713,341 713.3,340.5 713.7,340.2C714.2,339.9 714.8,339.6 715.3,339.7C715.8,339.7 716.2,340.3 716.6,340.6C717.1,340.9 717.6,341 717.9,341.4C718.2,341.8 718.4,342.4 718.4,342.9Z" fill="#e8642a" stroke="#e8642a" stroke-width="0.8"/>
<path d="M707.4,402.4C707.8,403.3 708,404.6 707.8,405.5C707.7,406.5 707.2,407.4 706.8,408C706.3,408.6 705.6,408.8 704.9,409.2C704.2,409.6 703.4,410.4 702.6,410.2C701.9,410 701,409 700.4,408.2C699.7,407.4 699.3,406.4 698.9,405.5C698.6,404.5 698.5,403.5 698.5,402.6C698.5,401.6 698.6,400.5 699,399.7C699.4,399 700.1,398.1 700.8,397.9C701.5,397.8 702.5,398.6 703.3,398.9C704.1,399.2 704.9,399.3 705.6,399.9C706.3,400.4 707,401.5 707.4,402.4Z" fill="#e8642a" stroke="#e8642a" stroke-width="0.8"/>
<path d="M704.6,403.4C704.7,403.8 704.4,404.3 704.3,404.7C704.1,405.1 704,405.8 703.7,405.9C703.4,406 702.8,405.8 702.4,405.5C702.1,405.3 701.8,404.9 701.6,404.5C701.4,404.1 701.2,403.4 701.3,403.1C701.5,402.7 702.1,402.6 702.5,402.5C702.8,402.4 703.3,402.2 703.6,402.4C704,402.5 704.5,403 704.6,403.4Z" fill="none" stroke="#fff" stroke-opacity="0.55" stroke-width="0.6"/>
<path d="M725.3,417C725.4,418.1 724.9,419.5 724.2,420.4C723.4,421.3 722.1,422 720.9,422.4C719.7,422.9 718.4,422.9 717,423C715.6,423.1 713.8,423.7 712.6,423.2C711.4,422.7 710.6,421.3 710,420.3C709.5,419.2 709.3,418.1 709.3,417C709.4,415.9 709.7,414.8 710.3,413.9C710.9,412.9 711.7,411.8 712.9,411.2C714,410.5 715.7,409.9 717,410C718.3,410.1 719.4,411.3 720.6,411.9C721.7,412.6 723.1,412.9 723.9,413.8C724.7,414.6 725.3,415.9 725.3,417Z" fill="#e8642a" stroke="#e8642a" stroke-width="0.8"/>
<path d="M720,417C719.9,417.4 719.2,417.8 718.7,418.2C718.2,418.6 717.6,419.2 717,419.2C716.4,419.2 715.5,418.7 715.1,418.3C714.6,418 714.5,417.5 714.4,417C714.3,416.5 714.3,415.7 714.8,415.4C715.2,415.2 716.3,415.3 717,415.3C717.7,415.3 718.5,415.3 719,415.6C719.5,415.9 720.1,416.6 720,417Z" fill="none" stroke="#fff" stroke-opacity="0.55" stroke-width="0.6"/>
<path d="M728.2,405C728.2,406 727.9,407.3 727.5,408.1C727,408.9 726.2,409.6 725.4,410C724.7,410.4 723.9,410.4 723,410.5C722.1,410.7 721,411.1 720.2,410.7C719.5,410.3 719,409 718.7,408C718.3,407.1 718.2,406 718.2,405C718.2,404 718.4,403 718.8,402.1C719.2,401.2 719.7,400.2 720.4,399.6C721.1,399 722.2,398.4 723,398.5C723.8,398.7 724.5,399.7 725.2,400.3C726,400.9 726.8,401.2 727.3,402C727.8,402.8 728.2,404 728.2,405Z" fill="#e8642a" stroke="#e8642a" stroke-width="0.8"/>
<path d="M724.9,405C724.8,405.4 724.4,405.8 724.1,406.1C723.8,406.4 723.4,407 723,407C722.6,407 722.1,406.6 721.8,406.2C721.5,405.9 721.4,405.4 721.4,405C721.3,404.6 721.3,403.8 721.6,403.6C721.9,403.3 722.6,403.4 723,403.4C723.4,403.4 724,403.4 724.3,403.7C724.6,404 724.9,404.6 724.9,405Z" fill="none" stroke="#fff" stroke-opacity="0.55" stroke-width="0.6"/>
<path d="M712.2,420C712.2,420.7 711.9,421.5 711.5,422.1C711,422.6 710.2,423.1 709.4,423.3C708.7,423.6 707.9,423.6 707,423.7C706.1,423.8 705,424.1 704.2,423.8C703.5,423.5 703,422.6 702.7,422C702.3,421.4 702.2,420.7 702.2,420C702.2,419.3 702.4,418.7 702.8,418.1C703.2,417.5 703.7,416.8 704.4,416.4C705.1,416 706.2,415.6 707,415.7C707.8,415.8 708.5,416.5 709.2,416.9C710,417.3 710.8,417.5 711.3,418C711.8,418.5 712.2,419.3 712.2,420Z" fill="#e8642a" stroke="#e8642a" stroke-width="0.8"/>
<path d="M708.9,420C708.8,420.3 708.4,420.5 708.1,420.7C707.8,421 707.4,421.3 707,421.3C706.6,421.4 706.1,421 705.8,420.8C705.5,420.6 705.4,420.3 705.4,420C705.3,419.7 705.3,419.2 705.6,419C705.9,418.9 706.6,418.9 707,418.9C707.4,419 708,418.9 708.3,419.1C708.6,419.3 708.9,419.7 708.9,420Z" fill="none" stroke="#fff" stroke-opacity="0.55" stroke-width="0.6"/>
<path d="M716.1,396C716.1,396.4 716,396.9 715.7,397.3C715.4,397.6 714.9,397.9 714.4,398.1C714,398.3 713.5,398.3 713,398.3C712.5,398.4 711.8,398.6 711.3,398.4C710.9,398.2 710.6,397.7 710.4,397.3C710.2,396.9 710.1,396.4 710.1,396C710.1,395.6 710.3,395.2 710.5,394.8C710.7,394.4 711,394 711.4,393.8C711.9,393.5 712.5,393.3 713,393.3C713.5,393.4 713.9,393.8 714.3,394.1C714.8,394.3 715.3,394.4 715.6,394.8C715.9,395.1 716.1,395.6 716.1,396Z" fill="#e8642a" stroke="#e8642a" stroke-width="0.8"/>
<circle cx="380.5" cy="440" r="0.9" fill="#e8642a"/>
<text x="502" y="270" font-size="8.2" font-weight="bold" fill="#111">G10</text>
<text x="551.1" y="281.1" font-size="8.2" font-weight="bold" fill="#111">N48</text>
<text x="580.2" y="283.4" font-size="8.2" font-weight="bold" fill="#111">N64</text>
<text x="628.2" y="268.1" font-size="8.2" font-weight="bold" fill="#111">P54</text>
<text x="669.7" y="268" font-size="8.2" font-weight="bold" fill="#111">P54</text>
<text x="543.1" y="297.6" font-size="8.2" font-weight="bold" fill="#111">N45</text>
<text x="613.2" y="302.6" font-size="8.2" font-weight="bold" fill="#111">K63</text>
<text x="631.9" y="307.7" font-size="8.2" font-weight="bold" fill="#111">R61</text>
<text x="649.3" y="304.5" font-size="8.2" font-weight="bold" fill="#111">L51</text>
<text x="663.7" y="307.6" font-size="8.2" font-weight="bold" fill="#111">E8</text>
<text x="677.7" y="303.1" font-size="8.2" font-weight="bold" fill="#111">R61</text>
<text x="698.3" y="301.6" font-size="8.2" font-weight="bold" fill="#111">K63</text>
<text x="730.6" y="283.9" font-size="8.2" font-weight="bold" fill="#111">A44/A43</text>
<text x="748.2" y="299.4" font-size="8.2" font-weight="bold" fill="#111">A22/32/</text>
<text x="748.2" y="309.5" font-size="8.2" font-weight="bold" fill="#111">36/40/41</text>
<text x="602" y="312" font-size="8.2" font-weight="bold" fill="#111">N15</text>
<text x="539.4" y="312" font-size="8.2" font-weight="bold" fill="#111">F56</text>
<text x="530.6" y="322.6" font-size="8.2" font-weight="bold" fill="#111">L51</text>
<text x="529.5" y="333.8" font-size="8.2" font-weight="bold" fill="#111">Y57</text>
<text x="533.8" y="342.4" font-size="8.2" font-weight="bold" fill="#111">L65</text>
<text x="540.9" y="353.6" font-size="8.2" font-weight="bold" fill="#111">L</text>
<text x="623.5" y="337.5" font-size="8.2" font-weight="bold" fill="#111">K53</text>
<text x="608.6" y="343.1" font-size="8.2" font-weight="bold" fill="#111">Y59</text>
<text x="390.8" y="310.6" font-size="8.2" font-weight="bold" fill="#111">S50</text>
<text x="374" y="320.4" font-size="8.2" font-weight="bold" fill="#111">S55</text>
<text x="364.1" y="334.4" font-size="8.2" font-weight="bold" fill="#111">S60</text>
<text x="484.9" y="348.7" font-size="8.2" font-weight="bold" fill="#111">I46-N45</text>
<text x="516.7" y="358.6" font-size="8.2" font-weight="bold" fill="#111">P54</text>
<text x="555.8" y="367.3" font-size="8.2" font-weight="bold" fill="#111">Y42</text>
<text x="531.7" y="381.6" font-size="8.2" font-weight="bold" fill="#111">F20/23/24</text>
<text x="618.5" y="352.9" font-size="8.2" font-weight="bold" fill="#111">V62</text>
<text x="636.6" y="357.4" font-size="8.2" font-weight="bold" fill="#111">L65</text>
<text x="650.8" y="373.6" font-size="8.2" font-weight="bold" fill="#111">P54</text>
<text x="556.2" y="392.3" font-size="8.2" font-weight="bold" fill="#111"><tspan font-family="Liberation Serif" font-weight="normal" font-size="9.5">β</tspan>-sheet</text>
<text x="564.4" y="401.6" font-size="8.2" font-weight="bold" fill="#111">Val</text>
<text x="624.7" y="401.7" font-size="8.2" font-weight="bold" fill="#111">V52</text>
<text x="563.7" y="417.7" font-size="8.2" font-weight="bold" fill="#111">I13/33</text>
<text x="601" y="417.7" font-size="8.2" font-weight="bold" fill="#111">V47/49/58</text>
<text x="618.5" y="431.6" font-size="8.2" font-weight="bold" fill="#111">V14/17/</text>
<text x="623.4" y="440.1" font-size="8.2" font-weight="bold" fill="#111">24/25</text>
<text x="733.3" y="353.7" font-size="8.2" font-weight="bold" fill="#111">V47/49/58/62</text>
<text x="760.3" y="365.3" font-size="8.2" font-weight="bold" fill="#111">I46</text>
<text x="738.7" y="379.9" font-size="8.2" font-weight="bold" fill="#111">V52</text>
<text x="760.3" y="391.4" font-size="8.2" font-weight="bold" fill="#111">I13/33</text>
<text x="685.6" y="376.1" font-size="8.2" font-weight="bold" fill="#111">P54</text>
<text x="677.5" y="397.6" font-size="8.2" font-weight="bold" fill="#111">I13/33</text>
<text x="692.9" y="361.8" font-size="8.2" font-weight="bold" fill="#111">L</text>
<text x="655.5" y="433.8" font-size="8.2" font-weight="bold" fill="#111">V14/17/24/25</text>
<text x="668.1" y="443.5" font-size="8.2" font-weight="bold" fill="#111">T35/30</text>
<text x="486.9" y="413.4" font-size="8.2" font-weight="bold" fill="#111"><tspan font-family="Liberation Serif" font-weight="normal" font-size="9.5">β</tspan>-sheet</text>
<text x="486.9" y="422.6" font-size="8.2" font-weight="bold" fill="#111">Ser</text>
<text x="427.3" y="415.3" font-size="8.2" font-weight="bold" fill="#111">S16</text>
<text x="384" y="442.2" font-size="8.2" font-weight="bold" fill="#111">T30</text>
<text x="400.6" y="442.2" font-size="8.2" font-weight="bold" fill="#111">T35</text>
<polygon points="518.4,268.2 530.9,272.2 531.1,271.4 519.2,266" fill="#111"/>
<polygon points="565.4,283.6 578.4,301.5 579,301.1 567.4,282.4" fill="#111"/>
<polygon points="557.3,296 571,305.7 571.4,305.1 558.7,294.2" fill="#111"/>
<polygon points="585,287.2 586.7,303.6 587.5,303.6 587.2,287" fill="#111"/>
<polygon points="634.5,269.9 634.3,277.4 635.1,277.4 636.7,270.1" fill="#111"/>
<polygon points="674.8,270.5 673.6,278.2 674.4,278.4 677,271.1" fill="#111"/>
<polygon points="741.1,287.3 737.1,304.3 737.9,304.5 743.3,287.9" fill="#111"/>
<polygon points="754.5,312 741.9,326.6 742.5,327.2 756.1,313.6" fill="#111"/>
<polygon points="680.4,306 677.9,320.2 678.7,320.4 682.6,306.6" fill="#111"/>
<polygon points="702,304.8 693.3,319.2 693.9,319.6 704,306" fill="#111"/>
<polygon points="667.2,312.6 661.4,337.1 662.2,337.3 669.4,313.2" fill="#111"/>
<polygon points="603.6,314.8 604.4,329.7 605.2,329.7 605.9,314.8" fill="#111"/>
<polygon points="619.6,305 619.7,319.4 620.5,319.4 621.8,305" fill="#111"/>
<polygon points="640.1,310.2 641.8,319.4 642.6,319.4 642.3,310" fill="#111"/>
<polygon points="655.1,307.4 656.7,318.5 657.5,318.5 657.3,307.2" fill="#111"/>
<polygon points="553.6,311.5 569.8,322.5 570.2,321.9 555,309.7" fill="#111"/>
<polygon points="544.8,321.5 558.9,323.6 559.1,322.8 545.2,319.3" fill="#111"/>
<polygon points="544.9,331.7 570,332.9 570,332.1 545.1,329.5" fill="#111"/>
<polygon points="548.6,341.1 564.6,341.3 564.6,340.5 548.8,338.9" fill="#111"/>
<polygon points="558.6,341.1 574.9,342.4 574.9,341.6 558.8,338.9" fill="#111"/>
<polygon points="552.7,350.5 576.2,346.6 576,345.8 552.3,348.3" fill="#111"/>
<polygon points="638.2,336.1 645.9,337.2 646.1,336.4 638.8,333.9" fill="#111"/>
<polygon points="648.8,348.6 658,339.4 657.4,338.8 647.2,346.8" fill="#111"/>
<polygon points="613.8,344.6 608.2,352.1 608.8,352.7 615.6,346.2" fill="#111"/>
<polygon points="400.5,313.9 412,329.9 412.6,329.5 402.5,312.7" fill="#111"/>
<polygon points="387.9,322.8 401.7,343 402.3,342.6 389.9,321.6" fill="#111"/>
<polygon points="375.4,336.2 380.1,344.8 380.9,344.4 377.4,335.2" fill="#111"/>
<polygon points="499.2,352.2 501.4,358.7 502.2,358.5 501.4,351.6" fill="#111"/>
<polygon points="523.1,360.1 524.8,367.4 525.6,367.2 525.3,359.7" fill="#111"/>
<polygon points="571,364.7 597,366 597,365.2 571.2,362.5" fill="#111"/>
<polygon points="571.4,378.9 593.1,371.9 592.9,371.1 570.8,376.7" fill="#111"/>
<polygon points="621.1,353.3 619.3,361 620.1,361.2 623.3,354.1" fill="#111"/>
<polygon points="649.7,368.8 639.7,368.2 639.5,369 649.5,371" fill="#111"/>
<polygon points="586.8,390.7 622.4,363.9 622,363.3 585.4,388.9" fill="#111"/>
<polygon points="632,393.8 633.8,382.4 633,382.2 629.8,393.2" fill="#111"/>
<polygon points="586.7,413.2 603.7,401.3 603.3,400.7 585.5,411.2" fill="#111"/>
<polygon points="618.3,409.9 626.3,366.2 625.5,366 616.1,409.5" fill="#111"/>
<polygon points="640.5,422.9 649.9,409.9 649.3,409.5 638.7,421.5" fill="#111"/>
<polygon points="731.3,348.5 724.4,360.2 725,360.6 733.3,349.7" fill="#111"/>
<polygon points="758.3,359.9 749,361.4 749,362.2 758.5,362.1" fill="#111"/>
<polygon points="737.6,375 727.4,375.7 727.4,376.5 737.6,377.2" fill="#111"/>
<polygon points="759.3,393 750.1,397.8 750.5,398.6 760.3,395.2" fill="#111"/>
<polygon points="685.7,370.7 676.2,370.3 676.2,371.1 685.5,372.9" fill="#111"/>
<polygon points="675.8,393.9 668,397.8 668.2,398.6 676.6,396.1" fill="#111"/>
<polygon points="695.8,354.2 685.9,345.3 685.3,345.9 694.2,355.8" fill="#111"/>
<polygon points="701.4,357 707.5,345.8 706.9,345.4 699.4,355.8" fill="#111"/>
<polygon points="698.7,424.4 704.8,411.9 704.2,411.5 696.7,423.2" fill="#111"/>
<polygon points="703.7,424.8 719.5,413.3 719.1,412.7 702.5,422.8" fill="#111"/>
<polygon points="485.2,403.9 471.5,391.4 470.9,392 483.6,405.5" fill="#111"/>
<polygon points="483.6,417.3 462.5,417.2 462.5,418 483.6,419.5" fill="#111"/>
<polygon points="481.7,411.1 462.7,401.8 462.3,402.6 480.7,413.1" fill="#111"/>
<polygon points="419.6,386.3 433.9,404.1 434.5,403.7 421.4,384.9" fill="#111"/>
<polygon points="396.5,433.6 395.8,423.3 395,423.3 394.2,433.6" fill="#111"/>
<polygon points="412.4,433.5 410.6,423.3 409.8,423.3 410.2,433.7" fill="#111"/>
</g>
<rect x="360.6" y="258.8" width="424.2" height="186.3" fill="none" stroke="#111" stroke-width="1.3"/>
<line x1="786" y1="445.1" x2="786" y2="450.1" stroke="#111" stroke-width="1.1"/>
<line x1="771.8" y1="445.1" x2="771.8" y2="448.1" stroke="#111" stroke-width="1.1"/>
<line x1="757.6" y1="445.1" x2="757.6" y2="448.1" stroke="#111" stroke-width="1.1"/>
<line x1="743.4" y1="445.1" x2="743.4" y2="448.1" stroke="#111" stroke-width="1.1"/>
<line x1="729.3" y1="445.1" x2="729.3" y2="448.1" stroke="#111" stroke-width="1.1"/>
<line x1="715.1" y1="445.1" x2="715.1" y2="450.1" stroke="#111" stroke-width="1.1"/>
<line x1="700.9" y1="445.1" x2="700.9" y2="448.1" stroke="#111" stroke-width="1.1"/>
<line x1="686.8" y1="445.1" x2="686.8" y2="448.1" stroke="#111" stroke-width="1.1"/>
<line x1="672.6" y1="445.1" x2="672.6" y2="448.1" stroke="#111" stroke-width="1.1"/>
<line x1="658.4" y1="445.1" x2="658.4" y2="448.1" stroke="#111" stroke-width="1.1"/>
<line x1="644.2" y1="445.1" x2="644.2" y2="450.1" stroke="#111" stroke-width="1.1"/>
<line x1="630.1" y1="445.1" x2="630.1" y2="448.1" stroke="#111" stroke-width="1.1"/>
<line x1="615.9" y1="445.1" x2="615.9" y2="448.1" stroke="#111" stroke-width="1.1"/>
<line x1="601.7" y1="445.1" x2="601.7" y2="448.1" stroke="#111" stroke-width="1.1"/>
<line x1="587.6" y1="445.1" x2="587.6" y2="448.1" stroke="#111" stroke-width="1.1"/>
<line x1="573.4" y1="445.1" x2="573.4" y2="450.1" stroke="#111" stroke-width="1.1"/>
<line x1="559.2" y1="445.1" x2="559.2" y2="448.1" stroke="#111" stroke-width="1.1"/>
<line x1="545.1" y1="445.1" x2="545.1" y2="448.1" stroke="#111" stroke-width="1.1"/>
<line x1="530.9" y1="445.1" x2="530.9" y2="448.1" stroke="#111" stroke-width="1.1"/>
<line x1="516.7" y1="445.1" x2="516.7" y2="448.1" stroke="#111" stroke-width="1.1"/>
<line x1="502.6" y1="445.1" x2="502.6" y2="450.1" stroke="#111" stroke-width="1.1"/>
<line x1="488.4" y1="445.1" x2="488.4" y2="448.1" stroke="#111" stroke-width="1.1"/>
<line x1="474.2" y1="445.1" x2="474.2" y2="448.1" stroke="#111" stroke-width="1.1"/>
<line x1="460" y1="445.1" x2="460" y2="448.1" stroke="#111" stroke-width="1.1"/>
<line x1="445.9" y1="445.1" x2="445.9" y2="448.1" stroke="#111" stroke-width="1.1"/>
<line x1="431.7" y1="445.1" x2="431.7" y2="450.1" stroke="#111" stroke-width="1.1"/>
<line x1="417.5" y1="445.1" x2="417.5" y2="448.1" stroke="#111" stroke-width="1.1"/>
<line x1="403.4" y1="445.1" x2="403.4" y2="448.1" stroke="#111" stroke-width="1.1"/>
<line x1="389.2" y1="445.1" x2="389.2" y2="448.1" stroke="#111" stroke-width="1.1"/>
<line x1="375" y1="445.1" x2="375" y2="448.1" stroke="#111" stroke-width="1.1"/>
<line x1="360.9" y1="445.1" x2="360.9" y2="450.1" stroke="#111" stroke-width="1.1"/>
<line x1="357.6" y1="261.5" x2="360.6" y2="261.5" stroke="#111" stroke-width="1.1"/>
<line x1="357.6" y1="275.7" x2="360.6" y2="275.7" stroke="#111" stroke-width="1.1"/>
<line x1="357.6" y1="289.8" x2="360.6" y2="289.8" stroke="#111" stroke-width="1.1"/>
<line x1="355.1" y1="303.9" x2="360.6" y2="303.9" stroke="#111" stroke-width="1.1"/>
<line x1="357.6" y1="318" x2="360.6" y2="318" stroke="#111" stroke-width="1.1"/>
<line x1="357.6" y1="332.1" x2="360.6" y2="332.1" stroke="#111" stroke-width="1.1"/>
<line x1="357.6" y1="346.3" x2="360.6" y2="346.3" stroke="#111" stroke-width="1.1"/>
<line x1="357.6" y1="360.4" x2="360.6" y2="360.4" stroke="#111" stroke-width="1.1"/>
<line x1="355.1" y1="374.5" x2="360.6" y2="374.5" stroke="#111" stroke-width="1.1"/>
<line x1="357.6" y1="388.6" x2="360.6" y2="388.6" stroke="#111" stroke-width="1.1"/>
<line x1="357.6" y1="402.7" x2="360.6" y2="402.7" stroke="#111" stroke-width="1.1"/>
<line x1="357.6" y1="416.9" x2="360.6" y2="416.9" stroke="#111" stroke-width="1.1"/>
<line x1="357.6" y1="431" x2="360.6" y2="431" stroke="#111" stroke-width="1.1"/>
<line x1="355.1" y1="445.1" x2="360.6" y2="445.1" stroke="#111" stroke-width="1.1"/>
<text x="360.9" y="462.8" font-size="13" fill="#111" text-anchor="middle">70</text>
<text x="431.7" y="462.8" font-size="13" fill="#111" text-anchor="middle">60</text>
<text x="502.6" y="462.8" font-size="13" fill="#111" text-anchor="middle">50</text>
<text x="573.4" y="462.8" font-size="13" fill="#111" text-anchor="middle">40</text>
<text x="644.2" y="462.8" font-size="13" fill="#111" text-anchor="middle">30</text>
<text x="715.1" y="462.8" font-size="13" fill="#111" text-anchor="middle">20</text>
<text x="353.4" y="306.8" font-size="13.2" fill="#111" text-anchor="end">50</text>
<text x="353.4" y="377.4" font-size="13.2" fill="#111" text-anchor="end">60</text>
<text x="353.4" y="448" font-size="13.2" fill="#111" text-anchor="end">70</text>
<text x="506.8" y="471.4" font-size="8.5" fill="#111">13</text>
<text x="517.3" y="477.7" font-size="15" fill="#111" textLength="61.4" lengthAdjust="spacingAndGlyphs">C (ppm)</text>
<g transform="translate(330.8,392.5) rotate(-90)">
<text x="0" y="-1.5" font-size="9.5" fill="#111" textLength="10" lengthAdjust="spacingAndGlyphs">13</text>
<text x="9.5" y="0" font-size="14" fill="#111" textLength="63.5" lengthAdjust="spacingAndGlyphs">C (ppm)</text>
</g>
<text x="336.5" y="250.8" font-size="24" font-weight="bold" fill="#111">c</text>
<text x="362.4" y="250.8" font-size="15" font-weight="bold" fill="#2f8ad6" textLength="76.3" lengthAdjust="spacingAndGlyphs">ETR(8-65),</text>
<text x="444.8" y="250.8" font-size="15" font-weight="bold" fill="#e8642a" textLength="73.7" lengthAdjust="spacingAndGlyphs">ETM(8-38)</text></svg></body></html>
